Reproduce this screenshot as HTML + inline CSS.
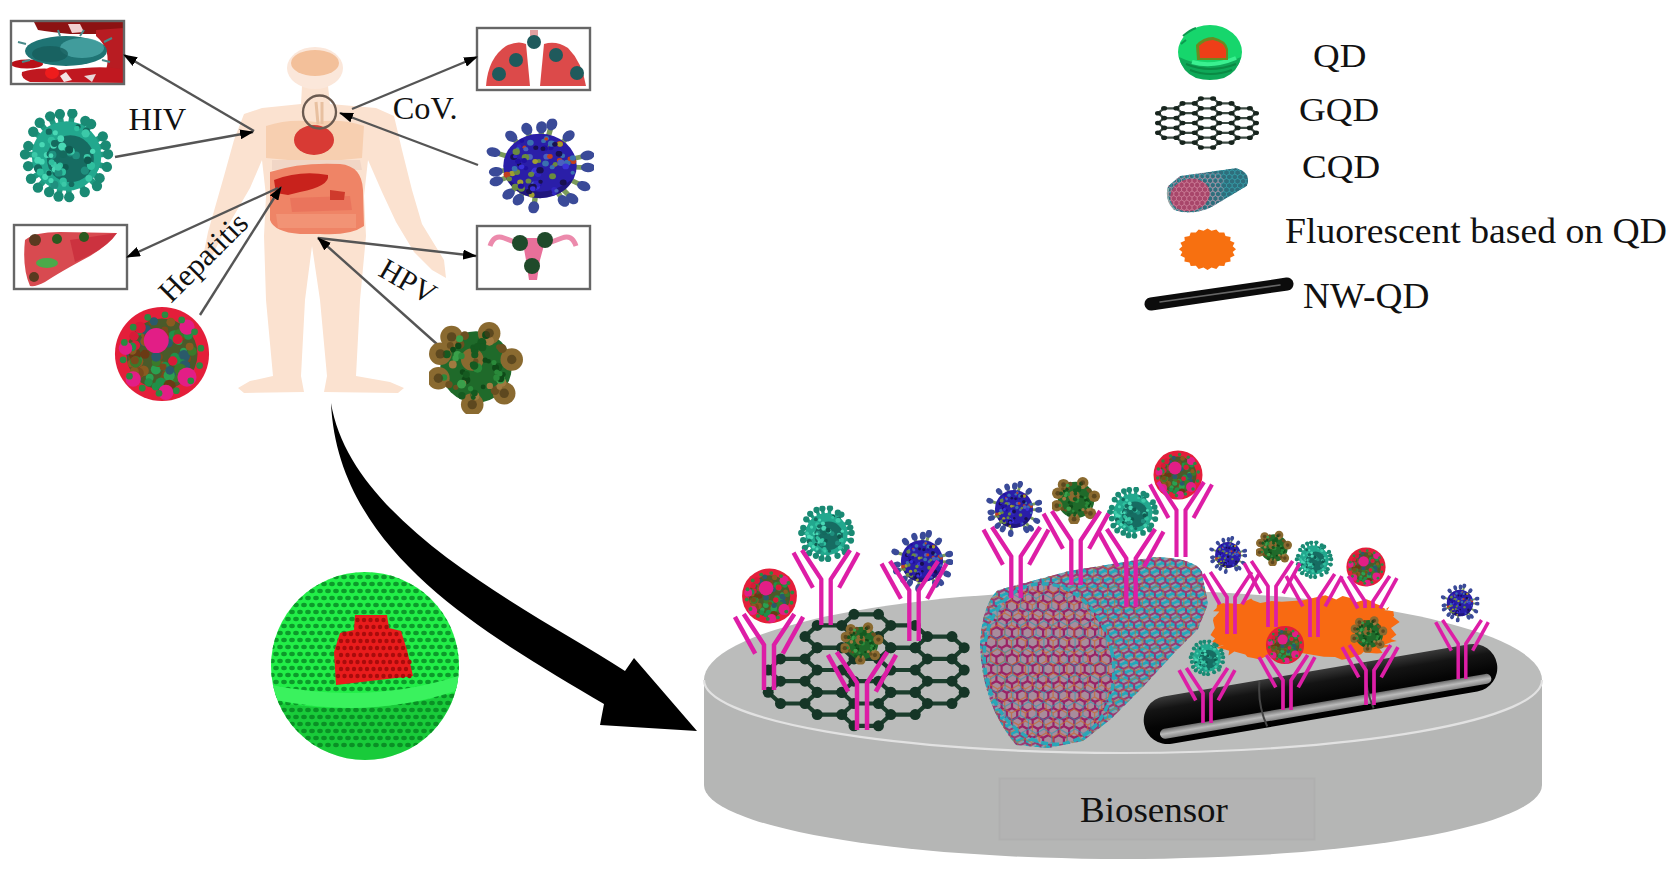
<!DOCTYPE html>
<html><head><meta charset="utf-8"><title>QD Biosensor</title>
<style>html,body{margin:0;padding:0;background:#fff;width:1676px;height:880px;overflow:hidden}svg{display:block}</style>
</head><body><svg width="1676" height="880" viewBox="0 0 1676 880"><defs><symbol id="hiv" viewBox="-50 -50 100 100"><line x1="30.0" y1="-1.3" x2="44.1" y2="-1.9" stroke="#1f9a80" stroke-width="6"/><circle cx="44.1" cy="-1.9" r="5.5" fill="#1a8a74"/><line x1="29.0" y1="7.9" x2="42.9" y2="11.6" stroke="#1f9a80" stroke-width="6"/><circle cx="42.9" cy="11.6" r="5.5" fill="#1a8a74"/><line x1="24.9" y1="16.7" x2="35.1" y2="23.6" stroke="#1f9a80" stroke-width="6"/><circle cx="35.1" cy="23.6" r="5.5" fill="#1a8a74"/><line x1="21.4" y1="21.1" x2="32.3" y2="31.9" stroke="#1f9a80" stroke-width="6"/><circle cx="32.3" cy="31.9" r="5.5" fill="#1a8a74"/><line x1="13.5" y1="26.8" x2="19.3" y2="38.3" stroke="#1f9a80" stroke-width="6"/><circle cx="19.3" cy="38.3" r="5.5" fill="#1a8a74"/><line x1="1.9" y1="29.9" x2="2.8" y2="43.8" stroke="#1f9a80" stroke-width="6"/><circle cx="2.8" cy="43.8" r="5.5" fill="#1a8a74"/><line x1="-5.9" y1="29.4" x2="-8.6" y2="43.1" stroke="#1f9a80" stroke-width="6"/><circle cx="-8.6" cy="43.1" r="5.5" fill="#1a8a74"/><line x1="-13.1" y1="27.0" x2="-18.6" y2="38.3" stroke="#1f9a80" stroke-width="6"/><circle cx="-18.6" cy="38.3" r="5.5" fill="#1a8a74"/><line x1="-20.1" y1="22.2" x2="-30.5" y2="33.7" stroke="#1f9a80" stroke-width="6"/><circle cx="-30.5" cy="33.7" r="5.5" fill="#1a8a74"/><line x1="-25.3" y1="16.1" x2="-37.9" y2="24.2" stroke="#1f9a80" stroke-width="6"/><circle cx="-37.9" cy="24.2" r="5.5" fill="#1a8a74"/><line x1="-29.0" y1="7.7" x2="-40.9" y2="10.8" stroke="#1f9a80" stroke-width="6"/><circle cx="-40.9" cy="10.8" r="5.5" fill="#1a8a74"/><line x1="-30.0" y1="-1.2" x2="-44.3" y2="-1.8" stroke="#1f9a80" stroke-width="6"/><circle cx="-44.3" cy="-1.8" r="5.5" fill="#1a8a74"/><line x1="-29.0" y1="-7.5" x2="-40.8" y2="-10.6" stroke="#1f9a80" stroke-width="6"/><circle cx="-40.8" cy="-10.6" r="5.5" fill="#1a8a74"/><line x1="-24.2" y1="-17.7" x2="-35.5" y2="-25.8" stroke="#1f9a80" stroke-width="6"/><circle cx="-35.5" cy="-25.8" r="5.5" fill="#1a8a74"/><line x1="-18.8" y1="-23.3" x2="-28.6" y2="-35.4" stroke="#1f9a80" stroke-width="6"/><circle cx="-28.6" cy="-35.4" r="5.5" fill="#1a8a74"/><line x1="-11.5" y1="-27.7" x2="-17.5" y2="-42.2" stroke="#1f9a80" stroke-width="6"/><circle cx="-17.5" cy="-42.2" r="5.5" fill="#1a8a74"/><line x1="-4.8" y1="-29.6" x2="-7.2" y2="-44.6" stroke="#1f9a80" stroke-width="6"/><circle cx="-7.2" cy="-44.6" r="5.5" fill="#1a8a74"/><line x1="4.0" y1="-29.7" x2="6.1" y2="-45.3" stroke="#1f9a80" stroke-width="6"/><circle cx="6.1" cy="-45.3" r="5.5" fill="#1a8a74"/><line x1="14.1" y1="-26.5" x2="19.9" y2="-37.4" stroke="#1f9a80" stroke-width="6"/><circle cx="19.9" cy="-37.4" r="5.5" fill="#1a8a74"/><line x1="18.3" y1="-23.8" x2="26.1" y2="-34.0" stroke="#1f9a80" stroke-width="6"/><circle cx="26.1" cy="-34.0" r="5.5" fill="#1a8a74"/><line x1="26.4" y1="-14.3" x2="38.5" y2="-20.8" stroke="#1f9a80" stroke-width="6"/><circle cx="38.5" cy="-20.8" r="5.5" fill="#1a8a74"/><line x1="29.0" y1="-7.9" x2="41.7" y2="-11.3" stroke="#1f9a80" stroke-width="6"/><circle cx="41.7" cy="-11.3" r="5.5" fill="#1a8a74"/><circle r="37" fill="#22a88e"/><circle cx="4" cy="3" r="25" fill="#166c62"/><circle cx="-21.1" cy="-1.0" r="3.2" fill="#49d8b5"/><circle cx="-13.7" cy="9.0" r="3.2" fill="#3cc9a8"/><circle cx="21.0" cy="-26.6" r="3.8" fill="#146a5e"/><circle cx="-6.2" cy="-18.4" r="3.6" fill="#49d8b5"/><circle cx="-26.1" cy="-12.1" r="2.9" fill="#49d8b5"/><circle cx="-1.3" cy="11.9" r="3.5" fill="#0f5a50"/><circle cx="10.1" cy="-0.6" r="4.1" fill="#1f8f7e"/><circle cx="3.8" cy="-2.9" r="3.4" fill="#1f8f7e"/><circle cx="5.0" cy="-5.1" r="3.7" fill="#3cc9a8"/><circle cx="-18.7" cy="18.1" r="3.6" fill="#2fbf9e"/><circle cx="-34.0" cy="-1.2" r="3.1" fill="#3cc9a8"/><circle cx="19.4" cy="15.6" r="4.4" fill="#1f8f7e"/><circle cx="-4.5" cy="16.9" r="3.9" fill="#2fbf9e"/><circle cx="-13.0" cy="30.6" r="4.3" fill="#1f8f7e"/><circle cx="-22.7" cy="22.2" r="3.3" fill="#49d8b5"/><circle cx="-4.6" cy="-9.9" r="4.4" fill="#49d8b5"/><circle cx="-3.6" cy="26.8" r="3.9" fill="#2fbf9e"/><circle cx="-16.0" cy="6.6" r="3.1" fill="#2fbf9e"/><circle cx="21.9" cy="1.6" r="3.7" fill="#3cc9a8"/><circle cx="-18.6" cy="18.3" r="2.8" fill="#0f5a50"/><circle cx="-16.2" cy="-16.7" r="3.9" fill="#2fbf9e"/><circle cx="-13.9" cy="-11.3" r="3.5" fill="#49d8b5"/><circle cx="26.0" cy="10.4" r="4.4" fill="#2fbf9e"/><circle cx="-12.9" cy="-13.4" r="3.7" fill="#146a5e"/><circle cx="-12.5" cy="14.3" r="3.2" fill="#49d8b5"/><circle cx="-2.7" cy="30.0" r="2.7" fill="#3cc9a8"/><circle cx="27.7" cy="-5.0" r="2.8" fill="#49d8b5"/><circle cx="5.2" cy="30.0" r="3.0" fill="#146a5e"/><circle cx="-12.0" cy="-24.7" r="2.7" fill="#49d8b5"/><circle cx="-8.6" cy="17.7" r="4.2" fill="#1f8f7e"/><circle cx="12.2" cy="-31.0" r="2.7" fill="#0f5a50"/><circle cx="-18.8" cy="-25.9" r="3.4" fill="#146a5e"/><circle cx="1.4" cy="-6.1" r="4.4" fill="#2fbf9e"/><circle cx="10.9" cy="-29.2" r="2.9" fill="#2fbf9e"/><circle cx="-16.6" cy="26.1" r="2.7" fill="#49d8b5"/><circle cx="-6.9" cy="10.1" r="3.1" fill="#2fbf9e"/><circle cx="-26.4" cy="6.0" r="3.1" fill="#49d8b5"/><circle cx="-27.5" cy="17.6" r="2.8" fill="#3cc9a8"/><circle cx="-30.7" cy="4.4" r="3.7" fill="#49d8b5"/><circle cx="-30.4" cy="13.3" r="4.4" fill="#146a5e"/><circle cx="22.5" cy="4.6" r="4.0" fill="#0f5a50"/><circle cx="-18.1" cy="-2.2" r="3.2" fill="#146a5e"/><circle cx="20.3" cy="-24.1" r="4.4" fill="#3cc9a8"/><circle cx="2.7" cy="-6.7" r="4.3" fill="#0f5a50"/><circle cx="-15.1" cy="-1.2" r="4.3" fill="#1f8f7e"/><circle cx="-3.5" cy="-1.8" r="4.0" fill="#146a5e"/><circle cx="-16.6" cy="-0.3" r="2.5" fill="#49d8b5"/><circle cx="-28.2" cy="17.0" r="3.7" fill="#2fbf9e"/><circle cx="23.6" cy="23.8" r="3.6" fill="#3cc9a8"/><circle cx="-9.0" cy="12.1" r="3.6" fill="#3cc9a8"/></symbol><symbol id="sars" viewBox="-50 -50 100 100"><line x1="30.0" y1="1.1" x2="44.4" y2="1.6" stroke="#7a9a5a" stroke-width="5"/><ellipse cx="44.4" cy="1.6" rx="6.5" ry="5" fill="#3a4a98" transform="rotate(2 44.4 1.6)"/><line x1="26.6" y1="13.9" x2="40.5" y2="21.1" stroke="#7a9a5a" stroke-width="5"/><ellipse cx="40.5" cy="21.1" rx="6.5" ry="5" fill="#3a4a98" transform="rotate(28 40.5 21.1)"/><line x1="19.6" y1="22.7" x2="29.8" y2="34.4" stroke="#7a9a5a" stroke-width="5"/><ellipse cx="29.8" cy="34.4" rx="6.5" ry="5" fill="#3a4a98" transform="rotate(49 29.8 34.4)"/><line x1="15.3" y1="25.8" x2="21.8" y2="36.8" stroke="#7a9a5a" stroke-width="5"/><ellipse cx="21.8" cy="36.8" rx="6.5" ry="5" fill="#3a4a98" transform="rotate(59 21.8 36.8)"/><line x1="-4.0" y1="29.7" x2="-5.8" y2="43.5" stroke="#7a9a5a" stroke-width="5"/><ellipse cx="-5.8" cy="43.5" rx="6.5" ry="5" fill="#3a4a98" transform="rotate(98 -5.8 43.5)"/><line x1="-14.7" y1="26.1" x2="-20.0" y2="35.4" stroke="#7a9a5a" stroke-width="5"/><ellipse cx="-20.0" cy="35.4" rx="6.5" ry="5" fill="#3a4a98" transform="rotate(119 -20.0 35.4)"/><line x1="-21.0" y1="21.4" x2="-29.1" y2="29.6" stroke="#7a9a5a" stroke-width="5"/><ellipse cx="-29.1" cy="29.6" rx="6.5" ry="5" fill="#3a4a98" transform="rotate(134 -29.1 29.6)"/><line x1="-27.9" y1="11.1" x2="-40.4" y2="16.1" stroke="#7a9a5a" stroke-width="5"/><ellipse cx="-40.4" cy="16.1" rx="6.5" ry="5" fill="#3a4a98" transform="rotate(158 -40.4 16.1)"/><line x1="-29.7" y1="4.4" x2="-40.9" y2="6.0" stroke="#7a9a5a" stroke-width="5"/><ellipse cx="-40.9" cy="6.0" rx="6.5" ry="5" fill="#3a4a98" transform="rotate(172 -40.9 6.0)"/><line x1="-28.4" y1="-9.6" x2="-43.1" y2="-14.6" stroke="#7a9a5a" stroke-width="5"/><ellipse cx="-43.1" cy="-14.6" rx="6.5" ry="5" fill="#3a4a98" transform="rotate(199 -43.1 -14.6)"/><line x1="-19.5" y1="-22.8" x2="-26.6" y2="-31.2" stroke="#7a9a5a" stroke-width="5"/><ellipse cx="-26.6" cy="-31.2" rx="6.5" ry="5" fill="#3a4a98" transform="rotate(230 -26.6 -31.2)"/><line x1="-9.0" y1="-28.6" x2="-12.2" y2="-39.0" stroke="#7a9a5a" stroke-width="5"/><ellipse cx="-12.2" cy="-39.0" rx="6.5" ry="5" fill="#3a4a98" transform="rotate(253 -12.2 -39.0)"/><line x1="1.1" y1="-30.0" x2="1.4" y2="-40.7" stroke="#7a9a5a" stroke-width="5"/><ellipse cx="1.4" cy="-40.7" rx="6.5" ry="5" fill="#3a4a98" transform="rotate(272 1.4 -40.7)"/><line x1="7.2" y1="-29.1" x2="10.9" y2="-43.9" stroke="#7a9a5a" stroke-width="5"/><ellipse cx="10.9" cy="-43.9" rx="6.5" ry="5" fill="#3a4a98" transform="rotate(284 10.9 -43.9)"/><line x1="19.3" y1="-23.0" x2="26.5" y2="-31.6" stroke="#7a9a5a" stroke-width="5"/><ellipse cx="26.5" cy="-31.6" rx="6.5" ry="5" fill="#3a4a98" transform="rotate(310 26.5 -31.6)"/><line x1="29.1" y1="-7.4" x2="43.9" y2="-11.1" stroke="#7a9a5a" stroke-width="5"/><ellipse cx="43.9" cy="-11.1" rx="6.5" ry="5" fill="#3a4a98" transform="rotate(346 43.9 -11.1)"/><circle r="34" fill="#2a1ea8"/><path d="M-30,14 Q0,40 30,14 Q26,30 0,34 Q-24,32 -30,14 Z" fill="#1a1060" opacity="0.6"/><circle cx="-7.7" cy="30.4" r="2.7" fill="#a0a030"/><circle cx="13.1" cy="28.6" r="2.1" fill="#3024c0"/><circle cx="-5.8" cy="18.3" r="2.1" fill="#4a60c0"/><circle cx="-1.6" cy="18.4" r="3.2" fill="#2010a0"/><circle cx="-22.2" cy="-15.3" r="1.9" fill="#3a70b0"/><circle cx="9.3" cy="-20.2" r="2.3" fill="#6a8a40"/><circle cx="-13.2" cy="2.3" r="2.2" fill="#2010a0"/><circle cx="18.2" cy="-6.0" r="2.5" fill="#c04020"/><circle cx="4.5" cy="-18.8" r="2.8" fill="#2010a0"/><circle cx="-25.7" cy="7.9" r="2.9" fill="#a0a030"/><circle cx="11.6" cy="10.8" r="3.2" fill="#6a8a40"/><circle cx="-10.7" cy="15.8" r="2.7" fill="#6a8a40"/><circle cx="21.5" cy="17.4" r="3.2" fill="#181050"/><circle cx="30.3" cy="7.1" r="2.0" fill="#3a70b0"/><circle cx="-19.2" cy="-1.6" r="2.1" fill="#181050"/><circle cx="21.0" cy="-10.8" r="2.3" fill="#3a70b0"/><circle cx="-9.9" cy="26.8" r="2.9" fill="#181050"/><circle cx="12.9" cy="-0.3" r="1.9" fill="#c04020"/><circle cx="5.1" cy="-2.6" r="3.1" fill="#3a70b0"/><circle cx="10.0" cy="-19.2" r="2.5" fill="#2010a0"/><circle cx="25.3" cy="-3.4" r="3.2" fill="#3a70b0"/><circle cx="6.1" cy="-9.8" r="3.0" fill="#4a60c0"/><circle cx="-19.4" cy="-20.8" r="2.0" fill="#3024c0"/><circle cx="-5.4" cy="5.6" r="2.5" fill="#4a60c0"/><circle cx="-30.6" cy="9.3" r="3.2" fill="#c04020"/><circle cx="-21.4" cy="6.4" r="3.0" fill="#6a8a40"/><circle cx="-3.3" cy="21.7" r="3.3" fill="#3a30d8"/><circle cx="-22.8" cy="22.2" r="3.4" fill="#6a8a40"/><circle cx="9.2" cy="-10.0" r="2.6" fill="#c04020"/><circle cx="6.0" cy="-29.2" r="2.4" fill="#3a70b0"/><circle cx="-8.9" cy="-24.5" r="3.1" fill="#3a70b0"/><circle cx="-24.4" cy="-9.5" r="3.2" fill="#181050"/><circle cx="3.3" cy="-26.4" r="2.3" fill="#3a70b0"/><circle cx="-14.4" cy="-19.7" r="1.8" fill="#c04020"/><circle cx="2.7" cy="-18.1" r="2.3" fill="#181050"/><circle cx="10.5" cy="-23.5" r="3.2" fill="#3a70b0"/><circle cx="-2.8" cy="18.6" r="3.4" fill="#3024c0"/><circle cx="-17.3" cy="23.8" r="3.3" fill="#6a8a40"/><circle cx="30.9" cy="-4.7" r="2.7" fill="#c04020"/><circle cx="14.2" cy="-1.8" r="2.4" fill="#6a8a40"/><circle cx="-1.8" cy="8.8" r="2.9" fill="#3024c0"/><circle cx="13.3" cy="24.9" r="2.8" fill="#3024c0"/><circle cx="-7.7" cy="22.5" r="3.3" fill="#181050"/><circle cx="-1.0" cy="-5.2" r="2.1" fill="#6a8a40"/><circle cx="-9.7" cy="-9.6" r="3.1" fill="#4a60c0"/><circle cx="-4.5" cy="-4.8" r="2.6" fill="#a0a030"/><circle cx="15.3" cy="26.1" r="2.0" fill="#4a60c0"/><circle cx="-23.6" cy="2.6" r="2.5" fill="#3a70b0"/><circle cx="-18.3" cy="17.1" r="2.8" fill="#a0a030"/><circle cx="-3.9" cy="-19.2" r="2.4" fill="#181050"/><circle cx="18.4" cy="-23.4" r="3.0" fill="#c04020"/><circle cx="-4.3" cy="4.3" r="2.8" fill="#3a30d8"/><circle cx="-6.4" cy="22.0" r="3.4" fill="#181050"/><circle cx="28.0" cy="-7.5" r="2.5" fill="#c04020"/><circle cx="-8.2" cy="8.8" r="2.8" fill="#6a8a40"/><circle cx="30.4" cy="-8.4" r="2.8" fill="#3a70b0"/><circle cx="11.3" cy="-23.5" r="2.4" fill="#3a70b0"/><circle cx="-23.0" cy="-10.1" r="2.0" fill="#3024c0"/><circle cx="-28.5" cy="13.6" r="2.6" fill="#6a8a40"/><circle cx="19.4" cy="-3.4" r="3.4" fill="#4a60c0"/><circle cx="-13.4" cy="-9.2" r="3.5" fill="#6a8a40"/><circle cx="-0.0" cy="4.5" r="3.4" fill="#181050"/><circle cx="-17.1" cy="0.9" r="2.6" fill="#3a30d8"/><circle cx="-16.8" cy="-26.5" r="2.2" fill="#2010a0"/><circle cx="5.8" cy="-28.5" r="1.8" fill="#c04020"/><circle cx="-14.7" cy="-5.8" r="2.6" fill="#2010a0"/><circle cx="0.5" cy="16.6" r="2.1" fill="#181050"/><circle cx="-6.7" cy="24.0" r="2.6" fill="#3a30d8"/><circle cx="11.3" cy="1.2" r="2.3" fill="#3a70b0"/><circle cx="-20.7" cy="-17.9" r="1.8" fill="#3a70b0"/><circle cx="-17.7" cy="21.2" r="2.8" fill="#2010a0"/><circle cx="23.8" cy="0.4" r="3.0" fill="#3a30d8"/><circle cx="18.0" cy="-15.3" r="1.8" fill="#3024c0"/><circle cx="-22.0" cy="-14.9" r="3.4" fill="#6a8a40"/><circle cx="18.5" cy="-22.8" r="2.6" fill="#a0a030"/><circle cx="17.6" cy="-12.9" r="3.1" fill="#181050"/><circle cx="13.8" cy="-22.8" r="2.5" fill="#181050"/><circle cx="-13.1" cy="-17.7" r="2.3" fill="#4a60c0"/><circle cx="-23.5" cy="3.2" r="2.6" fill="#3a70b0"/><circle cx="-20.3" cy="-4.9" r="2.7" fill="#2010a0"/></symbol><symbol id="hep" viewBox="-50 -50 100 100"><circle r="49" fill="#e41e3a"/><circle r="37" fill="#4a5a2a"/><circle cx="-25.7" cy="7.9" r="6.3" fill="#8a5a20"/><circle cx="-31.8" cy="9.9" r="4.1" fill="#8a5a20"/><circle cx="-22.0" cy="-23.4" r="3.8" fill="#6a3a14"/><circle cx="16.6" cy="20.5" r="6.2" fill="#1f9048"/><circle cx="-18.7" cy="-12.8" r="4.9" fill="#2a5a6a"/><circle cx="-23.5" cy="-22.9" r="3.7" fill="#1f9048"/><circle cx="6.5" cy="16.5" r="3.6" fill="#8a5a20"/><circle cx="-12.8" cy="24.6" r="4.1" fill="#2aa050"/><circle cx="-16.2" cy="-19.6" r="5.5" fill="#8a5a20"/><circle cx="-12.9" cy="-19.0" r="5.2" fill="#7a4a1c"/><circle cx="-5.3" cy="-19.5" r="4.2" fill="#6a3a14"/><circle cx="26.5" cy="5.0" r="3.8" fill="#7a4a1c"/><circle cx="12.8" cy="-18.4" r="6.4" fill="#1f9048"/><circle cx="7.9" cy="33.8" r="3.7" fill="#3a7a2a"/><circle cx="22.5" cy="-2.8" r="3.7" fill="#2aa050"/><circle cx="3.3" cy="-18.4" r="3.8" fill="#d81a38"/><circle cx="22.9" cy="2.2" r="6.3" fill="#2a5a6a"/><circle cx="0.3" cy="11.4" r="3.7" fill="#8a5a20"/><circle cx="11.8" cy="24.2" r="4.8" fill="#2aa050"/><circle cx="31.4" cy="-2.9" r="4.8" fill="#3a7a2a"/><circle cx="17.4" cy="15.6" r="4.1" fill="#6a3a14"/><circle cx="23.4" cy="-26.8" r="5.3" fill="#1f9048"/><circle cx="5.5" cy="21.9" r="6.1" fill="#7a4a1c"/><circle cx="13.3" cy="3.6" r="4.8" fill="#1f9048"/><circle cx="2.9" cy="-20.4" r="4.4" fill="#7a4a1c"/><circle cx="14.7" cy="7.4" r="5.4" fill="#1f9048"/><circle cx="-17.7" cy="-13.0" r="4.9" fill="#8a5a20"/><circle cx="6.6" cy="-11.5" r="4.7" fill="#2a5a6a"/><circle cx="-6.4" cy="16.0" r="5.3" fill="#2aa050"/><circle cx="15.5" cy="24.0" r="5.2" fill="#3a7a2a"/><circle cx="20.6" cy="-18.9" r="4.8" fill="#7a4a1c"/><circle cx="20.0" cy="16.3" r="4.3" fill="#3a7a2a"/><circle cx="-1.4" cy="32.6" r="5.3" fill="#6a3a14"/><circle cx="-34.4" cy="-4.4" r="6.4" fill="#2a5a6a"/><circle cx="3.6" cy="26.7" r="6.1" fill="#7a4a1c"/><circle cx="-6.5" cy="33.9" r="4.1" fill="#1f9048"/><circle cx="20.9" cy="9.7" r="4.2" fill="#1f9048"/><circle cx="9.8" cy="19.6" r="5.2" fill="#2a5a6a"/><circle cx="11.2" cy="7.3" r="4.9" fill="#d81a38"/><circle cx="-16.5" cy="-25.0" r="5.3" fill="#2a5a6a"/><circle cx="-29.2" cy="-18.5" r="4.9" fill="#d81a38"/><circle cx="-10.7" cy="-33.7" r="3.6" fill="#7a4a1c"/><circle cx="-30.6" cy="3.4" r="4.5" fill="#7a4a1c"/><circle cx="23.7" cy="12.1" r="5.7" fill="#2a5a6a"/><circle cx="9.2" cy="-33.2" r="4.6" fill="#8a5a20"/><circle cx="27.3" cy="-19.6" r="4.8" fill="#1f9048"/><circle cx="17.8" cy="-20.6" r="5.4" fill="#3a7a2a"/><circle cx="-2.9" cy="2.8" r="3.7" fill="#7a4a1c"/><circle cx="-23.0" cy="-27.6" r="6.1" fill="#d81a38"/><circle cx="-23.6" cy="19.9" r="5.2" fill="#8a5a20"/><circle cx="-25.8" cy="6.2" r="5.1" fill="#1f9048"/><circle cx="-3.9" cy="9.9" r="3.6" fill="#7a4a1c"/><circle cx="-28.2" cy="0.5" r="6.3" fill="#6a3a14"/><circle cx="17.4" cy="-13.2" r="3.9" fill="#2aa050"/><circle cx="-31.0" cy="-3.6" r="4.5" fill="#8a5a20"/><circle cx="-17.7" cy="0.2" r="4.7" fill="#6a3a14"/><circle cx="7.5" cy="22.4" r="5.9" fill="#2aa050"/><circle cx="16.3" cy="-15.3" r="5.2" fill="#d81a38"/><circle cx="3.3" cy="12.8" r="4.6" fill="#1f9048"/><circle cx="-8.5" cy="-34.1" r="4.3" fill="#2a5a6a"/><circle cx="18.8" cy="16.1" r="6.3" fill="#3a7a2a"/><circle cx="-19.2" cy="17.5" r="5.5" fill="#8a5a20"/><circle cx="-14.0" cy="29.6" r="4.3" fill="#1f9048"/><circle cx="-8.3" cy="-17.2" r="4.6" fill="#1f9048"/><circle cx="-14.5" cy="-17.7" r="4.1" fill="#6a3a14"/><circle cx="1.1" cy="13.5" r="3.6" fill="#7a4a1c"/><circle cx="-27.0" cy="9.4" r="5.5" fill="#d81a38"/><circle cx="28.8" cy="-7.7" r="4.1" fill="#8a5a20"/><circle cx="-1.2" cy="30.4" r="5.8" fill="#1f9048"/><circle cx="8.1" cy="17.0" r="4.5" fill="#2a5a6a"/><circle cx="-25.1" cy="19.9" r="6.2" fill="#7a4a1c"/><circle cx="-28.8" cy="18.1" r="4.7" fill="#8a5a20"/><circle cx="-27.3" cy="8.2" r="6.2" fill="#3a7a2a"/><circle cx="-27.7" cy="-9.0" r="5.0" fill="#d81a38"/><circle cx="-28.3" cy="6.6" r="4.1" fill="#7a4a1c"/><circle cx="7.8" cy="33.2" r="6.4" fill="#6a3a14"/><circle cx="-31.2" cy="-7.4" r="4.5" fill="#1f9048"/><circle cx="-6.0" cy="8.4" r="4.8" fill="#3a7a2a"/><circle cx="2.9" cy="-25.0" r="3.6" fill="#7a4a1c"/><circle cx="-6.1" cy="2.9" r="5.1" fill="#2a5a6a"/><circle cx="-6" cy="-14" r="13" fill="#e21e86"/><circle cx="26" cy="24" r="10" fill="#e21e86"/><circle cx="-30" cy="26" r="8" fill="#e21e86"/><circle cx="26" cy="-28" r="8" fill="#e21e86"/><circle cx="-38" cy="-6" r="7" fill="#e21e86"/><circle cx="4" cy="40" r="8" fill="#e21e86"/><circle cx="39.2" cy="12.1" r="3.5" fill="#2a8a40"/><circle cx="30.0" cy="27.9" r="3.5" fill="#2a8a40"/><circle cx="14.9" cy="38.2" r="3.5" fill="#2a8a40"/><circle cx="-3.1" cy="40.9" r="3.5" fill="#2a8a40"/><circle cx="-20.5" cy="35.5" r="3.5" fill="#2a8a40"/><circle cx="-33.9" cy="23.1" r="3.5" fill="#2a8a40"/><circle cx="-40.5" cy="6.1" r="3.5" fill="#2a8a40"/><circle cx="-39.2" cy="-12.1" r="3.5" fill="#2a8a40"/><circle cx="-30.0" cy="-27.9" r="3.5" fill="#2a8a40"/><circle cx="-14.9" cy="-38.2" r="3.5" fill="#2a8a40"/><circle cx="3.1" cy="-40.9" r="3.5" fill="#2a8a40"/><circle cx="20.5" cy="-35.5" r="3.5" fill="#2a8a40"/><circle cx="33.9" cy="-23.1" r="3.5" fill="#2a8a40"/><circle cx="40.5" cy="-6.1" r="3.5" fill="#2a8a40"/></symbol><symbol id="hpv" viewBox="-50 -50 100 100"><circle r="38" fill="#1f6a2a"/><circle cx="-26" cy="-32" r="12" fill="#8a6a30"/><circle cx="14" cy="-36" r="12" fill="#8a6a30"/><circle cx="38" cy="-8" r="12" fill="#8a6a30"/><circle cx="30" cy="28" r="12" fill="#8a6a30"/><circle cx="-4" cy="40" r="12" fill="#8a6a30"/><circle cx="-40" cy="12" r="12" fill="#8a6a30"/><circle cx="-38" cy="-14" r="12" fill="#8a6a30"/><circle cx="-4" cy="-8" r="12" fill="#8a6a30"/><circle cx="-1.7" cy="29.8" r="4.2" fill="#155a20"/><circle cx="-17.0" cy="-24.0" r="4.7" fill="#6a5020"/><circle cx="-1.3" cy="-12.9" r="3.8" fill="#155a20"/><circle cx="-0.2" cy="-6.2" r="2.8" fill="#6a5020"/><circle cx="-3.4" cy="-2.7" r="3.2" fill="#155a20"/><circle cx="27.6" cy="16.3" r="4.7" fill="#a07a40"/><circle cx="14.3" cy="-27.6" r="4.9" fill="#a07a40"/><circle cx="-10.7" cy="13.7" r="4.7" fill="#0f4a18"/><circle cx="-21.7" cy="-9.3" r="3.4" fill="#3aa04a"/><circle cx="-18.8" cy="-22.3" r="3.4" fill="#0f4a18"/><circle cx="10.7" cy="-34.1" r="4.2" fill="#0f4a18"/><circle cx="-27.4" cy="-23.0" r="3.6" fill="#6a5020"/><circle cx="-14.2" cy="5.3" r="3.0" fill="#0f4a18"/><circle cx="-13.6" cy="17.2" r="3.2" fill="#a07a40"/><circle cx="-10.3" cy="7.9" r="3.7" fill="#155a20"/><circle cx="-31.1" cy="-13.5" r="4.3" fill="#155a20"/><circle cx="26.0" cy="12.9" r="4.9" fill="#3aa04a"/><circle cx="23.4" cy="0.3" r="4.7" fill="#155a20"/><circle cx="20.3" cy="25.1" r="4.6" fill="#6a5020"/><circle cx="-0.7" cy="30.8" r="4.3" fill="#a07a40"/><circle cx="24.4" cy="-21.2" r="3.0" fill="#6a5020"/><circle cx="-21.5" cy="21.6" r="2.8" fill="#6a5020"/><circle cx="-24.4" cy="-18.5" r="3.0" fill="#0f4a18"/><circle cx="29.1" cy="8.0" r="2.6" fill="#0f4a18"/><circle cx="-2.9" cy="-20.8" r="3.2" fill="#155a20"/><circle cx="6.2" cy="-26.1" r="4.8" fill="#155a20"/><circle cx="26.2" cy="12.2" r="3.9" fill="#0f4a18"/><circle cx="-12.0" cy="-33.4" r="4.6" fill="#6a5020"/><circle cx="1.6" cy="1.1" r="5.0" fill="#2a8a3a"/><circle cx="-28.7" cy="18.7" r="3.9" fill="#6a5020"/><circle cx="21.8" cy="11.5" r="3.4" fill="#2a8a3a"/><circle cx="20.8" cy="0.7" r="3.7" fill="#0f4a18"/><circle cx="-24.7" cy="-2.6" r="4.2" fill="#a07a40"/><circle cx="6.7" cy="-21.0" r="4.3" fill="#155a20"/><circle cx="-1.3" cy="-18.2" r="4.2" fill="#155a20"/><circle cx="-1.5" cy="27.6" r="3.4" fill="#155a20"/><circle cx="-19.7" cy="-12.9" r="4.1" fill="#3aa04a"/><circle cx="22.1" cy="5.4" r="2.7" fill="#2a8a3a"/><circle cx="-1.9" cy="-1.4" r="4.4" fill="#155a20"/><circle cx="-34.1" cy="11.2" r="3.5" fill="#2a8a3a"/><circle cx="-5.8" cy="23.0" r="2.8" fill="#2a8a3a"/><circle cx="24.9" cy="21.1" r="3.0" fill="#a07a40"/><circle cx="-15.5" cy="-11.7" r="3.4" fill="#2a8a3a"/><circle cx="-15.4" cy="18.3" r="4.7" fill="#3aa04a"/><circle cx="25.4" cy="7.1" r="2.8" fill="#2a8a3a"/><circle cx="-15.0" cy="30.5" r="3.9" fill="#155a20"/><circle cx="27.8" cy="-19.6" r="4.8" fill="#6a5020"/><circle cx="14.7" cy="20.1" r="3.4" fill="#a07a40"/><circle cx="-2.9" cy="32.5" r="2.6" fill="#155a20"/><circle cx="-17.4" cy="-30.1" r="3.8" fill="#3aa04a"/><circle cx="7.6" cy="21.2" r="2.6" fill="#0f4a18"/><circle cx="9.8" cy="-7.3" r="2.8" fill="#0f4a18"/><circle cx="1.4" cy="-21.9" r="3.5" fill="#155a20"/><circle cx="19.1" cy="-4.7" r="2.7" fill="#2a8a3a"/><circle cx="13.4" cy="-6.1" r="2.5" fill="#0f4a18"/><circle cx="-26" cy="-32" r="5" fill="#4a3a18" opacity="0.7"/><circle cx="14" cy="-36" r="5" fill="#4a3a18" opacity="0.7"/><circle cx="38" cy="-8" r="5" fill="#4a3a18" opacity="0.7"/><circle cx="30" cy="28" r="5" fill="#4a3a18" opacity="0.7"/><circle cx="-4" cy="40" r="5" fill="#4a3a18" opacity="0.7"/><circle cx="-40" cy="12" r="5" fill="#4a3a18" opacity="0.7"/><circle cx="-38" cy="-14" r="5" fill="#4a3a18" opacity="0.7"/></symbol><marker id="ah" viewBox="0 0 14 10" refX="13" refY="5" markerWidth="14" markerHeight="10" markerUnits="userSpaceOnUse" orient="auto"><path d="M0,0 L14,5 L0,10 z" fill="#000"/></marker><linearGradient id="nwg" x1="0" y1="0" x2="0" y2="1"><stop offset="0" stop-color="#3a3a3a"/><stop offset="0.25" stop-color="#141414"/><stop offset="0.6" stop-color="#050505"/><stop offset="1" stop-color="#000"/></linearGradient><linearGradient id="nwr" x1="0" y1="0" x2="0" y2="1"><stop offset="0" stop-color="#707070"/><stop offset="0.5" stop-color="#c4c4c4"/><stop offset="1" stop-color="#8a8a8a"/></linearGradient></defs><rect width="1676" height="880" fill="#fff"/><g id="body">
 <path fill="#fbe2d0" d="M302,86 L301,104 L262,108 L244,114 L234,140 L224,176 L216,204 L208,232 L204,252 L212,256 L222,236 L236,212 L250,188 L262,160 L266,196 L264,236 L266,300 L273,376 L250,381 L238,388 L244,393 L304,392 L301,376 L305,300 L312,246 L320,300 L327,376 L324,392 L398,393 L404,388 L390,382 L356,376 L360,300 L366,236 L364,196 L368,160 L382,192 L396,222 L414,252 L432,270 L446,278 L444,260 L422,224 L412,190 L402,150 L394,116 L376,108 L330,104 L328,86 Z"/>
 <ellipse cx="315" cy="68" rx="28" ry="21" fill="#fbe7da"/>
 <ellipse cx="315" cy="63" rx="24" ry="13" fill="#f3c09a"/>
 <path fill="#f7cfb0" d="M266,126 Q290,118 316,122 Q342,118 364,126 L362,158 Q316,164 266,158 Z"/>
 <path fill="#f1d6c6" d="M272,160 L360,160 L362,170 L272,170 Z"/>
 <ellipse cx="314" cy="140" rx="20" ry="15" fill="#d83a34"/>
 <path fill="#ef8466" d="M270,172 Q300,162 340,164 Q362,166 363,190 L364,226 Q350,236 320,234 L300,234 Q274,232 270,220 Z"/>
 <path fill="#e9705a" d="M290,198 L350,196 L352,210 L292,212 Z" opacity="0.8"/>
 <path fill="#f39a7c" d="M276,214 L356,214 L356,228 L278,228 Z" opacity="0.7"/>
 <path fill="#c8221c" d="M274,180 Q300,170 328,175 Q330,186 300,192 L288,195 L276,193 Z"/>
 <path fill="#cf3a2c" d="M330,190 L345,192 L344,200 L330,200 Z"/>
 <circle cx="319.5" cy="112" r="16.5" fill="none" stroke="#6a5a50" stroke-width="2.3"/>
 <path d="M316,102 L318,124 M322,102 L322,124" stroke="#e8c0a0" stroke-width="3"/>
</g><g>
<path fill="#8c1212" d="M34,22 L124,22 L124,36 Q110,32 96,34 L70,34 Q50,32 38,30 Z"/>
<path fill="#b81c22" d="M96,30 L124,28 L124,72 L106,70 Q112,50 96,36 Z"/>
<path fill="#f2d0d0" d="M68,24 L80,24 L84,32 L72,33 Z"/>
<ellipse cx="27" cy="64" rx="16" ry="4.5" fill="#b81018"/>
<path fill="#c01820" d="M22,72 Q40,66 60,70 L84,68 Q110,66 124,70 L124,83 L30,82 Q20,78 22,72 Z"/>
<ellipse cx="52" cy="73" rx="7" ry="6" fill="#ee1c1c"/>
<path fill="#f4e4e4" d="M60,76 L66,72 L72,80 L64,82 Z"/>
<path fill="#e8d8d8" d="M84,76 L96,74 L92,82 Z"/>
<ellipse cx="66" cy="51" rx="41" ry="15" fill="#1f7474"/>
<ellipse cx="82" cy="48" rx="22" ry="10" fill="#4aa6a6" opacity="0.8"/>
<ellipse cx="50" cy="54" rx="18" ry="8" fill="#175e5c" opacity="0.8"/>
<path d="M26,44 L18,42 M30,60 L22,62 M104,42 L112,38 M102,60 L110,62 M60,36 L58,30 M80,36 L84,30" stroke="#4a8a8a" stroke-width="2"/>
<rect x="11" y="21" width="113" height="63" fill="none" stroke="#666" stroke-width="2.4"/></g><g>
<path fill="#dc4a4a" d="M486,86 Q488,58 506,46 Q518,40 526,44 L530,86 Z"/>
<path fill="#dc4a4a" d="M540,86 L544,44 Q556,40 568,48 Q582,62 586,86 Z"/>
<rect x="530" y="30" width="8" height="16" fill="#e2a0a0"/>
<circle cx="534" cy="42" r="7" fill="#1f5a5c"/>
<circle cx="516" cy="60" r="7" fill="#1f5a5c"/>
<circle cx="499" cy="74" r="7" fill="#1f5a5c"/>
<circle cx="556" cy="55" r="7" fill="#1f5a5c"/>
<circle cx="577" cy="73" r="7" fill="#1f5a5c"/>
<rect x="477" y="28" width="113" height="62" fill="none" stroke="#666" stroke-width="2.4"/></g><g>
<path fill="#d84a50" d="M25,240 Q34,232 60,232 L117,233 Q110,244 90,256 Q60,272 45,282 Q36,287 30,286 Q22,268 25,240 Z"/>
<path fill="#c82838" d="M70,240 L117,233 Q105,250 75,262 Z" opacity="0.7"/>
<circle cx="35" cy="240" r="6" fill="#5a3a20"/>
<circle cx="57" cy="239" r="5" fill="#2a5a20"/>
<circle cx="84" cy="237" r="5" fill="#2a5a20"/>
<ellipse cx="47" cy="263" rx="11" ry="5" fill="#4aaa4a"/>
<circle cx="34" cy="277" r="5" fill="#5a3a20"/>
<rect x="14" y="225" width="113" height="64" fill="none" stroke="#666" stroke-width="2.4"/></g><g>
<path d="M490,246 Q494,234 504,238 L520,244" fill="none" stroke="#ec8aac" stroke-width="5"/>
<path d="M576,246 Q572,234 562,238 L546,244" fill="none" stroke="#ec8aac" stroke-width="5"/>
<path fill="#e8709a" d="M522,238 L546,238 L540,260 L537,280 L529,280 L526,260 Z"/>
<circle cx="520" cy="243" r="8" fill="#1f4a2a"/>
<circle cx="545" cy="240" r="8" fill="#1f4a2a"/>
<circle cx="532" cy="266" r="8" fill="#1f4a2a"/>
<rect x="477" y="226" width="113" height="63" fill="none" stroke="#666" stroke-width="2.4"/></g><line x1="254" y1="131" x2="124" y2="55" stroke="#555" stroke-width="2.4" marker-end="url(#ah)"/><line x1="115" y1="157" x2="253" y2="132" stroke="#555" stroke-width="2.4" marker-end="url(#ah)"/><line x1="352" y1="109" x2="477" y2="57" stroke="#555" stroke-width="2.4" marker-end="url(#ah)"/><line x1="478" y1="165" x2="340" y2="113" stroke="#555" stroke-width="2.4" marker-end="url(#ah)"/><line x1="278" y1="188" x2="127" y2="257" stroke="#555" stroke-width="2.4" marker-end="url(#ah)"/><line x1="200" y1="315" x2="281" y2="187" stroke="#555" stroke-width="2.4" marker-end="url(#ah)"/><line x1="318" y1="238" x2="476" y2="256" stroke="#555" stroke-width="2.4" marker-end="url(#ah)"/><line x1="438" y1="345" x2="318" y2="238" stroke="#555" stroke-width="2.4" marker-end="url(#ah)"/><use href="#hiv" x="19.6" y="109.0" width="94.0" height="94.0"/><g transform="translate(540,166) scale(1,0.88)"><use href="#sars" x="-54.0" y="-54.0" width="108.0" height="108.0"/></g><use href="#hep" x="114.0" y="306.0" width="96.0" height="96.0"/><use href="#hpv" x="429.0" y="320.0" width="94.0" height="94.0"/><text x="128.5" y="129.5" font-size="32.5" font-family="Liberation Serif" fill="#111">HIV</text><text x="392.7" y="119.4" font-size="32.3" font-family="Liberation Serif" fill="#111">CoV.</text><text x="0" y="0" font-size="31" font-family="Liberation Serif" fill="#111" transform="translate(171,304) rotate(-45)">Hepatitis</text><text x="0" y="0" font-size="30" font-family="Liberation Serif" fill="#111" transform="translate(377,275) rotate(30)">HPV</text><ellipse cx="1210" cy="52" rx="32" ry="27" fill="#16d66c"/><path d="M1179,57 Q1210,72 1241,57 Q1238,72 1224,78 Q1210,82 1196,78 Q1182,72 1179,57 Z" fill="#0fa858"/><path d="M1186,64 Q1210,74 1236,64 M1190,70 Q1210,78 1232,70" stroke="#0a8a44" stroke-width="2" fill="none"/><path d="M1183,36 Q1190,30 1196,28 M1181,44 L1186,40" stroke="#0c9a50" stroke-width="2" fill="none"/><path d="M1192,62 Q1212,68 1236,58" stroke="#3af090" stroke-width="4" fill="none"/><path fill="#6a8a20" d="M1197,60 L1196,45 Q1203,37 1213,37 Q1226,40 1228,49 L1228,60 Z"/><path fill="#ee3e18" d="M1200,58 L1199,46 Q1205,40 1213,40 Q1224,42 1226,50 L1226,58 Z"/><text x="0" y="0" font-size="37" font-family="Liberation Serif" fill="#111" transform="translate(1313,66.5) scale(1,0.93)">QD</text><text x="0" y="0" font-size="37" font-family="Liberation Serif" fill="#111" transform="translate(1299,120.5) scale(1,0.93)">GQD</text><text x="0" y="0" font-size="37" font-family="Liberation Serif" fill="#111" transform="translate(1302,177.5) scale(1,0.93)">CQD</text><text x="0" y="0" font-size="37.7" font-family="Liberation Serif" fill="#111" transform="translate(1285,242.6) scale(1,0.93)">Fluorescent based on QD</text><text x="0" y="0" font-size="37.3" font-family="Liberation Serif" fill="#111" transform="translate(1303,308.3) scale(1,0.95)">NW-QD</text><path d="M1158.0,113.2L1164.12,108.3M1158.0,113.2L1164.12,118.1M1158.0,123.0L1164.12,118.1M1158.0,123.0L1164.12,127.9M1158.0,132.8L1164.12,127.9M1158.0,132.8L1164.12,137.7M1164.12,108.3L1176.38,108.3M1164.12,118.1L1176.38,118.1M1164.12,127.9L1176.38,127.9M1164.12,137.7L1176.38,137.7M1176.38,108.3L1182.5,103.4M1176.38,108.3L1182.5,113.2M1176.38,118.1L1182.5,113.2M1176.38,118.1L1182.5,123.0M1176.38,127.9L1182.5,123.0M1176.38,127.9L1182.5,132.8M1176.38,137.7L1182.5,132.8M1176.38,137.7L1182.5,142.6M1182.5,103.4L1194.75,103.4M1182.5,113.2L1194.75,113.2M1182.5,123.0L1194.75,123.0M1182.5,132.8L1194.75,132.8M1182.5,142.6L1194.75,142.6M1194.75,103.4L1200.88,98.5M1194.75,103.4L1200.88,108.3M1194.75,113.2L1200.88,108.3M1194.75,113.2L1200.88,118.1M1194.75,123.0L1200.88,118.1M1194.75,123.0L1200.88,127.9M1194.75,132.8L1200.88,127.9M1194.75,132.8L1200.88,137.7M1194.75,142.6L1200.88,137.7M1194.75,142.6L1200.88,147.5M1200.88,98.5L1213.12,98.5M1200.88,108.3L1213.12,108.3M1200.88,118.1L1213.12,118.1M1200.88,127.9L1213.12,127.9M1200.88,137.7L1213.12,137.7M1200.88,147.5L1213.12,147.5M1213.12,98.5L1219.25,103.4M1213.12,108.3L1219.25,103.4M1213.12,108.3L1219.25,113.2M1213.12,118.1L1219.25,113.2M1213.12,118.1L1219.25,123.0M1213.12,127.9L1219.25,123.0M1213.12,127.9L1219.25,132.8M1213.12,137.7L1219.25,132.8M1213.12,137.7L1219.25,142.6M1213.12,147.5L1219.25,142.6M1219.25,103.4L1231.5,103.4M1219.25,113.2L1231.5,113.2M1219.25,123.0L1231.5,123.0M1219.25,132.8L1231.5,132.8M1219.25,142.6L1231.5,142.6M1231.5,103.4L1237.62,108.3M1231.5,113.2L1237.62,108.3M1231.5,113.2L1237.62,118.1M1231.5,123.0L1237.62,118.1M1231.5,123.0L1237.62,127.9M1231.5,132.8L1237.62,127.9M1231.5,132.8L1237.62,137.7M1231.5,142.6L1237.62,137.7M1237.62,108.3L1249.88,108.3M1237.62,118.1L1249.88,118.1M1237.62,127.9L1249.88,127.9M1237.62,137.7L1249.88,137.7M1249.88,108.3L1256.0,113.2M1249.88,118.1L1256.0,113.2M1249.88,118.1L1256.0,123.0M1249.88,127.9L1256.0,123.0M1249.88,127.9L1256.0,132.8M1249.88,137.7L1256.0,132.8" stroke="#3e4c45" stroke-width="2.2" fill="none"/><g fill="#17241d"><ellipse cx="1158.0" cy="113.2" rx="3" ry="2.3"/><ellipse cx="1158.0" cy="123.0" rx="3" ry="2.3"/><ellipse cx="1158.0" cy="132.8" rx="3" ry="2.3"/><ellipse cx="1164.12" cy="108.3" rx="3" ry="2.3"/><ellipse cx="1164.12" cy="118.1" rx="3" ry="2.3"/><ellipse cx="1164.12" cy="127.9" rx="3" ry="2.3"/><ellipse cx="1164.12" cy="137.7" rx="3" ry="2.3"/><ellipse cx="1176.38" cy="108.3" rx="3" ry="2.3"/><ellipse cx="1176.38" cy="118.1" rx="3" ry="2.3"/><ellipse cx="1176.38" cy="127.9" rx="3" ry="2.3"/><ellipse cx="1176.38" cy="137.7" rx="3" ry="2.3"/><ellipse cx="1182.5" cy="103.4" rx="3" ry="2.3"/><ellipse cx="1182.5" cy="113.2" rx="3" ry="2.3"/><ellipse cx="1182.5" cy="123.0" rx="3" ry="2.3"/><ellipse cx="1182.5" cy="132.8" rx="3" ry="2.3"/><ellipse cx="1182.5" cy="142.6" rx="3" ry="2.3"/><ellipse cx="1194.75" cy="103.4" rx="3" ry="2.3"/><ellipse cx="1194.75" cy="113.2" rx="3" ry="2.3"/><ellipse cx="1194.75" cy="123.0" rx="3" ry="2.3"/><ellipse cx="1194.75" cy="132.8" rx="3" ry="2.3"/><ellipse cx="1194.75" cy="142.6" rx="3" ry="2.3"/><ellipse cx="1200.88" cy="98.5" rx="3" ry="2.3"/><ellipse cx="1200.88" cy="108.3" rx="3" ry="2.3"/><ellipse cx="1200.88" cy="118.1" rx="3" ry="2.3"/><ellipse cx="1200.88" cy="127.9" rx="3" ry="2.3"/><ellipse cx="1200.88" cy="137.7" rx="3" ry="2.3"/><ellipse cx="1200.88" cy="147.5" rx="3" ry="2.3"/><ellipse cx="1213.12" cy="98.5" rx="3" ry="2.3"/><ellipse cx="1213.12" cy="108.3" rx="3" ry="2.3"/><ellipse cx="1213.12" cy="118.1" rx="3" ry="2.3"/><ellipse cx="1213.12" cy="127.9" rx="3" ry="2.3"/><ellipse cx="1213.12" cy="137.7" rx="3" ry="2.3"/><ellipse cx="1213.12" cy="147.5" rx="3" ry="2.3"/><ellipse cx="1219.25" cy="103.4" rx="3" ry="2.3"/><ellipse cx="1219.25" cy="113.2" rx="3" ry="2.3"/><ellipse cx="1219.25" cy="123.0" rx="3" ry="2.3"/><ellipse cx="1219.25" cy="132.8" rx="3" ry="2.3"/><ellipse cx="1219.25" cy="142.6" rx="3" ry="2.3"/><ellipse cx="1231.5" cy="103.4" rx="3" ry="2.3"/><ellipse cx="1231.5" cy="113.2" rx="3" ry="2.3"/><ellipse cx="1231.5" cy="123.0" rx="3" ry="2.3"/><ellipse cx="1231.5" cy="132.8" rx="3" ry="2.3"/><ellipse cx="1231.5" cy="142.6" rx="3" ry="2.3"/><ellipse cx="1237.62" cy="108.3" rx="3" ry="2.3"/><ellipse cx="1237.62" cy="118.1" rx="3" ry="2.3"/><ellipse cx="1237.62" cy="127.9" rx="3" ry="2.3"/><ellipse cx="1237.62" cy="137.7" rx="3" ry="2.3"/><ellipse cx="1249.88" cy="108.3" rx="3" ry="2.3"/><ellipse cx="1249.88" cy="118.1" rx="3" ry="2.3"/><ellipse cx="1249.88" cy="127.9" rx="3" ry="2.3"/><ellipse cx="1249.88" cy="137.7" rx="3" ry="2.3"/><ellipse cx="1256.0" cy="113.2" rx="3" ry="2.3"/><ellipse cx="1256.0" cy="123.0" rx="3" ry="2.3"/><ellipse cx="1256.0" cy="132.8" rx="3" ry="2.3"/></g><clipPath id="ccqd"><path d="M1168,186 L1180,176 L1236,168 Q1252,172 1247,186 L1210,208 Q1190,216 1174,210 Q1164,200 1168,186 Z"/></clipPath><g clip-path="url(#ccqd)"><path fill="#2f6e7c" d="M1168,186 L1180,176 L1236,168 Q1252,172 1247,186 L1210,208 Q1190,216 1174,210 Q1164,200 1168,186 Z"/><path d="M1162.8,162.6 L1162.8,165.4 L1160.0,166.9 L1157.2,165.4 L1157.2,162.6 L1160.0,161.1ZM1168.3,162.6 L1168.3,165.4 L1165.5,166.9 L1162.8,165.4 L1162.8,162.6 L1165.5,161.1ZM1173.9,162.6 L1173.9,165.4 L1171.1,166.9 L1168.3,165.4 L1168.3,162.6 L1171.1,161.1ZM1179.4,162.6 L1179.4,165.4 L1176.6,166.9 L1173.9,165.4 L1173.9,162.6 L1176.6,161.1ZM1184.9,162.6 L1184.9,165.4 L1182.2,166.9 L1179.4,165.4 L1179.4,162.6 L1182.2,161.1ZM1190.5,162.6 L1190.5,165.4 L1187.7,166.9 L1184.9,165.4 L1184.9,162.6 L1187.7,161.1ZM1196.0,162.6 L1196.0,165.4 L1193.3,166.9 L1190.5,165.4 L1190.5,162.6 L1193.3,161.1ZM1201.6,162.6 L1201.6,165.4 L1198.8,166.9 L1196.0,165.4 L1196.0,162.6 L1198.8,161.1ZM1207.1,162.6 L1207.1,165.4 L1204.3,166.9 L1201.6,165.4 L1201.6,162.6 L1204.3,161.1ZM1212.7,162.6 L1212.7,165.4 L1209.9,166.9 L1207.1,165.4 L1207.1,162.6 L1209.9,161.1ZM1218.2,162.6 L1218.2,165.4 L1215.4,166.9 L1212.7,165.4 L1212.7,162.6 L1215.4,161.1ZM1223.7,162.6 L1223.7,165.4 L1221.0,166.9 L1218.2,165.4 L1218.2,162.6 L1221.0,161.1ZM1229.3,162.6 L1229.3,165.4 L1226.5,166.9 L1223.7,165.4 L1223.7,162.6 L1226.5,161.1ZM1234.8,162.6 L1234.8,165.4 L1232.1,166.9 L1229.3,165.4 L1229.3,162.6 L1232.1,161.1ZM1240.4,162.6 L1240.4,165.4 L1237.6,166.9 L1234.8,165.4 L1234.8,162.6 L1237.6,161.1ZM1245.9,162.6 L1245.9,165.4 L1243.1,166.9 L1240.4,165.4 L1240.4,162.6 L1243.1,161.1ZM1251.5,162.6 L1251.5,165.4 L1248.7,166.9 L1245.9,165.4 L1245.9,162.6 L1248.7,161.1ZM1257.0,162.6 L1257.0,165.4 L1254.2,166.9 L1251.5,165.4 L1251.5,162.6 L1254.2,161.1ZM1262.5,162.6 L1262.5,165.4 L1259.8,166.9 L1257.0,165.4 L1257.0,162.6 L1259.8,161.1ZM1165.5,166.9 L1165.5,169.8 L1162.8,171.2 L1160.0,169.8 L1160.0,166.9 L1162.8,165.4ZM1171.1,166.9 L1171.1,169.8 L1168.3,171.2 L1165.5,169.8 L1165.5,166.9 L1168.3,165.4ZM1176.6,166.9 L1176.6,169.8 L1173.9,171.2 L1171.1,169.8 L1171.1,166.9 L1173.9,165.4ZM1182.2,166.9 L1182.2,169.8 L1179.4,171.2 L1176.6,169.8 L1176.6,166.9 L1179.4,165.4ZM1187.7,166.9 L1187.7,169.8 L1184.9,171.2 L1182.2,169.8 L1182.2,166.9 L1184.9,165.4ZM1193.3,166.9 L1193.3,169.8 L1190.5,171.2 L1187.7,169.8 L1187.7,166.9 L1190.5,165.4ZM1198.8,166.9 L1198.8,169.8 L1196.0,171.2 L1193.3,169.8 L1193.3,166.9 L1196.0,165.4ZM1204.3,166.9 L1204.3,169.8 L1201.6,171.2 L1198.8,169.8 L1198.8,166.9 L1201.6,165.4ZM1209.9,166.9 L1209.9,169.8 L1207.1,171.2 L1204.3,169.8 L1204.3,166.9 L1207.1,165.4ZM1215.4,166.9 L1215.4,169.8 L1212.7,171.2 L1209.9,169.8 L1209.9,166.9 L1212.7,165.4ZM1221.0,166.9 L1221.0,169.8 L1218.2,171.2 L1215.4,169.8 L1215.4,166.9 L1218.2,165.4ZM1226.5,166.9 L1226.5,169.8 L1223.7,171.2 L1221.0,169.8 L1221.0,166.9 L1223.7,165.4ZM1232.1,166.9 L1232.1,169.8 L1229.3,171.2 L1226.5,169.8 L1226.5,166.9 L1229.3,165.4ZM1237.6,166.9 L1237.6,169.8 L1234.8,171.2 L1232.1,169.8 L1232.1,166.9 L1234.8,165.4ZM1243.1,166.9 L1243.1,169.8 L1240.4,171.2 L1237.6,169.8 L1237.6,166.9 L1240.4,165.4ZM1248.7,166.9 L1248.7,169.8 L1245.9,171.2 L1243.1,169.8 L1243.1,166.9 L1245.9,165.4ZM1254.2,166.9 L1254.2,169.8 L1251.5,171.2 L1248.7,169.8 L1248.7,166.9 L1251.5,165.4ZM1259.8,166.9 L1259.8,169.8 L1257.0,171.2 L1254.2,169.8 L1254.2,166.9 L1257.0,165.4ZM1265.3,166.9 L1265.3,169.8 L1262.5,171.2 L1259.8,169.8 L1259.8,166.9 L1262.5,165.4ZM1162.8,171.2 L1162.8,174.1 L1160.0,175.5 L1157.2,174.1 L1157.2,171.2 L1160.0,169.8ZM1168.3,171.2 L1168.3,174.1 L1165.5,175.5 L1162.8,174.1 L1162.8,171.2 L1165.5,169.8ZM1173.9,171.2 L1173.9,174.1 L1171.1,175.5 L1168.3,174.1 L1168.3,171.2 L1171.1,169.8ZM1179.4,171.2 L1179.4,174.1 L1176.6,175.5 L1173.9,174.1 L1173.9,171.2 L1176.6,169.8ZM1184.9,171.2 L1184.9,174.1 L1182.2,175.5 L1179.4,174.1 L1179.4,171.2 L1182.2,169.8ZM1190.5,171.2 L1190.5,174.1 L1187.7,175.5 L1184.9,174.1 L1184.9,171.2 L1187.7,169.8ZM1196.0,171.2 L1196.0,174.1 L1193.3,175.5 L1190.5,174.1 L1190.5,171.2 L1193.3,169.8ZM1201.6,171.2 L1201.6,174.1 L1198.8,175.5 L1196.0,174.1 L1196.0,171.2 L1198.8,169.8ZM1207.1,171.2 L1207.1,174.1 L1204.3,175.5 L1201.6,174.1 L1201.6,171.2 L1204.3,169.8ZM1212.7,171.2 L1212.7,174.1 L1209.9,175.5 L1207.1,174.1 L1207.1,171.2 L1209.9,169.8ZM1218.2,171.2 L1218.2,174.1 L1215.4,175.5 L1212.7,174.1 L1212.7,171.2 L1215.4,169.8ZM1223.7,171.2 L1223.7,174.1 L1221.0,175.5 L1218.2,174.1 L1218.2,171.2 L1221.0,169.8ZM1229.3,171.2 L1229.3,174.1 L1226.5,175.5 L1223.7,174.1 L1223.7,171.2 L1226.5,169.8ZM1234.8,171.2 L1234.8,174.1 L1232.1,175.5 L1229.3,174.1 L1229.3,171.2 L1232.1,169.8ZM1240.4,171.2 L1240.4,174.1 L1237.6,175.5 L1234.8,174.1 L1234.8,171.2 L1237.6,169.8ZM1245.9,171.2 L1245.9,174.1 L1243.1,175.5 L1240.4,174.1 L1240.4,171.2 L1243.1,169.8ZM1251.5,171.2 L1251.5,174.1 L1248.7,175.5 L1245.9,174.1 L1245.9,171.2 L1248.7,169.8ZM1257.0,171.2 L1257.0,174.1 L1254.2,175.5 L1251.5,174.1 L1251.5,171.2 L1254.2,169.8ZM1262.5,171.2 L1262.5,174.1 L1259.8,175.5 L1257.0,174.1 L1257.0,171.2 L1259.8,169.8ZM1165.5,175.5 L1165.5,178.4 L1162.8,179.8 L1160.0,178.4 L1160.0,175.5 L1162.8,174.1ZM1171.1,175.5 L1171.1,178.4 L1168.3,179.8 L1165.5,178.4 L1165.5,175.5 L1168.3,174.1ZM1176.6,175.5 L1176.6,178.4 L1173.9,179.8 L1171.1,178.4 L1171.1,175.5 L1173.9,174.1ZM1182.2,175.5 L1182.2,178.4 L1179.4,179.8 L1176.6,178.4 L1176.6,175.5 L1179.4,174.1ZM1187.7,175.5 L1187.7,178.4 L1184.9,179.8 L1182.2,178.4 L1182.2,175.5 L1184.9,174.1ZM1193.3,175.5 L1193.3,178.4 L1190.5,179.8 L1187.7,178.4 L1187.7,175.5 L1190.5,174.1ZM1198.8,175.5 L1198.8,178.4 L1196.0,179.8 L1193.3,178.4 L1193.3,175.5 L1196.0,174.1ZM1204.3,175.5 L1204.3,178.4 L1201.6,179.8 L1198.8,178.4 L1198.8,175.5 L1201.6,174.1ZM1209.9,175.5 L1209.9,178.4 L1207.1,179.8 L1204.3,178.4 L1204.3,175.5 L1207.1,174.1ZM1215.4,175.5 L1215.4,178.4 L1212.7,179.8 L1209.9,178.4 L1209.9,175.5 L1212.7,174.1ZM1221.0,175.5 L1221.0,178.4 L1218.2,179.8 L1215.4,178.4 L1215.4,175.5 L1218.2,174.1ZM1226.5,175.5 L1226.5,178.4 L1223.7,179.8 L1221.0,178.4 L1221.0,175.5 L1223.7,174.1ZM1232.1,175.5 L1232.1,178.4 L1229.3,179.8 L1226.5,178.4 L1226.5,175.5 L1229.3,174.1ZM1237.6,175.5 L1237.6,178.4 L1234.8,179.8 L1232.1,178.4 L1232.1,175.5 L1234.8,174.1ZM1243.1,175.5 L1243.1,178.4 L1240.4,179.8 L1237.6,178.4 L1237.6,175.5 L1240.4,174.1ZM1248.7,175.5 L1248.7,178.4 L1245.9,179.8 L1243.1,178.4 L1243.1,175.5 L1245.9,174.1ZM1254.2,175.5 L1254.2,178.4 L1251.5,179.8 L1248.7,178.4 L1248.7,175.5 L1251.5,174.1ZM1259.8,175.5 L1259.8,178.4 L1257.0,179.8 L1254.2,178.4 L1254.2,175.5 L1257.0,174.1ZM1265.3,175.5 L1265.3,178.4 L1262.5,179.8 L1259.8,178.4 L1259.8,175.5 L1262.5,174.1ZM1162.8,179.8 L1162.8,182.7 L1160.0,184.2 L1157.2,182.7 L1157.2,179.8 L1160.0,178.4ZM1168.3,179.8 L1168.3,182.7 L1165.5,184.2 L1162.8,182.7 L1162.8,179.8 L1165.5,178.4ZM1173.9,179.8 L1173.9,182.7 L1171.1,184.2 L1168.3,182.7 L1168.3,179.8 L1171.1,178.4ZM1179.4,179.8 L1179.4,182.7 L1176.6,184.2 L1173.9,182.7 L1173.9,179.8 L1176.6,178.4ZM1184.9,179.8 L1184.9,182.7 L1182.2,184.2 L1179.4,182.7 L1179.4,179.8 L1182.2,178.4ZM1190.5,179.8 L1190.5,182.7 L1187.7,184.2 L1184.9,182.7 L1184.9,179.8 L1187.7,178.4ZM1196.0,179.8 L1196.0,182.7 L1193.3,184.2 L1190.5,182.7 L1190.5,179.8 L1193.3,178.4ZM1201.6,179.8 L1201.6,182.7 L1198.8,184.2 L1196.0,182.7 L1196.0,179.8 L1198.8,178.4ZM1207.1,179.8 L1207.1,182.7 L1204.3,184.2 L1201.6,182.7 L1201.6,179.8 L1204.3,178.4ZM1212.7,179.8 L1212.7,182.7 L1209.9,184.2 L1207.1,182.7 L1207.1,179.8 L1209.9,178.4ZM1218.2,179.8 L1218.2,182.7 L1215.4,184.2 L1212.7,182.7 L1212.7,179.8 L1215.4,178.4ZM1223.7,179.8 L1223.7,182.7 L1221.0,184.2 L1218.2,182.7 L1218.2,179.8 L1221.0,178.4ZM1229.3,179.8 L1229.3,182.7 L1226.5,184.2 L1223.7,182.7 L1223.7,179.8 L1226.5,178.4ZM1234.8,179.8 L1234.8,182.7 L1232.1,184.2 L1229.3,182.7 L1229.3,179.8 L1232.1,178.4ZM1240.4,179.8 L1240.4,182.7 L1237.6,184.2 L1234.8,182.7 L1234.8,179.8 L1237.6,178.4ZM1245.9,179.8 L1245.9,182.7 L1243.1,184.2 L1240.4,182.7 L1240.4,179.8 L1243.1,178.4ZM1251.5,179.8 L1251.5,182.7 L1248.7,184.2 L1245.9,182.7 L1245.9,179.8 L1248.7,178.4ZM1257.0,179.8 L1257.0,182.7 L1254.2,184.2 L1251.5,182.7 L1251.5,179.8 L1254.2,178.4ZM1262.5,179.8 L1262.5,182.7 L1259.8,184.2 L1257.0,182.7 L1257.0,179.8 L1259.8,178.4ZM1165.5,184.2 L1165.5,187.0 L1162.8,188.5 L1160.0,187.0 L1160.0,184.2 L1162.8,182.7ZM1171.1,184.2 L1171.1,187.0 L1168.3,188.5 L1165.5,187.0 L1165.5,184.2 L1168.3,182.7ZM1176.6,184.2 L1176.6,187.0 L1173.9,188.5 L1171.1,187.0 L1171.1,184.2 L1173.9,182.7ZM1182.2,184.2 L1182.2,187.0 L1179.4,188.5 L1176.6,187.0 L1176.6,184.2 L1179.4,182.7ZM1187.7,184.2 L1187.7,187.0 L1184.9,188.5 L1182.2,187.0 L1182.2,184.2 L1184.9,182.7ZM1193.3,184.2 L1193.3,187.0 L1190.5,188.5 L1187.7,187.0 L1187.7,184.2 L1190.5,182.7ZM1198.8,184.2 L1198.8,187.0 L1196.0,188.5 L1193.3,187.0 L1193.3,184.2 L1196.0,182.7ZM1204.3,184.2 L1204.3,187.0 L1201.6,188.5 L1198.8,187.0 L1198.8,184.2 L1201.6,182.7ZM1209.9,184.2 L1209.9,187.0 L1207.1,188.5 L1204.3,187.0 L1204.3,184.2 L1207.1,182.7ZM1215.4,184.2 L1215.4,187.0 L1212.7,188.5 L1209.9,187.0 L1209.9,184.2 L1212.7,182.7ZM1221.0,184.2 L1221.0,187.0 L1218.2,188.5 L1215.4,187.0 L1215.4,184.2 L1218.2,182.7ZM1226.5,184.2 L1226.5,187.0 L1223.7,188.5 L1221.0,187.0 L1221.0,184.2 L1223.7,182.7ZM1232.1,184.2 L1232.1,187.0 L1229.3,188.5 L1226.5,187.0 L1226.5,184.2 L1229.3,182.7ZM1237.6,184.2 L1237.6,187.0 L1234.8,188.5 L1232.1,187.0 L1232.1,184.2 L1234.8,182.7ZM1243.1,184.2 L1243.1,187.0 L1240.4,188.5 L1237.6,187.0 L1237.6,184.2 L1240.4,182.7ZM1248.7,184.2 L1248.7,187.0 L1245.9,188.5 L1243.1,187.0 L1243.1,184.2 L1245.9,182.7ZM1254.2,184.2 L1254.2,187.0 L1251.5,188.5 L1248.7,187.0 L1248.7,184.2 L1251.5,182.7ZM1259.8,184.2 L1259.8,187.0 L1257.0,188.5 L1254.2,187.0 L1254.2,184.2 L1257.0,182.7ZM1265.3,184.2 L1265.3,187.0 L1262.5,188.5 L1259.8,187.0 L1259.8,184.2 L1262.5,182.7ZM1162.8,188.5 L1162.8,191.4 L1160.0,192.8 L1157.2,191.4 L1157.2,188.5 L1160.0,187.0ZM1168.3,188.5 L1168.3,191.4 L1165.5,192.8 L1162.8,191.4 L1162.8,188.5 L1165.5,187.0ZM1173.9,188.5 L1173.9,191.4 L1171.1,192.8 L1168.3,191.4 L1168.3,188.5 L1171.1,187.0ZM1179.4,188.5 L1179.4,191.4 L1176.6,192.8 L1173.9,191.4 L1173.9,188.5 L1176.6,187.0ZM1184.9,188.5 L1184.9,191.4 L1182.2,192.8 L1179.4,191.4 L1179.4,188.5 L1182.2,187.0ZM1190.5,188.5 L1190.5,191.4 L1187.7,192.8 L1184.9,191.4 L1184.9,188.5 L1187.7,187.0ZM1196.0,188.5 L1196.0,191.4 L1193.3,192.8 L1190.5,191.4 L1190.5,188.5 L1193.3,187.0ZM1201.6,188.5 L1201.6,191.4 L1198.8,192.8 L1196.0,191.4 L1196.0,188.5 L1198.8,187.0ZM1207.1,188.5 L1207.1,191.4 L1204.3,192.8 L1201.6,191.4 L1201.6,188.5 L1204.3,187.0ZM1212.7,188.5 L1212.7,191.4 L1209.9,192.8 L1207.1,191.4 L1207.1,188.5 L1209.9,187.0ZM1218.2,188.5 L1218.2,191.4 L1215.4,192.8 L1212.7,191.4 L1212.7,188.5 L1215.4,187.0ZM1223.7,188.5 L1223.7,191.4 L1221.0,192.8 L1218.2,191.4 L1218.2,188.5 L1221.0,187.0ZM1229.3,188.5 L1229.3,191.4 L1226.5,192.8 L1223.7,191.4 L1223.7,188.5 L1226.5,187.0ZM1234.8,188.5 L1234.8,191.4 L1232.1,192.8 L1229.3,191.4 L1229.3,188.5 L1232.1,187.0ZM1240.4,188.5 L1240.4,191.4 L1237.6,192.8 L1234.8,191.4 L1234.8,188.5 L1237.6,187.0ZM1245.9,188.5 L1245.9,191.4 L1243.1,192.8 L1240.4,191.4 L1240.4,188.5 L1243.1,187.0ZM1251.5,188.5 L1251.5,191.4 L1248.7,192.8 L1245.9,191.4 L1245.9,188.5 L1248.7,187.0ZM1257.0,188.5 L1257.0,191.4 L1254.2,192.8 L1251.5,191.4 L1251.5,188.5 L1254.2,187.0ZM1262.5,188.5 L1262.5,191.4 L1259.8,192.8 L1257.0,191.4 L1257.0,188.5 L1259.8,187.0ZM1165.5,192.8 L1165.5,195.7 L1162.8,197.1 L1160.0,195.7 L1160.0,192.8 L1162.8,191.4ZM1171.1,192.8 L1171.1,195.7 L1168.3,197.1 L1165.5,195.7 L1165.5,192.8 L1168.3,191.4ZM1176.6,192.8 L1176.6,195.7 L1173.9,197.1 L1171.1,195.7 L1171.1,192.8 L1173.9,191.4ZM1182.2,192.8 L1182.2,195.7 L1179.4,197.1 L1176.6,195.7 L1176.6,192.8 L1179.4,191.4ZM1187.7,192.8 L1187.7,195.7 L1184.9,197.1 L1182.2,195.7 L1182.2,192.8 L1184.9,191.4ZM1193.3,192.8 L1193.3,195.7 L1190.5,197.1 L1187.7,195.7 L1187.7,192.8 L1190.5,191.4ZM1198.8,192.8 L1198.8,195.7 L1196.0,197.1 L1193.3,195.7 L1193.3,192.8 L1196.0,191.4ZM1204.3,192.8 L1204.3,195.7 L1201.6,197.1 L1198.8,195.7 L1198.8,192.8 L1201.6,191.4ZM1209.9,192.8 L1209.9,195.7 L1207.1,197.1 L1204.3,195.7 L1204.3,192.8 L1207.1,191.4ZM1215.4,192.8 L1215.4,195.7 L1212.7,197.1 L1209.9,195.7 L1209.9,192.8 L1212.7,191.4ZM1221.0,192.8 L1221.0,195.7 L1218.2,197.1 L1215.4,195.7 L1215.4,192.8 L1218.2,191.4ZM1226.5,192.8 L1226.5,195.7 L1223.7,197.1 L1221.0,195.7 L1221.0,192.8 L1223.7,191.4ZM1232.1,192.8 L1232.1,195.7 L1229.3,197.1 L1226.5,195.7 L1226.5,192.8 L1229.3,191.4ZM1237.6,192.8 L1237.6,195.7 L1234.8,197.1 L1232.1,195.7 L1232.1,192.8 L1234.8,191.4ZM1243.1,192.8 L1243.1,195.7 L1240.4,197.1 L1237.6,195.7 L1237.6,192.8 L1240.4,191.4ZM1248.7,192.8 L1248.7,195.7 L1245.9,197.1 L1243.1,195.7 L1243.1,192.8 L1245.9,191.4ZM1254.2,192.8 L1254.2,195.7 L1251.5,197.1 L1248.7,195.7 L1248.7,192.8 L1251.5,191.4ZM1259.8,192.8 L1259.8,195.7 L1257.0,197.1 L1254.2,195.7 L1254.2,192.8 L1257.0,191.4ZM1265.3,192.8 L1265.3,195.7 L1262.5,197.1 L1259.8,195.7 L1259.8,192.8 L1262.5,191.4ZM1162.8,197.1 L1162.8,200.0 L1160.0,201.4 L1157.2,200.0 L1157.2,197.1 L1160.0,195.7ZM1168.3,197.1 L1168.3,200.0 L1165.5,201.4 L1162.8,200.0 L1162.8,197.1 L1165.5,195.7ZM1173.9,197.1 L1173.9,200.0 L1171.1,201.4 L1168.3,200.0 L1168.3,197.1 L1171.1,195.7ZM1179.4,197.1 L1179.4,200.0 L1176.6,201.4 L1173.9,200.0 L1173.9,197.1 L1176.6,195.7ZM1184.9,197.1 L1184.9,200.0 L1182.2,201.4 L1179.4,200.0 L1179.4,197.1 L1182.2,195.7ZM1190.5,197.1 L1190.5,200.0 L1187.7,201.4 L1184.9,200.0 L1184.9,197.1 L1187.7,195.7ZM1196.0,197.1 L1196.0,200.0 L1193.3,201.4 L1190.5,200.0 L1190.5,197.1 L1193.3,195.7ZM1201.6,197.1 L1201.6,200.0 L1198.8,201.4 L1196.0,200.0 L1196.0,197.1 L1198.8,195.7ZM1207.1,197.1 L1207.1,200.0 L1204.3,201.4 L1201.6,200.0 L1201.6,197.1 L1204.3,195.7ZM1212.7,197.1 L1212.7,200.0 L1209.9,201.4 L1207.1,200.0 L1207.1,197.1 L1209.9,195.7ZM1218.2,197.1 L1218.2,200.0 L1215.4,201.4 L1212.7,200.0 L1212.7,197.1 L1215.4,195.7ZM1223.7,197.1 L1223.7,200.0 L1221.0,201.4 L1218.2,200.0 L1218.2,197.1 L1221.0,195.7ZM1229.3,197.1 L1229.3,200.0 L1226.5,201.4 L1223.7,200.0 L1223.7,197.1 L1226.5,195.7ZM1234.8,197.1 L1234.8,200.0 L1232.1,201.4 L1229.3,200.0 L1229.3,197.1 L1232.1,195.7ZM1240.4,197.1 L1240.4,200.0 L1237.6,201.4 L1234.8,200.0 L1234.8,197.1 L1237.6,195.7ZM1245.9,197.1 L1245.9,200.0 L1243.1,201.4 L1240.4,200.0 L1240.4,197.1 L1243.1,195.7ZM1251.5,197.1 L1251.5,200.0 L1248.7,201.4 L1245.9,200.0 L1245.9,197.1 L1248.7,195.7ZM1257.0,197.1 L1257.0,200.0 L1254.2,201.4 L1251.5,200.0 L1251.5,197.1 L1254.2,195.7ZM1262.5,197.1 L1262.5,200.0 L1259.8,201.4 L1257.0,200.0 L1257.0,197.1 L1259.8,195.7ZM1165.5,201.4 L1165.5,204.3 L1162.8,205.8 L1160.0,204.3 L1160.0,201.4 L1162.8,200.0ZM1171.1,201.4 L1171.1,204.3 L1168.3,205.8 L1165.5,204.3 L1165.5,201.4 L1168.3,200.0ZM1176.6,201.4 L1176.6,204.3 L1173.9,205.8 L1171.1,204.3 L1171.1,201.4 L1173.9,200.0ZM1182.2,201.4 L1182.2,204.3 L1179.4,205.8 L1176.6,204.3 L1176.6,201.4 L1179.4,200.0ZM1187.7,201.4 L1187.7,204.3 L1184.9,205.8 L1182.2,204.3 L1182.2,201.4 L1184.9,200.0ZM1193.3,201.4 L1193.3,204.3 L1190.5,205.8 L1187.7,204.3 L1187.7,201.4 L1190.5,200.0ZM1198.8,201.4 L1198.8,204.3 L1196.0,205.8 L1193.3,204.3 L1193.3,201.4 L1196.0,200.0ZM1204.3,201.4 L1204.3,204.3 L1201.6,205.8 L1198.8,204.3 L1198.8,201.4 L1201.6,200.0ZM1209.9,201.4 L1209.9,204.3 L1207.1,205.8 L1204.3,204.3 L1204.3,201.4 L1207.1,200.0ZM1215.4,201.4 L1215.4,204.3 L1212.7,205.8 L1209.9,204.3 L1209.9,201.4 L1212.7,200.0ZM1221.0,201.4 L1221.0,204.3 L1218.2,205.8 L1215.4,204.3 L1215.4,201.4 L1218.2,200.0ZM1226.5,201.4 L1226.5,204.3 L1223.7,205.8 L1221.0,204.3 L1221.0,201.4 L1223.7,200.0ZM1232.1,201.4 L1232.1,204.3 L1229.3,205.8 L1226.5,204.3 L1226.5,201.4 L1229.3,200.0ZM1237.6,201.4 L1237.6,204.3 L1234.8,205.8 L1232.1,204.3 L1232.1,201.4 L1234.8,200.0ZM1243.1,201.4 L1243.1,204.3 L1240.4,205.8 L1237.6,204.3 L1237.6,201.4 L1240.4,200.0ZM1248.7,201.4 L1248.7,204.3 L1245.9,205.8 L1243.1,204.3 L1243.1,201.4 L1245.9,200.0ZM1254.2,201.4 L1254.2,204.3 L1251.5,205.8 L1248.7,204.3 L1248.7,201.4 L1251.5,200.0ZM1259.8,201.4 L1259.8,204.3 L1257.0,205.8 L1254.2,204.3 L1254.2,201.4 L1257.0,200.0ZM1265.3,201.4 L1265.3,204.3 L1262.5,205.8 L1259.8,204.3 L1259.8,201.4 L1262.5,200.0ZM1162.8,205.8 L1162.8,208.6 L1160.0,210.1 L1157.2,208.6 L1157.2,205.8 L1160.0,204.3ZM1168.3,205.8 L1168.3,208.6 L1165.5,210.1 L1162.8,208.6 L1162.8,205.8 L1165.5,204.3ZM1173.9,205.8 L1173.9,208.6 L1171.1,210.1 L1168.3,208.6 L1168.3,205.8 L1171.1,204.3ZM1179.4,205.8 L1179.4,208.6 L1176.6,210.1 L1173.9,208.6 L1173.9,205.8 L1176.6,204.3ZM1184.9,205.8 L1184.9,208.6 L1182.2,210.1 L1179.4,208.6 L1179.4,205.8 L1182.2,204.3ZM1190.5,205.8 L1190.5,208.6 L1187.7,210.1 L1184.9,208.6 L1184.9,205.8 L1187.7,204.3ZM1196.0,205.8 L1196.0,208.6 L1193.3,210.1 L1190.5,208.6 L1190.5,205.8 L1193.3,204.3ZM1201.6,205.8 L1201.6,208.6 L1198.8,210.1 L1196.0,208.6 L1196.0,205.8 L1198.8,204.3ZM1207.1,205.8 L1207.1,208.6 L1204.3,210.1 L1201.6,208.6 L1201.6,205.8 L1204.3,204.3ZM1212.7,205.8 L1212.7,208.6 L1209.9,210.1 L1207.1,208.6 L1207.1,205.8 L1209.9,204.3ZM1218.2,205.8 L1218.2,208.6 L1215.4,210.1 L1212.7,208.6 L1212.7,205.8 L1215.4,204.3ZM1223.7,205.8 L1223.7,208.6 L1221.0,210.1 L1218.2,208.6 L1218.2,205.8 L1221.0,204.3ZM1229.3,205.8 L1229.3,208.6 L1226.5,210.1 L1223.7,208.6 L1223.7,205.8 L1226.5,204.3ZM1234.8,205.8 L1234.8,208.6 L1232.1,210.1 L1229.3,208.6 L1229.3,205.8 L1232.1,204.3ZM1240.4,205.8 L1240.4,208.6 L1237.6,210.1 L1234.8,208.6 L1234.8,205.8 L1237.6,204.3ZM1245.9,205.8 L1245.9,208.6 L1243.1,210.1 L1240.4,208.6 L1240.4,205.8 L1243.1,204.3ZM1251.5,205.8 L1251.5,208.6 L1248.7,210.1 L1245.9,208.6 L1245.9,205.8 L1248.7,204.3ZM1257.0,205.8 L1257.0,208.6 L1254.2,210.1 L1251.5,208.6 L1251.5,205.8 L1254.2,204.3ZM1262.5,205.8 L1262.5,208.6 L1259.8,210.1 L1257.0,208.6 L1257.0,205.8 L1259.8,204.3ZM1165.5,210.1 L1165.5,213.0 L1162.8,214.4 L1160.0,213.0 L1160.0,210.1 L1162.8,208.6ZM1171.1,210.1 L1171.1,213.0 L1168.3,214.4 L1165.5,213.0 L1165.5,210.1 L1168.3,208.6ZM1176.6,210.1 L1176.6,213.0 L1173.9,214.4 L1171.1,213.0 L1171.1,210.1 L1173.9,208.6ZM1182.2,210.1 L1182.2,213.0 L1179.4,214.4 L1176.6,213.0 L1176.6,210.1 L1179.4,208.6ZM1187.7,210.1 L1187.7,213.0 L1184.9,214.4 L1182.2,213.0 L1182.2,210.1 L1184.9,208.6ZM1193.3,210.1 L1193.3,213.0 L1190.5,214.4 L1187.7,213.0 L1187.7,210.1 L1190.5,208.6ZM1198.8,210.1 L1198.8,213.0 L1196.0,214.4 L1193.3,213.0 L1193.3,210.1 L1196.0,208.6ZM1204.3,210.1 L1204.3,213.0 L1201.6,214.4 L1198.8,213.0 L1198.8,210.1 L1201.6,208.6ZM1209.9,210.1 L1209.9,213.0 L1207.1,214.4 L1204.3,213.0 L1204.3,210.1 L1207.1,208.6ZM1215.4,210.1 L1215.4,213.0 L1212.7,214.4 L1209.9,213.0 L1209.9,210.1 L1212.7,208.6ZM1221.0,210.1 L1221.0,213.0 L1218.2,214.4 L1215.4,213.0 L1215.4,210.1 L1218.2,208.6ZM1226.5,210.1 L1226.5,213.0 L1223.7,214.4 L1221.0,213.0 L1221.0,210.1 L1223.7,208.6ZM1232.1,210.1 L1232.1,213.0 L1229.3,214.4 L1226.5,213.0 L1226.5,210.1 L1229.3,208.6ZM1237.6,210.1 L1237.6,213.0 L1234.8,214.4 L1232.1,213.0 L1232.1,210.1 L1234.8,208.6ZM1243.1,210.1 L1243.1,213.0 L1240.4,214.4 L1237.6,213.0 L1237.6,210.1 L1240.4,208.6ZM1248.7,210.1 L1248.7,213.0 L1245.9,214.4 L1243.1,213.0 L1243.1,210.1 L1245.9,208.6ZM1254.2,210.1 L1254.2,213.0 L1251.5,214.4 L1248.7,213.0 L1248.7,210.1 L1251.5,208.6ZM1259.8,210.1 L1259.8,213.0 L1257.0,214.4 L1254.2,213.0 L1254.2,210.1 L1257.0,208.6ZM1265.3,210.1 L1265.3,213.0 L1262.5,214.4 L1259.8,213.0 L1259.8,210.1 L1262.5,208.6ZM1162.8,214.4 L1162.8,217.3 L1160.0,218.7 L1157.2,217.3 L1157.2,214.4 L1160.0,213.0ZM1168.3,214.4 L1168.3,217.3 L1165.5,218.7 L1162.8,217.3 L1162.8,214.4 L1165.5,213.0ZM1173.9,214.4 L1173.9,217.3 L1171.1,218.7 L1168.3,217.3 L1168.3,214.4 L1171.1,213.0ZM1179.4,214.4 L1179.4,217.3 L1176.6,218.7 L1173.9,217.3 L1173.9,214.4 L1176.6,213.0ZM1184.9,214.4 L1184.9,217.3 L1182.2,218.7 L1179.4,217.3 L1179.4,214.4 L1182.2,213.0ZM1190.5,214.4 L1190.5,217.3 L1187.7,218.7 L1184.9,217.3 L1184.9,214.4 L1187.7,213.0ZM1196.0,214.4 L1196.0,217.3 L1193.3,218.7 L1190.5,217.3 L1190.5,214.4 L1193.3,213.0ZM1201.6,214.4 L1201.6,217.3 L1198.8,218.7 L1196.0,217.3 L1196.0,214.4 L1198.8,213.0ZM1207.1,214.4 L1207.1,217.3 L1204.3,218.7 L1201.6,217.3 L1201.6,214.4 L1204.3,213.0ZM1212.7,214.4 L1212.7,217.3 L1209.9,218.7 L1207.1,217.3 L1207.1,214.4 L1209.9,213.0ZM1218.2,214.4 L1218.2,217.3 L1215.4,218.7 L1212.7,217.3 L1212.7,214.4 L1215.4,213.0ZM1223.7,214.4 L1223.7,217.3 L1221.0,218.7 L1218.2,217.3 L1218.2,214.4 L1221.0,213.0ZM1229.3,214.4 L1229.3,217.3 L1226.5,218.7 L1223.7,217.3 L1223.7,214.4 L1226.5,213.0ZM1234.8,214.4 L1234.8,217.3 L1232.1,218.7 L1229.3,217.3 L1229.3,214.4 L1232.1,213.0ZM1240.4,214.4 L1240.4,217.3 L1237.6,218.7 L1234.8,217.3 L1234.8,214.4 L1237.6,213.0ZM1245.9,214.4 L1245.9,217.3 L1243.1,218.7 L1240.4,217.3 L1240.4,214.4 L1243.1,213.0ZM1251.5,214.4 L1251.5,217.3 L1248.7,218.7 L1245.9,217.3 L1245.9,214.4 L1248.7,213.0ZM1257.0,214.4 L1257.0,217.3 L1254.2,218.7 L1251.5,217.3 L1251.5,214.4 L1254.2,213.0ZM1262.5,214.4 L1262.5,217.3 L1259.8,218.7 L1257.0,217.3 L1257.0,214.4 L1259.8,213.0ZM1165.5,218.7 L1165.5,221.6 L1162.8,223.0 L1160.0,221.6 L1160.0,218.7 L1162.8,217.3ZM1171.1,218.7 L1171.1,221.6 L1168.3,223.0 L1165.5,221.6 L1165.5,218.7 L1168.3,217.3ZM1176.6,218.7 L1176.6,221.6 L1173.9,223.0 L1171.1,221.6 L1171.1,218.7 L1173.9,217.3ZM1182.2,218.7 L1182.2,221.6 L1179.4,223.0 L1176.6,221.6 L1176.6,218.7 L1179.4,217.3ZM1187.7,218.7 L1187.7,221.6 L1184.9,223.0 L1182.2,221.6 L1182.2,218.7 L1184.9,217.3ZM1193.3,218.7 L1193.3,221.6 L1190.5,223.0 L1187.7,221.6 L1187.7,218.7 L1190.5,217.3ZM1198.8,218.7 L1198.8,221.6 L1196.0,223.0 L1193.3,221.6 L1193.3,218.7 L1196.0,217.3ZM1204.3,218.7 L1204.3,221.6 L1201.6,223.0 L1198.8,221.6 L1198.8,218.7 L1201.6,217.3ZM1209.9,218.7 L1209.9,221.6 L1207.1,223.0 L1204.3,221.6 L1204.3,218.7 L1207.1,217.3ZM1215.4,218.7 L1215.4,221.6 L1212.7,223.0 L1209.9,221.6 L1209.9,218.7 L1212.7,217.3ZM1221.0,218.7 L1221.0,221.6 L1218.2,223.0 L1215.4,221.6 L1215.4,218.7 L1218.2,217.3ZM1226.5,218.7 L1226.5,221.6 L1223.7,223.0 L1221.0,221.6 L1221.0,218.7 L1223.7,217.3ZM1232.1,218.7 L1232.1,221.6 L1229.3,223.0 L1226.5,221.6 L1226.5,218.7 L1229.3,217.3ZM1237.6,218.7 L1237.6,221.6 L1234.8,223.0 L1232.1,221.6 L1232.1,218.7 L1234.8,217.3ZM1243.1,218.7 L1243.1,221.6 L1240.4,223.0 L1237.6,221.6 L1237.6,218.7 L1240.4,217.3ZM1248.7,218.7 L1248.7,221.6 L1245.9,223.0 L1243.1,221.6 L1243.1,218.7 L1245.9,217.3ZM1254.2,218.7 L1254.2,221.6 L1251.5,223.0 L1248.7,221.6 L1248.7,218.7 L1251.5,217.3ZM1259.8,218.7 L1259.8,221.6 L1257.0,223.0 L1254.2,221.6 L1254.2,218.7 L1257.0,217.3ZM1265.3,218.7 L1265.3,221.6 L1262.5,223.0 L1259.8,221.6 L1259.8,218.7 L1262.5,217.3Z" stroke="#3aa6b0" stroke-width="0.9" fill="none" opacity="0.55"/><ellipse cx="1190" cy="195" rx="20" ry="16" fill="#a8466a" transform="rotate(-15 1190 195)"/><path d="M1168.6,174.5 L1168.6,177.5 L1166.0,179.0 L1163.4,177.5 L1163.4,174.5 L1166.0,173.0ZM1173.8,174.5 L1173.8,177.5 L1171.2,179.0 L1168.6,177.5 L1168.6,174.5 L1171.2,173.0ZM1179.0,174.5 L1179.0,177.5 L1176.4,179.0 L1173.8,177.5 L1173.8,174.5 L1176.4,173.0ZM1184.2,174.5 L1184.2,177.5 L1181.6,179.0 L1179.0,177.5 L1179.0,174.5 L1181.6,173.0ZM1189.4,174.5 L1189.4,177.5 L1186.8,179.0 L1184.2,177.5 L1184.2,174.5 L1186.8,173.0ZM1194.6,174.5 L1194.6,177.5 L1192.0,179.0 L1189.4,177.5 L1189.4,174.5 L1192.0,173.0ZM1199.8,174.5 L1199.8,177.5 L1197.2,179.0 L1194.6,177.5 L1194.6,174.5 L1197.2,173.0ZM1205.0,174.5 L1205.0,177.5 L1202.4,179.0 L1199.8,177.5 L1199.8,174.5 L1202.4,173.0ZM1210.2,174.5 L1210.2,177.5 L1207.6,179.0 L1205.0,177.5 L1205.0,174.5 L1207.6,173.0ZM1215.4,174.5 L1215.4,177.5 L1212.8,179.0 L1210.2,177.5 L1210.2,174.5 L1212.8,173.0ZM1220.6,174.5 L1220.6,177.5 L1218.0,179.0 L1215.4,177.5 L1215.4,174.5 L1218.0,173.0ZM1171.2,179.0 L1171.2,182.0 L1168.6,183.5 L1166.0,182.0 L1166.0,179.0 L1168.6,177.5ZM1176.4,179.0 L1176.4,182.0 L1173.8,183.5 L1171.2,182.0 L1171.2,179.0 L1173.8,177.5ZM1181.6,179.0 L1181.6,182.0 L1179.0,183.5 L1176.4,182.0 L1176.4,179.0 L1179.0,177.5ZM1186.8,179.0 L1186.8,182.0 L1184.2,183.5 L1181.6,182.0 L1181.6,179.0 L1184.2,177.5ZM1192.0,179.0 L1192.0,182.0 L1189.4,183.5 L1186.8,182.0 L1186.8,179.0 L1189.4,177.5ZM1197.2,179.0 L1197.2,182.0 L1194.6,183.5 L1192.0,182.0 L1192.0,179.0 L1194.6,177.5ZM1202.4,179.0 L1202.4,182.0 L1199.8,183.5 L1197.2,182.0 L1197.2,179.0 L1199.8,177.5ZM1207.6,179.0 L1207.6,182.0 L1205.0,183.5 L1202.4,182.0 L1202.4,179.0 L1205.0,177.5ZM1212.8,179.0 L1212.8,182.0 L1210.2,183.5 L1207.6,182.0 L1207.6,179.0 L1210.2,177.5ZM1218.0,179.0 L1218.0,182.0 L1215.4,183.5 L1212.8,182.0 L1212.8,179.0 L1215.4,177.5ZM1223.2,179.0 L1223.2,182.0 L1220.6,183.5 L1218.0,182.0 L1218.0,179.0 L1220.6,177.5ZM1168.6,183.5 L1168.6,186.5 L1166.0,188.0 L1163.4,186.5 L1163.4,183.5 L1166.0,182.0ZM1173.8,183.5 L1173.8,186.5 L1171.2,188.0 L1168.6,186.5 L1168.6,183.5 L1171.2,182.0ZM1179.0,183.5 L1179.0,186.5 L1176.4,188.0 L1173.8,186.5 L1173.8,183.5 L1176.4,182.0ZM1184.2,183.5 L1184.2,186.5 L1181.6,188.0 L1179.0,186.5 L1179.0,183.5 L1181.6,182.0ZM1189.4,183.5 L1189.4,186.5 L1186.8,188.0 L1184.2,186.5 L1184.2,183.5 L1186.8,182.0ZM1194.6,183.5 L1194.6,186.5 L1192.0,188.0 L1189.4,186.5 L1189.4,183.5 L1192.0,182.0ZM1199.8,183.5 L1199.8,186.5 L1197.2,188.0 L1194.6,186.5 L1194.6,183.5 L1197.2,182.0ZM1205.0,183.5 L1205.0,186.5 L1202.4,188.0 L1199.8,186.5 L1199.8,183.5 L1202.4,182.0ZM1210.2,183.5 L1210.2,186.5 L1207.6,188.0 L1205.0,186.5 L1205.0,183.5 L1207.6,182.0ZM1215.4,183.5 L1215.4,186.5 L1212.8,188.0 L1210.2,186.5 L1210.2,183.5 L1212.8,182.0ZM1220.6,183.5 L1220.6,186.5 L1218.0,188.0 L1215.4,186.5 L1215.4,183.5 L1218.0,182.0ZM1171.2,188.0 L1171.2,191.0 L1168.6,192.5 L1166.0,191.0 L1166.0,188.0 L1168.6,186.5ZM1176.4,188.0 L1176.4,191.0 L1173.8,192.5 L1171.2,191.0 L1171.2,188.0 L1173.8,186.5ZM1181.6,188.0 L1181.6,191.0 L1179.0,192.5 L1176.4,191.0 L1176.4,188.0 L1179.0,186.5ZM1186.8,188.0 L1186.8,191.0 L1184.2,192.5 L1181.6,191.0 L1181.6,188.0 L1184.2,186.5ZM1192.0,188.0 L1192.0,191.0 L1189.4,192.5 L1186.8,191.0 L1186.8,188.0 L1189.4,186.5ZM1197.2,188.0 L1197.2,191.0 L1194.6,192.5 L1192.0,191.0 L1192.0,188.0 L1194.6,186.5ZM1202.4,188.0 L1202.4,191.0 L1199.8,192.5 L1197.2,191.0 L1197.2,188.0 L1199.8,186.5ZM1207.6,188.0 L1207.6,191.0 L1205.0,192.5 L1202.4,191.0 L1202.4,188.0 L1205.0,186.5ZM1212.8,188.0 L1212.8,191.0 L1210.2,192.5 L1207.6,191.0 L1207.6,188.0 L1210.2,186.5ZM1218.0,188.0 L1218.0,191.0 L1215.4,192.5 L1212.8,191.0 L1212.8,188.0 L1215.4,186.5ZM1223.2,188.0 L1223.2,191.0 L1220.6,192.5 L1218.0,191.0 L1218.0,188.0 L1220.6,186.5ZM1168.6,192.5 L1168.6,195.5 L1166.0,197.0 L1163.4,195.5 L1163.4,192.5 L1166.0,191.0ZM1173.8,192.5 L1173.8,195.5 L1171.2,197.0 L1168.6,195.5 L1168.6,192.5 L1171.2,191.0ZM1179.0,192.5 L1179.0,195.5 L1176.4,197.0 L1173.8,195.5 L1173.8,192.5 L1176.4,191.0ZM1184.2,192.5 L1184.2,195.5 L1181.6,197.0 L1179.0,195.5 L1179.0,192.5 L1181.6,191.0ZM1189.4,192.5 L1189.4,195.5 L1186.8,197.0 L1184.2,195.5 L1184.2,192.5 L1186.8,191.0ZM1194.6,192.5 L1194.6,195.5 L1192.0,197.0 L1189.4,195.5 L1189.4,192.5 L1192.0,191.0ZM1199.8,192.5 L1199.8,195.5 L1197.2,197.0 L1194.6,195.5 L1194.6,192.5 L1197.2,191.0ZM1205.0,192.5 L1205.0,195.5 L1202.4,197.0 L1199.8,195.5 L1199.8,192.5 L1202.4,191.0ZM1210.2,192.5 L1210.2,195.5 L1207.6,197.0 L1205.0,195.5 L1205.0,192.5 L1207.6,191.0ZM1215.4,192.5 L1215.4,195.5 L1212.8,197.0 L1210.2,195.5 L1210.2,192.5 L1212.8,191.0ZM1220.6,192.5 L1220.6,195.5 L1218.0,197.0 L1215.4,195.5 L1215.4,192.5 L1218.0,191.0ZM1171.2,197.0 L1171.2,200.0 L1168.6,201.5 L1166.0,200.0 L1166.0,197.0 L1168.6,195.5ZM1176.4,197.0 L1176.4,200.0 L1173.8,201.5 L1171.2,200.0 L1171.2,197.0 L1173.8,195.5ZM1181.6,197.0 L1181.6,200.0 L1179.0,201.5 L1176.4,200.0 L1176.4,197.0 L1179.0,195.5ZM1186.8,197.0 L1186.8,200.0 L1184.2,201.5 L1181.6,200.0 L1181.6,197.0 L1184.2,195.5ZM1192.0,197.0 L1192.0,200.0 L1189.4,201.5 L1186.8,200.0 L1186.8,197.0 L1189.4,195.5ZM1197.2,197.0 L1197.2,200.0 L1194.6,201.5 L1192.0,200.0 L1192.0,197.0 L1194.6,195.5ZM1202.4,197.0 L1202.4,200.0 L1199.8,201.5 L1197.2,200.0 L1197.2,197.0 L1199.8,195.5ZM1207.6,197.0 L1207.6,200.0 L1205.0,201.5 L1202.4,200.0 L1202.4,197.0 L1205.0,195.5ZM1212.8,197.0 L1212.8,200.0 L1210.2,201.5 L1207.6,200.0 L1207.6,197.0 L1210.2,195.5ZM1218.0,197.0 L1218.0,200.0 L1215.4,201.5 L1212.8,200.0 L1212.8,197.0 L1215.4,195.5ZM1223.2,197.0 L1223.2,200.0 L1220.6,201.5 L1218.0,200.0 L1218.0,197.0 L1220.6,195.5ZM1168.6,201.5 L1168.6,204.5 L1166.0,206.0 L1163.4,204.5 L1163.4,201.5 L1166.0,200.0ZM1173.8,201.5 L1173.8,204.5 L1171.2,206.0 L1168.6,204.5 L1168.6,201.5 L1171.2,200.0ZM1179.0,201.5 L1179.0,204.5 L1176.4,206.0 L1173.8,204.5 L1173.8,201.5 L1176.4,200.0ZM1184.2,201.5 L1184.2,204.5 L1181.6,206.0 L1179.0,204.5 L1179.0,201.5 L1181.6,200.0ZM1189.4,201.5 L1189.4,204.5 L1186.8,206.0 L1184.2,204.5 L1184.2,201.5 L1186.8,200.0ZM1194.6,201.5 L1194.6,204.5 L1192.0,206.0 L1189.4,204.5 L1189.4,201.5 L1192.0,200.0ZM1199.8,201.5 L1199.8,204.5 L1197.2,206.0 L1194.6,204.5 L1194.6,201.5 L1197.2,200.0ZM1205.0,201.5 L1205.0,204.5 L1202.4,206.0 L1199.8,204.5 L1199.8,201.5 L1202.4,200.0ZM1210.2,201.5 L1210.2,204.5 L1207.6,206.0 L1205.0,204.5 L1205.0,201.5 L1207.6,200.0ZM1215.4,201.5 L1215.4,204.5 L1212.8,206.0 L1210.2,204.5 L1210.2,201.5 L1212.8,200.0ZM1220.6,201.5 L1220.6,204.5 L1218.0,206.0 L1215.4,204.5 L1215.4,201.5 L1218.0,200.0ZM1171.2,206.0 L1171.2,209.0 L1168.6,210.5 L1166.0,209.0 L1166.0,206.0 L1168.6,204.5ZM1176.4,206.0 L1176.4,209.0 L1173.8,210.5 L1171.2,209.0 L1171.2,206.0 L1173.8,204.5ZM1181.6,206.0 L1181.6,209.0 L1179.0,210.5 L1176.4,209.0 L1176.4,206.0 L1179.0,204.5ZM1186.8,206.0 L1186.8,209.0 L1184.2,210.5 L1181.6,209.0 L1181.6,206.0 L1184.2,204.5ZM1192.0,206.0 L1192.0,209.0 L1189.4,210.5 L1186.8,209.0 L1186.8,206.0 L1189.4,204.5ZM1197.2,206.0 L1197.2,209.0 L1194.6,210.5 L1192.0,209.0 L1192.0,206.0 L1194.6,204.5ZM1202.4,206.0 L1202.4,209.0 L1199.8,210.5 L1197.2,209.0 L1197.2,206.0 L1199.8,204.5ZM1207.6,206.0 L1207.6,209.0 L1205.0,210.5 L1202.4,209.0 L1202.4,206.0 L1205.0,204.5ZM1212.8,206.0 L1212.8,209.0 L1210.2,210.5 L1207.6,209.0 L1207.6,206.0 L1210.2,204.5ZM1218.0,206.0 L1218.0,209.0 L1215.4,210.5 L1212.8,209.0 L1212.8,206.0 L1215.4,204.5ZM1223.2,206.0 L1223.2,209.0 L1220.6,210.5 L1218.0,209.0 L1218.0,206.0 L1220.6,204.5ZM1168.6,210.5 L1168.6,213.5 L1166.0,215.0 L1163.4,213.5 L1163.4,210.5 L1166.0,209.0ZM1173.8,210.5 L1173.8,213.5 L1171.2,215.0 L1168.6,213.5 L1168.6,210.5 L1171.2,209.0ZM1179.0,210.5 L1179.0,213.5 L1176.4,215.0 L1173.8,213.5 L1173.8,210.5 L1176.4,209.0ZM1184.2,210.5 L1184.2,213.5 L1181.6,215.0 L1179.0,213.5 L1179.0,210.5 L1181.6,209.0ZM1189.4,210.5 L1189.4,213.5 L1186.8,215.0 L1184.2,213.5 L1184.2,210.5 L1186.8,209.0ZM1194.6,210.5 L1194.6,213.5 L1192.0,215.0 L1189.4,213.5 L1189.4,210.5 L1192.0,209.0ZM1199.8,210.5 L1199.8,213.5 L1197.2,215.0 L1194.6,213.5 L1194.6,210.5 L1197.2,209.0ZM1205.0,210.5 L1205.0,213.5 L1202.4,215.0 L1199.8,213.5 L1199.8,210.5 L1202.4,209.0ZM1210.2,210.5 L1210.2,213.5 L1207.6,215.0 L1205.0,213.5 L1205.0,210.5 L1207.6,209.0ZM1215.4,210.5 L1215.4,213.5 L1212.8,215.0 L1210.2,213.5 L1210.2,210.5 L1212.8,209.0ZM1220.6,210.5 L1220.6,213.5 L1218.0,215.0 L1215.4,213.5 L1215.4,210.5 L1218.0,209.0ZM1171.2,215.0 L1171.2,218.0 L1168.6,219.5 L1166.0,218.0 L1166.0,215.0 L1168.6,213.5ZM1176.4,215.0 L1176.4,218.0 L1173.8,219.5 L1171.2,218.0 L1171.2,215.0 L1173.8,213.5ZM1181.6,215.0 L1181.6,218.0 L1179.0,219.5 L1176.4,218.0 L1176.4,215.0 L1179.0,213.5ZM1186.8,215.0 L1186.8,218.0 L1184.2,219.5 L1181.6,218.0 L1181.6,215.0 L1184.2,213.5ZM1192.0,215.0 L1192.0,218.0 L1189.4,219.5 L1186.8,218.0 L1186.8,215.0 L1189.4,213.5ZM1197.2,215.0 L1197.2,218.0 L1194.6,219.5 L1192.0,218.0 L1192.0,215.0 L1194.6,213.5ZM1202.4,215.0 L1202.4,218.0 L1199.8,219.5 L1197.2,218.0 L1197.2,215.0 L1199.8,213.5ZM1207.6,215.0 L1207.6,218.0 L1205.0,219.5 L1202.4,218.0 L1202.4,215.0 L1205.0,213.5ZM1212.8,215.0 L1212.8,218.0 L1210.2,219.5 L1207.6,218.0 L1207.6,215.0 L1210.2,213.5ZM1218.0,215.0 L1218.0,218.0 L1215.4,219.5 L1212.8,218.0 L1212.8,215.0 L1215.4,213.5ZM1223.2,215.0 L1223.2,218.0 L1220.6,219.5 L1218.0,218.0 L1218.0,215.0 L1220.6,213.5Z" stroke="#d890a8" stroke-width="0.8" fill="none" opacity="0.5"/><path d="M1168,188 Q1164,200 1174,210" stroke="#a8b8b0" stroke-width="3" fill="none" opacity="0.8"/></g><polygon fill="#f77010" points="1236.0,249.2 1232.7,252.1 1234.6,255.6 1230.2,257.7 1230.6,261.4 1225.5,262.4 1224.3,266.0 1219.1,265.8 1216.3,269.0 1211.5,267.6 1207.5,270.0 1203.5,267.6 1198.7,269.0 1195.9,265.8 1190.7,266.0 1189.5,262.4 1184.4,261.4 1184.8,257.7 1180.4,255.6 1182.3,252.1 1179.0,249.2 1182.3,246.3 1180.4,242.8 1184.8,240.7 1184.4,237.0 1189.5,236.0 1190.7,232.4 1195.9,232.6 1198.7,229.4 1203.5,230.8 1207.5,228.4 1211.5,230.8 1216.3,229.4 1219.1,232.6 1224.3,232.4 1225.5,236.0 1230.6,237.0 1230.2,240.7 1234.6,242.8 1232.7,246.3"/><line x1="1151" y1="304" x2="1287" y2="284" stroke="#0c0c0c" stroke-width="13" stroke-linecap="round"/><line x1="1160" y1="302" x2="1280" y2="285" stroke="#666" stroke-width="1.6" stroke-linecap="round"/><path fill="#000" d="M331,403 C351.1,525.4 530.8,610 625,671 L634,658 L697,731 L600,725 L604,704 C490.2,635.9 337.8,554.1 331,403 Z"/><clipPath id="cqd"><circle cx="365" cy="666" r="94"/></clipPath><circle cx="365" cy="666" r="94" fill="#22ee48"/><g clip-path="url(#cqd)" fill="#0c9a2a"><ellipse cx="268.0" cy="570.0" rx="2.8" ry="2.2"/><ellipse cx="276.0" cy="570.0" rx="2.8" ry="2.2"/><ellipse cx="284.0" cy="570.0" rx="2.8" ry="2.2"/><ellipse cx="292.0" cy="570.0" rx="2.8" ry="2.2"/><ellipse cx="300.0" cy="570.0" rx="2.8" ry="2.2"/><ellipse cx="308.0" cy="570.0" rx="2.8" ry="2.2"/><ellipse cx="316.0" cy="570.0" rx="2.8" ry="2.2"/><ellipse cx="324.0" cy="570.0" rx="2.8" ry="2.2"/><ellipse cx="332.0" cy="570.0" rx="2.8" ry="2.2"/><ellipse cx="340.0" cy="570.0" rx="2.8" ry="2.2"/><ellipse cx="348.0" cy="570.0" rx="2.8" ry="2.2"/><ellipse cx="356.0" cy="570.0" rx="2.8" ry="2.2"/><ellipse cx="364.0" cy="570.0" rx="2.8" ry="2.2"/><ellipse cx="372.0" cy="570.0" rx="2.8" ry="2.2"/><ellipse cx="380.0" cy="570.0" rx="2.8" ry="2.2"/><ellipse cx="388.0" cy="570.0" rx="2.8" ry="2.2"/><ellipse cx="396.0" cy="570.0" rx="2.8" ry="2.2"/><ellipse cx="404.0" cy="570.0" rx="2.8" ry="2.2"/><ellipse cx="412.0" cy="570.0" rx="2.8" ry="2.2"/><ellipse cx="420.0" cy="570.0" rx="2.8" ry="2.2"/><ellipse cx="428.0" cy="570.0" rx="2.8" ry="2.2"/><ellipse cx="436.0" cy="570.0" rx="2.8" ry="2.2"/><ellipse cx="444.0" cy="570.0" rx="2.8" ry="2.2"/><ellipse cx="452.0" cy="570.0" rx="2.8" ry="2.2"/><ellipse cx="460.0" cy="570.0" rx="2.8" ry="2.2"/><ellipse cx="468.0" cy="570.0" rx="2.8" ry="2.2"/><ellipse cx="272.0" cy="577.0" rx="2.8" ry="2.2"/><ellipse cx="280.0" cy="577.0" rx="2.8" ry="2.2"/><ellipse cx="288.0" cy="577.0" rx="2.8" ry="2.2"/><ellipse cx="296.0" cy="577.0" rx="2.8" ry="2.2"/><ellipse cx="304.0" cy="577.0" rx="2.8" ry="2.2"/><ellipse cx="312.0" cy="577.0" rx="2.8" ry="2.2"/><ellipse cx="320.0" cy="577.0" rx="2.8" ry="2.2"/><ellipse cx="328.0" cy="577.0" rx="2.8" ry="2.2"/><ellipse cx="336.0" cy="577.0" rx="2.8" ry="2.2"/><ellipse cx="344.0" cy="577.0" rx="2.8" ry="2.2"/><ellipse cx="352.0" cy="577.0" rx="2.8" ry="2.2"/><ellipse cx="360.0" cy="577.0" rx="2.8" ry="2.2"/><ellipse cx="368.0" cy="577.0" rx="2.8" ry="2.2"/><ellipse cx="376.0" cy="577.0" rx="2.8" ry="2.2"/><ellipse cx="384.0" cy="577.0" rx="2.8" ry="2.2"/><ellipse cx="392.0" cy="577.0" rx="2.8" ry="2.2"/><ellipse cx="400.0" cy="577.0" rx="2.8" ry="2.2"/><ellipse cx="408.0" cy="577.0" rx="2.8" ry="2.2"/><ellipse cx="416.0" cy="577.0" rx="2.8" ry="2.2"/><ellipse cx="424.0" cy="577.0" rx="2.8" ry="2.2"/><ellipse cx="432.0" cy="577.0" rx="2.8" ry="2.2"/><ellipse cx="440.0" cy="577.0" rx="2.8" ry="2.2"/><ellipse cx="448.0" cy="577.0" rx="2.8" ry="2.2"/><ellipse cx="456.0" cy="577.0" rx="2.8" ry="2.2"/><ellipse cx="464.0" cy="577.0" rx="2.8" ry="2.2"/><ellipse cx="472.0" cy="577.0" rx="2.8" ry="2.2"/><ellipse cx="268.0" cy="584.0" rx="2.8" ry="2.2"/><ellipse cx="276.0" cy="584.0" rx="2.8" ry="2.2"/><ellipse cx="284.0" cy="584.0" rx="2.8" ry="2.2"/><ellipse cx="292.0" cy="584.0" rx="2.8" ry="2.2"/><ellipse cx="300.0" cy="584.0" rx="2.8" ry="2.2"/><ellipse cx="308.0" cy="584.0" rx="2.8" ry="2.2"/><ellipse cx="316.0" cy="584.0" rx="2.8" ry="2.2"/><ellipse cx="324.0" cy="584.0" rx="2.8" ry="2.2"/><ellipse cx="332.0" cy="584.0" rx="2.8" ry="2.2"/><ellipse cx="340.0" cy="584.0" rx="2.8" ry="2.2"/><ellipse cx="348.0" cy="584.0" rx="2.8" ry="2.2"/><ellipse cx="356.0" cy="584.0" rx="2.8" ry="2.2"/><ellipse cx="364.0" cy="584.0" rx="2.8" ry="2.2"/><ellipse cx="372.0" cy="584.0" rx="2.8" ry="2.2"/><ellipse cx="380.0" cy="584.0" rx="2.8" ry="2.2"/><ellipse cx="388.0" cy="584.0" rx="2.8" ry="2.2"/><ellipse cx="396.0" cy="584.0" rx="2.8" ry="2.2"/><ellipse cx="404.0" cy="584.0" rx="2.8" ry="2.2"/><ellipse cx="412.0" cy="584.0" rx="2.8" ry="2.2"/><ellipse cx="420.0" cy="584.0" rx="2.8" ry="2.2"/><ellipse cx="428.0" cy="584.0" rx="2.8" ry="2.2"/><ellipse cx="436.0" cy="584.0" rx="2.8" ry="2.2"/><ellipse cx="444.0" cy="584.0" rx="2.8" ry="2.2"/><ellipse cx="452.0" cy="584.0" rx="2.8" ry="2.2"/><ellipse cx="460.0" cy="584.0" rx="2.8" ry="2.2"/><ellipse cx="468.0" cy="584.0" rx="2.8" ry="2.2"/><ellipse cx="272.0" cy="591.0" rx="2.8" ry="2.2"/><ellipse cx="280.0" cy="591.0" rx="2.8" ry="2.2"/><ellipse cx="288.0" cy="591.0" rx="2.8" ry="2.2"/><ellipse cx="296.0" cy="591.0" rx="2.8" ry="2.2"/><ellipse cx="304.0" cy="591.0" rx="2.8" ry="2.2"/><ellipse cx="312.0" cy="591.0" rx="2.8" ry="2.2"/><ellipse cx="320.0" cy="591.0" rx="2.8" ry="2.2"/><ellipse cx="328.0" cy="591.0" rx="2.8" ry="2.2"/><ellipse cx="336.0" cy="591.0" rx="2.8" ry="2.2"/><ellipse cx="344.0" cy="591.0" rx="2.8" ry="2.2"/><ellipse cx="352.0" cy="591.0" rx="2.8" ry="2.2"/><ellipse cx="360.0" cy="591.0" rx="2.8" ry="2.2"/><ellipse cx="368.0" cy="591.0" rx="2.8" ry="2.2"/><ellipse cx="376.0" cy="591.0" rx="2.8" ry="2.2"/><ellipse cx="384.0" cy="591.0" rx="2.8" ry="2.2"/><ellipse cx="392.0" cy="591.0" rx="2.8" ry="2.2"/><ellipse cx="400.0" cy="591.0" rx="2.8" ry="2.2"/><ellipse cx="408.0" cy="591.0" rx="2.8" ry="2.2"/><ellipse cx="416.0" cy="591.0" rx="2.8" ry="2.2"/><ellipse cx="424.0" cy="591.0" rx="2.8" ry="2.2"/><ellipse cx="432.0" cy="591.0" rx="2.8" ry="2.2"/><ellipse cx="440.0" cy="591.0" rx="2.8" ry="2.2"/><ellipse cx="448.0" cy="591.0" rx="2.8" ry="2.2"/><ellipse cx="456.0" cy="591.0" rx="2.8" ry="2.2"/><ellipse cx="464.0" cy="591.0" rx="2.8" ry="2.2"/><ellipse cx="472.0" cy="591.0" rx="2.8" ry="2.2"/><ellipse cx="268.0" cy="598.0" rx="2.8" ry="2.2"/><ellipse cx="276.0" cy="598.0" rx="2.8" ry="2.2"/><ellipse cx="284.0" cy="598.0" rx="2.8" ry="2.2"/><ellipse cx="292.0" cy="598.0" rx="2.8" ry="2.2"/><ellipse cx="300.0" cy="598.0" rx="2.8" ry="2.2"/><ellipse cx="308.0" cy="598.0" rx="2.8" ry="2.2"/><ellipse cx="316.0" cy="598.0" rx="2.8" ry="2.2"/><ellipse cx="324.0" cy="598.0" rx="2.8" ry="2.2"/><ellipse cx="332.0" cy="598.0" rx="2.8" ry="2.2"/><ellipse cx="340.0" cy="598.0" rx="2.8" ry="2.2"/><ellipse cx="348.0" cy="598.0" rx="2.8" ry="2.2"/><ellipse cx="356.0" cy="598.0" rx="2.8" ry="2.2"/><ellipse cx="364.0" cy="598.0" rx="2.8" ry="2.2"/><ellipse cx="372.0" cy="598.0" rx="2.8" ry="2.2"/><ellipse cx="380.0" cy="598.0" rx="2.8" ry="2.2"/><ellipse cx="388.0" cy="598.0" rx="2.8" ry="2.2"/><ellipse cx="396.0" cy="598.0" rx="2.8" ry="2.2"/><ellipse cx="404.0" cy="598.0" rx="2.8" ry="2.2"/><ellipse cx="412.0" cy="598.0" rx="2.8" ry="2.2"/><ellipse cx="420.0" cy="598.0" rx="2.8" ry="2.2"/><ellipse cx="428.0" cy="598.0" rx="2.8" ry="2.2"/><ellipse cx="436.0" cy="598.0" rx="2.8" ry="2.2"/><ellipse cx="444.0" cy="598.0" rx="2.8" ry="2.2"/><ellipse cx="452.0" cy="598.0" rx="2.8" ry="2.2"/><ellipse cx="460.0" cy="598.0" rx="2.8" ry="2.2"/><ellipse cx="468.0" cy="598.0" rx="2.8" ry="2.2"/><ellipse cx="272.0" cy="605.0" rx="2.8" ry="2.2"/><ellipse cx="280.0" cy="605.0" rx="2.8" ry="2.2"/><ellipse cx="288.0" cy="605.0" rx="2.8" ry="2.2"/><ellipse cx="296.0" cy="605.0" rx="2.8" ry="2.2"/><ellipse cx="304.0" cy="605.0" rx="2.8" ry="2.2"/><ellipse cx="312.0" cy="605.0" rx="2.8" ry="2.2"/><ellipse cx="320.0" cy="605.0" rx="2.8" ry="2.2"/><ellipse cx="328.0" cy="605.0" rx="2.8" ry="2.2"/><ellipse cx="336.0" cy="605.0" rx="2.8" ry="2.2"/><ellipse cx="344.0" cy="605.0" rx="2.8" ry="2.2"/><ellipse cx="352.0" cy="605.0" rx="2.8" ry="2.2"/><ellipse cx="360.0" cy="605.0" rx="2.8" ry="2.2"/><ellipse cx="368.0" cy="605.0" rx="2.8" ry="2.2"/><ellipse cx="376.0" cy="605.0" rx="2.8" ry="2.2"/><ellipse cx="384.0" cy="605.0" rx="2.8" ry="2.2"/><ellipse cx="392.0" cy="605.0" rx="2.8" ry="2.2"/><ellipse cx="400.0" cy="605.0" rx="2.8" ry="2.2"/><ellipse cx="408.0" cy="605.0" rx="2.8" ry="2.2"/><ellipse cx="416.0" cy="605.0" rx="2.8" ry="2.2"/><ellipse cx="424.0" cy="605.0" rx="2.8" ry="2.2"/><ellipse cx="432.0" cy="605.0" rx="2.8" ry="2.2"/><ellipse cx="440.0" cy="605.0" rx="2.8" ry="2.2"/><ellipse cx="448.0" cy="605.0" rx="2.8" ry="2.2"/><ellipse cx="456.0" cy="605.0" rx="2.8" ry="2.2"/><ellipse cx="464.0" cy="605.0" rx="2.8" ry="2.2"/><ellipse cx="472.0" cy="605.0" rx="2.8" ry="2.2"/><ellipse cx="268.0" cy="612.0" rx="2.8" ry="2.2"/><ellipse cx="276.0" cy="612.0" rx="2.8" ry="2.2"/><ellipse cx="284.0" cy="612.0" rx="2.8" ry="2.2"/><ellipse cx="292.0" cy="612.0" rx="2.8" ry="2.2"/><ellipse cx="300.0" cy="612.0" rx="2.8" ry="2.2"/><ellipse cx="308.0" cy="612.0" rx="2.8" ry="2.2"/><ellipse cx="316.0" cy="612.0" rx="2.8" ry="2.2"/><ellipse cx="324.0" cy="612.0" rx="2.8" ry="2.2"/><ellipse cx="332.0" cy="612.0" rx="2.8" ry="2.2"/><ellipse cx="340.0" cy="612.0" rx="2.8" ry="2.2"/><ellipse cx="348.0" cy="612.0" rx="2.8" ry="2.2"/><ellipse cx="356.0" cy="612.0" rx="2.8" ry="2.2"/><ellipse cx="364.0" cy="612.0" rx="2.8" ry="2.2"/><ellipse cx="372.0" cy="612.0" rx="2.8" ry="2.2"/><ellipse cx="380.0" cy="612.0" rx="2.8" ry="2.2"/><ellipse cx="388.0" cy="612.0" rx="2.8" ry="2.2"/><ellipse cx="396.0" cy="612.0" rx="2.8" ry="2.2"/><ellipse cx="404.0" cy="612.0" rx="2.8" ry="2.2"/><ellipse cx="412.0" cy="612.0" rx="2.8" ry="2.2"/><ellipse cx="420.0" cy="612.0" rx="2.8" ry="2.2"/><ellipse cx="428.0" cy="612.0" rx="2.8" ry="2.2"/><ellipse cx="436.0" cy="612.0" rx="2.8" ry="2.2"/><ellipse cx="444.0" cy="612.0" rx="2.8" ry="2.2"/><ellipse cx="452.0" cy="612.0" rx="2.8" ry="2.2"/><ellipse cx="460.0" cy="612.0" rx="2.8" ry="2.2"/><ellipse cx="468.0" cy="612.0" rx="2.8" ry="2.2"/><ellipse cx="272.0" cy="619.0" rx="2.8" ry="2.2"/><ellipse cx="280.0" cy="619.0" rx="2.8" ry="2.2"/><ellipse cx="288.0" cy="619.0" rx="2.8" ry="2.2"/><ellipse cx="296.0" cy="619.0" rx="2.8" ry="2.2"/><ellipse cx="304.0" cy="619.0" rx="2.8" ry="2.2"/><ellipse cx="312.0" cy="619.0" rx="2.8" ry="2.2"/><ellipse cx="320.0" cy="619.0" rx="2.8" ry="2.2"/><ellipse cx="328.0" cy="619.0" rx="2.8" ry="2.2"/><ellipse cx="336.0" cy="619.0" rx="2.8" ry="2.2"/><ellipse cx="344.0" cy="619.0" rx="2.8" ry="2.2"/><ellipse cx="352.0" cy="619.0" rx="2.8" ry="2.2"/><ellipse cx="360.0" cy="619.0" rx="2.8" ry="2.2"/><ellipse cx="368.0" cy="619.0" rx="2.8" ry="2.2"/><ellipse cx="376.0" cy="619.0" rx="2.8" ry="2.2"/><ellipse cx="384.0" cy="619.0" rx="2.8" ry="2.2"/><ellipse cx="392.0" cy="619.0" rx="2.8" ry="2.2"/><ellipse cx="400.0" cy="619.0" rx="2.8" ry="2.2"/><ellipse cx="408.0" cy="619.0" rx="2.8" ry="2.2"/><ellipse cx="416.0" cy="619.0" rx="2.8" ry="2.2"/><ellipse cx="424.0" cy="619.0" rx="2.8" ry="2.2"/><ellipse cx="432.0" cy="619.0" rx="2.8" ry="2.2"/><ellipse cx="440.0" cy="619.0" rx="2.8" ry="2.2"/><ellipse cx="448.0" cy="619.0" rx="2.8" ry="2.2"/><ellipse cx="456.0" cy="619.0" rx="2.8" ry="2.2"/><ellipse cx="464.0" cy="619.0" rx="2.8" ry="2.2"/><ellipse cx="472.0" cy="619.0" rx="2.8" ry="2.2"/><ellipse cx="268.0" cy="626.0" rx="2.8" ry="2.2"/><ellipse cx="276.0" cy="626.0" rx="2.8" ry="2.2"/><ellipse cx="284.0" cy="626.0" rx="2.8" ry="2.2"/><ellipse cx="292.0" cy="626.0" rx="2.8" ry="2.2"/><ellipse cx="300.0" cy="626.0" rx="2.8" ry="2.2"/><ellipse cx="308.0" cy="626.0" rx="2.8" ry="2.2"/><ellipse cx="316.0" cy="626.0" rx="2.8" ry="2.2"/><ellipse cx="324.0" cy="626.0" rx="2.8" ry="2.2"/><ellipse cx="332.0" cy="626.0" rx="2.8" ry="2.2"/><ellipse cx="340.0" cy="626.0" rx="2.8" ry="2.2"/><ellipse cx="348.0" cy="626.0" rx="2.8" ry="2.2"/><ellipse cx="356.0" cy="626.0" rx="2.8" ry="2.2"/><ellipse cx="364.0" cy="626.0" rx="2.8" ry="2.2"/><ellipse cx="372.0" cy="626.0" rx="2.8" ry="2.2"/><ellipse cx="380.0" cy="626.0" rx="2.8" ry="2.2"/><ellipse cx="388.0" cy="626.0" rx="2.8" ry="2.2"/><ellipse cx="396.0" cy="626.0" rx="2.8" ry="2.2"/><ellipse cx="404.0" cy="626.0" rx="2.8" ry="2.2"/><ellipse cx="412.0" cy="626.0" rx="2.8" ry="2.2"/><ellipse cx="420.0" cy="626.0" rx="2.8" ry="2.2"/><ellipse cx="428.0" cy="626.0" rx="2.8" ry="2.2"/><ellipse cx="436.0" cy="626.0" rx="2.8" ry="2.2"/><ellipse cx="444.0" cy="626.0" rx="2.8" ry="2.2"/><ellipse cx="452.0" cy="626.0" rx="2.8" ry="2.2"/><ellipse cx="460.0" cy="626.0" rx="2.8" ry="2.2"/><ellipse cx="468.0" cy="626.0" rx="2.8" ry="2.2"/><ellipse cx="272.0" cy="633.0" rx="2.8" ry="2.2"/><ellipse cx="280.0" cy="633.0" rx="2.8" ry="2.2"/><ellipse cx="288.0" cy="633.0" rx="2.8" ry="2.2"/><ellipse cx="296.0" cy="633.0" rx="2.8" ry="2.2"/><ellipse cx="304.0" cy="633.0" rx="2.8" ry="2.2"/><ellipse cx="312.0" cy="633.0" rx="2.8" ry="2.2"/><ellipse cx="320.0" cy="633.0" rx="2.8" ry="2.2"/><ellipse cx="328.0" cy="633.0" rx="2.8" ry="2.2"/><ellipse cx="336.0" cy="633.0" rx="2.8" ry="2.2"/><ellipse cx="344.0" cy="633.0" rx="2.8" ry="2.2"/><ellipse cx="352.0" cy="633.0" rx="2.8" ry="2.2"/><ellipse cx="360.0" cy="633.0" rx="2.8" ry="2.2"/><ellipse cx="368.0" cy="633.0" rx="2.8" ry="2.2"/><ellipse cx="376.0" cy="633.0" rx="2.8" ry="2.2"/><ellipse cx="384.0" cy="633.0" rx="2.8" ry="2.2"/><ellipse cx="392.0" cy="633.0" rx="2.8" ry="2.2"/><ellipse cx="400.0" cy="633.0" rx="2.8" ry="2.2"/><ellipse cx="408.0" cy="633.0" rx="2.8" ry="2.2"/><ellipse cx="416.0" cy="633.0" rx="2.8" ry="2.2"/><ellipse cx="424.0" cy="633.0" rx="2.8" ry="2.2"/><ellipse cx="432.0" cy="633.0" rx="2.8" ry="2.2"/><ellipse cx="440.0" cy="633.0" rx="2.8" ry="2.2"/><ellipse cx="448.0" cy="633.0" rx="2.8" ry="2.2"/><ellipse cx="456.0" cy="633.0" rx="2.8" ry="2.2"/><ellipse cx="464.0" cy="633.0" rx="2.8" ry="2.2"/><ellipse cx="472.0" cy="633.0" rx="2.8" ry="2.2"/><ellipse cx="268.0" cy="640.0" rx="2.8" ry="2.2"/><ellipse cx="276.0" cy="640.0" rx="2.8" ry="2.2"/><ellipse cx="284.0" cy="640.0" rx="2.8" ry="2.2"/><ellipse cx="292.0" cy="640.0" rx="2.8" ry="2.2"/><ellipse cx="300.0" cy="640.0" rx="2.8" ry="2.2"/><ellipse cx="308.0" cy="640.0" rx="2.8" ry="2.2"/><ellipse cx="316.0" cy="640.0" rx="2.8" ry="2.2"/><ellipse cx="324.0" cy="640.0" rx="2.8" ry="2.2"/><ellipse cx="332.0" cy="640.0" rx="2.8" ry="2.2"/><ellipse cx="340.0" cy="640.0" rx="2.8" ry="2.2"/><ellipse cx="348.0" cy="640.0" rx="2.8" ry="2.2"/><ellipse cx="356.0" cy="640.0" rx="2.8" ry="2.2"/><ellipse cx="364.0" cy="640.0" rx="2.8" ry="2.2"/><ellipse cx="372.0" cy="640.0" rx="2.8" ry="2.2"/><ellipse cx="380.0" cy="640.0" rx="2.8" ry="2.2"/><ellipse cx="388.0" cy="640.0" rx="2.8" ry="2.2"/><ellipse cx="396.0" cy="640.0" rx="2.8" ry="2.2"/><ellipse cx="404.0" cy="640.0" rx="2.8" ry="2.2"/><ellipse cx="412.0" cy="640.0" rx="2.8" ry="2.2"/><ellipse cx="420.0" cy="640.0" rx="2.8" ry="2.2"/><ellipse cx="428.0" cy="640.0" rx="2.8" ry="2.2"/><ellipse cx="436.0" cy="640.0" rx="2.8" ry="2.2"/><ellipse cx="444.0" cy="640.0" rx="2.8" ry="2.2"/><ellipse cx="452.0" cy="640.0" rx="2.8" ry="2.2"/><ellipse cx="460.0" cy="640.0" rx="2.8" ry="2.2"/><ellipse cx="468.0" cy="640.0" rx="2.8" ry="2.2"/><ellipse cx="272.0" cy="647.0" rx="2.8" ry="2.2"/><ellipse cx="280.0" cy="647.0" rx="2.8" ry="2.2"/><ellipse cx="288.0" cy="647.0" rx="2.8" ry="2.2"/><ellipse cx="296.0" cy="647.0" rx="2.8" ry="2.2"/><ellipse cx="304.0" cy="647.0" rx="2.8" ry="2.2"/><ellipse cx="312.0" cy="647.0" rx="2.8" ry="2.2"/><ellipse cx="320.0" cy="647.0" rx="2.8" ry="2.2"/><ellipse cx="328.0" cy="647.0" rx="2.8" ry="2.2"/><ellipse cx="336.0" cy="647.0" rx="2.8" ry="2.2"/><ellipse cx="344.0" cy="647.0" rx="2.8" ry="2.2"/><ellipse cx="352.0" cy="647.0" rx="2.8" ry="2.2"/><ellipse cx="360.0" cy="647.0" rx="2.8" ry="2.2"/><ellipse cx="368.0" cy="647.0" rx="2.8" ry="2.2"/><ellipse cx="376.0" cy="647.0" rx="2.8" ry="2.2"/><ellipse cx="384.0" cy="647.0" rx="2.8" ry="2.2"/><ellipse cx="392.0" cy="647.0" rx="2.8" ry="2.2"/><ellipse cx="400.0" cy="647.0" rx="2.8" ry="2.2"/><ellipse cx="408.0" cy="647.0" rx="2.8" ry="2.2"/><ellipse cx="416.0" cy="647.0" rx="2.8" ry="2.2"/><ellipse cx="424.0" cy="647.0" rx="2.8" ry="2.2"/><ellipse cx="432.0" cy="647.0" rx="2.8" ry="2.2"/><ellipse cx="440.0" cy="647.0" rx="2.8" ry="2.2"/><ellipse cx="448.0" cy="647.0" rx="2.8" ry="2.2"/><ellipse cx="456.0" cy="647.0" rx="2.8" ry="2.2"/><ellipse cx="464.0" cy="647.0" rx="2.8" ry="2.2"/><ellipse cx="472.0" cy="647.0" rx="2.8" ry="2.2"/><ellipse cx="268.0" cy="654.0" rx="2.8" ry="2.2"/><ellipse cx="276.0" cy="654.0" rx="2.8" ry="2.2"/><ellipse cx="284.0" cy="654.0" rx="2.8" ry="2.2"/><ellipse cx="292.0" cy="654.0" rx="2.8" ry="2.2"/><ellipse cx="300.0" cy="654.0" rx="2.8" ry="2.2"/><ellipse cx="308.0" cy="654.0" rx="2.8" ry="2.2"/><ellipse cx="316.0" cy="654.0" rx="2.8" ry="2.2"/><ellipse cx="324.0" cy="654.0" rx="2.8" ry="2.2"/><ellipse cx="332.0" cy="654.0" rx="2.8" ry="2.2"/><ellipse cx="340.0" cy="654.0" rx="2.8" ry="2.2"/><ellipse cx="348.0" cy="654.0" rx="2.8" ry="2.2"/><ellipse cx="356.0" cy="654.0" rx="2.8" ry="2.2"/><ellipse cx="364.0" cy="654.0" rx="2.8" ry="2.2"/><ellipse cx="372.0" cy="654.0" rx="2.8" ry="2.2"/><ellipse cx="380.0" cy="654.0" rx="2.8" ry="2.2"/><ellipse cx="388.0" cy="654.0" rx="2.8" ry="2.2"/><ellipse cx="396.0" cy="654.0" rx="2.8" ry="2.2"/><ellipse cx="404.0" cy="654.0" rx="2.8" ry="2.2"/><ellipse cx="412.0" cy="654.0" rx="2.8" ry="2.2"/><ellipse cx="420.0" cy="654.0" rx="2.8" ry="2.2"/><ellipse cx="428.0" cy="654.0" rx="2.8" ry="2.2"/><ellipse cx="436.0" cy="654.0" rx="2.8" ry="2.2"/><ellipse cx="444.0" cy="654.0" rx="2.8" ry="2.2"/><ellipse cx="452.0" cy="654.0" rx="2.8" ry="2.2"/><ellipse cx="460.0" cy="654.0" rx="2.8" ry="2.2"/><ellipse cx="468.0" cy="654.0" rx="2.8" ry="2.2"/><ellipse cx="272.0" cy="661.0" rx="2.8" ry="2.2"/><ellipse cx="280.0" cy="661.0" rx="2.8" ry="2.2"/><ellipse cx="288.0" cy="661.0" rx="2.8" ry="2.2"/><ellipse cx="296.0" cy="661.0" rx="2.8" ry="2.2"/><ellipse cx="304.0" cy="661.0" rx="2.8" ry="2.2"/><ellipse cx="312.0" cy="661.0" rx="2.8" ry="2.2"/><ellipse cx="320.0" cy="661.0" rx="2.8" ry="2.2"/><ellipse cx="328.0" cy="661.0" rx="2.8" ry="2.2"/><ellipse cx="336.0" cy="661.0" rx="2.8" ry="2.2"/><ellipse cx="344.0" cy="661.0" rx="2.8" ry="2.2"/><ellipse cx="352.0" cy="661.0" rx="2.8" ry="2.2"/><ellipse cx="360.0" cy="661.0" rx="2.8" ry="2.2"/><ellipse cx="368.0" cy="661.0" rx="2.8" ry="2.2"/><ellipse cx="376.0" cy="661.0" rx="2.8" ry="2.2"/><ellipse cx="384.0" cy="661.0" rx="2.8" ry="2.2"/><ellipse cx="392.0" cy="661.0" rx="2.8" ry="2.2"/><ellipse cx="400.0" cy="661.0" rx="2.8" ry="2.2"/><ellipse cx="408.0" cy="661.0" rx="2.8" ry="2.2"/><ellipse cx="416.0" cy="661.0" rx="2.8" ry="2.2"/><ellipse cx="424.0" cy="661.0" rx="2.8" ry="2.2"/><ellipse cx="432.0" cy="661.0" rx="2.8" ry="2.2"/><ellipse cx="440.0" cy="661.0" rx="2.8" ry="2.2"/><ellipse cx="448.0" cy="661.0" rx="2.8" ry="2.2"/><ellipse cx="456.0" cy="661.0" rx="2.8" ry="2.2"/><ellipse cx="464.0" cy="661.0" rx="2.8" ry="2.2"/><ellipse cx="472.0" cy="661.0" rx="2.8" ry="2.2"/><ellipse cx="268.0" cy="668.0" rx="2.8" ry="2.2"/><ellipse cx="276.0" cy="668.0" rx="2.8" ry="2.2"/><ellipse cx="284.0" cy="668.0" rx="2.8" ry="2.2"/><ellipse cx="292.0" cy="668.0" rx="2.8" ry="2.2"/><ellipse cx="300.0" cy="668.0" rx="2.8" ry="2.2"/><ellipse cx="308.0" cy="668.0" rx="2.8" ry="2.2"/><ellipse cx="316.0" cy="668.0" rx="2.8" ry="2.2"/><ellipse cx="324.0" cy="668.0" rx="2.8" ry="2.2"/><ellipse cx="332.0" cy="668.0" rx="2.8" ry="2.2"/><ellipse cx="340.0" cy="668.0" rx="2.8" ry="2.2"/><ellipse cx="348.0" cy="668.0" rx="2.8" ry="2.2"/><ellipse cx="356.0" cy="668.0" rx="2.8" ry="2.2"/><ellipse cx="364.0" cy="668.0" rx="2.8" ry="2.2"/><ellipse cx="372.0" cy="668.0" rx="2.8" ry="2.2"/><ellipse cx="380.0" cy="668.0" rx="2.8" ry="2.2"/><ellipse cx="388.0" cy="668.0" rx="2.8" ry="2.2"/><ellipse cx="396.0" cy="668.0" rx="2.8" ry="2.2"/><ellipse cx="404.0" cy="668.0" rx="2.8" ry="2.2"/><ellipse cx="412.0" cy="668.0" rx="2.8" ry="2.2"/><ellipse cx="420.0" cy="668.0" rx="2.8" ry="2.2"/><ellipse cx="428.0" cy="668.0" rx="2.8" ry="2.2"/><ellipse cx="436.0" cy="668.0" rx="2.8" ry="2.2"/><ellipse cx="444.0" cy="668.0" rx="2.8" ry="2.2"/><ellipse cx="452.0" cy="668.0" rx="2.8" ry="2.2"/><ellipse cx="460.0" cy="668.0" rx="2.8" ry="2.2"/><ellipse cx="468.0" cy="668.0" rx="2.8" ry="2.2"/><ellipse cx="272.0" cy="675.0" rx="2.8" ry="2.2"/><ellipse cx="280.0" cy="675.0" rx="2.8" ry="2.2"/><ellipse cx="288.0" cy="675.0" rx="2.8" ry="2.2"/><ellipse cx="296.0" cy="675.0" rx="2.8" ry="2.2"/><ellipse cx="304.0" cy="675.0" rx="2.8" ry="2.2"/><ellipse cx="312.0" cy="675.0" rx="2.8" ry="2.2"/><ellipse cx="320.0" cy="675.0" rx="2.8" ry="2.2"/><ellipse cx="328.0" cy="675.0" rx="2.8" ry="2.2"/><ellipse cx="336.0" cy="675.0" rx="2.8" ry="2.2"/><ellipse cx="344.0" cy="675.0" rx="2.8" ry="2.2"/><ellipse cx="352.0" cy="675.0" rx="2.8" ry="2.2"/><ellipse cx="360.0" cy="675.0" rx="2.8" ry="2.2"/><ellipse cx="368.0" cy="675.0" rx="2.8" ry="2.2"/><ellipse cx="376.0" cy="675.0" rx="2.8" ry="2.2"/><ellipse cx="384.0" cy="675.0" rx="2.8" ry="2.2"/><ellipse cx="392.0" cy="675.0" rx="2.8" ry="2.2"/><ellipse cx="400.0" cy="675.0" rx="2.8" ry="2.2"/><ellipse cx="408.0" cy="675.0" rx="2.8" ry="2.2"/><ellipse cx="416.0" cy="675.0" rx="2.8" ry="2.2"/><ellipse cx="424.0" cy="675.0" rx="2.8" ry="2.2"/><ellipse cx="432.0" cy="675.0" rx="2.8" ry="2.2"/><ellipse cx="440.0" cy="675.0" rx="2.8" ry="2.2"/><ellipse cx="448.0" cy="675.0" rx="2.8" ry="2.2"/><ellipse cx="456.0" cy="675.0" rx="2.8" ry="2.2"/><ellipse cx="464.0" cy="675.0" rx="2.8" ry="2.2"/><ellipse cx="472.0" cy="675.0" rx="2.8" ry="2.2"/><ellipse cx="268.0" cy="682.0" rx="2.8" ry="2.2"/><ellipse cx="276.0" cy="682.0" rx="2.8" ry="2.2"/><ellipse cx="284.0" cy="682.0" rx="2.8" ry="2.2"/><ellipse cx="292.0" cy="682.0" rx="2.8" ry="2.2"/><ellipse cx="300.0" cy="682.0" rx="2.8" ry="2.2"/><ellipse cx="308.0" cy="682.0" rx="2.8" ry="2.2"/><ellipse cx="316.0" cy="682.0" rx="2.8" ry="2.2"/><ellipse cx="324.0" cy="682.0" rx="2.8" ry="2.2"/><ellipse cx="332.0" cy="682.0" rx="2.8" ry="2.2"/><ellipse cx="340.0" cy="682.0" rx="2.8" ry="2.2"/><ellipse cx="348.0" cy="682.0" rx="2.8" ry="2.2"/><ellipse cx="356.0" cy="682.0" rx="2.8" ry="2.2"/><ellipse cx="364.0" cy="682.0" rx="2.8" ry="2.2"/><ellipse cx="372.0" cy="682.0" rx="2.8" ry="2.2"/><ellipse cx="380.0" cy="682.0" rx="2.8" ry="2.2"/><ellipse cx="388.0" cy="682.0" rx="2.8" ry="2.2"/><ellipse cx="396.0" cy="682.0" rx="2.8" ry="2.2"/><ellipse cx="404.0" cy="682.0" rx="2.8" ry="2.2"/><ellipse cx="412.0" cy="682.0" rx="2.8" ry="2.2"/><ellipse cx="420.0" cy="682.0" rx="2.8" ry="2.2"/><ellipse cx="428.0" cy="682.0" rx="2.8" ry="2.2"/><ellipse cx="436.0" cy="682.0" rx="2.8" ry="2.2"/><ellipse cx="444.0" cy="682.0" rx="2.8" ry="2.2"/><ellipse cx="452.0" cy="682.0" rx="2.8" ry="2.2"/><ellipse cx="460.0" cy="682.0" rx="2.8" ry="2.2"/><ellipse cx="468.0" cy="682.0" rx="2.8" ry="2.2"/><ellipse cx="272.0" cy="689.0" rx="2.8" ry="2.2"/><ellipse cx="280.0" cy="689.0" rx="2.8" ry="2.2"/><ellipse cx="288.0" cy="689.0" rx="2.8" ry="2.2"/><ellipse cx="296.0" cy="689.0" rx="2.8" ry="2.2"/><ellipse cx="304.0" cy="689.0" rx="2.8" ry="2.2"/><ellipse cx="312.0" cy="689.0" rx="2.8" ry="2.2"/><ellipse cx="320.0" cy="689.0" rx="2.8" ry="2.2"/><ellipse cx="328.0" cy="689.0" rx="2.8" ry="2.2"/><ellipse cx="336.0" cy="689.0" rx="2.8" ry="2.2"/><ellipse cx="344.0" cy="689.0" rx="2.8" ry="2.2"/><ellipse cx="352.0" cy="689.0" rx="2.8" ry="2.2"/><ellipse cx="360.0" cy="689.0" rx="2.8" ry="2.2"/><ellipse cx="368.0" cy="689.0" rx="2.8" ry="2.2"/><ellipse cx="376.0" cy="689.0" rx="2.8" ry="2.2"/><ellipse cx="384.0" cy="689.0" rx="2.8" ry="2.2"/><ellipse cx="392.0" cy="689.0" rx="2.8" ry="2.2"/><ellipse cx="400.0" cy="689.0" rx="2.8" ry="2.2"/><ellipse cx="408.0" cy="689.0" rx="2.8" ry="2.2"/><ellipse cx="416.0" cy="689.0" rx="2.8" ry="2.2"/><ellipse cx="424.0" cy="689.0" rx="2.8" ry="2.2"/><ellipse cx="432.0" cy="689.0" rx="2.8" ry="2.2"/><ellipse cx="440.0" cy="689.0" rx="2.8" ry="2.2"/><ellipse cx="448.0" cy="689.0" rx="2.8" ry="2.2"/><ellipse cx="456.0" cy="689.0" rx="2.8" ry="2.2"/><ellipse cx="464.0" cy="689.0" rx="2.8" ry="2.2"/><ellipse cx="472.0" cy="689.0" rx="2.8" ry="2.2"/><ellipse cx="268.0" cy="696.0" rx="2.8" ry="2.2"/><ellipse cx="276.0" cy="696.0" rx="2.8" ry="2.2"/><ellipse cx="284.0" cy="696.0" rx="2.8" ry="2.2"/><ellipse cx="292.0" cy="696.0" rx="2.8" ry="2.2"/><ellipse cx="300.0" cy="696.0" rx="2.8" ry="2.2"/><ellipse cx="308.0" cy="696.0" rx="2.8" ry="2.2"/><ellipse cx="316.0" cy="696.0" rx="2.8" ry="2.2"/><ellipse cx="324.0" cy="696.0" rx="2.8" ry="2.2"/><ellipse cx="332.0" cy="696.0" rx="2.8" ry="2.2"/><ellipse cx="340.0" cy="696.0" rx="2.8" ry="2.2"/><ellipse cx="348.0" cy="696.0" rx="2.8" ry="2.2"/><ellipse cx="356.0" cy="696.0" rx="2.8" ry="2.2"/><ellipse cx="364.0" cy="696.0" rx="2.8" ry="2.2"/><ellipse cx="372.0" cy="696.0" rx="2.8" ry="2.2"/><ellipse cx="380.0" cy="696.0" rx="2.8" ry="2.2"/><ellipse cx="388.0" cy="696.0" rx="2.8" ry="2.2"/><ellipse cx="396.0" cy="696.0" rx="2.8" ry="2.2"/><ellipse cx="404.0" cy="696.0" rx="2.8" ry="2.2"/><ellipse cx="412.0" cy="696.0" rx="2.8" ry="2.2"/><ellipse cx="420.0" cy="696.0" rx="2.8" ry="2.2"/><ellipse cx="428.0" cy="696.0" rx="2.8" ry="2.2"/><ellipse cx="436.0" cy="696.0" rx="2.8" ry="2.2"/><ellipse cx="444.0" cy="696.0" rx="2.8" ry="2.2"/><ellipse cx="452.0" cy="696.0" rx="2.8" ry="2.2"/><ellipse cx="460.0" cy="696.0" rx="2.8" ry="2.2"/><ellipse cx="468.0" cy="696.0" rx="2.8" ry="2.2"/><ellipse cx="272.0" cy="703.0" rx="2.8" ry="2.2"/><ellipse cx="280.0" cy="703.0" rx="2.8" ry="2.2"/><ellipse cx="288.0" cy="703.0" rx="2.8" ry="2.2"/><ellipse cx="296.0" cy="703.0" rx="2.8" ry="2.2"/><ellipse cx="304.0" cy="703.0" rx="2.8" ry="2.2"/><ellipse cx="312.0" cy="703.0" rx="2.8" ry="2.2"/><ellipse cx="320.0" cy="703.0" rx="2.8" ry="2.2"/><ellipse cx="328.0" cy="703.0" rx="2.8" ry="2.2"/><ellipse cx="336.0" cy="703.0" rx="2.8" ry="2.2"/><ellipse cx="344.0" cy="703.0" rx="2.8" ry="2.2"/><ellipse cx="352.0" cy="703.0" rx="2.8" ry="2.2"/><ellipse cx="360.0" cy="703.0" rx="2.8" ry="2.2"/><ellipse cx="368.0" cy="703.0" rx="2.8" ry="2.2"/><ellipse cx="376.0" cy="703.0" rx="2.8" ry="2.2"/><ellipse cx="384.0" cy="703.0" rx="2.8" ry="2.2"/><ellipse cx="392.0" cy="703.0" rx="2.8" ry="2.2"/><ellipse cx="400.0" cy="703.0" rx="2.8" ry="2.2"/><ellipse cx="408.0" cy="703.0" rx="2.8" ry="2.2"/><ellipse cx="416.0" cy="703.0" rx="2.8" ry="2.2"/><ellipse cx="424.0" cy="703.0" rx="2.8" ry="2.2"/><ellipse cx="432.0" cy="703.0" rx="2.8" ry="2.2"/><ellipse cx="440.0" cy="703.0" rx="2.8" ry="2.2"/><ellipse cx="448.0" cy="703.0" rx="2.8" ry="2.2"/><ellipse cx="456.0" cy="703.0" rx="2.8" ry="2.2"/><ellipse cx="464.0" cy="703.0" rx="2.8" ry="2.2"/><ellipse cx="472.0" cy="703.0" rx="2.8" ry="2.2"/><ellipse cx="268.0" cy="710.0" rx="2.8" ry="2.2"/><ellipse cx="276.0" cy="710.0" rx="2.8" ry="2.2"/><ellipse cx="284.0" cy="710.0" rx="2.8" ry="2.2"/><ellipse cx="292.0" cy="710.0" rx="2.8" ry="2.2"/><ellipse cx="300.0" cy="710.0" rx="2.8" ry="2.2"/><ellipse cx="308.0" cy="710.0" rx="2.8" ry="2.2"/><ellipse cx="316.0" cy="710.0" rx="2.8" ry="2.2"/><ellipse cx="324.0" cy="710.0" rx="2.8" ry="2.2"/><ellipse cx="332.0" cy="710.0" rx="2.8" ry="2.2"/><ellipse cx="340.0" cy="710.0" rx="2.8" ry="2.2"/><ellipse cx="348.0" cy="710.0" rx="2.8" ry="2.2"/><ellipse cx="356.0" cy="710.0" rx="2.8" ry="2.2"/><ellipse cx="364.0" cy="710.0" rx="2.8" ry="2.2"/><ellipse cx="372.0" cy="710.0" rx="2.8" ry="2.2"/><ellipse cx="380.0" cy="710.0" rx="2.8" ry="2.2"/><ellipse cx="388.0" cy="710.0" rx="2.8" ry="2.2"/><ellipse cx="396.0" cy="710.0" rx="2.8" ry="2.2"/><ellipse cx="404.0" cy="710.0" rx="2.8" ry="2.2"/><ellipse cx="412.0" cy="710.0" rx="2.8" ry="2.2"/><ellipse cx="420.0" cy="710.0" rx="2.8" ry="2.2"/><ellipse cx="428.0" cy="710.0" rx="2.8" ry="2.2"/><ellipse cx="436.0" cy="710.0" rx="2.8" ry="2.2"/><ellipse cx="444.0" cy="710.0" rx="2.8" ry="2.2"/><ellipse cx="452.0" cy="710.0" rx="2.8" ry="2.2"/><ellipse cx="460.0" cy="710.0" rx="2.8" ry="2.2"/><ellipse cx="468.0" cy="710.0" rx="2.8" ry="2.2"/><ellipse cx="272.0" cy="717.0" rx="2.8" ry="2.2"/><ellipse cx="280.0" cy="717.0" rx="2.8" ry="2.2"/><ellipse cx="288.0" cy="717.0" rx="2.8" ry="2.2"/><ellipse cx="296.0" cy="717.0" rx="2.8" ry="2.2"/><ellipse cx="304.0" cy="717.0" rx="2.8" ry="2.2"/><ellipse cx="312.0" cy="717.0" rx="2.8" ry="2.2"/><ellipse cx="320.0" cy="717.0" rx="2.8" ry="2.2"/><ellipse cx="328.0" cy="717.0" rx="2.8" ry="2.2"/><ellipse cx="336.0" cy="717.0" rx="2.8" ry="2.2"/><ellipse cx="344.0" cy="717.0" rx="2.8" ry="2.2"/><ellipse cx="352.0" cy="717.0" rx="2.8" ry="2.2"/><ellipse cx="360.0" cy="717.0" rx="2.8" ry="2.2"/><ellipse cx="368.0" cy="717.0" rx="2.8" ry="2.2"/><ellipse cx="376.0" cy="717.0" rx="2.8" ry="2.2"/><ellipse cx="384.0" cy="717.0" rx="2.8" ry="2.2"/><ellipse cx="392.0" cy="717.0" rx="2.8" ry="2.2"/><ellipse cx="400.0" cy="717.0" rx="2.8" ry="2.2"/><ellipse cx="408.0" cy="717.0" rx="2.8" ry="2.2"/><ellipse cx="416.0" cy="717.0" rx="2.8" ry="2.2"/><ellipse cx="424.0" cy="717.0" rx="2.8" ry="2.2"/><ellipse cx="432.0" cy="717.0" rx="2.8" ry="2.2"/><ellipse cx="440.0" cy="717.0" rx="2.8" ry="2.2"/><ellipse cx="448.0" cy="717.0" rx="2.8" ry="2.2"/><ellipse cx="456.0" cy="717.0" rx="2.8" ry="2.2"/><ellipse cx="464.0" cy="717.0" rx="2.8" ry="2.2"/><ellipse cx="472.0" cy="717.0" rx="2.8" ry="2.2"/><ellipse cx="268.0" cy="724.0" rx="2.8" ry="2.2"/><ellipse cx="276.0" cy="724.0" rx="2.8" ry="2.2"/><ellipse cx="284.0" cy="724.0" rx="2.8" ry="2.2"/><ellipse cx="292.0" cy="724.0" rx="2.8" ry="2.2"/><ellipse cx="300.0" cy="724.0" rx="2.8" ry="2.2"/><ellipse cx="308.0" cy="724.0" rx="2.8" ry="2.2"/><ellipse cx="316.0" cy="724.0" rx="2.8" ry="2.2"/><ellipse cx="324.0" cy="724.0" rx="2.8" ry="2.2"/><ellipse cx="332.0" cy="724.0" rx="2.8" ry="2.2"/><ellipse cx="340.0" cy="724.0" rx="2.8" ry="2.2"/><ellipse cx="348.0" cy="724.0" rx="2.8" ry="2.2"/><ellipse cx="356.0" cy="724.0" rx="2.8" ry="2.2"/><ellipse cx="364.0" cy="724.0" rx="2.8" ry="2.2"/><ellipse cx="372.0" cy="724.0" rx="2.8" ry="2.2"/><ellipse cx="380.0" cy="724.0" rx="2.8" ry="2.2"/><ellipse cx="388.0" cy="724.0" rx="2.8" ry="2.2"/><ellipse cx="396.0" cy="724.0" rx="2.8" ry="2.2"/><ellipse cx="404.0" cy="724.0" rx="2.8" ry="2.2"/><ellipse cx="412.0" cy="724.0" rx="2.8" ry="2.2"/><ellipse cx="420.0" cy="724.0" rx="2.8" ry="2.2"/><ellipse cx="428.0" cy="724.0" rx="2.8" ry="2.2"/><ellipse cx="436.0" cy="724.0" rx="2.8" ry="2.2"/><ellipse cx="444.0" cy="724.0" rx="2.8" ry="2.2"/><ellipse cx="452.0" cy="724.0" rx="2.8" ry="2.2"/><ellipse cx="460.0" cy="724.0" rx="2.8" ry="2.2"/><ellipse cx="468.0" cy="724.0" rx="2.8" ry="2.2"/><ellipse cx="272.0" cy="731.0" rx="2.8" ry="2.2"/><ellipse cx="280.0" cy="731.0" rx="2.8" ry="2.2"/><ellipse cx="288.0" cy="731.0" rx="2.8" ry="2.2"/><ellipse cx="296.0" cy="731.0" rx="2.8" ry="2.2"/><ellipse cx="304.0" cy="731.0" rx="2.8" ry="2.2"/><ellipse cx="312.0" cy="731.0" rx="2.8" ry="2.2"/><ellipse cx="320.0" cy="731.0" rx="2.8" ry="2.2"/><ellipse cx="328.0" cy="731.0" rx="2.8" ry="2.2"/><ellipse cx="336.0" cy="731.0" rx="2.8" ry="2.2"/><ellipse cx="344.0" cy="731.0" rx="2.8" ry="2.2"/><ellipse cx="352.0" cy="731.0" rx="2.8" ry="2.2"/><ellipse cx="360.0" cy="731.0" rx="2.8" ry="2.2"/><ellipse cx="368.0" cy="731.0" rx="2.8" ry="2.2"/><ellipse cx="376.0" cy="731.0" rx="2.8" ry="2.2"/><ellipse cx="384.0" cy="731.0" rx="2.8" ry="2.2"/><ellipse cx="392.0" cy="731.0" rx="2.8" ry="2.2"/><ellipse cx="400.0" cy="731.0" rx="2.8" ry="2.2"/><ellipse cx="408.0" cy="731.0" rx="2.8" ry="2.2"/><ellipse cx="416.0" cy="731.0" rx="2.8" ry="2.2"/><ellipse cx="424.0" cy="731.0" rx="2.8" ry="2.2"/><ellipse cx="432.0" cy="731.0" rx="2.8" ry="2.2"/><ellipse cx="440.0" cy="731.0" rx="2.8" ry="2.2"/><ellipse cx="448.0" cy="731.0" rx="2.8" ry="2.2"/><ellipse cx="456.0" cy="731.0" rx="2.8" ry="2.2"/><ellipse cx="464.0" cy="731.0" rx="2.8" ry="2.2"/><ellipse cx="472.0" cy="731.0" rx="2.8" ry="2.2"/><ellipse cx="268.0" cy="738.0" rx="2.8" ry="2.2"/><ellipse cx="276.0" cy="738.0" rx="2.8" ry="2.2"/><ellipse cx="284.0" cy="738.0" rx="2.8" ry="2.2"/><ellipse cx="292.0" cy="738.0" rx="2.8" ry="2.2"/><ellipse cx="300.0" cy="738.0" rx="2.8" ry="2.2"/><ellipse cx="308.0" cy="738.0" rx="2.8" ry="2.2"/><ellipse cx="316.0" cy="738.0" rx="2.8" ry="2.2"/><ellipse cx="324.0" cy="738.0" rx="2.8" ry="2.2"/><ellipse cx="332.0" cy="738.0" rx="2.8" ry="2.2"/><ellipse cx="340.0" cy="738.0" rx="2.8" ry="2.2"/><ellipse cx="348.0" cy="738.0" rx="2.8" ry="2.2"/><ellipse cx="356.0" cy="738.0" rx="2.8" ry="2.2"/><ellipse cx="364.0" cy="738.0" rx="2.8" ry="2.2"/><ellipse cx="372.0" cy="738.0" rx="2.8" ry="2.2"/><ellipse cx="380.0" cy="738.0" rx="2.8" ry="2.2"/><ellipse cx="388.0" cy="738.0" rx="2.8" ry="2.2"/><ellipse cx="396.0" cy="738.0" rx="2.8" ry="2.2"/><ellipse cx="404.0" cy="738.0" rx="2.8" ry="2.2"/><ellipse cx="412.0" cy="738.0" rx="2.8" ry="2.2"/><ellipse cx="420.0" cy="738.0" rx="2.8" ry="2.2"/><ellipse cx="428.0" cy="738.0" rx="2.8" ry="2.2"/><ellipse cx="436.0" cy="738.0" rx="2.8" ry="2.2"/><ellipse cx="444.0" cy="738.0" rx="2.8" ry="2.2"/><ellipse cx="452.0" cy="738.0" rx="2.8" ry="2.2"/><ellipse cx="460.0" cy="738.0" rx="2.8" ry="2.2"/><ellipse cx="468.0" cy="738.0" rx="2.8" ry="2.2"/><ellipse cx="272.0" cy="745.0" rx="2.8" ry="2.2"/><ellipse cx="280.0" cy="745.0" rx="2.8" ry="2.2"/><ellipse cx="288.0" cy="745.0" rx="2.8" ry="2.2"/><ellipse cx="296.0" cy="745.0" rx="2.8" ry="2.2"/><ellipse cx="304.0" cy="745.0" rx="2.8" ry="2.2"/><ellipse cx="312.0" cy="745.0" rx="2.8" ry="2.2"/><ellipse cx="320.0" cy="745.0" rx="2.8" ry="2.2"/><ellipse cx="328.0" cy="745.0" rx="2.8" ry="2.2"/><ellipse cx="336.0" cy="745.0" rx="2.8" ry="2.2"/><ellipse cx="344.0" cy="745.0" rx="2.8" ry="2.2"/><ellipse cx="352.0" cy="745.0" rx="2.8" ry="2.2"/><ellipse cx="360.0" cy="745.0" rx="2.8" ry="2.2"/><ellipse cx="368.0" cy="745.0" rx="2.8" ry="2.2"/><ellipse cx="376.0" cy="745.0" rx="2.8" ry="2.2"/><ellipse cx="384.0" cy="745.0" rx="2.8" ry="2.2"/><ellipse cx="392.0" cy="745.0" rx="2.8" ry="2.2"/><ellipse cx="400.0" cy="745.0" rx="2.8" ry="2.2"/><ellipse cx="408.0" cy="745.0" rx="2.8" ry="2.2"/><ellipse cx="416.0" cy="745.0" rx="2.8" ry="2.2"/><ellipse cx="424.0" cy="745.0" rx="2.8" ry="2.2"/><ellipse cx="432.0" cy="745.0" rx="2.8" ry="2.2"/><ellipse cx="440.0" cy="745.0" rx="2.8" ry="2.2"/><ellipse cx="448.0" cy="745.0" rx="2.8" ry="2.2"/><ellipse cx="456.0" cy="745.0" rx="2.8" ry="2.2"/><ellipse cx="464.0" cy="745.0" rx="2.8" ry="2.2"/><ellipse cx="472.0" cy="745.0" rx="2.8" ry="2.2"/></g><path clip-path="url(#cqd)" fill="#087a1c" opacity="0.3" d="M265,700 Q365,720 465,690 L465,770 L265,770 Z"/><path clip-path="url(#cqd)" fill="#3af25e" d="M266,684 Q370,706 464,674 L464,688 Q370,722 266,698 Z"/><path fill="#e81c1c" d="M336,685 L334,652 L340,633 L354,630 L355,615 L387,615 L389,628 L401,631 L407,650 L413,676 Z"/><g fill="#a80c0c"><circle cx="357.5" cy="620.0" r="2.2"/><circle cx="364.0" cy="620.0" r="2.2"/><circle cx="370.5" cy="620.0" r="2.2"/><circle cx="377.0" cy="620.0" r="2.2"/><circle cx="383.5" cy="620.0" r="2.2"/><circle cx="360.5" cy="627.0" r="2.2"/><circle cx="367.0" cy="627.0" r="2.2"/><circle cx="373.5" cy="627.0" r="2.2"/><circle cx="380.0" cy="627.0" r="2.2"/><circle cx="386.5" cy="627.0" r="2.2"/><circle cx="344.5" cy="634.0" r="2.2"/><circle cx="351.0" cy="634.0" r="2.2"/><circle cx="357.5" cy="634.0" r="2.2"/><circle cx="364.0" cy="634.0" r="2.2"/><circle cx="370.5" cy="634.0" r="2.2"/><circle cx="377.0" cy="634.0" r="2.2"/><circle cx="383.5" cy="634.0" r="2.2"/><circle cx="390.0" cy="634.0" r="2.2"/><circle cx="396.5" cy="634.0" r="2.2"/><circle cx="341.0" cy="641.0" r="2.2"/><circle cx="347.5" cy="641.0" r="2.2"/><circle cx="354.0" cy="641.0" r="2.2"/><circle cx="360.5" cy="641.0" r="2.2"/><circle cx="367.0" cy="641.0" r="2.2"/><circle cx="373.5" cy="641.0" r="2.2"/><circle cx="380.0" cy="641.0" r="2.2"/><circle cx="386.5" cy="641.0" r="2.2"/><circle cx="393.0" cy="641.0" r="2.2"/><circle cx="399.5" cy="641.0" r="2.2"/><circle cx="338.0" cy="648.0" r="2.2"/><circle cx="344.5" cy="648.0" r="2.2"/><circle cx="351.0" cy="648.0" r="2.2"/><circle cx="357.5" cy="648.0" r="2.2"/><circle cx="364.0" cy="648.0" r="2.2"/><circle cx="370.5" cy="648.0" r="2.2"/><circle cx="377.0" cy="648.0" r="2.2"/><circle cx="383.5" cy="648.0" r="2.2"/><circle cx="390.0" cy="648.0" r="2.2"/><circle cx="396.5" cy="648.0" r="2.2"/><circle cx="403.0" cy="648.0" r="2.2"/><circle cx="341.0" cy="655.0" r="2.2"/><circle cx="347.5" cy="655.0" r="2.2"/><circle cx="354.0" cy="655.0" r="2.2"/><circle cx="360.5" cy="655.0" r="2.2"/><circle cx="367.0" cy="655.0" r="2.2"/><circle cx="373.5" cy="655.0" r="2.2"/><circle cx="380.0" cy="655.0" r="2.2"/><circle cx="386.5" cy="655.0" r="2.2"/><circle cx="393.0" cy="655.0" r="2.2"/><circle cx="399.5" cy="655.0" r="2.2"/><circle cx="406.0" cy="655.0" r="2.2"/><circle cx="338.0" cy="662.0" r="2.2"/><circle cx="344.5" cy="662.0" r="2.2"/><circle cx="351.0" cy="662.0" r="2.2"/><circle cx="357.5" cy="662.0" r="2.2"/><circle cx="364.0" cy="662.0" r="2.2"/><circle cx="370.5" cy="662.0" r="2.2"/><circle cx="377.0" cy="662.0" r="2.2"/><circle cx="383.5" cy="662.0" r="2.2"/><circle cx="390.0" cy="662.0" r="2.2"/><circle cx="396.5" cy="662.0" r="2.2"/><circle cx="403.0" cy="662.0" r="2.2"/><circle cx="409.5" cy="662.0" r="2.2"/><circle cx="341.0" cy="669.0" r="2.2"/><circle cx="347.5" cy="669.0" r="2.2"/><circle cx="354.0" cy="669.0" r="2.2"/><circle cx="360.5" cy="669.0" r="2.2"/><circle cx="367.0" cy="669.0" r="2.2"/><circle cx="373.5" cy="669.0" r="2.2"/><circle cx="380.0" cy="669.0" r="2.2"/><circle cx="386.5" cy="669.0" r="2.2"/><circle cx="393.0" cy="669.0" r="2.2"/><circle cx="399.5" cy="669.0" r="2.2"/><circle cx="406.0" cy="669.0" r="2.2"/><circle cx="338.0" cy="676.0" r="2.2"/><circle cx="344.5" cy="676.0" r="2.2"/><circle cx="351.0" cy="676.0" r="2.2"/><circle cx="357.5" cy="676.0" r="2.2"/><circle cx="364.0" cy="676.0" r="2.2"/><circle cx="370.5" cy="676.0" r="2.2"/><circle cx="377.0" cy="676.0" r="2.2"/><circle cx="383.5" cy="676.0" r="2.2"/><circle cx="390.0" cy="676.0" r="2.2"/><circle cx="396.5" cy="676.0" r="2.2"/><circle cx="403.0" cy="676.0" r="2.2"/><circle cx="409.5" cy="676.0" r="2.2"/></g><path fill="#b5b6b5" d="M704,680 L704,785 A419,74 0 0 0 1542,785 L1542,680 Z"/><path fill="#bbbcbb" d="M704,680 A419,90 0 0 1 1542,680 A419,73 0 0 1 704,680 Z"/><path fill="none" stroke="#e2e2e2" stroke-width="2.2" d="M1542,680 A419,73 0 0 1 704,680"/><rect x="999.5" y="778.5" width="315" height="61" fill="#b3b3b3" stroke="#afafaf" stroke-width="2"/><text x="0" y="0" font-size="37" font-family="Liberation Serif" fill="#111" transform="translate(1080,822.3) scale(1,0.96)">Biosensor</text><path d="M768.2,670.0L780.5,658.9M768.2,670.0L780.5,681.2M768.2,692.3L780.5,681.2M768.2,692.3L780.5,703.5M780.5,658.9L805.0,658.9M780.5,681.2L805.0,681.2M780.5,703.5L805.0,703.5M805.0,636.6L817.2,625.4M805.0,636.6L817.2,647.7M805.0,658.9L817.2,647.7M805.0,658.9L817.2,647.8M805.0,658.9L817.2,670.0M805.0,681.2L817.2,670.0M805.0,681.2L817.2,692.3M805.0,703.5L817.2,692.3M805.0,703.5L817.2,692.4M805.0,703.5L817.2,714.6M817.2,625.4L841.8,625.4M817.2,647.7L841.8,647.7M817.2,647.8L841.8,647.8M817.2,670.0L841.8,670.0M817.2,692.3L841.8,692.3M817.2,692.4L841.8,692.4M817.2,714.6L841.8,714.6M841.8,625.4L854.0,614.3M841.8,625.4L854.0,636.6M841.8,647.7L854.0,636.6M841.8,647.7L854.0,658.9M841.8,647.8L854.0,658.9M841.8,670.0L854.0,658.9M841.8,670.0L854.0,681.2M841.8,692.3L854.0,681.2M841.8,692.3L854.0,703.5M841.8,692.4L854.0,703.5M841.8,714.6L854.0,703.5M841.8,714.6L854.0,725.8M854.0,614.3L878.5,614.3M854.0,636.6L878.5,636.6M854.0,658.9L878.5,658.9M854.0,681.2L878.5,681.2M854.0,703.5L878.5,703.5M854.0,725.8L878.5,725.8M878.5,614.3L890.8,625.4M878.5,636.6L890.8,625.4M878.5,636.6L890.8,647.7M878.5,658.9L890.8,647.7M878.5,658.9L890.8,647.8M878.5,658.9L890.8,670.0M878.5,681.2L890.8,670.0M878.5,681.2L890.8,692.3M878.5,703.5L890.8,692.3M878.5,703.5L890.8,692.4M878.5,703.5L890.8,714.6M878.5,725.8L890.8,714.6M890.8,625.4L915.2,625.4M890.8,647.7L915.2,647.7M890.8,647.8L915.2,647.8M890.8,670.0L915.2,670.0M890.8,692.3L915.2,692.3M890.8,692.4L915.2,692.4M890.8,714.6L915.2,714.6M915.2,625.4L927.5,636.6M915.2,647.7L927.5,636.6M915.2,647.7L927.5,658.9M915.2,647.8L927.5,658.9M915.2,670.0L927.5,658.9M915.2,670.0L927.5,681.2M915.2,692.3L927.5,681.2M915.2,692.3L927.5,703.5M915.2,692.4L927.5,703.5M915.2,714.6L927.5,703.5M927.5,636.6L952.0,636.6M927.5,658.9L952.0,658.9M927.5,681.2L952.0,681.2M927.5,703.5L952.0,703.5M952.0,636.6L964.2,647.7M952.0,658.9L964.2,647.7M952.0,658.9L964.2,670.0M952.0,681.2L964.2,670.0M952.0,681.2L964.2,692.3M952.0,703.5L964.2,692.3" stroke="#1b3d2c" stroke-width="4.2" fill="none" stroke-linecap="round"/><g fill="#153526"><circle cx="768.2" cy="670.0" r="5.5"/><circle cx="768.2" cy="692.3" r="5.5"/><circle cx="780.5" cy="658.9" r="5.5"/><circle cx="780.5" cy="681.2" r="5.5"/><circle cx="780.5" cy="703.5" r="5.5"/><circle cx="805.0" cy="636.6" r="5.5"/><circle cx="805.0" cy="658.9" r="5.5"/><circle cx="805.0" cy="681.2" r="5.5"/><circle cx="805.0" cy="703.5" r="5.5"/><circle cx="817.2" cy="625.4" r="5.5"/><circle cx="817.2" cy="647.7" r="5.5"/><circle cx="817.2" cy="647.8" r="5.5"/><circle cx="817.2" cy="670.0" r="5.5"/><circle cx="817.2" cy="692.3" r="5.5"/><circle cx="817.2" cy="692.4" r="5.5"/><circle cx="817.2" cy="714.6" r="5.5"/><circle cx="841.8" cy="625.4" r="5.5"/><circle cx="841.8" cy="647.7" r="5.5"/><circle cx="841.8" cy="647.8" r="5.5"/><circle cx="841.8" cy="670.0" r="5.5"/><circle cx="841.8" cy="692.3" r="5.5"/><circle cx="841.8" cy="692.4" r="5.5"/><circle cx="841.8" cy="714.6" r="5.5"/><circle cx="854.0" cy="614.3" r="5.5"/><circle cx="854.0" cy="636.6" r="5.5"/><circle cx="854.0" cy="658.9" r="5.5"/><circle cx="854.0" cy="681.2" r="5.5"/><circle cx="854.0" cy="703.5" r="5.5"/><circle cx="854.0" cy="725.8" r="5.5"/><circle cx="878.5" cy="614.3" r="5.5"/><circle cx="878.5" cy="636.6" r="5.5"/><circle cx="878.5" cy="658.9" r="5.5"/><circle cx="878.5" cy="681.2" r="5.5"/><circle cx="878.5" cy="703.5" r="5.5"/><circle cx="878.5" cy="725.8" r="5.5"/><circle cx="890.8" cy="625.4" r="5.5"/><circle cx="890.8" cy="647.7" r="5.5"/><circle cx="890.8" cy="647.8" r="5.5"/><circle cx="890.8" cy="670.0" r="5.5"/><circle cx="890.8" cy="692.3" r="5.5"/><circle cx="890.8" cy="692.4" r="5.5"/><circle cx="890.8" cy="714.6" r="5.5"/><circle cx="915.2" cy="625.4" r="5.5"/><circle cx="915.2" cy="647.7" r="5.5"/><circle cx="915.2" cy="647.8" r="5.5"/><circle cx="915.2" cy="670.0" r="5.5"/><circle cx="915.2" cy="692.3" r="5.5"/><circle cx="915.2" cy="692.4" r="5.5"/><circle cx="915.2" cy="714.6" r="5.5"/><circle cx="927.5" cy="636.6" r="5.5"/><circle cx="927.5" cy="658.9" r="5.5"/><circle cx="927.5" cy="681.2" r="5.5"/><circle cx="927.5" cy="703.5" r="5.5"/><circle cx="952.0" cy="636.6" r="5.5"/><circle cx="952.0" cy="658.9" r="5.5"/><circle cx="952.0" cy="681.2" r="5.5"/><circle cx="952.0" cy="703.5" r="5.5"/><circle cx="964.2" cy="647.7" r="5.5"/><circle cx="964.2" cy="670.0" r="5.5"/><circle cx="964.2" cy="692.3" r="5.5"/></g><clipPath id="cnt"><path d="M980,645 Q982,604 998,590 L1069,571 L1155,557 Q1195,558 1202,572 L1208,604 L1198,629 L1175,652 L1143,687 L1111,719 L1083,741 L1048,748 L1016,745 Q982,705 980,645 Z"/></clipPath><g clip-path="url(#cnt)"><path fill="#86a0ac" d="M980,645 Q982,604 998,590 L1069,571 L1155,557 Q1195,558 1202,572 L1208,604 L1198,629 L1175,652 L1143,687 L1111,719 L1083,741 L1048,748 L1016,745 Q982,705 980,645 Z"/><path d="M975.2,542.5 L975.2,547.5 L970.0,550.1 L964.8,547.5 L964.8,542.5 L970.0,539.9ZM985.6,542.5 L985.6,547.5 L980.4,550.1 L975.2,547.5 L975.2,542.5 L980.4,539.9ZM996.0,542.5 L996.0,547.5 L990.8,550.1 L985.6,547.5 L985.6,542.5 L990.8,539.9ZM1006.4,542.5 L1006.4,547.5 L1001.2,550.1 L996.0,547.5 L996.0,542.5 L1001.2,539.9ZM1016.8,542.5 L1016.8,547.5 L1011.6,550.1 L1006.4,547.5 L1006.4,542.5 L1011.6,539.9ZM1027.2,542.5 L1027.2,547.5 L1022.0,550.1 L1016.8,547.5 L1016.8,542.5 L1022.0,539.9ZM1037.5,542.5 L1037.5,547.5 L1032.4,550.1 L1027.2,547.5 L1027.2,542.5 L1032.4,539.9ZM1047.9,542.5 L1047.9,547.5 L1042.7,550.1 L1037.5,547.5 L1037.5,542.5 L1042.7,539.9ZM1058.3,542.5 L1058.3,547.5 L1053.1,550.1 L1047.9,547.5 L1047.9,542.5 L1053.1,539.9ZM1068.7,542.5 L1068.7,547.5 L1063.5,550.1 L1058.3,547.5 L1058.3,542.5 L1063.5,539.9ZM1079.1,542.5 L1079.1,547.5 L1073.9,550.1 L1068.7,547.5 L1068.7,542.5 L1073.9,539.9ZM1089.5,542.5 L1089.5,547.5 L1084.3,550.1 L1079.1,547.5 L1079.1,542.5 L1084.3,539.9ZM1099.9,542.5 L1099.9,547.5 L1094.7,550.1 L1089.5,547.5 L1089.5,542.5 L1094.7,539.9ZM1110.3,542.5 L1110.3,547.5 L1105.1,550.1 L1099.9,547.5 L1099.9,542.5 L1105.1,539.9ZM1120.7,542.5 L1120.7,547.5 L1115.5,550.1 L1110.3,547.5 L1110.3,542.5 L1115.5,539.9ZM1131.1,542.5 L1131.1,547.5 L1125.9,550.1 L1120.7,547.5 L1120.7,542.5 L1125.9,539.9ZM1141.5,542.5 L1141.5,547.5 L1136.3,550.1 L1131.1,547.5 L1131.1,542.5 L1136.3,539.9ZM1151.9,542.5 L1151.9,547.5 L1146.7,550.1 L1141.5,547.5 L1141.5,542.5 L1146.7,539.9ZM1162.3,542.5 L1162.3,547.5 L1157.1,550.1 L1151.9,547.5 L1151.9,542.5 L1157.1,539.9ZM1172.6,542.5 L1172.6,547.5 L1167.5,550.1 L1162.3,547.5 L1162.3,542.5 L1167.5,539.9ZM1183.0,542.5 L1183.0,547.5 L1177.8,550.1 L1172.6,547.5 L1172.6,542.5 L1177.8,539.9ZM1193.4,542.5 L1193.4,547.5 L1188.2,550.1 L1183.0,547.5 L1183.0,542.5 L1188.2,539.9ZM1203.8,542.5 L1203.8,547.5 L1198.6,550.1 L1193.4,547.5 L1193.4,542.5 L1198.6,539.9ZM1214.2,542.5 L1214.2,547.5 L1209.0,550.1 L1203.8,547.5 L1203.8,542.5 L1209.0,539.9ZM1224.6,542.5 L1224.6,547.5 L1219.4,550.1 L1214.2,547.5 L1214.2,542.5 L1219.4,539.9ZM1235.0,542.5 L1235.0,547.5 L1229.8,550.1 L1224.6,547.5 L1224.6,542.5 L1229.8,539.9ZM980.4,550.1 L980.4,555.2 L975.2,557.8 L970.0,555.2 L970.0,550.1 L975.2,547.5ZM990.8,550.1 L990.8,555.2 L985.6,557.8 L980.4,555.2 L980.4,550.1 L985.6,547.5ZM1001.2,550.1 L1001.2,555.2 L996.0,557.8 L990.8,555.2 L990.8,550.1 L996.0,547.5ZM1011.6,550.1 L1011.6,555.2 L1006.4,557.8 L1001.2,555.2 L1001.2,550.1 L1006.4,547.5ZM1022.0,550.1 L1022.0,555.2 L1016.8,557.8 L1011.6,555.2 L1011.6,550.1 L1016.8,547.5ZM1032.4,550.1 L1032.4,555.2 L1027.2,557.8 L1022.0,555.2 L1022.0,550.1 L1027.2,547.5ZM1042.7,550.1 L1042.7,555.2 L1037.5,557.8 L1032.4,555.2 L1032.4,550.1 L1037.5,547.5ZM1053.1,550.1 L1053.1,555.2 L1047.9,557.8 L1042.7,555.2 L1042.7,550.1 L1047.9,547.5ZM1063.5,550.1 L1063.5,555.2 L1058.3,557.8 L1053.1,555.2 L1053.1,550.1 L1058.3,547.5ZM1073.9,550.1 L1073.9,555.2 L1068.7,557.8 L1063.5,555.2 L1063.5,550.1 L1068.7,547.5ZM1084.3,550.1 L1084.3,555.2 L1079.1,557.8 L1073.9,555.2 L1073.9,550.1 L1079.1,547.5ZM1094.7,550.1 L1094.7,555.2 L1089.5,557.8 L1084.3,555.2 L1084.3,550.1 L1089.5,547.5ZM1105.1,550.1 L1105.1,555.2 L1099.9,557.8 L1094.7,555.2 L1094.7,550.1 L1099.9,547.5ZM1115.5,550.1 L1115.5,555.2 L1110.3,557.8 L1105.1,555.2 L1105.1,550.1 L1110.3,547.5ZM1125.9,550.1 L1125.9,555.2 L1120.7,557.8 L1115.5,555.2 L1115.5,550.1 L1120.7,547.5ZM1136.3,550.1 L1136.3,555.2 L1131.1,557.8 L1125.9,555.2 L1125.9,550.1 L1131.1,547.5ZM1146.7,550.1 L1146.7,555.2 L1141.5,557.8 L1136.3,555.2 L1136.3,550.1 L1141.5,547.5ZM1157.1,550.1 L1157.1,555.2 L1151.9,557.8 L1146.7,555.2 L1146.7,550.1 L1151.9,547.5ZM1167.5,550.1 L1167.5,555.2 L1162.3,557.8 L1157.1,555.2 L1157.1,550.1 L1162.3,547.5ZM1177.8,550.1 L1177.8,555.2 L1172.6,557.8 L1167.5,555.2 L1167.5,550.1 L1172.6,547.5ZM1188.2,550.1 L1188.2,555.2 L1183.0,557.8 L1177.8,555.2 L1177.8,550.1 L1183.0,547.5ZM1198.6,550.1 L1198.6,555.2 L1193.4,557.8 L1188.2,555.2 L1188.2,550.1 L1193.4,547.5ZM1209.0,550.1 L1209.0,555.2 L1203.8,557.8 L1198.6,555.2 L1198.6,550.1 L1203.8,547.5ZM1219.4,550.1 L1219.4,555.2 L1214.2,557.8 L1209.0,555.2 L1209.0,550.1 L1214.2,547.5ZM1229.8,550.1 L1229.8,555.2 L1224.6,557.8 L1219.4,555.2 L1219.4,550.1 L1224.6,547.5ZM1240.2,550.1 L1240.2,555.2 L1235.0,557.8 L1229.8,555.2 L1229.8,550.1 L1235.0,547.5ZM975.2,557.8 L975.2,562.8 L970.0,565.4 L964.8,562.8 L964.8,557.8 L970.0,555.2ZM985.6,557.8 L985.6,562.8 L980.4,565.4 L975.2,562.8 L975.2,557.8 L980.4,555.2ZM996.0,557.8 L996.0,562.8 L990.8,565.4 L985.6,562.8 L985.6,557.8 L990.8,555.2ZM1006.4,557.8 L1006.4,562.8 L1001.2,565.4 L996.0,562.8 L996.0,557.8 L1001.2,555.2ZM1016.8,557.8 L1016.8,562.8 L1011.6,565.4 L1006.4,562.8 L1006.4,557.8 L1011.6,555.2ZM1027.2,557.8 L1027.2,562.8 L1022.0,565.4 L1016.8,562.8 L1016.8,557.8 L1022.0,555.2ZM1037.5,557.8 L1037.5,562.8 L1032.4,565.4 L1027.2,562.8 L1027.2,557.8 L1032.4,555.2ZM1047.9,557.8 L1047.9,562.8 L1042.7,565.4 L1037.5,562.8 L1037.5,557.8 L1042.7,555.2ZM1058.3,557.8 L1058.3,562.8 L1053.1,565.4 L1047.9,562.8 L1047.9,557.8 L1053.1,555.2ZM1068.7,557.8 L1068.7,562.8 L1063.5,565.4 L1058.3,562.8 L1058.3,557.8 L1063.5,555.2ZM1079.1,557.8 L1079.1,562.8 L1073.9,565.4 L1068.7,562.8 L1068.7,557.8 L1073.9,555.2ZM1089.5,557.8 L1089.5,562.8 L1084.3,565.4 L1079.1,562.8 L1079.1,557.8 L1084.3,555.2ZM1099.9,557.8 L1099.9,562.8 L1094.7,565.4 L1089.5,562.8 L1089.5,557.8 L1094.7,555.2ZM1110.3,557.8 L1110.3,562.8 L1105.1,565.4 L1099.9,562.8 L1099.9,557.8 L1105.1,555.2ZM1120.7,557.8 L1120.7,562.8 L1115.5,565.4 L1110.3,562.8 L1110.3,557.8 L1115.5,555.2ZM1131.1,557.8 L1131.1,562.8 L1125.9,565.4 L1120.7,562.8 L1120.7,557.8 L1125.9,555.2ZM1141.5,557.8 L1141.5,562.8 L1136.3,565.4 L1131.1,562.8 L1131.1,557.8 L1136.3,555.2ZM1151.9,557.8 L1151.9,562.8 L1146.7,565.4 L1141.5,562.8 L1141.5,557.8 L1146.7,555.2ZM1162.3,557.8 L1162.3,562.8 L1157.1,565.4 L1151.9,562.8 L1151.9,557.8 L1157.1,555.2ZM1172.6,557.8 L1172.6,562.8 L1167.5,565.4 L1162.3,562.8 L1162.3,557.8 L1167.5,555.2ZM1183.0,557.8 L1183.0,562.8 L1177.8,565.4 L1172.6,562.8 L1172.6,557.8 L1177.8,555.2ZM1193.4,557.8 L1193.4,562.8 L1188.2,565.4 L1183.0,562.8 L1183.0,557.8 L1188.2,555.2ZM1203.8,557.8 L1203.8,562.8 L1198.6,565.4 L1193.4,562.8 L1193.4,557.8 L1198.6,555.2ZM1214.2,557.8 L1214.2,562.8 L1209.0,565.4 L1203.8,562.8 L1203.8,557.8 L1209.0,555.2ZM1224.6,557.8 L1224.6,562.8 L1219.4,565.4 L1214.2,562.8 L1214.2,557.8 L1219.4,555.2ZM1235.0,557.8 L1235.0,562.8 L1229.8,565.4 L1224.6,562.8 L1224.6,557.8 L1229.8,555.2ZM980.4,565.4 L980.4,570.5 L975.2,573.1 L970.0,570.5 L970.0,565.4 L975.2,562.9ZM990.8,565.4 L990.8,570.5 L985.6,573.1 L980.4,570.5 L980.4,565.4 L985.6,562.9ZM1001.2,565.4 L1001.2,570.5 L996.0,573.1 L990.8,570.5 L990.8,565.4 L996.0,562.9ZM1011.6,565.4 L1011.6,570.5 L1006.4,573.1 L1001.2,570.5 L1001.2,565.4 L1006.4,562.9ZM1022.0,565.4 L1022.0,570.5 L1016.8,573.1 L1011.6,570.5 L1011.6,565.4 L1016.8,562.9ZM1032.4,565.4 L1032.4,570.5 L1027.2,573.1 L1022.0,570.5 L1022.0,565.4 L1027.2,562.9ZM1042.7,565.4 L1042.7,570.5 L1037.5,573.1 L1032.4,570.5 L1032.4,565.4 L1037.5,562.9ZM1053.1,565.4 L1053.1,570.5 L1047.9,573.1 L1042.7,570.5 L1042.7,565.4 L1047.9,562.9ZM1063.5,565.4 L1063.5,570.5 L1058.3,573.1 L1053.1,570.5 L1053.1,565.4 L1058.3,562.9ZM1073.9,565.4 L1073.9,570.5 L1068.7,573.1 L1063.5,570.5 L1063.5,565.4 L1068.7,562.9ZM1084.3,565.4 L1084.3,570.5 L1079.1,573.1 L1073.9,570.5 L1073.9,565.4 L1079.1,562.9ZM1094.7,565.4 L1094.7,570.5 L1089.5,573.1 L1084.3,570.5 L1084.3,565.4 L1089.5,562.9ZM1105.1,565.4 L1105.1,570.5 L1099.9,573.1 L1094.7,570.5 L1094.7,565.4 L1099.9,562.9ZM1115.5,565.4 L1115.5,570.5 L1110.3,573.1 L1105.1,570.5 L1105.1,565.4 L1110.3,562.9ZM1125.9,565.4 L1125.9,570.5 L1120.7,573.1 L1115.5,570.5 L1115.5,565.4 L1120.7,562.9ZM1136.3,565.4 L1136.3,570.5 L1131.1,573.1 L1125.9,570.5 L1125.9,565.4 L1131.1,562.9ZM1146.7,565.4 L1146.7,570.5 L1141.5,573.1 L1136.3,570.5 L1136.3,565.4 L1141.5,562.9ZM1157.1,565.4 L1157.1,570.5 L1151.9,573.1 L1146.7,570.5 L1146.7,565.4 L1151.9,562.9ZM1167.5,565.4 L1167.5,570.5 L1162.3,573.1 L1157.1,570.5 L1157.1,565.4 L1162.3,562.9ZM1177.8,565.4 L1177.8,570.5 L1172.6,573.1 L1167.5,570.5 L1167.5,565.4 L1172.6,562.9ZM1188.2,565.4 L1188.2,570.5 L1183.0,573.1 L1177.8,570.5 L1177.8,565.4 L1183.0,562.9ZM1198.6,565.4 L1198.6,570.5 L1193.4,573.1 L1188.2,570.5 L1188.2,565.4 L1193.4,562.9ZM1209.0,565.4 L1209.0,570.5 L1203.8,573.1 L1198.6,570.5 L1198.6,565.4 L1203.8,562.9ZM1219.4,565.4 L1219.4,570.5 L1214.2,573.1 L1209.0,570.5 L1209.0,565.4 L1214.2,562.9ZM1229.8,565.4 L1229.8,570.5 L1224.6,573.1 L1219.4,570.5 L1219.4,565.4 L1224.6,562.9ZM1240.2,565.4 L1240.2,570.5 L1235.0,573.1 L1229.8,570.5 L1229.8,565.4 L1235.0,562.9ZM975.2,573.1 L975.2,578.1 L970.0,580.7 L964.8,578.1 L964.8,573.1 L970.0,570.5ZM985.6,573.1 L985.6,578.1 L980.4,580.7 L975.2,578.1 L975.2,573.1 L980.4,570.5ZM996.0,573.1 L996.0,578.1 L990.8,580.7 L985.6,578.1 L985.6,573.1 L990.8,570.5ZM1006.4,573.1 L1006.4,578.1 L1001.2,580.7 L996.0,578.1 L996.0,573.1 L1001.2,570.5ZM1016.8,573.1 L1016.8,578.1 L1011.6,580.7 L1006.4,578.1 L1006.4,573.1 L1011.6,570.5ZM1027.2,573.1 L1027.2,578.1 L1022.0,580.7 L1016.8,578.1 L1016.8,573.1 L1022.0,570.5ZM1037.5,573.1 L1037.5,578.1 L1032.4,580.7 L1027.2,578.1 L1027.2,573.1 L1032.4,570.5ZM1047.9,573.1 L1047.9,578.1 L1042.7,580.7 L1037.5,578.1 L1037.5,573.1 L1042.7,570.5ZM1058.3,573.1 L1058.3,578.1 L1053.1,580.7 L1047.9,578.1 L1047.9,573.1 L1053.1,570.5ZM1068.7,573.1 L1068.7,578.1 L1063.5,580.7 L1058.3,578.1 L1058.3,573.1 L1063.5,570.5ZM1079.1,573.1 L1079.1,578.1 L1073.9,580.7 L1068.7,578.1 L1068.7,573.1 L1073.9,570.5ZM1089.5,573.1 L1089.5,578.1 L1084.3,580.7 L1079.1,578.1 L1079.1,573.1 L1084.3,570.5ZM1099.9,573.1 L1099.9,578.1 L1094.7,580.7 L1089.5,578.1 L1089.5,573.1 L1094.7,570.5ZM1110.3,573.1 L1110.3,578.1 L1105.1,580.7 L1099.9,578.1 L1099.9,573.1 L1105.1,570.5ZM1120.7,573.1 L1120.7,578.1 L1115.5,580.7 L1110.3,578.1 L1110.3,573.1 L1115.5,570.5ZM1131.1,573.1 L1131.1,578.1 L1125.9,580.7 L1120.7,578.1 L1120.7,573.1 L1125.9,570.5ZM1141.5,573.1 L1141.5,578.1 L1136.3,580.7 L1131.1,578.1 L1131.1,573.1 L1136.3,570.5ZM1151.9,573.1 L1151.9,578.1 L1146.7,580.7 L1141.5,578.1 L1141.5,573.1 L1146.7,570.5ZM1162.3,573.1 L1162.3,578.1 L1157.1,580.7 L1151.9,578.1 L1151.9,573.1 L1157.1,570.5ZM1172.6,573.1 L1172.6,578.1 L1167.5,580.7 L1162.3,578.1 L1162.3,573.1 L1167.5,570.5ZM1183.0,573.1 L1183.0,578.1 L1177.8,580.7 L1172.6,578.1 L1172.6,573.1 L1177.8,570.5ZM1193.4,573.1 L1193.4,578.1 L1188.2,580.7 L1183.0,578.1 L1183.0,573.1 L1188.2,570.5ZM1203.8,573.1 L1203.8,578.1 L1198.6,580.7 L1193.4,578.1 L1193.4,573.1 L1198.6,570.5ZM1214.2,573.1 L1214.2,578.1 L1209.0,580.7 L1203.8,578.1 L1203.8,573.1 L1209.0,570.5ZM1224.6,573.1 L1224.6,578.1 L1219.4,580.7 L1214.2,578.1 L1214.2,573.1 L1219.4,570.5ZM1235.0,573.1 L1235.0,578.1 L1229.8,580.7 L1224.6,578.1 L1224.6,573.1 L1229.8,570.5ZM980.4,580.7 L980.4,585.8 L975.2,588.4 L970.0,585.8 L970.0,580.7 L975.2,578.1ZM990.8,580.7 L990.8,585.8 L985.6,588.4 L980.4,585.8 L980.4,580.7 L985.6,578.1ZM1001.2,580.7 L1001.2,585.8 L996.0,588.4 L990.8,585.8 L990.8,580.7 L996.0,578.1ZM1011.6,580.7 L1011.6,585.8 L1006.4,588.4 L1001.2,585.8 L1001.2,580.7 L1006.4,578.1ZM1022.0,580.7 L1022.0,585.8 L1016.8,588.4 L1011.6,585.8 L1011.6,580.7 L1016.8,578.1ZM1032.4,580.7 L1032.4,585.8 L1027.2,588.4 L1022.0,585.8 L1022.0,580.7 L1027.2,578.1ZM1042.7,580.7 L1042.7,585.8 L1037.5,588.4 L1032.4,585.8 L1032.4,580.7 L1037.5,578.1ZM1053.1,580.7 L1053.1,585.8 L1047.9,588.4 L1042.7,585.8 L1042.7,580.7 L1047.9,578.1ZM1063.5,580.7 L1063.5,585.8 L1058.3,588.4 L1053.1,585.8 L1053.1,580.7 L1058.3,578.1ZM1073.9,580.7 L1073.9,585.8 L1068.7,588.4 L1063.5,585.8 L1063.5,580.7 L1068.7,578.1ZM1084.3,580.7 L1084.3,585.8 L1079.1,588.4 L1073.9,585.8 L1073.9,580.7 L1079.1,578.1ZM1094.7,580.7 L1094.7,585.8 L1089.5,588.4 L1084.3,585.8 L1084.3,580.7 L1089.5,578.1ZM1105.1,580.7 L1105.1,585.8 L1099.9,588.4 L1094.7,585.8 L1094.7,580.7 L1099.9,578.1ZM1115.5,580.7 L1115.5,585.8 L1110.3,588.4 L1105.1,585.8 L1105.1,580.7 L1110.3,578.1ZM1125.9,580.7 L1125.9,585.8 L1120.7,588.4 L1115.5,585.8 L1115.5,580.7 L1120.7,578.1ZM1136.3,580.7 L1136.3,585.8 L1131.1,588.4 L1125.9,585.8 L1125.9,580.7 L1131.1,578.1ZM1146.7,580.7 L1146.7,585.8 L1141.5,588.4 L1136.3,585.8 L1136.3,580.7 L1141.5,578.1ZM1157.1,580.7 L1157.1,585.8 L1151.9,588.4 L1146.7,585.8 L1146.7,580.7 L1151.9,578.1ZM1167.5,580.7 L1167.5,585.8 L1162.3,588.4 L1157.1,585.8 L1157.1,580.7 L1162.3,578.1ZM1177.8,580.7 L1177.8,585.8 L1172.6,588.4 L1167.5,585.8 L1167.5,580.7 L1172.6,578.1ZM1188.2,580.7 L1188.2,585.8 L1183.0,588.4 L1177.8,585.8 L1177.8,580.7 L1183.0,578.1ZM1198.6,580.7 L1198.6,585.8 L1193.4,588.4 L1188.2,585.8 L1188.2,580.7 L1193.4,578.1ZM1209.0,580.7 L1209.0,585.8 L1203.8,588.4 L1198.6,585.8 L1198.6,580.7 L1203.8,578.1ZM1219.4,580.7 L1219.4,585.8 L1214.2,588.4 L1209.0,585.8 L1209.0,580.7 L1214.2,578.1ZM1229.8,580.7 L1229.8,585.8 L1224.6,588.4 L1219.4,585.8 L1219.4,580.7 L1224.6,578.1ZM1240.2,580.7 L1240.2,585.8 L1235.0,588.4 L1229.8,585.8 L1229.8,580.7 L1235.0,578.1ZM975.2,588.4 L975.2,593.4 L970.0,596.0 L964.8,593.4 L964.8,588.4 L970.0,585.8ZM985.6,588.4 L985.6,593.4 L980.4,596.0 L975.2,593.4 L975.2,588.4 L980.4,585.8ZM996.0,588.4 L996.0,593.4 L990.8,596.0 L985.6,593.4 L985.6,588.4 L990.8,585.8ZM1006.4,588.4 L1006.4,593.4 L1001.2,596.0 L996.0,593.4 L996.0,588.4 L1001.2,585.8ZM1016.8,588.4 L1016.8,593.4 L1011.6,596.0 L1006.4,593.4 L1006.4,588.4 L1011.6,585.8ZM1027.2,588.4 L1027.2,593.4 L1022.0,596.0 L1016.8,593.4 L1016.8,588.4 L1022.0,585.8ZM1037.5,588.4 L1037.5,593.4 L1032.4,596.0 L1027.2,593.4 L1027.2,588.4 L1032.4,585.8ZM1047.9,588.4 L1047.9,593.4 L1042.7,596.0 L1037.5,593.4 L1037.5,588.4 L1042.7,585.8ZM1058.3,588.4 L1058.3,593.4 L1053.1,596.0 L1047.9,593.4 L1047.9,588.4 L1053.1,585.8ZM1068.7,588.4 L1068.7,593.4 L1063.5,596.0 L1058.3,593.4 L1058.3,588.4 L1063.5,585.8ZM1079.1,588.4 L1079.1,593.4 L1073.9,596.0 L1068.7,593.4 L1068.7,588.4 L1073.9,585.8ZM1089.5,588.4 L1089.5,593.4 L1084.3,596.0 L1079.1,593.4 L1079.1,588.4 L1084.3,585.8ZM1099.9,588.4 L1099.9,593.4 L1094.7,596.0 L1089.5,593.4 L1089.5,588.4 L1094.7,585.8ZM1110.3,588.4 L1110.3,593.4 L1105.1,596.0 L1099.9,593.4 L1099.9,588.4 L1105.1,585.8ZM1120.7,588.4 L1120.7,593.4 L1115.5,596.0 L1110.3,593.4 L1110.3,588.4 L1115.5,585.8ZM1131.1,588.4 L1131.1,593.4 L1125.9,596.0 L1120.7,593.4 L1120.7,588.4 L1125.9,585.8ZM1141.5,588.4 L1141.5,593.4 L1136.3,596.0 L1131.1,593.4 L1131.1,588.4 L1136.3,585.8ZM1151.9,588.4 L1151.9,593.4 L1146.7,596.0 L1141.5,593.4 L1141.5,588.4 L1146.7,585.8ZM1162.3,588.4 L1162.3,593.4 L1157.1,596.0 L1151.9,593.4 L1151.9,588.4 L1157.1,585.8ZM1172.6,588.4 L1172.6,593.4 L1167.5,596.0 L1162.3,593.4 L1162.3,588.4 L1167.5,585.8ZM1183.0,588.4 L1183.0,593.4 L1177.8,596.0 L1172.6,593.4 L1172.6,588.4 L1177.8,585.8ZM1193.4,588.4 L1193.4,593.4 L1188.2,596.0 L1183.0,593.4 L1183.0,588.4 L1188.2,585.8ZM1203.8,588.4 L1203.8,593.4 L1198.6,596.0 L1193.4,593.4 L1193.4,588.4 L1198.6,585.8ZM1214.2,588.4 L1214.2,593.4 L1209.0,596.0 L1203.8,593.4 L1203.8,588.4 L1209.0,585.8ZM1224.6,588.4 L1224.6,593.4 L1219.4,596.0 L1214.2,593.4 L1214.2,588.4 L1219.4,585.8ZM1235.0,588.4 L1235.0,593.4 L1229.8,596.0 L1224.6,593.4 L1224.6,588.4 L1229.8,585.8ZM980.4,596.0 L980.4,601.1 L975.2,603.6 L970.0,601.1 L970.0,596.0 L975.2,593.4ZM990.8,596.0 L990.8,601.1 L985.6,603.6 L980.4,601.1 L980.4,596.0 L985.6,593.4ZM1001.2,596.0 L1001.2,601.1 L996.0,603.6 L990.8,601.1 L990.8,596.0 L996.0,593.4ZM1011.6,596.0 L1011.6,601.1 L1006.4,603.6 L1001.2,601.1 L1001.2,596.0 L1006.4,593.4ZM1022.0,596.0 L1022.0,601.1 L1016.8,603.6 L1011.6,601.1 L1011.6,596.0 L1016.8,593.4ZM1032.4,596.0 L1032.4,601.1 L1027.2,603.6 L1022.0,601.1 L1022.0,596.0 L1027.2,593.4ZM1042.7,596.0 L1042.7,601.1 L1037.5,603.6 L1032.4,601.1 L1032.4,596.0 L1037.5,593.4ZM1053.1,596.0 L1053.1,601.1 L1047.9,603.6 L1042.7,601.1 L1042.7,596.0 L1047.9,593.4ZM1063.5,596.0 L1063.5,601.1 L1058.3,603.6 L1053.1,601.1 L1053.1,596.0 L1058.3,593.4ZM1073.9,596.0 L1073.9,601.1 L1068.7,603.6 L1063.5,601.1 L1063.5,596.0 L1068.7,593.4ZM1084.3,596.0 L1084.3,601.1 L1079.1,603.6 L1073.9,601.1 L1073.9,596.0 L1079.1,593.4ZM1094.7,596.0 L1094.7,601.1 L1089.5,603.6 L1084.3,601.1 L1084.3,596.0 L1089.5,593.4ZM1105.1,596.0 L1105.1,601.1 L1099.9,603.6 L1094.7,601.1 L1094.7,596.0 L1099.9,593.4ZM1115.5,596.0 L1115.5,601.1 L1110.3,603.6 L1105.1,601.1 L1105.1,596.0 L1110.3,593.4ZM1125.9,596.0 L1125.9,601.1 L1120.7,603.6 L1115.5,601.1 L1115.5,596.0 L1120.7,593.4ZM1136.3,596.0 L1136.3,601.1 L1131.1,603.6 L1125.9,601.1 L1125.9,596.0 L1131.1,593.4ZM1146.7,596.0 L1146.7,601.1 L1141.5,603.6 L1136.3,601.1 L1136.3,596.0 L1141.5,593.4ZM1157.1,596.0 L1157.1,601.1 L1151.9,603.6 L1146.7,601.1 L1146.7,596.0 L1151.9,593.4ZM1167.5,596.0 L1167.5,601.1 L1162.3,603.6 L1157.1,601.1 L1157.1,596.0 L1162.3,593.4ZM1177.8,596.0 L1177.8,601.1 L1172.6,603.6 L1167.5,601.1 L1167.5,596.0 L1172.6,593.4ZM1188.2,596.0 L1188.2,601.1 L1183.0,603.6 L1177.8,601.1 L1177.8,596.0 L1183.0,593.4ZM1198.6,596.0 L1198.6,601.1 L1193.4,603.6 L1188.2,601.1 L1188.2,596.0 L1193.4,593.4ZM1209.0,596.0 L1209.0,601.1 L1203.8,603.6 L1198.6,601.1 L1198.6,596.0 L1203.8,593.4ZM1219.4,596.0 L1219.4,601.1 L1214.2,603.6 L1209.0,601.1 L1209.0,596.0 L1214.2,593.4ZM1229.8,596.0 L1229.8,601.1 L1224.6,603.6 L1219.4,601.1 L1219.4,596.0 L1224.6,593.4ZM1240.2,596.0 L1240.2,601.1 L1235.0,603.6 L1229.8,601.1 L1229.8,596.0 L1235.0,593.4ZM975.2,603.7 L975.2,608.8 L970.0,611.3 L964.8,608.8 L964.8,603.7 L970.0,601.1ZM985.6,603.7 L985.6,608.8 L980.4,611.3 L975.2,608.8 L975.2,603.7 L980.4,601.1ZM996.0,603.7 L996.0,608.8 L990.8,611.3 L985.6,608.8 L985.6,603.7 L990.8,601.1ZM1006.4,603.7 L1006.4,608.8 L1001.2,611.3 L996.0,608.8 L996.0,603.7 L1001.2,601.1ZM1016.8,603.7 L1016.8,608.8 L1011.6,611.3 L1006.4,608.8 L1006.4,603.7 L1011.6,601.1ZM1027.2,603.7 L1027.2,608.8 L1022.0,611.3 L1016.8,608.8 L1016.8,603.7 L1022.0,601.1ZM1037.5,603.7 L1037.5,608.8 L1032.4,611.3 L1027.2,608.8 L1027.2,603.7 L1032.4,601.1ZM1047.9,603.7 L1047.9,608.8 L1042.7,611.3 L1037.5,608.8 L1037.5,603.7 L1042.7,601.1ZM1058.3,603.7 L1058.3,608.8 L1053.1,611.3 L1047.9,608.8 L1047.9,603.7 L1053.1,601.1ZM1068.7,603.7 L1068.7,608.8 L1063.5,611.3 L1058.3,608.8 L1058.3,603.7 L1063.5,601.1ZM1079.1,603.7 L1079.1,608.8 L1073.9,611.3 L1068.7,608.8 L1068.7,603.7 L1073.9,601.1ZM1089.5,603.7 L1089.5,608.8 L1084.3,611.3 L1079.1,608.8 L1079.1,603.7 L1084.3,601.1ZM1099.9,603.7 L1099.9,608.8 L1094.7,611.3 L1089.5,608.8 L1089.5,603.7 L1094.7,601.1ZM1110.3,603.7 L1110.3,608.8 L1105.1,611.3 L1099.9,608.8 L1099.9,603.7 L1105.1,601.1ZM1120.7,603.7 L1120.7,608.8 L1115.5,611.3 L1110.3,608.8 L1110.3,603.7 L1115.5,601.1ZM1131.1,603.7 L1131.1,608.8 L1125.9,611.3 L1120.7,608.8 L1120.7,603.7 L1125.9,601.1ZM1141.5,603.7 L1141.5,608.8 L1136.3,611.3 L1131.1,608.8 L1131.1,603.7 L1136.3,601.1ZM1151.9,603.7 L1151.9,608.8 L1146.7,611.3 L1141.5,608.8 L1141.5,603.7 L1146.7,601.1ZM1162.3,603.7 L1162.3,608.8 L1157.1,611.3 L1151.9,608.8 L1151.9,603.7 L1157.1,601.1ZM1172.6,603.7 L1172.6,608.8 L1167.5,611.3 L1162.3,608.8 L1162.3,603.7 L1167.5,601.1ZM1183.0,603.7 L1183.0,608.8 L1177.8,611.3 L1172.6,608.8 L1172.6,603.7 L1177.8,601.1ZM1193.4,603.7 L1193.4,608.8 L1188.2,611.3 L1183.0,608.8 L1183.0,603.7 L1188.2,601.1ZM1203.8,603.7 L1203.8,608.8 L1198.6,611.3 L1193.4,608.8 L1193.4,603.7 L1198.6,601.1ZM1214.2,603.7 L1214.2,608.8 L1209.0,611.3 L1203.8,608.8 L1203.8,603.7 L1209.0,601.1ZM1224.6,603.7 L1224.6,608.8 L1219.4,611.3 L1214.2,608.8 L1214.2,603.7 L1219.4,601.1ZM1235.0,603.7 L1235.0,608.8 L1229.8,611.3 L1224.6,608.8 L1224.6,603.7 L1229.8,601.1ZM980.4,611.3 L980.4,616.4 L975.2,619.0 L970.0,616.4 L970.0,611.3 L975.2,608.8ZM990.8,611.3 L990.8,616.4 L985.6,619.0 L980.4,616.4 L980.4,611.3 L985.6,608.8ZM1001.2,611.3 L1001.2,616.4 L996.0,619.0 L990.8,616.4 L990.8,611.3 L996.0,608.8ZM1011.6,611.3 L1011.6,616.4 L1006.4,619.0 L1001.2,616.4 L1001.2,611.3 L1006.4,608.8ZM1022.0,611.3 L1022.0,616.4 L1016.8,619.0 L1011.6,616.4 L1011.6,611.3 L1016.8,608.8ZM1032.4,611.3 L1032.4,616.4 L1027.2,619.0 L1022.0,616.4 L1022.0,611.3 L1027.2,608.8ZM1042.7,611.3 L1042.7,616.4 L1037.5,619.0 L1032.4,616.4 L1032.4,611.3 L1037.5,608.8ZM1053.1,611.3 L1053.1,616.4 L1047.9,619.0 L1042.7,616.4 L1042.7,611.3 L1047.9,608.8ZM1063.5,611.3 L1063.5,616.4 L1058.3,619.0 L1053.1,616.4 L1053.1,611.3 L1058.3,608.8ZM1073.9,611.3 L1073.9,616.4 L1068.7,619.0 L1063.5,616.4 L1063.5,611.3 L1068.7,608.8ZM1084.3,611.3 L1084.3,616.4 L1079.1,619.0 L1073.9,616.4 L1073.9,611.3 L1079.1,608.8ZM1094.7,611.3 L1094.7,616.4 L1089.5,619.0 L1084.3,616.4 L1084.3,611.3 L1089.5,608.8ZM1105.1,611.3 L1105.1,616.4 L1099.9,619.0 L1094.7,616.4 L1094.7,611.3 L1099.9,608.8ZM1115.5,611.3 L1115.5,616.4 L1110.3,619.0 L1105.1,616.4 L1105.1,611.3 L1110.3,608.8ZM1125.9,611.3 L1125.9,616.4 L1120.7,619.0 L1115.5,616.4 L1115.5,611.3 L1120.7,608.8ZM1136.3,611.3 L1136.3,616.4 L1131.1,619.0 L1125.9,616.4 L1125.9,611.3 L1131.1,608.8ZM1146.7,611.3 L1146.7,616.4 L1141.5,619.0 L1136.3,616.4 L1136.3,611.3 L1141.5,608.8ZM1157.1,611.3 L1157.1,616.4 L1151.9,619.0 L1146.7,616.4 L1146.7,611.3 L1151.9,608.8ZM1167.5,611.3 L1167.5,616.4 L1162.3,619.0 L1157.1,616.4 L1157.1,611.3 L1162.3,608.8ZM1177.8,611.3 L1177.8,616.4 L1172.6,619.0 L1167.5,616.4 L1167.5,611.3 L1172.6,608.8ZM1188.2,611.3 L1188.2,616.4 L1183.0,619.0 L1177.8,616.4 L1177.8,611.3 L1183.0,608.8ZM1198.6,611.3 L1198.6,616.4 L1193.4,619.0 L1188.2,616.4 L1188.2,611.3 L1193.4,608.8ZM1209.0,611.3 L1209.0,616.4 L1203.8,619.0 L1198.6,616.4 L1198.6,611.3 L1203.8,608.8ZM1219.4,611.3 L1219.4,616.4 L1214.2,619.0 L1209.0,616.4 L1209.0,611.3 L1214.2,608.8ZM1229.8,611.3 L1229.8,616.4 L1224.6,619.0 L1219.4,616.4 L1219.4,611.3 L1224.6,608.8ZM1240.2,611.3 L1240.2,616.4 L1235.0,619.0 L1229.8,616.4 L1229.8,611.3 L1235.0,608.8ZM975.2,619.0 L975.2,624.0 L970.0,626.6 L964.8,624.0 L964.8,619.0 L970.0,616.4ZM985.6,619.0 L985.6,624.0 L980.4,626.6 L975.2,624.0 L975.2,619.0 L980.4,616.4ZM996.0,619.0 L996.0,624.0 L990.8,626.6 L985.6,624.0 L985.6,619.0 L990.8,616.4ZM1006.4,619.0 L1006.4,624.0 L1001.2,626.6 L996.0,624.0 L996.0,619.0 L1001.2,616.4ZM1016.8,619.0 L1016.8,624.0 L1011.6,626.6 L1006.4,624.0 L1006.4,619.0 L1011.6,616.4ZM1027.2,619.0 L1027.2,624.0 L1022.0,626.6 L1016.8,624.0 L1016.8,619.0 L1022.0,616.4ZM1037.5,619.0 L1037.5,624.0 L1032.4,626.6 L1027.2,624.0 L1027.2,619.0 L1032.4,616.4ZM1047.9,619.0 L1047.9,624.0 L1042.7,626.6 L1037.5,624.0 L1037.5,619.0 L1042.7,616.4ZM1058.3,619.0 L1058.3,624.0 L1053.1,626.6 L1047.9,624.0 L1047.9,619.0 L1053.1,616.4ZM1068.7,619.0 L1068.7,624.0 L1063.5,626.6 L1058.3,624.0 L1058.3,619.0 L1063.5,616.4ZM1079.1,619.0 L1079.1,624.0 L1073.9,626.6 L1068.7,624.0 L1068.7,619.0 L1073.9,616.4ZM1089.5,619.0 L1089.5,624.0 L1084.3,626.6 L1079.1,624.0 L1079.1,619.0 L1084.3,616.4ZM1099.9,619.0 L1099.9,624.0 L1094.7,626.6 L1089.5,624.0 L1089.5,619.0 L1094.7,616.4ZM1110.3,619.0 L1110.3,624.0 L1105.1,626.6 L1099.9,624.0 L1099.9,619.0 L1105.1,616.4ZM1120.7,619.0 L1120.7,624.0 L1115.5,626.6 L1110.3,624.0 L1110.3,619.0 L1115.5,616.4ZM1131.1,619.0 L1131.1,624.0 L1125.9,626.6 L1120.7,624.0 L1120.7,619.0 L1125.9,616.4ZM1141.5,619.0 L1141.5,624.0 L1136.3,626.6 L1131.1,624.0 L1131.1,619.0 L1136.3,616.4ZM1151.9,619.0 L1151.9,624.0 L1146.7,626.6 L1141.5,624.0 L1141.5,619.0 L1146.7,616.4ZM1162.3,619.0 L1162.3,624.0 L1157.1,626.6 L1151.9,624.0 L1151.9,619.0 L1157.1,616.4ZM1172.6,619.0 L1172.6,624.0 L1167.5,626.6 L1162.3,624.0 L1162.3,619.0 L1167.5,616.4ZM1183.0,619.0 L1183.0,624.0 L1177.8,626.6 L1172.6,624.0 L1172.6,619.0 L1177.8,616.4ZM1193.4,619.0 L1193.4,624.0 L1188.2,626.6 L1183.0,624.0 L1183.0,619.0 L1188.2,616.4ZM1203.8,619.0 L1203.8,624.0 L1198.6,626.6 L1193.4,624.0 L1193.4,619.0 L1198.6,616.4ZM1214.2,619.0 L1214.2,624.0 L1209.0,626.6 L1203.8,624.0 L1203.8,619.0 L1209.0,616.4ZM1224.6,619.0 L1224.6,624.0 L1219.4,626.6 L1214.2,624.0 L1214.2,619.0 L1219.4,616.4ZM1235.0,619.0 L1235.0,624.0 L1229.8,626.6 L1224.6,624.0 L1224.6,619.0 L1229.8,616.4ZM980.4,626.6 L980.4,631.7 L975.2,634.2 L970.0,631.7 L970.0,626.6 L975.2,624.0ZM990.8,626.6 L990.8,631.7 L985.6,634.2 L980.4,631.7 L980.4,626.6 L985.6,624.0ZM1001.2,626.6 L1001.2,631.7 L996.0,634.2 L990.8,631.7 L990.8,626.6 L996.0,624.0ZM1011.6,626.6 L1011.6,631.7 L1006.4,634.2 L1001.2,631.7 L1001.2,626.6 L1006.4,624.0ZM1022.0,626.6 L1022.0,631.7 L1016.8,634.2 L1011.6,631.7 L1011.6,626.6 L1016.8,624.0ZM1032.4,626.6 L1032.4,631.7 L1027.2,634.2 L1022.0,631.7 L1022.0,626.6 L1027.2,624.0ZM1042.7,626.6 L1042.7,631.7 L1037.5,634.2 L1032.4,631.7 L1032.4,626.6 L1037.5,624.0ZM1053.1,626.6 L1053.1,631.7 L1047.9,634.2 L1042.7,631.7 L1042.7,626.6 L1047.9,624.0ZM1063.5,626.6 L1063.5,631.7 L1058.3,634.2 L1053.1,631.7 L1053.1,626.6 L1058.3,624.0ZM1073.9,626.6 L1073.9,631.7 L1068.7,634.2 L1063.5,631.7 L1063.5,626.6 L1068.7,624.0ZM1084.3,626.6 L1084.3,631.7 L1079.1,634.2 L1073.9,631.7 L1073.9,626.6 L1079.1,624.0ZM1094.7,626.6 L1094.7,631.7 L1089.5,634.2 L1084.3,631.7 L1084.3,626.6 L1089.5,624.0ZM1105.1,626.6 L1105.1,631.7 L1099.9,634.2 L1094.7,631.7 L1094.7,626.6 L1099.9,624.0ZM1115.5,626.6 L1115.5,631.7 L1110.3,634.2 L1105.1,631.7 L1105.1,626.6 L1110.3,624.0ZM1125.9,626.6 L1125.9,631.7 L1120.7,634.2 L1115.5,631.7 L1115.5,626.6 L1120.7,624.0ZM1136.3,626.6 L1136.3,631.7 L1131.1,634.2 L1125.9,631.7 L1125.9,626.6 L1131.1,624.0ZM1146.7,626.6 L1146.7,631.7 L1141.5,634.2 L1136.3,631.7 L1136.3,626.6 L1141.5,624.0ZM1157.1,626.6 L1157.1,631.7 L1151.9,634.2 L1146.7,631.7 L1146.7,626.6 L1151.9,624.0ZM1167.5,626.6 L1167.5,631.7 L1162.3,634.2 L1157.1,631.7 L1157.1,626.6 L1162.3,624.0ZM1177.8,626.6 L1177.8,631.7 L1172.6,634.2 L1167.5,631.7 L1167.5,626.6 L1172.6,624.0ZM1188.2,626.6 L1188.2,631.7 L1183.0,634.2 L1177.8,631.7 L1177.8,626.6 L1183.0,624.0ZM1198.6,626.6 L1198.6,631.7 L1193.4,634.2 L1188.2,631.7 L1188.2,626.6 L1193.4,624.0ZM1209.0,626.6 L1209.0,631.7 L1203.8,634.2 L1198.6,631.7 L1198.6,626.6 L1203.8,624.0ZM1219.4,626.6 L1219.4,631.7 L1214.2,634.2 L1209.0,631.7 L1209.0,626.6 L1214.2,624.0ZM1229.8,626.6 L1229.8,631.7 L1224.6,634.2 L1219.4,631.7 L1219.4,626.6 L1224.6,624.0ZM1240.2,626.6 L1240.2,631.7 L1235.0,634.2 L1229.8,631.7 L1229.8,626.6 L1235.0,624.0ZM975.2,634.2 L975.2,639.3 L970.0,641.9 L964.8,639.3 L964.8,634.2 L970.0,631.7ZM985.6,634.2 L985.6,639.3 L980.4,641.9 L975.2,639.3 L975.2,634.2 L980.4,631.7ZM996.0,634.2 L996.0,639.3 L990.8,641.9 L985.6,639.3 L985.6,634.2 L990.8,631.7ZM1006.4,634.2 L1006.4,639.3 L1001.2,641.9 L996.0,639.3 L996.0,634.2 L1001.2,631.7ZM1016.8,634.2 L1016.8,639.3 L1011.6,641.9 L1006.4,639.3 L1006.4,634.2 L1011.6,631.7ZM1027.2,634.2 L1027.2,639.3 L1022.0,641.9 L1016.8,639.3 L1016.8,634.2 L1022.0,631.7ZM1037.5,634.2 L1037.5,639.3 L1032.4,641.9 L1027.2,639.3 L1027.2,634.2 L1032.4,631.7ZM1047.9,634.2 L1047.9,639.3 L1042.7,641.9 L1037.5,639.3 L1037.5,634.2 L1042.7,631.7ZM1058.3,634.2 L1058.3,639.3 L1053.1,641.9 L1047.9,639.3 L1047.9,634.2 L1053.1,631.7ZM1068.7,634.2 L1068.7,639.3 L1063.5,641.9 L1058.3,639.3 L1058.3,634.2 L1063.5,631.7ZM1079.1,634.2 L1079.1,639.3 L1073.9,641.9 L1068.7,639.3 L1068.7,634.2 L1073.9,631.7ZM1089.5,634.2 L1089.5,639.3 L1084.3,641.9 L1079.1,639.3 L1079.1,634.2 L1084.3,631.7ZM1099.9,634.2 L1099.9,639.3 L1094.7,641.9 L1089.5,639.3 L1089.5,634.2 L1094.7,631.7ZM1110.3,634.2 L1110.3,639.3 L1105.1,641.9 L1099.9,639.3 L1099.9,634.2 L1105.1,631.7ZM1120.7,634.2 L1120.7,639.3 L1115.5,641.9 L1110.3,639.3 L1110.3,634.2 L1115.5,631.7ZM1131.1,634.2 L1131.1,639.3 L1125.9,641.9 L1120.7,639.3 L1120.7,634.2 L1125.9,631.7ZM1141.5,634.2 L1141.5,639.3 L1136.3,641.9 L1131.1,639.3 L1131.1,634.2 L1136.3,631.7ZM1151.9,634.2 L1151.9,639.3 L1146.7,641.9 L1141.5,639.3 L1141.5,634.2 L1146.7,631.7ZM1162.3,634.2 L1162.3,639.3 L1157.1,641.9 L1151.9,639.3 L1151.9,634.2 L1157.1,631.7ZM1172.6,634.2 L1172.6,639.3 L1167.5,641.9 L1162.3,639.3 L1162.3,634.2 L1167.5,631.7ZM1183.0,634.2 L1183.0,639.3 L1177.8,641.9 L1172.6,639.3 L1172.6,634.2 L1177.8,631.7ZM1193.4,634.2 L1193.4,639.3 L1188.2,641.9 L1183.0,639.3 L1183.0,634.2 L1188.2,631.7ZM1203.8,634.2 L1203.8,639.3 L1198.6,641.9 L1193.4,639.3 L1193.4,634.2 L1198.6,631.7ZM1214.2,634.2 L1214.2,639.3 L1209.0,641.9 L1203.8,639.3 L1203.8,634.2 L1209.0,631.7ZM1224.6,634.2 L1224.6,639.3 L1219.4,641.9 L1214.2,639.3 L1214.2,634.2 L1219.4,631.7ZM1235.0,634.2 L1235.0,639.3 L1229.8,641.9 L1224.6,639.3 L1224.6,634.2 L1229.8,631.7ZM980.4,641.9 L980.4,647.0 L975.2,649.6 L970.0,647.0 L970.0,641.9 L975.2,639.4ZM990.8,641.9 L990.8,647.0 L985.6,649.6 L980.4,647.0 L980.4,641.9 L985.6,639.4ZM1001.2,641.9 L1001.2,647.0 L996.0,649.6 L990.8,647.0 L990.8,641.9 L996.0,639.4ZM1011.6,641.9 L1011.6,647.0 L1006.4,649.6 L1001.2,647.0 L1001.2,641.9 L1006.4,639.4ZM1022.0,641.9 L1022.0,647.0 L1016.8,649.6 L1011.6,647.0 L1011.6,641.9 L1016.8,639.4ZM1032.4,641.9 L1032.4,647.0 L1027.2,649.6 L1022.0,647.0 L1022.0,641.9 L1027.2,639.4ZM1042.7,641.9 L1042.7,647.0 L1037.5,649.6 L1032.4,647.0 L1032.4,641.9 L1037.5,639.4ZM1053.1,641.9 L1053.1,647.0 L1047.9,649.6 L1042.7,647.0 L1042.7,641.9 L1047.9,639.4ZM1063.5,641.9 L1063.5,647.0 L1058.3,649.6 L1053.1,647.0 L1053.1,641.9 L1058.3,639.4ZM1073.9,641.9 L1073.9,647.0 L1068.7,649.6 L1063.5,647.0 L1063.5,641.9 L1068.7,639.4ZM1084.3,641.9 L1084.3,647.0 L1079.1,649.6 L1073.9,647.0 L1073.9,641.9 L1079.1,639.4ZM1094.7,641.9 L1094.7,647.0 L1089.5,649.6 L1084.3,647.0 L1084.3,641.9 L1089.5,639.4ZM1105.1,641.9 L1105.1,647.0 L1099.9,649.6 L1094.7,647.0 L1094.7,641.9 L1099.9,639.4ZM1115.5,641.9 L1115.5,647.0 L1110.3,649.6 L1105.1,647.0 L1105.1,641.9 L1110.3,639.4ZM1125.9,641.9 L1125.9,647.0 L1120.7,649.6 L1115.5,647.0 L1115.5,641.9 L1120.7,639.4ZM1136.3,641.9 L1136.3,647.0 L1131.1,649.6 L1125.9,647.0 L1125.9,641.9 L1131.1,639.4ZM1146.7,641.9 L1146.7,647.0 L1141.5,649.6 L1136.3,647.0 L1136.3,641.9 L1141.5,639.4ZM1157.1,641.9 L1157.1,647.0 L1151.9,649.6 L1146.7,647.0 L1146.7,641.9 L1151.9,639.4ZM1167.5,641.9 L1167.5,647.0 L1162.3,649.6 L1157.1,647.0 L1157.1,641.9 L1162.3,639.4ZM1177.8,641.9 L1177.8,647.0 L1172.6,649.6 L1167.5,647.0 L1167.5,641.9 L1172.6,639.4ZM1188.2,641.9 L1188.2,647.0 L1183.0,649.6 L1177.8,647.0 L1177.8,641.9 L1183.0,639.4ZM1198.6,641.9 L1198.6,647.0 L1193.4,649.6 L1188.2,647.0 L1188.2,641.9 L1193.4,639.4ZM1209.0,641.9 L1209.0,647.0 L1203.8,649.6 L1198.6,647.0 L1198.6,641.9 L1203.8,639.4ZM1219.4,641.9 L1219.4,647.0 L1214.2,649.6 L1209.0,647.0 L1209.0,641.9 L1214.2,639.4ZM1229.8,641.9 L1229.8,647.0 L1224.6,649.6 L1219.4,647.0 L1219.4,641.9 L1224.6,639.4ZM1240.2,641.9 L1240.2,647.0 L1235.0,649.6 L1229.8,647.0 L1229.8,641.9 L1235.0,639.4ZM975.2,649.6 L975.2,654.6 L970.0,657.2 L964.8,654.6 L964.8,649.6 L970.0,647.0ZM985.6,649.6 L985.6,654.6 L980.4,657.2 L975.2,654.6 L975.2,649.6 L980.4,647.0ZM996.0,649.6 L996.0,654.6 L990.8,657.2 L985.6,654.6 L985.6,649.6 L990.8,647.0ZM1006.4,649.6 L1006.4,654.6 L1001.2,657.2 L996.0,654.6 L996.0,649.6 L1001.2,647.0ZM1016.8,649.6 L1016.8,654.6 L1011.6,657.2 L1006.4,654.6 L1006.4,649.6 L1011.6,647.0ZM1027.2,649.6 L1027.2,654.6 L1022.0,657.2 L1016.8,654.6 L1016.8,649.6 L1022.0,647.0ZM1037.5,649.6 L1037.5,654.6 L1032.4,657.2 L1027.2,654.6 L1027.2,649.6 L1032.4,647.0ZM1047.9,649.6 L1047.9,654.6 L1042.7,657.2 L1037.5,654.6 L1037.5,649.6 L1042.7,647.0ZM1058.3,649.6 L1058.3,654.6 L1053.1,657.2 L1047.9,654.6 L1047.9,649.6 L1053.1,647.0ZM1068.7,649.6 L1068.7,654.6 L1063.5,657.2 L1058.3,654.6 L1058.3,649.6 L1063.5,647.0ZM1079.1,649.6 L1079.1,654.6 L1073.9,657.2 L1068.7,654.6 L1068.7,649.6 L1073.9,647.0ZM1089.5,649.6 L1089.5,654.6 L1084.3,657.2 L1079.1,654.6 L1079.1,649.6 L1084.3,647.0ZM1099.9,649.6 L1099.9,654.6 L1094.7,657.2 L1089.5,654.6 L1089.5,649.6 L1094.7,647.0ZM1110.3,649.6 L1110.3,654.6 L1105.1,657.2 L1099.9,654.6 L1099.9,649.6 L1105.1,647.0ZM1120.7,649.6 L1120.7,654.6 L1115.5,657.2 L1110.3,654.6 L1110.3,649.6 L1115.5,647.0ZM1131.1,649.6 L1131.1,654.6 L1125.9,657.2 L1120.7,654.6 L1120.7,649.6 L1125.9,647.0ZM1141.5,649.6 L1141.5,654.6 L1136.3,657.2 L1131.1,654.6 L1131.1,649.6 L1136.3,647.0ZM1151.9,649.6 L1151.9,654.6 L1146.7,657.2 L1141.5,654.6 L1141.5,649.6 L1146.7,647.0ZM1162.3,649.6 L1162.3,654.6 L1157.1,657.2 L1151.9,654.6 L1151.9,649.6 L1157.1,647.0ZM1172.6,649.6 L1172.6,654.6 L1167.5,657.2 L1162.3,654.6 L1162.3,649.6 L1167.5,647.0ZM1183.0,649.6 L1183.0,654.6 L1177.8,657.2 L1172.6,654.6 L1172.6,649.6 L1177.8,647.0ZM1193.4,649.6 L1193.4,654.6 L1188.2,657.2 L1183.0,654.6 L1183.0,649.6 L1188.2,647.0ZM1203.8,649.6 L1203.8,654.6 L1198.6,657.2 L1193.4,654.6 L1193.4,649.6 L1198.6,647.0ZM1214.2,649.6 L1214.2,654.6 L1209.0,657.2 L1203.8,654.6 L1203.8,649.6 L1209.0,647.0ZM1224.6,649.6 L1224.6,654.6 L1219.4,657.2 L1214.2,654.6 L1214.2,649.6 L1219.4,647.0ZM1235.0,649.6 L1235.0,654.6 L1229.8,657.2 L1224.6,654.6 L1224.6,649.6 L1229.8,647.0ZM980.4,657.2 L980.4,662.3 L975.2,664.9 L970.0,662.3 L970.0,657.2 L975.2,654.6ZM990.8,657.2 L990.8,662.3 L985.6,664.9 L980.4,662.3 L980.4,657.2 L985.6,654.6ZM1001.2,657.2 L1001.2,662.3 L996.0,664.9 L990.8,662.3 L990.8,657.2 L996.0,654.6ZM1011.6,657.2 L1011.6,662.3 L1006.4,664.9 L1001.2,662.3 L1001.2,657.2 L1006.4,654.6ZM1022.0,657.2 L1022.0,662.3 L1016.8,664.9 L1011.6,662.3 L1011.6,657.2 L1016.8,654.6ZM1032.4,657.2 L1032.4,662.3 L1027.2,664.9 L1022.0,662.3 L1022.0,657.2 L1027.2,654.6ZM1042.7,657.2 L1042.7,662.3 L1037.5,664.9 L1032.4,662.3 L1032.4,657.2 L1037.5,654.6ZM1053.1,657.2 L1053.1,662.3 L1047.9,664.9 L1042.7,662.3 L1042.7,657.2 L1047.9,654.6ZM1063.5,657.2 L1063.5,662.3 L1058.3,664.9 L1053.1,662.3 L1053.1,657.2 L1058.3,654.6ZM1073.9,657.2 L1073.9,662.3 L1068.7,664.9 L1063.5,662.3 L1063.5,657.2 L1068.7,654.6ZM1084.3,657.2 L1084.3,662.3 L1079.1,664.9 L1073.9,662.3 L1073.9,657.2 L1079.1,654.6ZM1094.7,657.2 L1094.7,662.3 L1089.5,664.9 L1084.3,662.3 L1084.3,657.2 L1089.5,654.6ZM1105.1,657.2 L1105.1,662.3 L1099.9,664.9 L1094.7,662.3 L1094.7,657.2 L1099.9,654.6ZM1115.5,657.2 L1115.5,662.3 L1110.3,664.9 L1105.1,662.3 L1105.1,657.2 L1110.3,654.6ZM1125.9,657.2 L1125.9,662.3 L1120.7,664.9 L1115.5,662.3 L1115.5,657.2 L1120.7,654.6ZM1136.3,657.2 L1136.3,662.3 L1131.1,664.9 L1125.9,662.3 L1125.9,657.2 L1131.1,654.6ZM1146.7,657.2 L1146.7,662.3 L1141.5,664.9 L1136.3,662.3 L1136.3,657.2 L1141.5,654.6ZM1157.1,657.2 L1157.1,662.3 L1151.9,664.9 L1146.7,662.3 L1146.7,657.2 L1151.9,654.6ZM1167.5,657.2 L1167.5,662.3 L1162.3,664.9 L1157.1,662.3 L1157.1,657.2 L1162.3,654.6ZM1177.8,657.2 L1177.8,662.3 L1172.6,664.9 L1167.5,662.3 L1167.5,657.2 L1172.6,654.6ZM1188.2,657.2 L1188.2,662.3 L1183.0,664.9 L1177.8,662.3 L1177.8,657.2 L1183.0,654.6ZM1198.6,657.2 L1198.6,662.3 L1193.4,664.9 L1188.2,662.3 L1188.2,657.2 L1193.4,654.6ZM1209.0,657.2 L1209.0,662.3 L1203.8,664.9 L1198.6,662.3 L1198.6,657.2 L1203.8,654.6ZM1219.4,657.2 L1219.4,662.3 L1214.2,664.9 L1209.0,662.3 L1209.0,657.2 L1214.2,654.6ZM1229.8,657.2 L1229.8,662.3 L1224.6,664.9 L1219.4,662.3 L1219.4,657.2 L1224.6,654.6ZM1240.2,657.2 L1240.2,662.3 L1235.0,664.9 L1229.8,662.3 L1229.8,657.2 L1235.0,654.6ZM975.2,664.9 L975.2,669.9 L970.0,672.5 L964.8,669.9 L964.8,664.9 L970.0,662.3ZM985.6,664.9 L985.6,669.9 L980.4,672.5 L975.2,669.9 L975.2,664.9 L980.4,662.3ZM996.0,664.9 L996.0,669.9 L990.8,672.5 L985.6,669.9 L985.6,664.9 L990.8,662.3ZM1006.4,664.9 L1006.4,669.9 L1001.2,672.5 L996.0,669.9 L996.0,664.9 L1001.2,662.3ZM1016.8,664.9 L1016.8,669.9 L1011.6,672.5 L1006.4,669.9 L1006.4,664.9 L1011.6,662.3ZM1027.2,664.9 L1027.2,669.9 L1022.0,672.5 L1016.8,669.9 L1016.8,664.9 L1022.0,662.3ZM1037.5,664.9 L1037.5,669.9 L1032.4,672.5 L1027.2,669.9 L1027.2,664.9 L1032.4,662.3ZM1047.9,664.9 L1047.9,669.9 L1042.7,672.5 L1037.5,669.9 L1037.5,664.9 L1042.7,662.3ZM1058.3,664.9 L1058.3,669.9 L1053.1,672.5 L1047.9,669.9 L1047.9,664.9 L1053.1,662.3ZM1068.7,664.9 L1068.7,669.9 L1063.5,672.5 L1058.3,669.9 L1058.3,664.9 L1063.5,662.3ZM1079.1,664.9 L1079.1,669.9 L1073.9,672.5 L1068.7,669.9 L1068.7,664.9 L1073.9,662.3ZM1089.5,664.9 L1089.5,669.9 L1084.3,672.5 L1079.1,669.9 L1079.1,664.9 L1084.3,662.3ZM1099.9,664.9 L1099.9,669.9 L1094.7,672.5 L1089.5,669.9 L1089.5,664.9 L1094.7,662.3ZM1110.3,664.9 L1110.3,669.9 L1105.1,672.5 L1099.9,669.9 L1099.9,664.9 L1105.1,662.3ZM1120.7,664.9 L1120.7,669.9 L1115.5,672.5 L1110.3,669.9 L1110.3,664.9 L1115.5,662.3ZM1131.1,664.9 L1131.1,669.9 L1125.9,672.5 L1120.7,669.9 L1120.7,664.9 L1125.9,662.3ZM1141.5,664.9 L1141.5,669.9 L1136.3,672.5 L1131.1,669.9 L1131.1,664.9 L1136.3,662.3ZM1151.9,664.9 L1151.9,669.9 L1146.7,672.5 L1141.5,669.9 L1141.5,664.9 L1146.7,662.3ZM1162.3,664.9 L1162.3,669.9 L1157.1,672.5 L1151.9,669.9 L1151.9,664.9 L1157.1,662.3ZM1172.6,664.9 L1172.6,669.9 L1167.5,672.5 L1162.3,669.9 L1162.3,664.9 L1167.5,662.3ZM1183.0,664.9 L1183.0,669.9 L1177.8,672.5 L1172.6,669.9 L1172.6,664.9 L1177.8,662.3ZM1193.4,664.9 L1193.4,669.9 L1188.2,672.5 L1183.0,669.9 L1183.0,664.9 L1188.2,662.3ZM1203.8,664.9 L1203.8,669.9 L1198.6,672.5 L1193.4,669.9 L1193.4,664.9 L1198.6,662.3ZM1214.2,664.9 L1214.2,669.9 L1209.0,672.5 L1203.8,669.9 L1203.8,664.9 L1209.0,662.3ZM1224.6,664.9 L1224.6,669.9 L1219.4,672.5 L1214.2,669.9 L1214.2,664.9 L1219.4,662.3ZM1235.0,664.9 L1235.0,669.9 L1229.8,672.5 L1224.6,669.9 L1224.6,664.9 L1229.8,662.3ZM980.4,672.5 L980.4,677.6 L975.2,680.1 L970.0,677.6 L970.0,672.5 L975.2,669.9ZM990.8,672.5 L990.8,677.6 L985.6,680.1 L980.4,677.6 L980.4,672.5 L985.6,669.9ZM1001.2,672.5 L1001.2,677.6 L996.0,680.1 L990.8,677.6 L990.8,672.5 L996.0,669.9ZM1011.6,672.5 L1011.6,677.6 L1006.4,680.1 L1001.2,677.6 L1001.2,672.5 L1006.4,669.9ZM1022.0,672.5 L1022.0,677.6 L1016.8,680.1 L1011.6,677.6 L1011.6,672.5 L1016.8,669.9ZM1032.4,672.5 L1032.4,677.6 L1027.2,680.1 L1022.0,677.6 L1022.0,672.5 L1027.2,669.9ZM1042.7,672.5 L1042.7,677.6 L1037.5,680.1 L1032.4,677.6 L1032.4,672.5 L1037.5,669.9ZM1053.1,672.5 L1053.1,677.6 L1047.9,680.1 L1042.7,677.6 L1042.7,672.5 L1047.9,669.9ZM1063.5,672.5 L1063.5,677.6 L1058.3,680.1 L1053.1,677.6 L1053.1,672.5 L1058.3,669.9ZM1073.9,672.5 L1073.9,677.6 L1068.7,680.1 L1063.5,677.6 L1063.5,672.5 L1068.7,669.9ZM1084.3,672.5 L1084.3,677.6 L1079.1,680.1 L1073.9,677.6 L1073.9,672.5 L1079.1,669.9ZM1094.7,672.5 L1094.7,677.6 L1089.5,680.1 L1084.3,677.6 L1084.3,672.5 L1089.5,669.9ZM1105.1,672.5 L1105.1,677.6 L1099.9,680.1 L1094.7,677.6 L1094.7,672.5 L1099.9,669.9ZM1115.5,672.5 L1115.5,677.6 L1110.3,680.1 L1105.1,677.6 L1105.1,672.5 L1110.3,669.9ZM1125.9,672.5 L1125.9,677.6 L1120.7,680.1 L1115.5,677.6 L1115.5,672.5 L1120.7,669.9ZM1136.3,672.5 L1136.3,677.6 L1131.1,680.1 L1125.9,677.6 L1125.9,672.5 L1131.1,669.9ZM1146.7,672.5 L1146.7,677.6 L1141.5,680.1 L1136.3,677.6 L1136.3,672.5 L1141.5,669.9ZM1157.1,672.5 L1157.1,677.6 L1151.9,680.1 L1146.7,677.6 L1146.7,672.5 L1151.9,669.9ZM1167.5,672.5 L1167.5,677.6 L1162.3,680.1 L1157.1,677.6 L1157.1,672.5 L1162.3,669.9ZM1177.8,672.5 L1177.8,677.6 L1172.6,680.1 L1167.5,677.6 L1167.5,672.5 L1172.6,669.9ZM1188.2,672.5 L1188.2,677.6 L1183.0,680.1 L1177.8,677.6 L1177.8,672.5 L1183.0,669.9ZM1198.6,672.5 L1198.6,677.6 L1193.4,680.1 L1188.2,677.6 L1188.2,672.5 L1193.4,669.9ZM1209.0,672.5 L1209.0,677.6 L1203.8,680.1 L1198.6,677.6 L1198.6,672.5 L1203.8,669.9ZM1219.4,672.5 L1219.4,677.6 L1214.2,680.1 L1209.0,677.6 L1209.0,672.5 L1214.2,669.9ZM1229.8,672.5 L1229.8,677.6 L1224.6,680.1 L1219.4,677.6 L1219.4,672.5 L1224.6,669.9ZM1240.2,672.5 L1240.2,677.6 L1235.0,680.1 L1229.8,677.6 L1229.8,672.5 L1235.0,669.9ZM975.2,680.2 L975.2,685.2 L970.0,687.8 L964.8,685.2 L964.8,680.2 L970.0,677.6ZM985.6,680.2 L985.6,685.2 L980.4,687.8 L975.2,685.2 L975.2,680.2 L980.4,677.6ZM996.0,680.2 L996.0,685.2 L990.8,687.8 L985.6,685.2 L985.6,680.2 L990.8,677.6ZM1006.4,680.2 L1006.4,685.2 L1001.2,687.8 L996.0,685.2 L996.0,680.2 L1001.2,677.6ZM1016.8,680.2 L1016.8,685.2 L1011.6,687.8 L1006.4,685.2 L1006.4,680.2 L1011.6,677.6ZM1027.2,680.2 L1027.2,685.2 L1022.0,687.8 L1016.8,685.2 L1016.8,680.2 L1022.0,677.6ZM1037.5,680.2 L1037.5,685.2 L1032.4,687.8 L1027.2,685.2 L1027.2,680.2 L1032.4,677.6ZM1047.9,680.2 L1047.9,685.2 L1042.7,687.8 L1037.5,685.2 L1037.5,680.2 L1042.7,677.6ZM1058.3,680.2 L1058.3,685.2 L1053.1,687.8 L1047.9,685.2 L1047.9,680.2 L1053.1,677.6ZM1068.7,680.2 L1068.7,685.2 L1063.5,687.8 L1058.3,685.2 L1058.3,680.2 L1063.5,677.6ZM1079.1,680.2 L1079.1,685.2 L1073.9,687.8 L1068.7,685.2 L1068.7,680.2 L1073.9,677.6ZM1089.5,680.2 L1089.5,685.2 L1084.3,687.8 L1079.1,685.2 L1079.1,680.2 L1084.3,677.6ZM1099.9,680.2 L1099.9,685.2 L1094.7,687.8 L1089.5,685.2 L1089.5,680.2 L1094.7,677.6ZM1110.3,680.2 L1110.3,685.2 L1105.1,687.8 L1099.9,685.2 L1099.9,680.2 L1105.1,677.6ZM1120.7,680.2 L1120.7,685.2 L1115.5,687.8 L1110.3,685.2 L1110.3,680.2 L1115.5,677.6ZM1131.1,680.2 L1131.1,685.2 L1125.9,687.8 L1120.7,685.2 L1120.7,680.2 L1125.9,677.6ZM1141.5,680.2 L1141.5,685.2 L1136.3,687.8 L1131.1,685.2 L1131.1,680.2 L1136.3,677.6ZM1151.9,680.2 L1151.9,685.2 L1146.7,687.8 L1141.5,685.2 L1141.5,680.2 L1146.7,677.6ZM1162.3,680.2 L1162.3,685.2 L1157.1,687.8 L1151.9,685.2 L1151.9,680.2 L1157.1,677.6ZM1172.6,680.2 L1172.6,685.2 L1167.5,687.8 L1162.3,685.2 L1162.3,680.2 L1167.5,677.6ZM1183.0,680.2 L1183.0,685.2 L1177.8,687.8 L1172.6,685.2 L1172.6,680.2 L1177.8,677.6ZM1193.4,680.2 L1193.4,685.2 L1188.2,687.8 L1183.0,685.2 L1183.0,680.2 L1188.2,677.6ZM1203.8,680.2 L1203.8,685.2 L1198.6,687.8 L1193.4,685.2 L1193.4,680.2 L1198.6,677.6ZM1214.2,680.2 L1214.2,685.2 L1209.0,687.8 L1203.8,685.2 L1203.8,680.2 L1209.0,677.6ZM1224.6,680.2 L1224.6,685.2 L1219.4,687.8 L1214.2,685.2 L1214.2,680.2 L1219.4,677.6ZM1235.0,680.2 L1235.0,685.2 L1229.8,687.8 L1224.6,685.2 L1224.6,680.2 L1229.8,677.6ZM980.4,687.8 L980.4,692.9 L975.2,695.5 L970.0,692.9 L970.0,687.8 L975.2,685.2ZM990.8,687.8 L990.8,692.9 L985.6,695.5 L980.4,692.9 L980.4,687.8 L985.6,685.2ZM1001.2,687.8 L1001.2,692.9 L996.0,695.5 L990.8,692.9 L990.8,687.8 L996.0,685.2ZM1011.6,687.8 L1011.6,692.9 L1006.4,695.5 L1001.2,692.9 L1001.2,687.8 L1006.4,685.2ZM1022.0,687.8 L1022.0,692.9 L1016.8,695.5 L1011.6,692.9 L1011.6,687.8 L1016.8,685.2ZM1032.4,687.8 L1032.4,692.9 L1027.2,695.5 L1022.0,692.9 L1022.0,687.8 L1027.2,685.2ZM1042.7,687.8 L1042.7,692.9 L1037.5,695.5 L1032.4,692.9 L1032.4,687.8 L1037.5,685.2ZM1053.1,687.8 L1053.1,692.9 L1047.9,695.5 L1042.7,692.9 L1042.7,687.8 L1047.9,685.2ZM1063.5,687.8 L1063.5,692.9 L1058.3,695.5 L1053.1,692.9 L1053.1,687.8 L1058.3,685.2ZM1073.9,687.8 L1073.9,692.9 L1068.7,695.5 L1063.5,692.9 L1063.5,687.8 L1068.7,685.2ZM1084.3,687.8 L1084.3,692.9 L1079.1,695.5 L1073.9,692.9 L1073.9,687.8 L1079.1,685.2ZM1094.7,687.8 L1094.7,692.9 L1089.5,695.5 L1084.3,692.9 L1084.3,687.8 L1089.5,685.2ZM1105.1,687.8 L1105.1,692.9 L1099.9,695.5 L1094.7,692.9 L1094.7,687.8 L1099.9,685.2ZM1115.5,687.8 L1115.5,692.9 L1110.3,695.5 L1105.1,692.9 L1105.1,687.8 L1110.3,685.2ZM1125.9,687.8 L1125.9,692.9 L1120.7,695.5 L1115.5,692.9 L1115.5,687.8 L1120.7,685.2ZM1136.3,687.8 L1136.3,692.9 L1131.1,695.5 L1125.9,692.9 L1125.9,687.8 L1131.1,685.2ZM1146.7,687.8 L1146.7,692.9 L1141.5,695.5 L1136.3,692.9 L1136.3,687.8 L1141.5,685.2ZM1157.1,687.8 L1157.1,692.9 L1151.9,695.5 L1146.7,692.9 L1146.7,687.8 L1151.9,685.2ZM1167.5,687.8 L1167.5,692.9 L1162.3,695.5 L1157.1,692.9 L1157.1,687.8 L1162.3,685.2ZM1177.8,687.8 L1177.8,692.9 L1172.6,695.5 L1167.5,692.9 L1167.5,687.8 L1172.6,685.2ZM1188.2,687.8 L1188.2,692.9 L1183.0,695.5 L1177.8,692.9 L1177.8,687.8 L1183.0,685.2ZM1198.6,687.8 L1198.6,692.9 L1193.4,695.5 L1188.2,692.9 L1188.2,687.8 L1193.4,685.2ZM1209.0,687.8 L1209.0,692.9 L1203.8,695.5 L1198.6,692.9 L1198.6,687.8 L1203.8,685.2ZM1219.4,687.8 L1219.4,692.9 L1214.2,695.5 L1209.0,692.9 L1209.0,687.8 L1214.2,685.2ZM1229.8,687.8 L1229.8,692.9 L1224.6,695.5 L1219.4,692.9 L1219.4,687.8 L1224.6,685.2ZM1240.2,687.8 L1240.2,692.9 L1235.0,695.5 L1229.8,692.9 L1229.8,687.8 L1235.0,685.2ZM975.2,695.5 L975.2,700.5 L970.0,703.1 L964.8,700.5 L964.8,695.5 L970.0,692.9ZM985.6,695.5 L985.6,700.5 L980.4,703.1 L975.2,700.5 L975.2,695.5 L980.4,692.9ZM996.0,695.5 L996.0,700.5 L990.8,703.1 L985.6,700.5 L985.6,695.5 L990.8,692.9ZM1006.4,695.5 L1006.4,700.5 L1001.2,703.1 L996.0,700.5 L996.0,695.5 L1001.2,692.9ZM1016.8,695.5 L1016.8,700.5 L1011.6,703.1 L1006.4,700.5 L1006.4,695.5 L1011.6,692.9ZM1027.2,695.5 L1027.2,700.5 L1022.0,703.1 L1016.8,700.5 L1016.8,695.5 L1022.0,692.9ZM1037.5,695.5 L1037.5,700.5 L1032.4,703.1 L1027.2,700.5 L1027.2,695.5 L1032.4,692.9ZM1047.9,695.5 L1047.9,700.5 L1042.7,703.1 L1037.5,700.5 L1037.5,695.5 L1042.7,692.9ZM1058.3,695.5 L1058.3,700.5 L1053.1,703.1 L1047.9,700.5 L1047.9,695.5 L1053.1,692.9ZM1068.7,695.5 L1068.7,700.5 L1063.5,703.1 L1058.3,700.5 L1058.3,695.5 L1063.5,692.9ZM1079.1,695.5 L1079.1,700.5 L1073.9,703.1 L1068.7,700.5 L1068.7,695.5 L1073.9,692.9ZM1089.5,695.5 L1089.5,700.5 L1084.3,703.1 L1079.1,700.5 L1079.1,695.5 L1084.3,692.9ZM1099.9,695.5 L1099.9,700.5 L1094.7,703.1 L1089.5,700.5 L1089.5,695.5 L1094.7,692.9ZM1110.3,695.5 L1110.3,700.5 L1105.1,703.1 L1099.9,700.5 L1099.9,695.5 L1105.1,692.9ZM1120.7,695.5 L1120.7,700.5 L1115.5,703.1 L1110.3,700.5 L1110.3,695.5 L1115.5,692.9ZM1131.1,695.5 L1131.1,700.5 L1125.9,703.1 L1120.7,700.5 L1120.7,695.5 L1125.9,692.9ZM1141.5,695.5 L1141.5,700.5 L1136.3,703.1 L1131.1,700.5 L1131.1,695.5 L1136.3,692.9ZM1151.9,695.5 L1151.9,700.5 L1146.7,703.1 L1141.5,700.5 L1141.5,695.5 L1146.7,692.9ZM1162.3,695.5 L1162.3,700.5 L1157.1,703.1 L1151.9,700.5 L1151.9,695.5 L1157.1,692.9ZM1172.6,695.5 L1172.6,700.5 L1167.5,703.1 L1162.3,700.5 L1162.3,695.5 L1167.5,692.9ZM1183.0,695.5 L1183.0,700.5 L1177.8,703.1 L1172.6,700.5 L1172.6,695.5 L1177.8,692.9ZM1193.4,695.5 L1193.4,700.5 L1188.2,703.1 L1183.0,700.5 L1183.0,695.5 L1188.2,692.9ZM1203.8,695.5 L1203.8,700.5 L1198.6,703.1 L1193.4,700.5 L1193.4,695.5 L1198.6,692.9ZM1214.2,695.5 L1214.2,700.5 L1209.0,703.1 L1203.8,700.5 L1203.8,695.5 L1209.0,692.9ZM1224.6,695.5 L1224.6,700.5 L1219.4,703.1 L1214.2,700.5 L1214.2,695.5 L1219.4,692.9ZM1235.0,695.5 L1235.0,700.5 L1229.8,703.1 L1224.6,700.5 L1224.6,695.5 L1229.8,692.9ZM980.4,703.1 L980.4,708.2 L975.2,710.8 L970.0,708.2 L970.0,703.1 L975.2,700.5ZM990.8,703.1 L990.8,708.2 L985.6,710.8 L980.4,708.2 L980.4,703.1 L985.6,700.5ZM1001.2,703.1 L1001.2,708.2 L996.0,710.8 L990.8,708.2 L990.8,703.1 L996.0,700.5ZM1011.6,703.1 L1011.6,708.2 L1006.4,710.8 L1001.2,708.2 L1001.2,703.1 L1006.4,700.5ZM1022.0,703.1 L1022.0,708.2 L1016.8,710.8 L1011.6,708.2 L1011.6,703.1 L1016.8,700.5ZM1032.4,703.1 L1032.4,708.2 L1027.2,710.8 L1022.0,708.2 L1022.0,703.1 L1027.2,700.5ZM1042.7,703.1 L1042.7,708.2 L1037.5,710.8 L1032.4,708.2 L1032.4,703.1 L1037.5,700.5ZM1053.1,703.1 L1053.1,708.2 L1047.9,710.8 L1042.7,708.2 L1042.7,703.1 L1047.9,700.5ZM1063.5,703.1 L1063.5,708.2 L1058.3,710.8 L1053.1,708.2 L1053.1,703.1 L1058.3,700.5ZM1073.9,703.1 L1073.9,708.2 L1068.7,710.8 L1063.5,708.2 L1063.5,703.1 L1068.7,700.5ZM1084.3,703.1 L1084.3,708.2 L1079.1,710.8 L1073.9,708.2 L1073.9,703.1 L1079.1,700.5ZM1094.7,703.1 L1094.7,708.2 L1089.5,710.8 L1084.3,708.2 L1084.3,703.1 L1089.5,700.5ZM1105.1,703.1 L1105.1,708.2 L1099.9,710.8 L1094.7,708.2 L1094.7,703.1 L1099.9,700.5ZM1115.5,703.1 L1115.5,708.2 L1110.3,710.8 L1105.1,708.2 L1105.1,703.1 L1110.3,700.5ZM1125.9,703.1 L1125.9,708.2 L1120.7,710.8 L1115.5,708.2 L1115.5,703.1 L1120.7,700.5ZM1136.3,703.1 L1136.3,708.2 L1131.1,710.8 L1125.9,708.2 L1125.9,703.1 L1131.1,700.5ZM1146.7,703.1 L1146.7,708.2 L1141.5,710.8 L1136.3,708.2 L1136.3,703.1 L1141.5,700.5ZM1157.1,703.1 L1157.1,708.2 L1151.9,710.8 L1146.7,708.2 L1146.7,703.1 L1151.9,700.5ZM1167.5,703.1 L1167.5,708.2 L1162.3,710.8 L1157.1,708.2 L1157.1,703.1 L1162.3,700.5ZM1177.8,703.1 L1177.8,708.2 L1172.6,710.8 L1167.5,708.2 L1167.5,703.1 L1172.6,700.5ZM1188.2,703.1 L1188.2,708.2 L1183.0,710.8 L1177.8,708.2 L1177.8,703.1 L1183.0,700.5ZM1198.6,703.1 L1198.6,708.2 L1193.4,710.8 L1188.2,708.2 L1188.2,703.1 L1193.4,700.5ZM1209.0,703.1 L1209.0,708.2 L1203.8,710.8 L1198.6,708.2 L1198.6,703.1 L1203.8,700.5ZM1219.4,703.1 L1219.4,708.2 L1214.2,710.8 L1209.0,708.2 L1209.0,703.1 L1214.2,700.5ZM1229.8,703.1 L1229.8,708.2 L1224.6,710.8 L1219.4,708.2 L1219.4,703.1 L1224.6,700.5ZM1240.2,703.1 L1240.2,708.2 L1235.0,710.8 L1229.8,708.2 L1229.8,703.1 L1235.0,700.5ZM975.2,710.8 L975.2,715.8 L970.0,718.4 L964.8,715.8 L964.8,710.8 L970.0,708.2ZM985.6,710.8 L985.6,715.8 L980.4,718.4 L975.2,715.8 L975.2,710.8 L980.4,708.2ZM996.0,710.8 L996.0,715.8 L990.8,718.4 L985.6,715.8 L985.6,710.8 L990.8,708.2ZM1006.4,710.8 L1006.4,715.8 L1001.2,718.4 L996.0,715.8 L996.0,710.8 L1001.2,708.2ZM1016.8,710.8 L1016.8,715.8 L1011.6,718.4 L1006.4,715.8 L1006.4,710.8 L1011.6,708.2ZM1027.2,710.8 L1027.2,715.8 L1022.0,718.4 L1016.8,715.8 L1016.8,710.8 L1022.0,708.2ZM1037.5,710.8 L1037.5,715.8 L1032.4,718.4 L1027.2,715.8 L1027.2,710.8 L1032.4,708.2ZM1047.9,710.8 L1047.9,715.8 L1042.7,718.4 L1037.5,715.8 L1037.5,710.8 L1042.7,708.2ZM1058.3,710.8 L1058.3,715.8 L1053.1,718.4 L1047.9,715.8 L1047.9,710.8 L1053.1,708.2ZM1068.7,710.8 L1068.7,715.8 L1063.5,718.4 L1058.3,715.8 L1058.3,710.8 L1063.5,708.2ZM1079.1,710.8 L1079.1,715.8 L1073.9,718.4 L1068.7,715.8 L1068.7,710.8 L1073.9,708.2ZM1089.5,710.8 L1089.5,715.8 L1084.3,718.4 L1079.1,715.8 L1079.1,710.8 L1084.3,708.2ZM1099.9,710.8 L1099.9,715.8 L1094.7,718.4 L1089.5,715.8 L1089.5,710.8 L1094.7,708.2ZM1110.3,710.8 L1110.3,715.8 L1105.1,718.4 L1099.9,715.8 L1099.9,710.8 L1105.1,708.2ZM1120.7,710.8 L1120.7,715.8 L1115.5,718.4 L1110.3,715.8 L1110.3,710.8 L1115.5,708.2ZM1131.1,710.8 L1131.1,715.8 L1125.9,718.4 L1120.7,715.8 L1120.7,710.8 L1125.9,708.2ZM1141.5,710.8 L1141.5,715.8 L1136.3,718.4 L1131.1,715.8 L1131.1,710.8 L1136.3,708.2ZM1151.9,710.8 L1151.9,715.8 L1146.7,718.4 L1141.5,715.8 L1141.5,710.8 L1146.7,708.2ZM1162.3,710.8 L1162.3,715.8 L1157.1,718.4 L1151.9,715.8 L1151.9,710.8 L1157.1,708.2ZM1172.6,710.8 L1172.6,715.8 L1167.5,718.4 L1162.3,715.8 L1162.3,710.8 L1167.5,708.2ZM1183.0,710.8 L1183.0,715.8 L1177.8,718.4 L1172.6,715.8 L1172.6,710.8 L1177.8,708.2ZM1193.4,710.8 L1193.4,715.8 L1188.2,718.4 L1183.0,715.8 L1183.0,710.8 L1188.2,708.2ZM1203.8,710.8 L1203.8,715.8 L1198.6,718.4 L1193.4,715.8 L1193.4,710.8 L1198.6,708.2ZM1214.2,710.8 L1214.2,715.8 L1209.0,718.4 L1203.8,715.8 L1203.8,710.8 L1209.0,708.2ZM1224.6,710.8 L1224.6,715.8 L1219.4,718.4 L1214.2,715.8 L1214.2,710.8 L1219.4,708.2ZM1235.0,710.8 L1235.0,715.8 L1229.8,718.4 L1224.6,715.8 L1224.6,710.8 L1229.8,708.2ZM980.4,718.4 L980.4,723.5 L975.2,726.1 L970.0,723.5 L970.0,718.4 L975.2,715.9ZM990.8,718.4 L990.8,723.5 L985.6,726.1 L980.4,723.5 L980.4,718.4 L985.6,715.9ZM1001.2,718.4 L1001.2,723.5 L996.0,726.1 L990.8,723.5 L990.8,718.4 L996.0,715.9ZM1011.6,718.4 L1011.6,723.5 L1006.4,726.1 L1001.2,723.5 L1001.2,718.4 L1006.4,715.9ZM1022.0,718.4 L1022.0,723.5 L1016.8,726.1 L1011.6,723.5 L1011.6,718.4 L1016.8,715.9ZM1032.4,718.4 L1032.4,723.5 L1027.2,726.1 L1022.0,723.5 L1022.0,718.4 L1027.2,715.9ZM1042.7,718.4 L1042.7,723.5 L1037.5,726.1 L1032.4,723.5 L1032.4,718.4 L1037.5,715.9ZM1053.1,718.4 L1053.1,723.5 L1047.9,726.1 L1042.7,723.5 L1042.7,718.4 L1047.9,715.9ZM1063.5,718.4 L1063.5,723.5 L1058.3,726.1 L1053.1,723.5 L1053.1,718.4 L1058.3,715.9ZM1073.9,718.4 L1073.9,723.5 L1068.7,726.1 L1063.5,723.5 L1063.5,718.4 L1068.7,715.9ZM1084.3,718.4 L1084.3,723.5 L1079.1,726.1 L1073.9,723.5 L1073.9,718.4 L1079.1,715.9ZM1094.7,718.4 L1094.7,723.5 L1089.5,726.1 L1084.3,723.5 L1084.3,718.4 L1089.5,715.9ZM1105.1,718.4 L1105.1,723.5 L1099.9,726.1 L1094.7,723.5 L1094.7,718.4 L1099.9,715.9ZM1115.5,718.4 L1115.5,723.5 L1110.3,726.1 L1105.1,723.5 L1105.1,718.4 L1110.3,715.9ZM1125.9,718.4 L1125.9,723.5 L1120.7,726.1 L1115.5,723.5 L1115.5,718.4 L1120.7,715.9ZM1136.3,718.4 L1136.3,723.5 L1131.1,726.1 L1125.9,723.5 L1125.9,718.4 L1131.1,715.9ZM1146.7,718.4 L1146.7,723.5 L1141.5,726.1 L1136.3,723.5 L1136.3,718.4 L1141.5,715.9ZM1157.1,718.4 L1157.1,723.5 L1151.9,726.1 L1146.7,723.5 L1146.7,718.4 L1151.9,715.9ZM1167.5,718.4 L1167.5,723.5 L1162.3,726.1 L1157.1,723.5 L1157.1,718.4 L1162.3,715.9ZM1177.8,718.4 L1177.8,723.5 L1172.6,726.1 L1167.5,723.5 L1167.5,718.4 L1172.6,715.9ZM1188.2,718.4 L1188.2,723.5 L1183.0,726.1 L1177.8,723.5 L1177.8,718.4 L1183.0,715.9ZM1198.6,718.4 L1198.6,723.5 L1193.4,726.1 L1188.2,723.5 L1188.2,718.4 L1193.4,715.9ZM1209.0,718.4 L1209.0,723.5 L1203.8,726.1 L1198.6,723.5 L1198.6,718.4 L1203.8,715.9ZM1219.4,718.4 L1219.4,723.5 L1214.2,726.1 L1209.0,723.5 L1209.0,718.4 L1214.2,715.9ZM1229.8,718.4 L1229.8,723.5 L1224.6,726.1 L1219.4,723.5 L1219.4,718.4 L1224.6,715.9ZM1240.2,718.4 L1240.2,723.5 L1235.0,726.1 L1229.8,723.5 L1229.8,718.4 L1235.0,715.9ZM975.2,726.1 L975.2,731.1 L970.0,733.7 L964.8,731.1 L964.8,726.1 L970.0,723.5ZM985.6,726.1 L985.6,731.1 L980.4,733.7 L975.2,731.1 L975.2,726.1 L980.4,723.5ZM996.0,726.1 L996.0,731.1 L990.8,733.7 L985.6,731.1 L985.6,726.1 L990.8,723.5ZM1006.4,726.1 L1006.4,731.1 L1001.2,733.7 L996.0,731.1 L996.0,726.1 L1001.2,723.5ZM1016.8,726.1 L1016.8,731.1 L1011.6,733.7 L1006.4,731.1 L1006.4,726.1 L1011.6,723.5ZM1027.2,726.1 L1027.2,731.1 L1022.0,733.7 L1016.8,731.1 L1016.8,726.1 L1022.0,723.5ZM1037.5,726.1 L1037.5,731.1 L1032.4,733.7 L1027.2,731.1 L1027.2,726.1 L1032.4,723.5ZM1047.9,726.1 L1047.9,731.1 L1042.7,733.7 L1037.5,731.1 L1037.5,726.1 L1042.7,723.5ZM1058.3,726.1 L1058.3,731.1 L1053.1,733.7 L1047.9,731.1 L1047.9,726.1 L1053.1,723.5ZM1068.7,726.1 L1068.7,731.1 L1063.5,733.7 L1058.3,731.1 L1058.3,726.1 L1063.5,723.5ZM1079.1,726.1 L1079.1,731.1 L1073.9,733.7 L1068.7,731.1 L1068.7,726.1 L1073.9,723.5ZM1089.5,726.1 L1089.5,731.1 L1084.3,733.7 L1079.1,731.1 L1079.1,726.1 L1084.3,723.5ZM1099.9,726.1 L1099.9,731.1 L1094.7,733.7 L1089.5,731.1 L1089.5,726.1 L1094.7,723.5ZM1110.3,726.1 L1110.3,731.1 L1105.1,733.7 L1099.9,731.1 L1099.9,726.1 L1105.1,723.5ZM1120.7,726.1 L1120.7,731.1 L1115.5,733.7 L1110.3,731.1 L1110.3,726.1 L1115.5,723.5ZM1131.1,726.1 L1131.1,731.1 L1125.9,733.7 L1120.7,731.1 L1120.7,726.1 L1125.9,723.5ZM1141.5,726.1 L1141.5,731.1 L1136.3,733.7 L1131.1,731.1 L1131.1,726.1 L1136.3,723.5ZM1151.9,726.1 L1151.9,731.1 L1146.7,733.7 L1141.5,731.1 L1141.5,726.1 L1146.7,723.5ZM1162.3,726.1 L1162.3,731.1 L1157.1,733.7 L1151.9,731.1 L1151.9,726.1 L1157.1,723.5ZM1172.6,726.1 L1172.6,731.1 L1167.5,733.7 L1162.3,731.1 L1162.3,726.1 L1167.5,723.5ZM1183.0,726.1 L1183.0,731.1 L1177.8,733.7 L1172.6,731.1 L1172.6,726.1 L1177.8,723.5ZM1193.4,726.1 L1193.4,731.1 L1188.2,733.7 L1183.0,731.1 L1183.0,726.1 L1188.2,723.5ZM1203.8,726.1 L1203.8,731.1 L1198.6,733.7 L1193.4,731.1 L1193.4,726.1 L1198.6,723.5ZM1214.2,726.1 L1214.2,731.1 L1209.0,733.7 L1203.8,731.1 L1203.8,726.1 L1209.0,723.5ZM1224.6,726.1 L1224.6,731.1 L1219.4,733.7 L1214.2,731.1 L1214.2,726.1 L1219.4,723.5ZM1235.0,726.1 L1235.0,731.1 L1229.8,733.7 L1224.6,731.1 L1224.6,726.1 L1229.8,723.5ZM980.4,733.7 L980.4,738.8 L975.2,741.4 L970.0,738.8 L970.0,733.7 L975.2,731.1ZM990.8,733.7 L990.8,738.8 L985.6,741.4 L980.4,738.8 L980.4,733.7 L985.6,731.1ZM1001.2,733.7 L1001.2,738.8 L996.0,741.4 L990.8,738.8 L990.8,733.7 L996.0,731.1ZM1011.6,733.7 L1011.6,738.8 L1006.4,741.4 L1001.2,738.8 L1001.2,733.7 L1006.4,731.1ZM1022.0,733.7 L1022.0,738.8 L1016.8,741.4 L1011.6,738.8 L1011.6,733.7 L1016.8,731.1ZM1032.4,733.7 L1032.4,738.8 L1027.2,741.4 L1022.0,738.8 L1022.0,733.7 L1027.2,731.1ZM1042.7,733.7 L1042.7,738.8 L1037.5,741.4 L1032.4,738.8 L1032.4,733.7 L1037.5,731.1ZM1053.1,733.7 L1053.1,738.8 L1047.9,741.4 L1042.7,738.8 L1042.7,733.7 L1047.9,731.1ZM1063.5,733.7 L1063.5,738.8 L1058.3,741.4 L1053.1,738.8 L1053.1,733.7 L1058.3,731.1ZM1073.9,733.7 L1073.9,738.8 L1068.7,741.4 L1063.5,738.8 L1063.5,733.7 L1068.7,731.1ZM1084.3,733.7 L1084.3,738.8 L1079.1,741.4 L1073.9,738.8 L1073.9,733.7 L1079.1,731.1ZM1094.7,733.7 L1094.7,738.8 L1089.5,741.4 L1084.3,738.8 L1084.3,733.7 L1089.5,731.1ZM1105.1,733.7 L1105.1,738.8 L1099.9,741.4 L1094.7,738.8 L1094.7,733.7 L1099.9,731.1ZM1115.5,733.7 L1115.5,738.8 L1110.3,741.4 L1105.1,738.8 L1105.1,733.7 L1110.3,731.1ZM1125.9,733.7 L1125.9,738.8 L1120.7,741.4 L1115.5,738.8 L1115.5,733.7 L1120.7,731.1ZM1136.3,733.7 L1136.3,738.8 L1131.1,741.4 L1125.9,738.8 L1125.9,733.7 L1131.1,731.1ZM1146.7,733.7 L1146.7,738.8 L1141.5,741.4 L1136.3,738.8 L1136.3,733.7 L1141.5,731.1ZM1157.1,733.7 L1157.1,738.8 L1151.9,741.4 L1146.7,738.8 L1146.7,733.7 L1151.9,731.1ZM1167.5,733.7 L1167.5,738.8 L1162.3,741.4 L1157.1,738.8 L1157.1,733.7 L1162.3,731.1ZM1177.8,733.7 L1177.8,738.8 L1172.6,741.4 L1167.5,738.8 L1167.5,733.7 L1172.6,731.1ZM1188.2,733.7 L1188.2,738.8 L1183.0,741.4 L1177.8,738.8 L1177.8,733.7 L1183.0,731.1ZM1198.6,733.7 L1198.6,738.8 L1193.4,741.4 L1188.2,738.8 L1188.2,733.7 L1193.4,731.1ZM1209.0,733.7 L1209.0,738.8 L1203.8,741.4 L1198.6,738.8 L1198.6,733.7 L1203.8,731.1ZM1219.4,733.7 L1219.4,738.8 L1214.2,741.4 L1209.0,738.8 L1209.0,733.7 L1214.2,731.1ZM1229.8,733.7 L1229.8,738.8 L1224.6,741.4 L1219.4,738.8 L1219.4,733.7 L1224.6,731.1ZM1240.2,733.7 L1240.2,738.8 L1235.0,741.4 L1229.8,738.8 L1229.8,733.7 L1235.0,731.1ZM975.2,741.4 L975.2,746.4 L970.0,749.0 L964.8,746.4 L964.8,741.4 L970.0,738.8ZM985.6,741.4 L985.6,746.4 L980.4,749.0 L975.2,746.4 L975.2,741.4 L980.4,738.8ZM996.0,741.4 L996.0,746.4 L990.8,749.0 L985.6,746.4 L985.6,741.4 L990.8,738.8ZM1006.4,741.4 L1006.4,746.4 L1001.2,749.0 L996.0,746.4 L996.0,741.4 L1001.2,738.8ZM1016.8,741.4 L1016.8,746.4 L1011.6,749.0 L1006.4,746.4 L1006.4,741.4 L1011.6,738.8ZM1027.2,741.4 L1027.2,746.4 L1022.0,749.0 L1016.8,746.4 L1016.8,741.4 L1022.0,738.8ZM1037.5,741.4 L1037.5,746.4 L1032.4,749.0 L1027.2,746.4 L1027.2,741.4 L1032.4,738.8ZM1047.9,741.4 L1047.9,746.4 L1042.7,749.0 L1037.5,746.4 L1037.5,741.4 L1042.7,738.8ZM1058.3,741.4 L1058.3,746.4 L1053.1,749.0 L1047.9,746.4 L1047.9,741.4 L1053.1,738.8ZM1068.7,741.4 L1068.7,746.4 L1063.5,749.0 L1058.3,746.4 L1058.3,741.4 L1063.5,738.8ZM1079.1,741.4 L1079.1,746.4 L1073.9,749.0 L1068.7,746.4 L1068.7,741.4 L1073.9,738.8ZM1089.5,741.4 L1089.5,746.4 L1084.3,749.0 L1079.1,746.4 L1079.1,741.4 L1084.3,738.8ZM1099.9,741.4 L1099.9,746.4 L1094.7,749.0 L1089.5,746.4 L1089.5,741.4 L1094.7,738.8ZM1110.3,741.4 L1110.3,746.4 L1105.1,749.0 L1099.9,746.4 L1099.9,741.4 L1105.1,738.8ZM1120.7,741.4 L1120.7,746.4 L1115.5,749.0 L1110.3,746.4 L1110.3,741.4 L1115.5,738.8ZM1131.1,741.4 L1131.1,746.4 L1125.9,749.0 L1120.7,746.4 L1120.7,741.4 L1125.9,738.8ZM1141.5,741.4 L1141.5,746.4 L1136.3,749.0 L1131.1,746.4 L1131.1,741.4 L1136.3,738.8ZM1151.9,741.4 L1151.9,746.4 L1146.7,749.0 L1141.5,746.4 L1141.5,741.4 L1146.7,738.8ZM1162.3,741.4 L1162.3,746.4 L1157.1,749.0 L1151.9,746.4 L1151.9,741.4 L1157.1,738.8ZM1172.6,741.4 L1172.6,746.4 L1167.5,749.0 L1162.3,746.4 L1162.3,741.4 L1167.5,738.8ZM1183.0,741.4 L1183.0,746.4 L1177.8,749.0 L1172.6,746.4 L1172.6,741.4 L1177.8,738.8ZM1193.4,741.4 L1193.4,746.4 L1188.2,749.0 L1183.0,746.4 L1183.0,741.4 L1188.2,738.8ZM1203.8,741.4 L1203.8,746.4 L1198.6,749.0 L1193.4,746.4 L1193.4,741.4 L1198.6,738.8ZM1214.2,741.4 L1214.2,746.4 L1209.0,749.0 L1203.8,746.4 L1203.8,741.4 L1209.0,738.8ZM1224.6,741.4 L1224.6,746.4 L1219.4,749.0 L1214.2,746.4 L1214.2,741.4 L1219.4,738.8ZM1235.0,741.4 L1235.0,746.4 L1229.8,749.0 L1224.6,746.4 L1224.6,741.4 L1229.8,738.8ZM980.4,749.0 L980.4,754.1 L975.2,756.6 L970.0,754.1 L970.0,749.0 L975.2,746.4ZM990.8,749.0 L990.8,754.1 L985.6,756.6 L980.4,754.1 L980.4,749.0 L985.6,746.4ZM1001.2,749.0 L1001.2,754.1 L996.0,756.6 L990.8,754.1 L990.8,749.0 L996.0,746.4ZM1011.6,749.0 L1011.6,754.1 L1006.4,756.6 L1001.2,754.1 L1001.2,749.0 L1006.4,746.4ZM1022.0,749.0 L1022.0,754.1 L1016.8,756.6 L1011.6,754.1 L1011.6,749.0 L1016.8,746.4ZM1032.4,749.0 L1032.4,754.1 L1027.2,756.6 L1022.0,754.1 L1022.0,749.0 L1027.2,746.4ZM1042.7,749.0 L1042.7,754.1 L1037.5,756.6 L1032.4,754.1 L1032.4,749.0 L1037.5,746.4ZM1053.1,749.0 L1053.1,754.1 L1047.9,756.6 L1042.7,754.1 L1042.7,749.0 L1047.9,746.4ZM1063.5,749.0 L1063.5,754.1 L1058.3,756.6 L1053.1,754.1 L1053.1,749.0 L1058.3,746.4ZM1073.9,749.0 L1073.9,754.1 L1068.7,756.6 L1063.5,754.1 L1063.5,749.0 L1068.7,746.4ZM1084.3,749.0 L1084.3,754.1 L1079.1,756.6 L1073.9,754.1 L1073.9,749.0 L1079.1,746.4ZM1094.7,749.0 L1094.7,754.1 L1089.5,756.6 L1084.3,754.1 L1084.3,749.0 L1089.5,746.4ZM1105.1,749.0 L1105.1,754.1 L1099.9,756.6 L1094.7,754.1 L1094.7,749.0 L1099.9,746.4ZM1115.5,749.0 L1115.5,754.1 L1110.3,756.6 L1105.1,754.1 L1105.1,749.0 L1110.3,746.4ZM1125.9,749.0 L1125.9,754.1 L1120.7,756.6 L1115.5,754.1 L1115.5,749.0 L1120.7,746.4ZM1136.3,749.0 L1136.3,754.1 L1131.1,756.6 L1125.9,754.1 L1125.9,749.0 L1131.1,746.4ZM1146.7,749.0 L1146.7,754.1 L1141.5,756.6 L1136.3,754.1 L1136.3,749.0 L1141.5,746.4ZM1157.1,749.0 L1157.1,754.1 L1151.9,756.6 L1146.7,754.1 L1146.7,749.0 L1151.9,746.4ZM1167.5,749.0 L1167.5,754.1 L1162.3,756.6 L1157.1,754.1 L1157.1,749.0 L1162.3,746.4ZM1177.8,749.0 L1177.8,754.1 L1172.6,756.6 L1167.5,754.1 L1167.5,749.0 L1172.6,746.4ZM1188.2,749.0 L1188.2,754.1 L1183.0,756.6 L1177.8,754.1 L1177.8,749.0 L1183.0,746.4ZM1198.6,749.0 L1198.6,754.1 L1193.4,756.6 L1188.2,754.1 L1188.2,749.0 L1193.4,746.4ZM1209.0,749.0 L1209.0,754.1 L1203.8,756.6 L1198.6,754.1 L1198.6,749.0 L1203.8,746.4ZM1219.4,749.0 L1219.4,754.1 L1214.2,756.6 L1209.0,754.1 L1209.0,749.0 L1214.2,746.4ZM1229.8,749.0 L1229.8,754.1 L1224.6,756.6 L1219.4,754.1 L1219.4,749.0 L1224.6,746.4ZM1240.2,749.0 L1240.2,754.1 L1235.0,756.6 L1229.8,754.1 L1229.8,749.0 L1235.0,746.4ZM975.2,756.7 L975.2,761.8 L970.0,764.3 L964.8,761.8 L964.8,756.7 L970.0,754.1ZM985.6,756.7 L985.6,761.8 L980.4,764.3 L975.2,761.8 L975.2,756.7 L980.4,754.1ZM996.0,756.7 L996.0,761.8 L990.8,764.3 L985.6,761.8 L985.6,756.7 L990.8,754.1ZM1006.4,756.7 L1006.4,761.8 L1001.2,764.3 L996.0,761.8 L996.0,756.7 L1001.2,754.1ZM1016.8,756.7 L1016.8,761.8 L1011.6,764.3 L1006.4,761.8 L1006.4,756.7 L1011.6,754.1ZM1027.2,756.7 L1027.2,761.8 L1022.0,764.3 L1016.8,761.8 L1016.8,756.7 L1022.0,754.1ZM1037.5,756.7 L1037.5,761.8 L1032.4,764.3 L1027.2,761.8 L1027.2,756.7 L1032.4,754.1ZM1047.9,756.7 L1047.9,761.8 L1042.7,764.3 L1037.5,761.8 L1037.5,756.7 L1042.7,754.1ZM1058.3,756.7 L1058.3,761.8 L1053.1,764.3 L1047.9,761.8 L1047.9,756.7 L1053.1,754.1ZM1068.7,756.7 L1068.7,761.8 L1063.5,764.3 L1058.3,761.8 L1058.3,756.7 L1063.5,754.1ZM1079.1,756.7 L1079.1,761.8 L1073.9,764.3 L1068.7,761.8 L1068.7,756.7 L1073.9,754.1ZM1089.5,756.7 L1089.5,761.8 L1084.3,764.3 L1079.1,761.8 L1079.1,756.7 L1084.3,754.1ZM1099.9,756.7 L1099.9,761.8 L1094.7,764.3 L1089.5,761.8 L1089.5,756.7 L1094.7,754.1ZM1110.3,756.7 L1110.3,761.8 L1105.1,764.3 L1099.9,761.8 L1099.9,756.7 L1105.1,754.1ZM1120.7,756.7 L1120.7,761.8 L1115.5,764.3 L1110.3,761.8 L1110.3,756.7 L1115.5,754.1ZM1131.1,756.7 L1131.1,761.8 L1125.9,764.3 L1120.7,761.8 L1120.7,756.7 L1125.9,754.1ZM1141.5,756.7 L1141.5,761.8 L1136.3,764.3 L1131.1,761.8 L1131.1,756.7 L1136.3,754.1ZM1151.9,756.7 L1151.9,761.8 L1146.7,764.3 L1141.5,761.8 L1141.5,756.7 L1146.7,754.1ZM1162.3,756.7 L1162.3,761.8 L1157.1,764.3 L1151.9,761.8 L1151.9,756.7 L1157.1,754.1ZM1172.6,756.7 L1172.6,761.8 L1167.5,764.3 L1162.3,761.8 L1162.3,756.7 L1167.5,754.1ZM1183.0,756.7 L1183.0,761.8 L1177.8,764.3 L1172.6,761.8 L1172.6,756.7 L1177.8,754.1ZM1193.4,756.7 L1193.4,761.8 L1188.2,764.3 L1183.0,761.8 L1183.0,756.7 L1188.2,754.1ZM1203.8,756.7 L1203.8,761.8 L1198.6,764.3 L1193.4,761.8 L1193.4,756.7 L1198.6,754.1ZM1214.2,756.7 L1214.2,761.8 L1209.0,764.3 L1203.8,761.8 L1203.8,756.7 L1209.0,754.1ZM1224.6,756.7 L1224.6,761.8 L1219.4,764.3 L1214.2,761.8 L1214.2,756.7 L1219.4,754.1ZM1235.0,756.7 L1235.0,761.8 L1229.8,764.3 L1224.6,761.8 L1224.6,756.7 L1229.8,754.1ZM980.4,764.3 L980.4,769.4 L975.2,772.0 L970.0,769.4 L970.0,764.3 L975.2,761.8ZM990.8,764.3 L990.8,769.4 L985.6,772.0 L980.4,769.4 L980.4,764.3 L985.6,761.8ZM1001.2,764.3 L1001.2,769.4 L996.0,772.0 L990.8,769.4 L990.8,764.3 L996.0,761.8ZM1011.6,764.3 L1011.6,769.4 L1006.4,772.0 L1001.2,769.4 L1001.2,764.3 L1006.4,761.8ZM1022.0,764.3 L1022.0,769.4 L1016.8,772.0 L1011.6,769.4 L1011.6,764.3 L1016.8,761.8ZM1032.4,764.3 L1032.4,769.4 L1027.2,772.0 L1022.0,769.4 L1022.0,764.3 L1027.2,761.8ZM1042.7,764.3 L1042.7,769.4 L1037.5,772.0 L1032.4,769.4 L1032.4,764.3 L1037.5,761.8ZM1053.1,764.3 L1053.1,769.4 L1047.9,772.0 L1042.7,769.4 L1042.7,764.3 L1047.9,761.8ZM1063.5,764.3 L1063.5,769.4 L1058.3,772.0 L1053.1,769.4 L1053.1,764.3 L1058.3,761.8ZM1073.9,764.3 L1073.9,769.4 L1068.7,772.0 L1063.5,769.4 L1063.5,764.3 L1068.7,761.8ZM1084.3,764.3 L1084.3,769.4 L1079.1,772.0 L1073.9,769.4 L1073.9,764.3 L1079.1,761.8ZM1094.7,764.3 L1094.7,769.4 L1089.5,772.0 L1084.3,769.4 L1084.3,764.3 L1089.5,761.8ZM1105.1,764.3 L1105.1,769.4 L1099.9,772.0 L1094.7,769.4 L1094.7,764.3 L1099.9,761.8ZM1115.5,764.3 L1115.5,769.4 L1110.3,772.0 L1105.1,769.4 L1105.1,764.3 L1110.3,761.8ZM1125.9,764.3 L1125.9,769.4 L1120.7,772.0 L1115.5,769.4 L1115.5,764.3 L1120.7,761.8ZM1136.3,764.3 L1136.3,769.4 L1131.1,772.0 L1125.9,769.4 L1125.9,764.3 L1131.1,761.8ZM1146.7,764.3 L1146.7,769.4 L1141.5,772.0 L1136.3,769.4 L1136.3,764.3 L1141.5,761.8ZM1157.1,764.3 L1157.1,769.4 L1151.9,772.0 L1146.7,769.4 L1146.7,764.3 L1151.9,761.8ZM1167.5,764.3 L1167.5,769.4 L1162.3,772.0 L1157.1,769.4 L1157.1,764.3 L1162.3,761.8ZM1177.8,764.3 L1177.8,769.4 L1172.6,772.0 L1167.5,769.4 L1167.5,764.3 L1172.6,761.8ZM1188.2,764.3 L1188.2,769.4 L1183.0,772.0 L1177.8,769.4 L1177.8,764.3 L1183.0,761.8ZM1198.6,764.3 L1198.6,769.4 L1193.4,772.0 L1188.2,769.4 L1188.2,764.3 L1193.4,761.8ZM1209.0,764.3 L1209.0,769.4 L1203.8,772.0 L1198.6,769.4 L1198.6,764.3 L1203.8,761.8ZM1219.4,764.3 L1219.4,769.4 L1214.2,772.0 L1209.0,769.4 L1209.0,764.3 L1214.2,761.8ZM1229.8,764.3 L1229.8,769.4 L1224.6,772.0 L1219.4,769.4 L1219.4,764.3 L1224.6,761.8ZM1240.2,764.3 L1240.2,769.4 L1235.0,772.0 L1229.8,769.4 L1229.8,764.3 L1235.0,761.8Z" stroke="#22a8bc" stroke-width="2.6" fill="none" opacity="1"/><path d="M978.2,546.5 L978.2,551.5 L973.0,554.1 L967.8,551.5 L967.8,546.5 L973.0,543.9ZM988.6,546.5 L988.6,551.5 L983.4,554.1 L978.2,551.5 L978.2,546.5 L983.4,543.9ZM999.0,546.5 L999.0,551.5 L993.8,554.1 L988.6,551.5 L988.6,546.5 L993.8,543.9ZM1009.4,546.5 L1009.4,551.5 L1004.2,554.1 L999.0,551.5 L999.0,546.5 L1004.2,543.9ZM1019.8,546.5 L1019.8,551.5 L1014.6,554.1 L1009.4,551.5 L1009.4,546.5 L1014.6,543.9ZM1030.2,546.5 L1030.2,551.5 L1025.0,554.1 L1019.8,551.5 L1019.8,546.5 L1025.0,543.9ZM1040.5,546.5 L1040.5,551.5 L1035.4,554.1 L1030.2,551.5 L1030.2,546.5 L1035.4,543.9ZM1050.9,546.5 L1050.9,551.5 L1045.7,554.1 L1040.5,551.5 L1040.5,546.5 L1045.7,543.9ZM1061.3,546.5 L1061.3,551.5 L1056.1,554.1 L1050.9,551.5 L1050.9,546.5 L1056.1,543.9ZM1071.7,546.5 L1071.7,551.5 L1066.5,554.1 L1061.3,551.5 L1061.3,546.5 L1066.5,543.9ZM1082.1,546.5 L1082.1,551.5 L1076.9,554.1 L1071.7,551.5 L1071.7,546.5 L1076.9,543.9ZM1092.5,546.5 L1092.5,551.5 L1087.3,554.1 L1082.1,551.5 L1082.1,546.5 L1087.3,543.9ZM1102.9,546.5 L1102.9,551.5 L1097.7,554.1 L1092.5,551.5 L1092.5,546.5 L1097.7,543.9ZM1113.3,546.5 L1113.3,551.5 L1108.1,554.1 L1102.9,551.5 L1102.9,546.5 L1108.1,543.9ZM1123.7,546.5 L1123.7,551.5 L1118.5,554.1 L1113.3,551.5 L1113.3,546.5 L1118.5,543.9ZM1134.1,546.5 L1134.1,551.5 L1128.9,554.1 L1123.7,551.5 L1123.7,546.5 L1128.9,543.9ZM1144.5,546.5 L1144.5,551.5 L1139.3,554.1 L1134.1,551.5 L1134.1,546.5 L1139.3,543.9ZM1154.9,546.5 L1154.9,551.5 L1149.7,554.1 L1144.5,551.5 L1144.5,546.5 L1149.7,543.9ZM1165.3,546.5 L1165.3,551.5 L1160.1,554.1 L1154.9,551.5 L1154.9,546.5 L1160.1,543.9ZM1175.6,546.5 L1175.6,551.5 L1170.5,554.1 L1165.3,551.5 L1165.3,546.5 L1170.5,543.9ZM1186.0,546.5 L1186.0,551.5 L1180.8,554.1 L1175.6,551.5 L1175.6,546.5 L1180.8,543.9ZM1196.4,546.5 L1196.4,551.5 L1191.2,554.1 L1186.0,551.5 L1186.0,546.5 L1191.2,543.9ZM1206.8,546.5 L1206.8,551.5 L1201.6,554.1 L1196.4,551.5 L1196.4,546.5 L1201.6,543.9ZM1217.2,546.5 L1217.2,551.5 L1212.0,554.1 L1206.8,551.5 L1206.8,546.5 L1212.0,543.9ZM1227.6,546.5 L1227.6,551.5 L1222.4,554.1 L1217.2,551.5 L1217.2,546.5 L1222.4,543.9ZM983.4,554.1 L983.4,559.2 L978.2,561.8 L973.0,559.2 L973.0,554.1 L978.2,551.5ZM993.8,554.1 L993.8,559.2 L988.6,561.8 L983.4,559.2 L983.4,554.1 L988.6,551.5ZM1004.2,554.1 L1004.2,559.2 L999.0,561.8 L993.8,559.2 L993.8,554.1 L999.0,551.5ZM1014.6,554.1 L1014.6,559.2 L1009.4,561.8 L1004.2,559.2 L1004.2,554.1 L1009.4,551.5ZM1025.0,554.1 L1025.0,559.2 L1019.8,561.8 L1014.6,559.2 L1014.6,554.1 L1019.8,551.5ZM1035.4,554.1 L1035.4,559.2 L1030.2,561.8 L1025.0,559.2 L1025.0,554.1 L1030.2,551.5ZM1045.7,554.1 L1045.7,559.2 L1040.5,561.8 L1035.4,559.2 L1035.4,554.1 L1040.5,551.5ZM1056.1,554.1 L1056.1,559.2 L1050.9,561.8 L1045.7,559.2 L1045.7,554.1 L1050.9,551.5ZM1066.5,554.1 L1066.5,559.2 L1061.3,561.8 L1056.1,559.2 L1056.1,554.1 L1061.3,551.5ZM1076.9,554.1 L1076.9,559.2 L1071.7,561.8 L1066.5,559.2 L1066.5,554.1 L1071.7,551.5ZM1087.3,554.1 L1087.3,559.2 L1082.1,561.8 L1076.9,559.2 L1076.9,554.1 L1082.1,551.5ZM1097.7,554.1 L1097.7,559.2 L1092.5,561.8 L1087.3,559.2 L1087.3,554.1 L1092.5,551.5ZM1108.1,554.1 L1108.1,559.2 L1102.9,561.8 L1097.7,559.2 L1097.7,554.1 L1102.9,551.5ZM1118.5,554.1 L1118.5,559.2 L1113.3,561.8 L1108.1,559.2 L1108.1,554.1 L1113.3,551.5ZM1128.9,554.1 L1128.9,559.2 L1123.7,561.8 L1118.5,559.2 L1118.5,554.1 L1123.7,551.5ZM1139.3,554.1 L1139.3,559.2 L1134.1,561.8 L1128.9,559.2 L1128.9,554.1 L1134.1,551.5ZM1149.7,554.1 L1149.7,559.2 L1144.5,561.8 L1139.3,559.2 L1139.3,554.1 L1144.5,551.5ZM1160.1,554.1 L1160.1,559.2 L1154.9,561.8 L1149.7,559.2 L1149.7,554.1 L1154.9,551.5ZM1170.5,554.1 L1170.5,559.2 L1165.3,561.8 L1160.1,559.2 L1160.1,554.1 L1165.3,551.5ZM1180.8,554.1 L1180.8,559.2 L1175.6,561.8 L1170.5,559.2 L1170.5,554.1 L1175.6,551.5ZM1191.2,554.1 L1191.2,559.2 L1186.0,561.8 L1180.8,559.2 L1180.8,554.1 L1186.0,551.5ZM1201.6,554.1 L1201.6,559.2 L1196.4,561.8 L1191.2,559.2 L1191.2,554.1 L1196.4,551.5ZM1212.0,554.1 L1212.0,559.2 L1206.8,561.8 L1201.6,559.2 L1201.6,554.1 L1206.8,551.5ZM1222.4,554.1 L1222.4,559.2 L1217.2,561.8 L1212.0,559.2 L1212.0,554.1 L1217.2,551.5ZM1232.8,554.1 L1232.8,559.2 L1227.6,561.8 L1222.4,559.2 L1222.4,554.1 L1227.6,551.5ZM978.2,561.8 L978.2,566.8 L973.0,569.4 L967.8,566.8 L967.8,561.8 L973.0,559.2ZM988.6,561.8 L988.6,566.8 L983.4,569.4 L978.2,566.8 L978.2,561.8 L983.4,559.2ZM999.0,561.8 L999.0,566.8 L993.8,569.4 L988.6,566.8 L988.6,561.8 L993.8,559.2ZM1009.4,561.8 L1009.4,566.8 L1004.2,569.4 L999.0,566.8 L999.0,561.8 L1004.2,559.2ZM1019.8,561.8 L1019.8,566.8 L1014.6,569.4 L1009.4,566.8 L1009.4,561.8 L1014.6,559.2ZM1030.2,561.8 L1030.2,566.8 L1025.0,569.4 L1019.8,566.8 L1019.8,561.8 L1025.0,559.2ZM1040.5,561.8 L1040.5,566.8 L1035.4,569.4 L1030.2,566.8 L1030.2,561.8 L1035.4,559.2ZM1050.9,561.8 L1050.9,566.8 L1045.7,569.4 L1040.5,566.8 L1040.5,561.8 L1045.7,559.2ZM1061.3,561.8 L1061.3,566.8 L1056.1,569.4 L1050.9,566.8 L1050.9,561.8 L1056.1,559.2ZM1071.7,561.8 L1071.7,566.8 L1066.5,569.4 L1061.3,566.8 L1061.3,561.8 L1066.5,559.2ZM1082.1,561.8 L1082.1,566.8 L1076.9,569.4 L1071.7,566.8 L1071.7,561.8 L1076.9,559.2ZM1092.5,561.8 L1092.5,566.8 L1087.3,569.4 L1082.1,566.8 L1082.1,561.8 L1087.3,559.2ZM1102.9,561.8 L1102.9,566.8 L1097.7,569.4 L1092.5,566.8 L1092.5,561.8 L1097.7,559.2ZM1113.3,561.8 L1113.3,566.8 L1108.1,569.4 L1102.9,566.8 L1102.9,561.8 L1108.1,559.2ZM1123.7,561.8 L1123.7,566.8 L1118.5,569.4 L1113.3,566.8 L1113.3,561.8 L1118.5,559.2ZM1134.1,561.8 L1134.1,566.8 L1128.9,569.4 L1123.7,566.8 L1123.7,561.8 L1128.9,559.2ZM1144.5,561.8 L1144.5,566.8 L1139.3,569.4 L1134.1,566.8 L1134.1,561.8 L1139.3,559.2ZM1154.9,561.8 L1154.9,566.8 L1149.7,569.4 L1144.5,566.8 L1144.5,561.8 L1149.7,559.2ZM1165.3,561.8 L1165.3,566.8 L1160.1,569.4 L1154.9,566.8 L1154.9,561.8 L1160.1,559.2ZM1175.6,561.8 L1175.6,566.8 L1170.5,569.4 L1165.3,566.8 L1165.3,561.8 L1170.5,559.2ZM1186.0,561.8 L1186.0,566.8 L1180.8,569.4 L1175.6,566.8 L1175.6,561.8 L1180.8,559.2ZM1196.4,561.8 L1196.4,566.8 L1191.2,569.4 L1186.0,566.8 L1186.0,561.8 L1191.2,559.2ZM1206.8,561.8 L1206.8,566.8 L1201.6,569.4 L1196.4,566.8 L1196.4,561.8 L1201.6,559.2ZM1217.2,561.8 L1217.2,566.8 L1212.0,569.4 L1206.8,566.8 L1206.8,561.8 L1212.0,559.2ZM1227.6,561.8 L1227.6,566.8 L1222.4,569.4 L1217.2,566.8 L1217.2,561.8 L1222.4,559.2ZM983.4,569.4 L983.4,574.5 L978.2,577.1 L973.0,574.5 L973.0,569.4 L978.2,566.9ZM993.8,569.4 L993.8,574.5 L988.6,577.1 L983.4,574.5 L983.4,569.4 L988.6,566.9ZM1004.2,569.4 L1004.2,574.5 L999.0,577.1 L993.8,574.5 L993.8,569.4 L999.0,566.9ZM1014.6,569.4 L1014.6,574.5 L1009.4,577.1 L1004.2,574.5 L1004.2,569.4 L1009.4,566.9ZM1025.0,569.4 L1025.0,574.5 L1019.8,577.1 L1014.6,574.5 L1014.6,569.4 L1019.8,566.9ZM1035.4,569.4 L1035.4,574.5 L1030.2,577.1 L1025.0,574.5 L1025.0,569.4 L1030.2,566.9ZM1045.7,569.4 L1045.7,574.5 L1040.5,577.1 L1035.4,574.5 L1035.4,569.4 L1040.5,566.9ZM1056.1,569.4 L1056.1,574.5 L1050.9,577.1 L1045.7,574.5 L1045.7,569.4 L1050.9,566.9ZM1066.5,569.4 L1066.5,574.5 L1061.3,577.1 L1056.1,574.5 L1056.1,569.4 L1061.3,566.9ZM1076.9,569.4 L1076.9,574.5 L1071.7,577.1 L1066.5,574.5 L1066.5,569.4 L1071.7,566.9ZM1087.3,569.4 L1087.3,574.5 L1082.1,577.1 L1076.9,574.5 L1076.9,569.4 L1082.1,566.9ZM1097.7,569.4 L1097.7,574.5 L1092.5,577.1 L1087.3,574.5 L1087.3,569.4 L1092.5,566.9ZM1108.1,569.4 L1108.1,574.5 L1102.9,577.1 L1097.7,574.5 L1097.7,569.4 L1102.9,566.9ZM1118.5,569.4 L1118.5,574.5 L1113.3,577.1 L1108.1,574.5 L1108.1,569.4 L1113.3,566.9ZM1128.9,569.4 L1128.9,574.5 L1123.7,577.1 L1118.5,574.5 L1118.5,569.4 L1123.7,566.9ZM1139.3,569.4 L1139.3,574.5 L1134.1,577.1 L1128.9,574.5 L1128.9,569.4 L1134.1,566.9ZM1149.7,569.4 L1149.7,574.5 L1144.5,577.1 L1139.3,574.5 L1139.3,569.4 L1144.5,566.9ZM1160.1,569.4 L1160.1,574.5 L1154.9,577.1 L1149.7,574.5 L1149.7,569.4 L1154.9,566.9ZM1170.5,569.4 L1170.5,574.5 L1165.3,577.1 L1160.1,574.5 L1160.1,569.4 L1165.3,566.9ZM1180.8,569.4 L1180.8,574.5 L1175.6,577.1 L1170.5,574.5 L1170.5,569.4 L1175.6,566.9ZM1191.2,569.4 L1191.2,574.5 L1186.0,577.1 L1180.8,574.5 L1180.8,569.4 L1186.0,566.9ZM1201.6,569.4 L1201.6,574.5 L1196.4,577.1 L1191.2,574.5 L1191.2,569.4 L1196.4,566.9ZM1212.0,569.4 L1212.0,574.5 L1206.8,577.1 L1201.6,574.5 L1201.6,569.4 L1206.8,566.9ZM1222.4,569.4 L1222.4,574.5 L1217.2,577.1 L1212.0,574.5 L1212.0,569.4 L1217.2,566.9ZM1232.8,569.4 L1232.8,574.5 L1227.6,577.1 L1222.4,574.5 L1222.4,569.4 L1227.6,566.9ZM978.2,577.1 L978.2,582.1 L973.0,584.7 L967.8,582.1 L967.8,577.1 L973.0,574.5ZM988.6,577.1 L988.6,582.1 L983.4,584.7 L978.2,582.1 L978.2,577.1 L983.4,574.5ZM999.0,577.1 L999.0,582.1 L993.8,584.7 L988.6,582.1 L988.6,577.1 L993.8,574.5ZM1009.4,577.1 L1009.4,582.1 L1004.2,584.7 L999.0,582.1 L999.0,577.1 L1004.2,574.5ZM1019.8,577.1 L1019.8,582.1 L1014.6,584.7 L1009.4,582.1 L1009.4,577.1 L1014.6,574.5ZM1030.2,577.1 L1030.2,582.1 L1025.0,584.7 L1019.8,582.1 L1019.8,577.1 L1025.0,574.5ZM1040.5,577.1 L1040.5,582.1 L1035.4,584.7 L1030.2,582.1 L1030.2,577.1 L1035.4,574.5ZM1050.9,577.1 L1050.9,582.1 L1045.7,584.7 L1040.5,582.1 L1040.5,577.1 L1045.7,574.5ZM1061.3,577.1 L1061.3,582.1 L1056.1,584.7 L1050.9,582.1 L1050.9,577.1 L1056.1,574.5ZM1071.7,577.1 L1071.7,582.1 L1066.5,584.7 L1061.3,582.1 L1061.3,577.1 L1066.5,574.5ZM1082.1,577.1 L1082.1,582.1 L1076.9,584.7 L1071.7,582.1 L1071.7,577.1 L1076.9,574.5ZM1092.5,577.1 L1092.5,582.1 L1087.3,584.7 L1082.1,582.1 L1082.1,577.1 L1087.3,574.5ZM1102.9,577.1 L1102.9,582.1 L1097.7,584.7 L1092.5,582.1 L1092.5,577.1 L1097.7,574.5ZM1113.3,577.1 L1113.3,582.1 L1108.1,584.7 L1102.9,582.1 L1102.9,577.1 L1108.1,574.5ZM1123.7,577.1 L1123.7,582.1 L1118.5,584.7 L1113.3,582.1 L1113.3,577.1 L1118.5,574.5ZM1134.1,577.1 L1134.1,582.1 L1128.9,584.7 L1123.7,582.1 L1123.7,577.1 L1128.9,574.5ZM1144.5,577.1 L1144.5,582.1 L1139.3,584.7 L1134.1,582.1 L1134.1,577.1 L1139.3,574.5ZM1154.9,577.1 L1154.9,582.1 L1149.7,584.7 L1144.5,582.1 L1144.5,577.1 L1149.7,574.5ZM1165.3,577.1 L1165.3,582.1 L1160.1,584.7 L1154.9,582.1 L1154.9,577.1 L1160.1,574.5ZM1175.6,577.1 L1175.6,582.1 L1170.5,584.7 L1165.3,582.1 L1165.3,577.1 L1170.5,574.5ZM1186.0,577.1 L1186.0,582.1 L1180.8,584.7 L1175.6,582.1 L1175.6,577.1 L1180.8,574.5ZM1196.4,577.1 L1196.4,582.1 L1191.2,584.7 L1186.0,582.1 L1186.0,577.1 L1191.2,574.5ZM1206.8,577.1 L1206.8,582.1 L1201.6,584.7 L1196.4,582.1 L1196.4,577.1 L1201.6,574.5ZM1217.2,577.1 L1217.2,582.1 L1212.0,584.7 L1206.8,582.1 L1206.8,577.1 L1212.0,574.5ZM1227.6,577.1 L1227.6,582.1 L1222.4,584.7 L1217.2,582.1 L1217.2,577.1 L1222.4,574.5ZM983.4,584.7 L983.4,589.8 L978.2,592.4 L973.0,589.8 L973.0,584.7 L978.2,582.1ZM993.8,584.7 L993.8,589.8 L988.6,592.4 L983.4,589.8 L983.4,584.7 L988.6,582.1ZM1004.2,584.7 L1004.2,589.8 L999.0,592.4 L993.8,589.8 L993.8,584.7 L999.0,582.1ZM1014.6,584.7 L1014.6,589.8 L1009.4,592.4 L1004.2,589.8 L1004.2,584.7 L1009.4,582.1ZM1025.0,584.7 L1025.0,589.8 L1019.8,592.4 L1014.6,589.8 L1014.6,584.7 L1019.8,582.1ZM1035.4,584.7 L1035.4,589.8 L1030.2,592.4 L1025.0,589.8 L1025.0,584.7 L1030.2,582.1ZM1045.7,584.7 L1045.7,589.8 L1040.5,592.4 L1035.4,589.8 L1035.4,584.7 L1040.5,582.1ZM1056.1,584.7 L1056.1,589.8 L1050.9,592.4 L1045.7,589.8 L1045.7,584.7 L1050.9,582.1ZM1066.5,584.7 L1066.5,589.8 L1061.3,592.4 L1056.1,589.8 L1056.1,584.7 L1061.3,582.1ZM1076.9,584.7 L1076.9,589.8 L1071.7,592.4 L1066.5,589.8 L1066.5,584.7 L1071.7,582.1ZM1087.3,584.7 L1087.3,589.8 L1082.1,592.4 L1076.9,589.8 L1076.9,584.7 L1082.1,582.1ZM1097.7,584.7 L1097.7,589.8 L1092.5,592.4 L1087.3,589.8 L1087.3,584.7 L1092.5,582.1ZM1108.1,584.7 L1108.1,589.8 L1102.9,592.4 L1097.7,589.8 L1097.7,584.7 L1102.9,582.1ZM1118.5,584.7 L1118.5,589.8 L1113.3,592.4 L1108.1,589.8 L1108.1,584.7 L1113.3,582.1ZM1128.9,584.7 L1128.9,589.8 L1123.7,592.4 L1118.5,589.8 L1118.5,584.7 L1123.7,582.1ZM1139.3,584.7 L1139.3,589.8 L1134.1,592.4 L1128.9,589.8 L1128.9,584.7 L1134.1,582.1ZM1149.7,584.7 L1149.7,589.8 L1144.5,592.4 L1139.3,589.8 L1139.3,584.7 L1144.5,582.1ZM1160.1,584.7 L1160.1,589.8 L1154.9,592.4 L1149.7,589.8 L1149.7,584.7 L1154.9,582.1ZM1170.5,584.7 L1170.5,589.8 L1165.3,592.4 L1160.1,589.8 L1160.1,584.7 L1165.3,582.1ZM1180.8,584.7 L1180.8,589.8 L1175.6,592.4 L1170.5,589.8 L1170.5,584.7 L1175.6,582.1ZM1191.2,584.7 L1191.2,589.8 L1186.0,592.4 L1180.8,589.8 L1180.8,584.7 L1186.0,582.1ZM1201.6,584.7 L1201.6,589.8 L1196.4,592.4 L1191.2,589.8 L1191.2,584.7 L1196.4,582.1ZM1212.0,584.7 L1212.0,589.8 L1206.8,592.4 L1201.6,589.8 L1201.6,584.7 L1206.8,582.1ZM1222.4,584.7 L1222.4,589.8 L1217.2,592.4 L1212.0,589.8 L1212.0,584.7 L1217.2,582.1ZM1232.8,584.7 L1232.8,589.8 L1227.6,592.4 L1222.4,589.8 L1222.4,584.7 L1227.6,582.1ZM978.2,592.4 L978.2,597.4 L973.0,600.0 L967.8,597.4 L967.8,592.4 L973.0,589.8ZM988.6,592.4 L988.6,597.4 L983.4,600.0 L978.2,597.4 L978.2,592.4 L983.4,589.8ZM999.0,592.4 L999.0,597.4 L993.8,600.0 L988.6,597.4 L988.6,592.4 L993.8,589.8ZM1009.4,592.4 L1009.4,597.4 L1004.2,600.0 L999.0,597.4 L999.0,592.4 L1004.2,589.8ZM1019.8,592.4 L1019.8,597.4 L1014.6,600.0 L1009.4,597.4 L1009.4,592.4 L1014.6,589.8ZM1030.2,592.4 L1030.2,597.4 L1025.0,600.0 L1019.8,597.4 L1019.8,592.4 L1025.0,589.8ZM1040.5,592.4 L1040.5,597.4 L1035.4,600.0 L1030.2,597.4 L1030.2,592.4 L1035.4,589.8ZM1050.9,592.4 L1050.9,597.4 L1045.7,600.0 L1040.5,597.4 L1040.5,592.4 L1045.7,589.8ZM1061.3,592.4 L1061.3,597.4 L1056.1,600.0 L1050.9,597.4 L1050.9,592.4 L1056.1,589.8ZM1071.7,592.4 L1071.7,597.4 L1066.5,600.0 L1061.3,597.4 L1061.3,592.4 L1066.5,589.8ZM1082.1,592.4 L1082.1,597.4 L1076.9,600.0 L1071.7,597.4 L1071.7,592.4 L1076.9,589.8ZM1092.5,592.4 L1092.5,597.4 L1087.3,600.0 L1082.1,597.4 L1082.1,592.4 L1087.3,589.8ZM1102.9,592.4 L1102.9,597.4 L1097.7,600.0 L1092.5,597.4 L1092.5,592.4 L1097.7,589.8ZM1113.3,592.4 L1113.3,597.4 L1108.1,600.0 L1102.9,597.4 L1102.9,592.4 L1108.1,589.8ZM1123.7,592.4 L1123.7,597.4 L1118.5,600.0 L1113.3,597.4 L1113.3,592.4 L1118.5,589.8ZM1134.1,592.4 L1134.1,597.4 L1128.9,600.0 L1123.7,597.4 L1123.7,592.4 L1128.9,589.8ZM1144.5,592.4 L1144.5,597.4 L1139.3,600.0 L1134.1,597.4 L1134.1,592.4 L1139.3,589.8ZM1154.9,592.4 L1154.9,597.4 L1149.7,600.0 L1144.5,597.4 L1144.5,592.4 L1149.7,589.8ZM1165.3,592.4 L1165.3,597.4 L1160.1,600.0 L1154.9,597.4 L1154.9,592.4 L1160.1,589.8ZM1175.6,592.4 L1175.6,597.4 L1170.5,600.0 L1165.3,597.4 L1165.3,592.4 L1170.5,589.8ZM1186.0,592.4 L1186.0,597.4 L1180.8,600.0 L1175.6,597.4 L1175.6,592.4 L1180.8,589.8ZM1196.4,592.4 L1196.4,597.4 L1191.2,600.0 L1186.0,597.4 L1186.0,592.4 L1191.2,589.8ZM1206.8,592.4 L1206.8,597.4 L1201.6,600.0 L1196.4,597.4 L1196.4,592.4 L1201.6,589.8ZM1217.2,592.4 L1217.2,597.4 L1212.0,600.0 L1206.8,597.4 L1206.8,592.4 L1212.0,589.8ZM1227.6,592.4 L1227.6,597.4 L1222.4,600.0 L1217.2,597.4 L1217.2,592.4 L1222.4,589.8ZM983.4,600.0 L983.4,605.1 L978.2,607.6 L973.0,605.1 L973.0,600.0 L978.2,597.4ZM993.8,600.0 L993.8,605.1 L988.6,607.6 L983.4,605.1 L983.4,600.0 L988.6,597.4ZM1004.2,600.0 L1004.2,605.1 L999.0,607.6 L993.8,605.1 L993.8,600.0 L999.0,597.4ZM1014.6,600.0 L1014.6,605.1 L1009.4,607.6 L1004.2,605.1 L1004.2,600.0 L1009.4,597.4ZM1025.0,600.0 L1025.0,605.1 L1019.8,607.6 L1014.6,605.1 L1014.6,600.0 L1019.8,597.4ZM1035.4,600.0 L1035.4,605.1 L1030.2,607.6 L1025.0,605.1 L1025.0,600.0 L1030.2,597.4ZM1045.7,600.0 L1045.7,605.1 L1040.5,607.6 L1035.4,605.1 L1035.4,600.0 L1040.5,597.4ZM1056.1,600.0 L1056.1,605.1 L1050.9,607.6 L1045.7,605.1 L1045.7,600.0 L1050.9,597.4ZM1066.5,600.0 L1066.5,605.1 L1061.3,607.6 L1056.1,605.1 L1056.1,600.0 L1061.3,597.4ZM1076.9,600.0 L1076.9,605.1 L1071.7,607.6 L1066.5,605.1 L1066.5,600.0 L1071.7,597.4ZM1087.3,600.0 L1087.3,605.1 L1082.1,607.6 L1076.9,605.1 L1076.9,600.0 L1082.1,597.4ZM1097.7,600.0 L1097.7,605.1 L1092.5,607.6 L1087.3,605.1 L1087.3,600.0 L1092.5,597.4ZM1108.1,600.0 L1108.1,605.1 L1102.9,607.6 L1097.7,605.1 L1097.7,600.0 L1102.9,597.4ZM1118.5,600.0 L1118.5,605.1 L1113.3,607.6 L1108.1,605.1 L1108.1,600.0 L1113.3,597.4ZM1128.9,600.0 L1128.9,605.1 L1123.7,607.6 L1118.5,605.1 L1118.5,600.0 L1123.7,597.4ZM1139.3,600.0 L1139.3,605.1 L1134.1,607.6 L1128.9,605.1 L1128.9,600.0 L1134.1,597.4ZM1149.7,600.0 L1149.7,605.1 L1144.5,607.6 L1139.3,605.1 L1139.3,600.0 L1144.5,597.4ZM1160.1,600.0 L1160.1,605.1 L1154.9,607.6 L1149.7,605.1 L1149.7,600.0 L1154.9,597.4ZM1170.5,600.0 L1170.5,605.1 L1165.3,607.6 L1160.1,605.1 L1160.1,600.0 L1165.3,597.4ZM1180.8,600.0 L1180.8,605.1 L1175.6,607.6 L1170.5,605.1 L1170.5,600.0 L1175.6,597.4ZM1191.2,600.0 L1191.2,605.1 L1186.0,607.6 L1180.8,605.1 L1180.8,600.0 L1186.0,597.4ZM1201.6,600.0 L1201.6,605.1 L1196.4,607.6 L1191.2,605.1 L1191.2,600.0 L1196.4,597.4ZM1212.0,600.0 L1212.0,605.1 L1206.8,607.6 L1201.6,605.1 L1201.6,600.0 L1206.8,597.4ZM1222.4,600.0 L1222.4,605.1 L1217.2,607.6 L1212.0,605.1 L1212.0,600.0 L1217.2,597.4ZM1232.8,600.0 L1232.8,605.1 L1227.6,607.6 L1222.4,605.1 L1222.4,600.0 L1227.6,597.4ZM978.2,607.7 L978.2,612.8 L973.0,615.3 L967.8,612.8 L967.8,607.7 L973.0,605.1ZM988.6,607.7 L988.6,612.8 L983.4,615.3 L978.2,612.8 L978.2,607.7 L983.4,605.1ZM999.0,607.7 L999.0,612.8 L993.8,615.3 L988.6,612.8 L988.6,607.7 L993.8,605.1ZM1009.4,607.7 L1009.4,612.8 L1004.2,615.3 L999.0,612.8 L999.0,607.7 L1004.2,605.1ZM1019.8,607.7 L1019.8,612.8 L1014.6,615.3 L1009.4,612.8 L1009.4,607.7 L1014.6,605.1ZM1030.2,607.7 L1030.2,612.8 L1025.0,615.3 L1019.8,612.8 L1019.8,607.7 L1025.0,605.1ZM1040.5,607.7 L1040.5,612.8 L1035.4,615.3 L1030.2,612.8 L1030.2,607.7 L1035.4,605.1ZM1050.9,607.7 L1050.9,612.8 L1045.7,615.3 L1040.5,612.8 L1040.5,607.7 L1045.7,605.1ZM1061.3,607.7 L1061.3,612.8 L1056.1,615.3 L1050.9,612.8 L1050.9,607.7 L1056.1,605.1ZM1071.7,607.7 L1071.7,612.8 L1066.5,615.3 L1061.3,612.8 L1061.3,607.7 L1066.5,605.1ZM1082.1,607.7 L1082.1,612.8 L1076.9,615.3 L1071.7,612.8 L1071.7,607.7 L1076.9,605.1ZM1092.5,607.7 L1092.5,612.8 L1087.3,615.3 L1082.1,612.8 L1082.1,607.7 L1087.3,605.1ZM1102.9,607.7 L1102.9,612.8 L1097.7,615.3 L1092.5,612.8 L1092.5,607.7 L1097.7,605.1ZM1113.3,607.7 L1113.3,612.8 L1108.1,615.3 L1102.9,612.8 L1102.9,607.7 L1108.1,605.1ZM1123.7,607.7 L1123.7,612.8 L1118.5,615.3 L1113.3,612.8 L1113.3,607.7 L1118.5,605.1ZM1134.1,607.7 L1134.1,612.8 L1128.9,615.3 L1123.7,612.8 L1123.7,607.7 L1128.9,605.1ZM1144.5,607.7 L1144.5,612.8 L1139.3,615.3 L1134.1,612.8 L1134.1,607.7 L1139.3,605.1ZM1154.9,607.7 L1154.9,612.8 L1149.7,615.3 L1144.5,612.8 L1144.5,607.7 L1149.7,605.1ZM1165.3,607.7 L1165.3,612.8 L1160.1,615.3 L1154.9,612.8 L1154.9,607.7 L1160.1,605.1ZM1175.6,607.7 L1175.6,612.8 L1170.5,615.3 L1165.3,612.8 L1165.3,607.7 L1170.5,605.1ZM1186.0,607.7 L1186.0,612.8 L1180.8,615.3 L1175.6,612.8 L1175.6,607.7 L1180.8,605.1ZM1196.4,607.7 L1196.4,612.8 L1191.2,615.3 L1186.0,612.8 L1186.0,607.7 L1191.2,605.1ZM1206.8,607.7 L1206.8,612.8 L1201.6,615.3 L1196.4,612.8 L1196.4,607.7 L1201.6,605.1ZM1217.2,607.7 L1217.2,612.8 L1212.0,615.3 L1206.8,612.8 L1206.8,607.7 L1212.0,605.1ZM1227.6,607.7 L1227.6,612.8 L1222.4,615.3 L1217.2,612.8 L1217.2,607.7 L1222.4,605.1ZM983.4,615.3 L983.4,620.4 L978.2,623.0 L973.0,620.4 L973.0,615.3 L978.2,612.8ZM993.8,615.3 L993.8,620.4 L988.6,623.0 L983.4,620.4 L983.4,615.3 L988.6,612.8ZM1004.2,615.3 L1004.2,620.4 L999.0,623.0 L993.8,620.4 L993.8,615.3 L999.0,612.8ZM1014.6,615.3 L1014.6,620.4 L1009.4,623.0 L1004.2,620.4 L1004.2,615.3 L1009.4,612.8ZM1025.0,615.3 L1025.0,620.4 L1019.8,623.0 L1014.6,620.4 L1014.6,615.3 L1019.8,612.8ZM1035.4,615.3 L1035.4,620.4 L1030.2,623.0 L1025.0,620.4 L1025.0,615.3 L1030.2,612.8ZM1045.7,615.3 L1045.7,620.4 L1040.5,623.0 L1035.4,620.4 L1035.4,615.3 L1040.5,612.8ZM1056.1,615.3 L1056.1,620.4 L1050.9,623.0 L1045.7,620.4 L1045.7,615.3 L1050.9,612.8ZM1066.5,615.3 L1066.5,620.4 L1061.3,623.0 L1056.1,620.4 L1056.1,615.3 L1061.3,612.8ZM1076.9,615.3 L1076.9,620.4 L1071.7,623.0 L1066.5,620.4 L1066.5,615.3 L1071.7,612.8ZM1087.3,615.3 L1087.3,620.4 L1082.1,623.0 L1076.9,620.4 L1076.9,615.3 L1082.1,612.8ZM1097.7,615.3 L1097.7,620.4 L1092.5,623.0 L1087.3,620.4 L1087.3,615.3 L1092.5,612.8ZM1108.1,615.3 L1108.1,620.4 L1102.9,623.0 L1097.7,620.4 L1097.7,615.3 L1102.9,612.8ZM1118.5,615.3 L1118.5,620.4 L1113.3,623.0 L1108.1,620.4 L1108.1,615.3 L1113.3,612.8ZM1128.9,615.3 L1128.9,620.4 L1123.7,623.0 L1118.5,620.4 L1118.5,615.3 L1123.7,612.8ZM1139.3,615.3 L1139.3,620.4 L1134.1,623.0 L1128.9,620.4 L1128.9,615.3 L1134.1,612.8ZM1149.7,615.3 L1149.7,620.4 L1144.5,623.0 L1139.3,620.4 L1139.3,615.3 L1144.5,612.8ZM1160.1,615.3 L1160.1,620.4 L1154.9,623.0 L1149.7,620.4 L1149.7,615.3 L1154.9,612.8ZM1170.5,615.3 L1170.5,620.4 L1165.3,623.0 L1160.1,620.4 L1160.1,615.3 L1165.3,612.8ZM1180.8,615.3 L1180.8,620.4 L1175.6,623.0 L1170.5,620.4 L1170.5,615.3 L1175.6,612.8ZM1191.2,615.3 L1191.2,620.4 L1186.0,623.0 L1180.8,620.4 L1180.8,615.3 L1186.0,612.8ZM1201.6,615.3 L1201.6,620.4 L1196.4,623.0 L1191.2,620.4 L1191.2,615.3 L1196.4,612.8ZM1212.0,615.3 L1212.0,620.4 L1206.8,623.0 L1201.6,620.4 L1201.6,615.3 L1206.8,612.8ZM1222.4,615.3 L1222.4,620.4 L1217.2,623.0 L1212.0,620.4 L1212.0,615.3 L1217.2,612.8ZM1232.8,615.3 L1232.8,620.4 L1227.6,623.0 L1222.4,620.4 L1222.4,615.3 L1227.6,612.8ZM978.2,623.0 L978.2,628.0 L973.0,630.6 L967.8,628.0 L967.8,623.0 L973.0,620.4ZM988.6,623.0 L988.6,628.0 L983.4,630.6 L978.2,628.0 L978.2,623.0 L983.4,620.4ZM999.0,623.0 L999.0,628.0 L993.8,630.6 L988.6,628.0 L988.6,623.0 L993.8,620.4ZM1009.4,623.0 L1009.4,628.0 L1004.2,630.6 L999.0,628.0 L999.0,623.0 L1004.2,620.4ZM1019.8,623.0 L1019.8,628.0 L1014.6,630.6 L1009.4,628.0 L1009.4,623.0 L1014.6,620.4ZM1030.2,623.0 L1030.2,628.0 L1025.0,630.6 L1019.8,628.0 L1019.8,623.0 L1025.0,620.4ZM1040.5,623.0 L1040.5,628.0 L1035.4,630.6 L1030.2,628.0 L1030.2,623.0 L1035.4,620.4ZM1050.9,623.0 L1050.9,628.0 L1045.7,630.6 L1040.5,628.0 L1040.5,623.0 L1045.7,620.4ZM1061.3,623.0 L1061.3,628.0 L1056.1,630.6 L1050.9,628.0 L1050.9,623.0 L1056.1,620.4ZM1071.7,623.0 L1071.7,628.0 L1066.5,630.6 L1061.3,628.0 L1061.3,623.0 L1066.5,620.4ZM1082.1,623.0 L1082.1,628.0 L1076.9,630.6 L1071.7,628.0 L1071.7,623.0 L1076.9,620.4ZM1092.5,623.0 L1092.5,628.0 L1087.3,630.6 L1082.1,628.0 L1082.1,623.0 L1087.3,620.4ZM1102.9,623.0 L1102.9,628.0 L1097.7,630.6 L1092.5,628.0 L1092.5,623.0 L1097.7,620.4ZM1113.3,623.0 L1113.3,628.0 L1108.1,630.6 L1102.9,628.0 L1102.9,623.0 L1108.1,620.4ZM1123.7,623.0 L1123.7,628.0 L1118.5,630.6 L1113.3,628.0 L1113.3,623.0 L1118.5,620.4ZM1134.1,623.0 L1134.1,628.0 L1128.9,630.6 L1123.7,628.0 L1123.7,623.0 L1128.9,620.4ZM1144.5,623.0 L1144.5,628.0 L1139.3,630.6 L1134.1,628.0 L1134.1,623.0 L1139.3,620.4ZM1154.9,623.0 L1154.9,628.0 L1149.7,630.6 L1144.5,628.0 L1144.5,623.0 L1149.7,620.4ZM1165.3,623.0 L1165.3,628.0 L1160.1,630.6 L1154.9,628.0 L1154.9,623.0 L1160.1,620.4ZM1175.6,623.0 L1175.6,628.0 L1170.5,630.6 L1165.3,628.0 L1165.3,623.0 L1170.5,620.4ZM1186.0,623.0 L1186.0,628.0 L1180.8,630.6 L1175.6,628.0 L1175.6,623.0 L1180.8,620.4ZM1196.4,623.0 L1196.4,628.0 L1191.2,630.6 L1186.0,628.0 L1186.0,623.0 L1191.2,620.4ZM1206.8,623.0 L1206.8,628.0 L1201.6,630.6 L1196.4,628.0 L1196.4,623.0 L1201.6,620.4ZM1217.2,623.0 L1217.2,628.0 L1212.0,630.6 L1206.8,628.0 L1206.8,623.0 L1212.0,620.4ZM1227.6,623.0 L1227.6,628.0 L1222.4,630.6 L1217.2,628.0 L1217.2,623.0 L1222.4,620.4ZM983.4,630.6 L983.4,635.7 L978.2,638.2 L973.0,635.7 L973.0,630.6 L978.2,628.0ZM993.8,630.6 L993.8,635.7 L988.6,638.2 L983.4,635.7 L983.4,630.6 L988.6,628.0ZM1004.2,630.6 L1004.2,635.7 L999.0,638.2 L993.8,635.7 L993.8,630.6 L999.0,628.0ZM1014.6,630.6 L1014.6,635.7 L1009.4,638.2 L1004.2,635.7 L1004.2,630.6 L1009.4,628.0ZM1025.0,630.6 L1025.0,635.7 L1019.8,638.2 L1014.6,635.7 L1014.6,630.6 L1019.8,628.0ZM1035.4,630.6 L1035.4,635.7 L1030.2,638.2 L1025.0,635.7 L1025.0,630.6 L1030.2,628.0ZM1045.7,630.6 L1045.7,635.7 L1040.5,638.2 L1035.4,635.7 L1035.4,630.6 L1040.5,628.0ZM1056.1,630.6 L1056.1,635.7 L1050.9,638.2 L1045.7,635.7 L1045.7,630.6 L1050.9,628.0ZM1066.5,630.6 L1066.5,635.7 L1061.3,638.2 L1056.1,635.7 L1056.1,630.6 L1061.3,628.0ZM1076.9,630.6 L1076.9,635.7 L1071.7,638.2 L1066.5,635.7 L1066.5,630.6 L1071.7,628.0ZM1087.3,630.6 L1087.3,635.7 L1082.1,638.2 L1076.9,635.7 L1076.9,630.6 L1082.1,628.0ZM1097.7,630.6 L1097.7,635.7 L1092.5,638.2 L1087.3,635.7 L1087.3,630.6 L1092.5,628.0ZM1108.1,630.6 L1108.1,635.7 L1102.9,638.2 L1097.7,635.7 L1097.7,630.6 L1102.9,628.0ZM1118.5,630.6 L1118.5,635.7 L1113.3,638.2 L1108.1,635.7 L1108.1,630.6 L1113.3,628.0ZM1128.9,630.6 L1128.9,635.7 L1123.7,638.2 L1118.5,635.7 L1118.5,630.6 L1123.7,628.0ZM1139.3,630.6 L1139.3,635.7 L1134.1,638.2 L1128.9,635.7 L1128.9,630.6 L1134.1,628.0ZM1149.7,630.6 L1149.7,635.7 L1144.5,638.2 L1139.3,635.7 L1139.3,630.6 L1144.5,628.0ZM1160.1,630.6 L1160.1,635.7 L1154.9,638.2 L1149.7,635.7 L1149.7,630.6 L1154.9,628.0ZM1170.5,630.6 L1170.5,635.7 L1165.3,638.2 L1160.1,635.7 L1160.1,630.6 L1165.3,628.0ZM1180.8,630.6 L1180.8,635.7 L1175.6,638.2 L1170.5,635.7 L1170.5,630.6 L1175.6,628.0ZM1191.2,630.6 L1191.2,635.7 L1186.0,638.2 L1180.8,635.7 L1180.8,630.6 L1186.0,628.0ZM1201.6,630.6 L1201.6,635.7 L1196.4,638.2 L1191.2,635.7 L1191.2,630.6 L1196.4,628.0ZM1212.0,630.6 L1212.0,635.7 L1206.8,638.2 L1201.6,635.7 L1201.6,630.6 L1206.8,628.0ZM1222.4,630.6 L1222.4,635.7 L1217.2,638.2 L1212.0,635.7 L1212.0,630.6 L1217.2,628.0ZM1232.8,630.6 L1232.8,635.7 L1227.6,638.2 L1222.4,635.7 L1222.4,630.6 L1227.6,628.0ZM978.2,638.2 L978.2,643.3 L973.0,645.9 L967.8,643.3 L967.8,638.2 L973.0,635.7ZM988.6,638.2 L988.6,643.3 L983.4,645.9 L978.2,643.3 L978.2,638.2 L983.4,635.7ZM999.0,638.2 L999.0,643.3 L993.8,645.9 L988.6,643.3 L988.6,638.2 L993.8,635.7ZM1009.4,638.2 L1009.4,643.3 L1004.2,645.9 L999.0,643.3 L999.0,638.2 L1004.2,635.7ZM1019.8,638.2 L1019.8,643.3 L1014.6,645.9 L1009.4,643.3 L1009.4,638.2 L1014.6,635.7ZM1030.2,638.2 L1030.2,643.3 L1025.0,645.9 L1019.8,643.3 L1019.8,638.2 L1025.0,635.7ZM1040.5,638.2 L1040.5,643.3 L1035.4,645.9 L1030.2,643.3 L1030.2,638.2 L1035.4,635.7ZM1050.9,638.2 L1050.9,643.3 L1045.7,645.9 L1040.5,643.3 L1040.5,638.2 L1045.7,635.7ZM1061.3,638.2 L1061.3,643.3 L1056.1,645.9 L1050.9,643.3 L1050.9,638.2 L1056.1,635.7ZM1071.7,638.2 L1071.7,643.3 L1066.5,645.9 L1061.3,643.3 L1061.3,638.2 L1066.5,635.7ZM1082.1,638.2 L1082.1,643.3 L1076.9,645.9 L1071.7,643.3 L1071.7,638.2 L1076.9,635.7ZM1092.5,638.2 L1092.5,643.3 L1087.3,645.9 L1082.1,643.3 L1082.1,638.2 L1087.3,635.7ZM1102.9,638.2 L1102.9,643.3 L1097.7,645.9 L1092.5,643.3 L1092.5,638.2 L1097.7,635.7ZM1113.3,638.2 L1113.3,643.3 L1108.1,645.9 L1102.9,643.3 L1102.9,638.2 L1108.1,635.7ZM1123.7,638.2 L1123.7,643.3 L1118.5,645.9 L1113.3,643.3 L1113.3,638.2 L1118.5,635.7ZM1134.1,638.2 L1134.1,643.3 L1128.9,645.9 L1123.7,643.3 L1123.7,638.2 L1128.9,635.7ZM1144.5,638.2 L1144.5,643.3 L1139.3,645.9 L1134.1,643.3 L1134.1,638.2 L1139.3,635.7ZM1154.9,638.2 L1154.9,643.3 L1149.7,645.9 L1144.5,643.3 L1144.5,638.2 L1149.7,635.7ZM1165.3,638.2 L1165.3,643.3 L1160.1,645.9 L1154.9,643.3 L1154.9,638.2 L1160.1,635.7ZM1175.6,638.2 L1175.6,643.3 L1170.5,645.9 L1165.3,643.3 L1165.3,638.2 L1170.5,635.7ZM1186.0,638.2 L1186.0,643.3 L1180.8,645.9 L1175.6,643.3 L1175.6,638.2 L1180.8,635.7ZM1196.4,638.2 L1196.4,643.3 L1191.2,645.9 L1186.0,643.3 L1186.0,638.2 L1191.2,635.7ZM1206.8,638.2 L1206.8,643.3 L1201.6,645.9 L1196.4,643.3 L1196.4,638.2 L1201.6,635.7ZM1217.2,638.2 L1217.2,643.3 L1212.0,645.9 L1206.8,643.3 L1206.8,638.2 L1212.0,635.7ZM1227.6,638.2 L1227.6,643.3 L1222.4,645.9 L1217.2,643.3 L1217.2,638.2 L1222.4,635.7ZM983.4,645.9 L983.4,651.0 L978.2,653.6 L973.0,651.0 L973.0,645.9 L978.2,643.4ZM993.8,645.9 L993.8,651.0 L988.6,653.6 L983.4,651.0 L983.4,645.9 L988.6,643.4ZM1004.2,645.9 L1004.2,651.0 L999.0,653.6 L993.8,651.0 L993.8,645.9 L999.0,643.4ZM1014.6,645.9 L1014.6,651.0 L1009.4,653.6 L1004.2,651.0 L1004.2,645.9 L1009.4,643.4ZM1025.0,645.9 L1025.0,651.0 L1019.8,653.6 L1014.6,651.0 L1014.6,645.9 L1019.8,643.4ZM1035.4,645.9 L1035.4,651.0 L1030.2,653.6 L1025.0,651.0 L1025.0,645.9 L1030.2,643.4ZM1045.7,645.9 L1045.7,651.0 L1040.5,653.6 L1035.4,651.0 L1035.4,645.9 L1040.5,643.4ZM1056.1,645.9 L1056.1,651.0 L1050.9,653.6 L1045.7,651.0 L1045.7,645.9 L1050.9,643.4ZM1066.5,645.9 L1066.5,651.0 L1061.3,653.6 L1056.1,651.0 L1056.1,645.9 L1061.3,643.4ZM1076.9,645.9 L1076.9,651.0 L1071.7,653.6 L1066.5,651.0 L1066.5,645.9 L1071.7,643.4ZM1087.3,645.9 L1087.3,651.0 L1082.1,653.6 L1076.9,651.0 L1076.9,645.9 L1082.1,643.4ZM1097.7,645.9 L1097.7,651.0 L1092.5,653.6 L1087.3,651.0 L1087.3,645.9 L1092.5,643.4ZM1108.1,645.9 L1108.1,651.0 L1102.9,653.6 L1097.7,651.0 L1097.7,645.9 L1102.9,643.4ZM1118.5,645.9 L1118.5,651.0 L1113.3,653.6 L1108.1,651.0 L1108.1,645.9 L1113.3,643.4ZM1128.9,645.9 L1128.9,651.0 L1123.7,653.6 L1118.5,651.0 L1118.5,645.9 L1123.7,643.4ZM1139.3,645.9 L1139.3,651.0 L1134.1,653.6 L1128.9,651.0 L1128.9,645.9 L1134.1,643.4ZM1149.7,645.9 L1149.7,651.0 L1144.5,653.6 L1139.3,651.0 L1139.3,645.9 L1144.5,643.4ZM1160.1,645.9 L1160.1,651.0 L1154.9,653.6 L1149.7,651.0 L1149.7,645.9 L1154.9,643.4ZM1170.5,645.9 L1170.5,651.0 L1165.3,653.6 L1160.1,651.0 L1160.1,645.9 L1165.3,643.4ZM1180.8,645.9 L1180.8,651.0 L1175.6,653.6 L1170.5,651.0 L1170.5,645.9 L1175.6,643.4ZM1191.2,645.9 L1191.2,651.0 L1186.0,653.6 L1180.8,651.0 L1180.8,645.9 L1186.0,643.4ZM1201.6,645.9 L1201.6,651.0 L1196.4,653.6 L1191.2,651.0 L1191.2,645.9 L1196.4,643.4ZM1212.0,645.9 L1212.0,651.0 L1206.8,653.6 L1201.6,651.0 L1201.6,645.9 L1206.8,643.4ZM1222.4,645.9 L1222.4,651.0 L1217.2,653.6 L1212.0,651.0 L1212.0,645.9 L1217.2,643.4ZM1232.8,645.9 L1232.8,651.0 L1227.6,653.6 L1222.4,651.0 L1222.4,645.9 L1227.6,643.4ZM978.2,653.6 L978.2,658.6 L973.0,661.2 L967.8,658.6 L967.8,653.6 L973.0,651.0ZM988.6,653.6 L988.6,658.6 L983.4,661.2 L978.2,658.6 L978.2,653.6 L983.4,651.0ZM999.0,653.6 L999.0,658.6 L993.8,661.2 L988.6,658.6 L988.6,653.6 L993.8,651.0ZM1009.4,653.6 L1009.4,658.6 L1004.2,661.2 L999.0,658.6 L999.0,653.6 L1004.2,651.0ZM1019.8,653.6 L1019.8,658.6 L1014.6,661.2 L1009.4,658.6 L1009.4,653.6 L1014.6,651.0ZM1030.2,653.6 L1030.2,658.6 L1025.0,661.2 L1019.8,658.6 L1019.8,653.6 L1025.0,651.0ZM1040.5,653.6 L1040.5,658.6 L1035.4,661.2 L1030.2,658.6 L1030.2,653.6 L1035.4,651.0ZM1050.9,653.6 L1050.9,658.6 L1045.7,661.2 L1040.5,658.6 L1040.5,653.6 L1045.7,651.0ZM1061.3,653.6 L1061.3,658.6 L1056.1,661.2 L1050.9,658.6 L1050.9,653.6 L1056.1,651.0ZM1071.7,653.6 L1071.7,658.6 L1066.5,661.2 L1061.3,658.6 L1061.3,653.6 L1066.5,651.0ZM1082.1,653.6 L1082.1,658.6 L1076.9,661.2 L1071.7,658.6 L1071.7,653.6 L1076.9,651.0ZM1092.5,653.6 L1092.5,658.6 L1087.3,661.2 L1082.1,658.6 L1082.1,653.6 L1087.3,651.0ZM1102.9,653.6 L1102.9,658.6 L1097.7,661.2 L1092.5,658.6 L1092.5,653.6 L1097.7,651.0ZM1113.3,653.6 L1113.3,658.6 L1108.1,661.2 L1102.9,658.6 L1102.9,653.6 L1108.1,651.0ZM1123.7,653.6 L1123.7,658.6 L1118.5,661.2 L1113.3,658.6 L1113.3,653.6 L1118.5,651.0ZM1134.1,653.6 L1134.1,658.6 L1128.9,661.2 L1123.7,658.6 L1123.7,653.6 L1128.9,651.0ZM1144.5,653.6 L1144.5,658.6 L1139.3,661.2 L1134.1,658.6 L1134.1,653.6 L1139.3,651.0ZM1154.9,653.6 L1154.9,658.6 L1149.7,661.2 L1144.5,658.6 L1144.5,653.6 L1149.7,651.0ZM1165.3,653.6 L1165.3,658.6 L1160.1,661.2 L1154.9,658.6 L1154.9,653.6 L1160.1,651.0ZM1175.6,653.6 L1175.6,658.6 L1170.5,661.2 L1165.3,658.6 L1165.3,653.6 L1170.5,651.0ZM1186.0,653.6 L1186.0,658.6 L1180.8,661.2 L1175.6,658.6 L1175.6,653.6 L1180.8,651.0ZM1196.4,653.6 L1196.4,658.6 L1191.2,661.2 L1186.0,658.6 L1186.0,653.6 L1191.2,651.0ZM1206.8,653.6 L1206.8,658.6 L1201.6,661.2 L1196.4,658.6 L1196.4,653.6 L1201.6,651.0ZM1217.2,653.6 L1217.2,658.6 L1212.0,661.2 L1206.8,658.6 L1206.8,653.6 L1212.0,651.0ZM1227.6,653.6 L1227.6,658.6 L1222.4,661.2 L1217.2,658.6 L1217.2,653.6 L1222.4,651.0ZM983.4,661.2 L983.4,666.3 L978.2,668.9 L973.0,666.3 L973.0,661.2 L978.2,658.6ZM993.8,661.2 L993.8,666.3 L988.6,668.9 L983.4,666.3 L983.4,661.2 L988.6,658.6ZM1004.2,661.2 L1004.2,666.3 L999.0,668.9 L993.8,666.3 L993.8,661.2 L999.0,658.6ZM1014.6,661.2 L1014.6,666.3 L1009.4,668.9 L1004.2,666.3 L1004.2,661.2 L1009.4,658.6ZM1025.0,661.2 L1025.0,666.3 L1019.8,668.9 L1014.6,666.3 L1014.6,661.2 L1019.8,658.6ZM1035.4,661.2 L1035.4,666.3 L1030.2,668.9 L1025.0,666.3 L1025.0,661.2 L1030.2,658.6ZM1045.7,661.2 L1045.7,666.3 L1040.5,668.9 L1035.4,666.3 L1035.4,661.2 L1040.5,658.6ZM1056.1,661.2 L1056.1,666.3 L1050.9,668.9 L1045.7,666.3 L1045.7,661.2 L1050.9,658.6ZM1066.5,661.2 L1066.5,666.3 L1061.3,668.9 L1056.1,666.3 L1056.1,661.2 L1061.3,658.6ZM1076.9,661.2 L1076.9,666.3 L1071.7,668.9 L1066.5,666.3 L1066.5,661.2 L1071.7,658.6ZM1087.3,661.2 L1087.3,666.3 L1082.1,668.9 L1076.9,666.3 L1076.9,661.2 L1082.1,658.6ZM1097.7,661.2 L1097.7,666.3 L1092.5,668.9 L1087.3,666.3 L1087.3,661.2 L1092.5,658.6ZM1108.1,661.2 L1108.1,666.3 L1102.9,668.9 L1097.7,666.3 L1097.7,661.2 L1102.9,658.6ZM1118.5,661.2 L1118.5,666.3 L1113.3,668.9 L1108.1,666.3 L1108.1,661.2 L1113.3,658.6ZM1128.9,661.2 L1128.9,666.3 L1123.7,668.9 L1118.5,666.3 L1118.5,661.2 L1123.7,658.6ZM1139.3,661.2 L1139.3,666.3 L1134.1,668.9 L1128.9,666.3 L1128.9,661.2 L1134.1,658.6ZM1149.7,661.2 L1149.7,666.3 L1144.5,668.9 L1139.3,666.3 L1139.3,661.2 L1144.5,658.6ZM1160.1,661.2 L1160.1,666.3 L1154.9,668.9 L1149.7,666.3 L1149.7,661.2 L1154.9,658.6ZM1170.5,661.2 L1170.5,666.3 L1165.3,668.9 L1160.1,666.3 L1160.1,661.2 L1165.3,658.6ZM1180.8,661.2 L1180.8,666.3 L1175.6,668.9 L1170.5,666.3 L1170.5,661.2 L1175.6,658.6ZM1191.2,661.2 L1191.2,666.3 L1186.0,668.9 L1180.8,666.3 L1180.8,661.2 L1186.0,658.6ZM1201.6,661.2 L1201.6,666.3 L1196.4,668.9 L1191.2,666.3 L1191.2,661.2 L1196.4,658.6ZM1212.0,661.2 L1212.0,666.3 L1206.8,668.9 L1201.6,666.3 L1201.6,661.2 L1206.8,658.6ZM1222.4,661.2 L1222.4,666.3 L1217.2,668.9 L1212.0,666.3 L1212.0,661.2 L1217.2,658.6ZM1232.8,661.2 L1232.8,666.3 L1227.6,668.9 L1222.4,666.3 L1222.4,661.2 L1227.6,658.6ZM978.2,668.9 L978.2,673.9 L973.0,676.5 L967.8,673.9 L967.8,668.9 L973.0,666.3ZM988.6,668.9 L988.6,673.9 L983.4,676.5 L978.2,673.9 L978.2,668.9 L983.4,666.3ZM999.0,668.9 L999.0,673.9 L993.8,676.5 L988.6,673.9 L988.6,668.9 L993.8,666.3ZM1009.4,668.9 L1009.4,673.9 L1004.2,676.5 L999.0,673.9 L999.0,668.9 L1004.2,666.3ZM1019.8,668.9 L1019.8,673.9 L1014.6,676.5 L1009.4,673.9 L1009.4,668.9 L1014.6,666.3ZM1030.2,668.9 L1030.2,673.9 L1025.0,676.5 L1019.8,673.9 L1019.8,668.9 L1025.0,666.3ZM1040.5,668.9 L1040.5,673.9 L1035.4,676.5 L1030.2,673.9 L1030.2,668.9 L1035.4,666.3ZM1050.9,668.9 L1050.9,673.9 L1045.7,676.5 L1040.5,673.9 L1040.5,668.9 L1045.7,666.3ZM1061.3,668.9 L1061.3,673.9 L1056.1,676.5 L1050.9,673.9 L1050.9,668.9 L1056.1,666.3ZM1071.7,668.9 L1071.7,673.9 L1066.5,676.5 L1061.3,673.9 L1061.3,668.9 L1066.5,666.3ZM1082.1,668.9 L1082.1,673.9 L1076.9,676.5 L1071.7,673.9 L1071.7,668.9 L1076.9,666.3ZM1092.5,668.9 L1092.5,673.9 L1087.3,676.5 L1082.1,673.9 L1082.1,668.9 L1087.3,666.3ZM1102.9,668.9 L1102.9,673.9 L1097.7,676.5 L1092.5,673.9 L1092.5,668.9 L1097.7,666.3ZM1113.3,668.9 L1113.3,673.9 L1108.1,676.5 L1102.9,673.9 L1102.9,668.9 L1108.1,666.3ZM1123.7,668.9 L1123.7,673.9 L1118.5,676.5 L1113.3,673.9 L1113.3,668.9 L1118.5,666.3ZM1134.1,668.9 L1134.1,673.9 L1128.9,676.5 L1123.7,673.9 L1123.7,668.9 L1128.9,666.3ZM1144.5,668.9 L1144.5,673.9 L1139.3,676.5 L1134.1,673.9 L1134.1,668.9 L1139.3,666.3ZM1154.9,668.9 L1154.9,673.9 L1149.7,676.5 L1144.5,673.9 L1144.5,668.9 L1149.7,666.3ZM1165.3,668.9 L1165.3,673.9 L1160.1,676.5 L1154.9,673.9 L1154.9,668.9 L1160.1,666.3ZM1175.6,668.9 L1175.6,673.9 L1170.5,676.5 L1165.3,673.9 L1165.3,668.9 L1170.5,666.3ZM1186.0,668.9 L1186.0,673.9 L1180.8,676.5 L1175.6,673.9 L1175.6,668.9 L1180.8,666.3ZM1196.4,668.9 L1196.4,673.9 L1191.2,676.5 L1186.0,673.9 L1186.0,668.9 L1191.2,666.3ZM1206.8,668.9 L1206.8,673.9 L1201.6,676.5 L1196.4,673.9 L1196.4,668.9 L1201.6,666.3ZM1217.2,668.9 L1217.2,673.9 L1212.0,676.5 L1206.8,673.9 L1206.8,668.9 L1212.0,666.3ZM1227.6,668.9 L1227.6,673.9 L1222.4,676.5 L1217.2,673.9 L1217.2,668.9 L1222.4,666.3ZM983.4,676.5 L983.4,681.6 L978.2,684.1 L973.0,681.6 L973.0,676.5 L978.2,673.9ZM993.8,676.5 L993.8,681.6 L988.6,684.1 L983.4,681.6 L983.4,676.5 L988.6,673.9ZM1004.2,676.5 L1004.2,681.6 L999.0,684.1 L993.8,681.6 L993.8,676.5 L999.0,673.9ZM1014.6,676.5 L1014.6,681.6 L1009.4,684.1 L1004.2,681.6 L1004.2,676.5 L1009.4,673.9ZM1025.0,676.5 L1025.0,681.6 L1019.8,684.1 L1014.6,681.6 L1014.6,676.5 L1019.8,673.9ZM1035.4,676.5 L1035.4,681.6 L1030.2,684.1 L1025.0,681.6 L1025.0,676.5 L1030.2,673.9ZM1045.7,676.5 L1045.7,681.6 L1040.5,684.1 L1035.4,681.6 L1035.4,676.5 L1040.5,673.9ZM1056.1,676.5 L1056.1,681.6 L1050.9,684.1 L1045.7,681.6 L1045.7,676.5 L1050.9,673.9ZM1066.5,676.5 L1066.5,681.6 L1061.3,684.1 L1056.1,681.6 L1056.1,676.5 L1061.3,673.9ZM1076.9,676.5 L1076.9,681.6 L1071.7,684.1 L1066.5,681.6 L1066.5,676.5 L1071.7,673.9ZM1087.3,676.5 L1087.3,681.6 L1082.1,684.1 L1076.9,681.6 L1076.9,676.5 L1082.1,673.9ZM1097.7,676.5 L1097.7,681.6 L1092.5,684.1 L1087.3,681.6 L1087.3,676.5 L1092.5,673.9ZM1108.1,676.5 L1108.1,681.6 L1102.9,684.1 L1097.7,681.6 L1097.7,676.5 L1102.9,673.9ZM1118.5,676.5 L1118.5,681.6 L1113.3,684.1 L1108.1,681.6 L1108.1,676.5 L1113.3,673.9ZM1128.9,676.5 L1128.9,681.6 L1123.7,684.1 L1118.5,681.6 L1118.5,676.5 L1123.7,673.9ZM1139.3,676.5 L1139.3,681.6 L1134.1,684.1 L1128.9,681.6 L1128.9,676.5 L1134.1,673.9ZM1149.7,676.5 L1149.7,681.6 L1144.5,684.1 L1139.3,681.6 L1139.3,676.5 L1144.5,673.9ZM1160.1,676.5 L1160.1,681.6 L1154.9,684.1 L1149.7,681.6 L1149.7,676.5 L1154.9,673.9ZM1170.5,676.5 L1170.5,681.6 L1165.3,684.1 L1160.1,681.6 L1160.1,676.5 L1165.3,673.9ZM1180.8,676.5 L1180.8,681.6 L1175.6,684.1 L1170.5,681.6 L1170.5,676.5 L1175.6,673.9ZM1191.2,676.5 L1191.2,681.6 L1186.0,684.1 L1180.8,681.6 L1180.8,676.5 L1186.0,673.9ZM1201.6,676.5 L1201.6,681.6 L1196.4,684.1 L1191.2,681.6 L1191.2,676.5 L1196.4,673.9ZM1212.0,676.5 L1212.0,681.6 L1206.8,684.1 L1201.6,681.6 L1201.6,676.5 L1206.8,673.9ZM1222.4,676.5 L1222.4,681.6 L1217.2,684.1 L1212.0,681.6 L1212.0,676.5 L1217.2,673.9ZM1232.8,676.5 L1232.8,681.6 L1227.6,684.1 L1222.4,681.6 L1222.4,676.5 L1227.6,673.9ZM978.2,684.2 L978.2,689.2 L973.0,691.8 L967.8,689.2 L967.8,684.2 L973.0,681.6ZM988.6,684.2 L988.6,689.2 L983.4,691.8 L978.2,689.2 L978.2,684.2 L983.4,681.6ZM999.0,684.2 L999.0,689.2 L993.8,691.8 L988.6,689.2 L988.6,684.2 L993.8,681.6ZM1009.4,684.2 L1009.4,689.2 L1004.2,691.8 L999.0,689.2 L999.0,684.2 L1004.2,681.6ZM1019.8,684.2 L1019.8,689.2 L1014.6,691.8 L1009.4,689.2 L1009.4,684.2 L1014.6,681.6ZM1030.2,684.2 L1030.2,689.2 L1025.0,691.8 L1019.8,689.2 L1019.8,684.2 L1025.0,681.6ZM1040.5,684.2 L1040.5,689.2 L1035.4,691.8 L1030.2,689.2 L1030.2,684.2 L1035.4,681.6ZM1050.9,684.2 L1050.9,689.2 L1045.7,691.8 L1040.5,689.2 L1040.5,684.2 L1045.7,681.6ZM1061.3,684.2 L1061.3,689.2 L1056.1,691.8 L1050.9,689.2 L1050.9,684.2 L1056.1,681.6ZM1071.7,684.2 L1071.7,689.2 L1066.5,691.8 L1061.3,689.2 L1061.3,684.2 L1066.5,681.6ZM1082.1,684.2 L1082.1,689.2 L1076.9,691.8 L1071.7,689.2 L1071.7,684.2 L1076.9,681.6ZM1092.5,684.2 L1092.5,689.2 L1087.3,691.8 L1082.1,689.2 L1082.1,684.2 L1087.3,681.6ZM1102.9,684.2 L1102.9,689.2 L1097.7,691.8 L1092.5,689.2 L1092.5,684.2 L1097.7,681.6ZM1113.3,684.2 L1113.3,689.2 L1108.1,691.8 L1102.9,689.2 L1102.9,684.2 L1108.1,681.6ZM1123.7,684.2 L1123.7,689.2 L1118.5,691.8 L1113.3,689.2 L1113.3,684.2 L1118.5,681.6ZM1134.1,684.2 L1134.1,689.2 L1128.9,691.8 L1123.7,689.2 L1123.7,684.2 L1128.9,681.6ZM1144.5,684.2 L1144.5,689.2 L1139.3,691.8 L1134.1,689.2 L1134.1,684.2 L1139.3,681.6ZM1154.9,684.2 L1154.9,689.2 L1149.7,691.8 L1144.5,689.2 L1144.5,684.2 L1149.7,681.6ZM1165.3,684.2 L1165.3,689.2 L1160.1,691.8 L1154.9,689.2 L1154.9,684.2 L1160.1,681.6ZM1175.6,684.2 L1175.6,689.2 L1170.5,691.8 L1165.3,689.2 L1165.3,684.2 L1170.5,681.6ZM1186.0,684.2 L1186.0,689.2 L1180.8,691.8 L1175.6,689.2 L1175.6,684.2 L1180.8,681.6ZM1196.4,684.2 L1196.4,689.2 L1191.2,691.8 L1186.0,689.2 L1186.0,684.2 L1191.2,681.6ZM1206.8,684.2 L1206.8,689.2 L1201.6,691.8 L1196.4,689.2 L1196.4,684.2 L1201.6,681.6ZM1217.2,684.2 L1217.2,689.2 L1212.0,691.8 L1206.8,689.2 L1206.8,684.2 L1212.0,681.6ZM1227.6,684.2 L1227.6,689.2 L1222.4,691.8 L1217.2,689.2 L1217.2,684.2 L1222.4,681.6ZM983.4,691.8 L983.4,696.9 L978.2,699.5 L973.0,696.9 L973.0,691.8 L978.2,689.2ZM993.8,691.8 L993.8,696.9 L988.6,699.5 L983.4,696.9 L983.4,691.8 L988.6,689.2ZM1004.2,691.8 L1004.2,696.9 L999.0,699.5 L993.8,696.9 L993.8,691.8 L999.0,689.2ZM1014.6,691.8 L1014.6,696.9 L1009.4,699.5 L1004.2,696.9 L1004.2,691.8 L1009.4,689.2ZM1025.0,691.8 L1025.0,696.9 L1019.8,699.5 L1014.6,696.9 L1014.6,691.8 L1019.8,689.2ZM1035.4,691.8 L1035.4,696.9 L1030.2,699.5 L1025.0,696.9 L1025.0,691.8 L1030.2,689.2ZM1045.7,691.8 L1045.7,696.9 L1040.5,699.5 L1035.4,696.9 L1035.4,691.8 L1040.5,689.2ZM1056.1,691.8 L1056.1,696.9 L1050.9,699.5 L1045.7,696.9 L1045.7,691.8 L1050.9,689.2ZM1066.5,691.8 L1066.5,696.9 L1061.3,699.5 L1056.1,696.9 L1056.1,691.8 L1061.3,689.2ZM1076.9,691.8 L1076.9,696.9 L1071.7,699.5 L1066.5,696.9 L1066.5,691.8 L1071.7,689.2ZM1087.3,691.8 L1087.3,696.9 L1082.1,699.5 L1076.9,696.9 L1076.9,691.8 L1082.1,689.2ZM1097.7,691.8 L1097.7,696.9 L1092.5,699.5 L1087.3,696.9 L1087.3,691.8 L1092.5,689.2ZM1108.1,691.8 L1108.1,696.9 L1102.9,699.5 L1097.7,696.9 L1097.7,691.8 L1102.9,689.2ZM1118.5,691.8 L1118.5,696.9 L1113.3,699.5 L1108.1,696.9 L1108.1,691.8 L1113.3,689.2ZM1128.9,691.8 L1128.9,696.9 L1123.7,699.5 L1118.5,696.9 L1118.5,691.8 L1123.7,689.2ZM1139.3,691.8 L1139.3,696.9 L1134.1,699.5 L1128.9,696.9 L1128.9,691.8 L1134.1,689.2ZM1149.7,691.8 L1149.7,696.9 L1144.5,699.5 L1139.3,696.9 L1139.3,691.8 L1144.5,689.2ZM1160.1,691.8 L1160.1,696.9 L1154.9,699.5 L1149.7,696.9 L1149.7,691.8 L1154.9,689.2ZM1170.5,691.8 L1170.5,696.9 L1165.3,699.5 L1160.1,696.9 L1160.1,691.8 L1165.3,689.2ZM1180.8,691.8 L1180.8,696.9 L1175.6,699.5 L1170.5,696.9 L1170.5,691.8 L1175.6,689.2ZM1191.2,691.8 L1191.2,696.9 L1186.0,699.5 L1180.8,696.9 L1180.8,691.8 L1186.0,689.2ZM1201.6,691.8 L1201.6,696.9 L1196.4,699.5 L1191.2,696.9 L1191.2,691.8 L1196.4,689.2ZM1212.0,691.8 L1212.0,696.9 L1206.8,699.5 L1201.6,696.9 L1201.6,691.8 L1206.8,689.2ZM1222.4,691.8 L1222.4,696.9 L1217.2,699.5 L1212.0,696.9 L1212.0,691.8 L1217.2,689.2ZM1232.8,691.8 L1232.8,696.9 L1227.6,699.5 L1222.4,696.9 L1222.4,691.8 L1227.6,689.2ZM978.2,699.5 L978.2,704.5 L973.0,707.1 L967.8,704.5 L967.8,699.5 L973.0,696.9ZM988.6,699.5 L988.6,704.5 L983.4,707.1 L978.2,704.5 L978.2,699.5 L983.4,696.9ZM999.0,699.5 L999.0,704.5 L993.8,707.1 L988.6,704.5 L988.6,699.5 L993.8,696.9ZM1009.4,699.5 L1009.4,704.5 L1004.2,707.1 L999.0,704.5 L999.0,699.5 L1004.2,696.9ZM1019.8,699.5 L1019.8,704.5 L1014.6,707.1 L1009.4,704.5 L1009.4,699.5 L1014.6,696.9ZM1030.2,699.5 L1030.2,704.5 L1025.0,707.1 L1019.8,704.5 L1019.8,699.5 L1025.0,696.9ZM1040.5,699.5 L1040.5,704.5 L1035.4,707.1 L1030.2,704.5 L1030.2,699.5 L1035.4,696.9ZM1050.9,699.5 L1050.9,704.5 L1045.7,707.1 L1040.5,704.5 L1040.5,699.5 L1045.7,696.9ZM1061.3,699.5 L1061.3,704.5 L1056.1,707.1 L1050.9,704.5 L1050.9,699.5 L1056.1,696.9ZM1071.7,699.5 L1071.7,704.5 L1066.5,707.1 L1061.3,704.5 L1061.3,699.5 L1066.5,696.9ZM1082.1,699.5 L1082.1,704.5 L1076.9,707.1 L1071.7,704.5 L1071.7,699.5 L1076.9,696.9ZM1092.5,699.5 L1092.5,704.5 L1087.3,707.1 L1082.1,704.5 L1082.1,699.5 L1087.3,696.9ZM1102.9,699.5 L1102.9,704.5 L1097.7,707.1 L1092.5,704.5 L1092.5,699.5 L1097.7,696.9ZM1113.3,699.5 L1113.3,704.5 L1108.1,707.1 L1102.9,704.5 L1102.9,699.5 L1108.1,696.9ZM1123.7,699.5 L1123.7,704.5 L1118.5,707.1 L1113.3,704.5 L1113.3,699.5 L1118.5,696.9ZM1134.1,699.5 L1134.1,704.5 L1128.9,707.1 L1123.7,704.5 L1123.7,699.5 L1128.9,696.9ZM1144.5,699.5 L1144.5,704.5 L1139.3,707.1 L1134.1,704.5 L1134.1,699.5 L1139.3,696.9ZM1154.9,699.5 L1154.9,704.5 L1149.7,707.1 L1144.5,704.5 L1144.5,699.5 L1149.7,696.9ZM1165.3,699.5 L1165.3,704.5 L1160.1,707.1 L1154.9,704.5 L1154.9,699.5 L1160.1,696.9ZM1175.6,699.5 L1175.6,704.5 L1170.5,707.1 L1165.3,704.5 L1165.3,699.5 L1170.5,696.9ZM1186.0,699.5 L1186.0,704.5 L1180.8,707.1 L1175.6,704.5 L1175.6,699.5 L1180.8,696.9ZM1196.4,699.5 L1196.4,704.5 L1191.2,707.1 L1186.0,704.5 L1186.0,699.5 L1191.2,696.9ZM1206.8,699.5 L1206.8,704.5 L1201.6,707.1 L1196.4,704.5 L1196.4,699.5 L1201.6,696.9ZM1217.2,699.5 L1217.2,704.5 L1212.0,707.1 L1206.8,704.5 L1206.8,699.5 L1212.0,696.9ZM1227.6,699.5 L1227.6,704.5 L1222.4,707.1 L1217.2,704.5 L1217.2,699.5 L1222.4,696.9ZM983.4,707.1 L983.4,712.2 L978.2,714.8 L973.0,712.2 L973.0,707.1 L978.2,704.5ZM993.8,707.1 L993.8,712.2 L988.6,714.8 L983.4,712.2 L983.4,707.1 L988.6,704.5ZM1004.2,707.1 L1004.2,712.2 L999.0,714.8 L993.8,712.2 L993.8,707.1 L999.0,704.5ZM1014.6,707.1 L1014.6,712.2 L1009.4,714.8 L1004.2,712.2 L1004.2,707.1 L1009.4,704.5ZM1025.0,707.1 L1025.0,712.2 L1019.8,714.8 L1014.6,712.2 L1014.6,707.1 L1019.8,704.5ZM1035.4,707.1 L1035.4,712.2 L1030.2,714.8 L1025.0,712.2 L1025.0,707.1 L1030.2,704.5ZM1045.7,707.1 L1045.7,712.2 L1040.5,714.8 L1035.4,712.2 L1035.4,707.1 L1040.5,704.5ZM1056.1,707.1 L1056.1,712.2 L1050.9,714.8 L1045.7,712.2 L1045.7,707.1 L1050.9,704.5ZM1066.5,707.1 L1066.5,712.2 L1061.3,714.8 L1056.1,712.2 L1056.1,707.1 L1061.3,704.5ZM1076.9,707.1 L1076.9,712.2 L1071.7,714.8 L1066.5,712.2 L1066.5,707.1 L1071.7,704.5ZM1087.3,707.1 L1087.3,712.2 L1082.1,714.8 L1076.9,712.2 L1076.9,707.1 L1082.1,704.5ZM1097.7,707.1 L1097.7,712.2 L1092.5,714.8 L1087.3,712.2 L1087.3,707.1 L1092.5,704.5ZM1108.1,707.1 L1108.1,712.2 L1102.9,714.8 L1097.7,712.2 L1097.7,707.1 L1102.9,704.5ZM1118.5,707.1 L1118.5,712.2 L1113.3,714.8 L1108.1,712.2 L1108.1,707.1 L1113.3,704.5ZM1128.9,707.1 L1128.9,712.2 L1123.7,714.8 L1118.5,712.2 L1118.5,707.1 L1123.7,704.5ZM1139.3,707.1 L1139.3,712.2 L1134.1,714.8 L1128.9,712.2 L1128.9,707.1 L1134.1,704.5ZM1149.7,707.1 L1149.7,712.2 L1144.5,714.8 L1139.3,712.2 L1139.3,707.1 L1144.5,704.5ZM1160.1,707.1 L1160.1,712.2 L1154.9,714.8 L1149.7,712.2 L1149.7,707.1 L1154.9,704.5ZM1170.5,707.1 L1170.5,712.2 L1165.3,714.8 L1160.1,712.2 L1160.1,707.1 L1165.3,704.5ZM1180.8,707.1 L1180.8,712.2 L1175.6,714.8 L1170.5,712.2 L1170.5,707.1 L1175.6,704.5ZM1191.2,707.1 L1191.2,712.2 L1186.0,714.8 L1180.8,712.2 L1180.8,707.1 L1186.0,704.5ZM1201.6,707.1 L1201.6,712.2 L1196.4,714.8 L1191.2,712.2 L1191.2,707.1 L1196.4,704.5ZM1212.0,707.1 L1212.0,712.2 L1206.8,714.8 L1201.6,712.2 L1201.6,707.1 L1206.8,704.5ZM1222.4,707.1 L1222.4,712.2 L1217.2,714.8 L1212.0,712.2 L1212.0,707.1 L1217.2,704.5ZM1232.8,707.1 L1232.8,712.2 L1227.6,714.8 L1222.4,712.2 L1222.4,707.1 L1227.6,704.5ZM978.2,714.8 L978.2,719.8 L973.0,722.4 L967.8,719.8 L967.8,714.8 L973.0,712.2ZM988.6,714.8 L988.6,719.8 L983.4,722.4 L978.2,719.8 L978.2,714.8 L983.4,712.2ZM999.0,714.8 L999.0,719.8 L993.8,722.4 L988.6,719.8 L988.6,714.8 L993.8,712.2ZM1009.4,714.8 L1009.4,719.8 L1004.2,722.4 L999.0,719.8 L999.0,714.8 L1004.2,712.2ZM1019.8,714.8 L1019.8,719.8 L1014.6,722.4 L1009.4,719.8 L1009.4,714.8 L1014.6,712.2ZM1030.2,714.8 L1030.2,719.8 L1025.0,722.4 L1019.8,719.8 L1019.8,714.8 L1025.0,712.2ZM1040.5,714.8 L1040.5,719.8 L1035.4,722.4 L1030.2,719.8 L1030.2,714.8 L1035.4,712.2ZM1050.9,714.8 L1050.9,719.8 L1045.7,722.4 L1040.5,719.8 L1040.5,714.8 L1045.7,712.2ZM1061.3,714.8 L1061.3,719.8 L1056.1,722.4 L1050.9,719.8 L1050.9,714.8 L1056.1,712.2ZM1071.7,714.8 L1071.7,719.8 L1066.5,722.4 L1061.3,719.8 L1061.3,714.8 L1066.5,712.2ZM1082.1,714.8 L1082.1,719.8 L1076.9,722.4 L1071.7,719.8 L1071.7,714.8 L1076.9,712.2ZM1092.5,714.8 L1092.5,719.8 L1087.3,722.4 L1082.1,719.8 L1082.1,714.8 L1087.3,712.2ZM1102.9,714.8 L1102.9,719.8 L1097.7,722.4 L1092.5,719.8 L1092.5,714.8 L1097.7,712.2ZM1113.3,714.8 L1113.3,719.8 L1108.1,722.4 L1102.9,719.8 L1102.9,714.8 L1108.1,712.2ZM1123.7,714.8 L1123.7,719.8 L1118.5,722.4 L1113.3,719.8 L1113.3,714.8 L1118.5,712.2ZM1134.1,714.8 L1134.1,719.8 L1128.9,722.4 L1123.7,719.8 L1123.7,714.8 L1128.9,712.2ZM1144.5,714.8 L1144.5,719.8 L1139.3,722.4 L1134.1,719.8 L1134.1,714.8 L1139.3,712.2ZM1154.9,714.8 L1154.9,719.8 L1149.7,722.4 L1144.5,719.8 L1144.5,714.8 L1149.7,712.2ZM1165.3,714.8 L1165.3,719.8 L1160.1,722.4 L1154.9,719.8 L1154.9,714.8 L1160.1,712.2ZM1175.6,714.8 L1175.6,719.8 L1170.5,722.4 L1165.3,719.8 L1165.3,714.8 L1170.5,712.2ZM1186.0,714.8 L1186.0,719.8 L1180.8,722.4 L1175.6,719.8 L1175.6,714.8 L1180.8,712.2ZM1196.4,714.8 L1196.4,719.8 L1191.2,722.4 L1186.0,719.8 L1186.0,714.8 L1191.2,712.2ZM1206.8,714.8 L1206.8,719.8 L1201.6,722.4 L1196.4,719.8 L1196.4,714.8 L1201.6,712.2ZM1217.2,714.8 L1217.2,719.8 L1212.0,722.4 L1206.8,719.8 L1206.8,714.8 L1212.0,712.2ZM1227.6,714.8 L1227.6,719.8 L1222.4,722.4 L1217.2,719.8 L1217.2,714.8 L1222.4,712.2ZM983.4,722.4 L983.4,727.5 L978.2,730.1 L973.0,727.5 L973.0,722.4 L978.2,719.9ZM993.8,722.4 L993.8,727.5 L988.6,730.1 L983.4,727.5 L983.4,722.4 L988.6,719.9ZM1004.2,722.4 L1004.2,727.5 L999.0,730.1 L993.8,727.5 L993.8,722.4 L999.0,719.9ZM1014.6,722.4 L1014.6,727.5 L1009.4,730.1 L1004.2,727.5 L1004.2,722.4 L1009.4,719.9ZM1025.0,722.4 L1025.0,727.5 L1019.8,730.1 L1014.6,727.5 L1014.6,722.4 L1019.8,719.9ZM1035.4,722.4 L1035.4,727.5 L1030.2,730.1 L1025.0,727.5 L1025.0,722.4 L1030.2,719.9ZM1045.7,722.4 L1045.7,727.5 L1040.5,730.1 L1035.4,727.5 L1035.4,722.4 L1040.5,719.9ZM1056.1,722.4 L1056.1,727.5 L1050.9,730.1 L1045.7,727.5 L1045.7,722.4 L1050.9,719.9ZM1066.5,722.4 L1066.5,727.5 L1061.3,730.1 L1056.1,727.5 L1056.1,722.4 L1061.3,719.9ZM1076.9,722.4 L1076.9,727.5 L1071.7,730.1 L1066.5,727.5 L1066.5,722.4 L1071.7,719.9ZM1087.3,722.4 L1087.3,727.5 L1082.1,730.1 L1076.9,727.5 L1076.9,722.4 L1082.1,719.9ZM1097.7,722.4 L1097.7,727.5 L1092.5,730.1 L1087.3,727.5 L1087.3,722.4 L1092.5,719.9ZM1108.1,722.4 L1108.1,727.5 L1102.9,730.1 L1097.7,727.5 L1097.7,722.4 L1102.9,719.9ZM1118.5,722.4 L1118.5,727.5 L1113.3,730.1 L1108.1,727.5 L1108.1,722.4 L1113.3,719.9ZM1128.9,722.4 L1128.9,727.5 L1123.7,730.1 L1118.5,727.5 L1118.5,722.4 L1123.7,719.9ZM1139.3,722.4 L1139.3,727.5 L1134.1,730.1 L1128.9,727.5 L1128.9,722.4 L1134.1,719.9ZM1149.7,722.4 L1149.7,727.5 L1144.5,730.1 L1139.3,727.5 L1139.3,722.4 L1144.5,719.9ZM1160.1,722.4 L1160.1,727.5 L1154.9,730.1 L1149.7,727.5 L1149.7,722.4 L1154.9,719.9ZM1170.5,722.4 L1170.5,727.5 L1165.3,730.1 L1160.1,727.5 L1160.1,722.4 L1165.3,719.9ZM1180.8,722.4 L1180.8,727.5 L1175.6,730.1 L1170.5,727.5 L1170.5,722.4 L1175.6,719.9ZM1191.2,722.4 L1191.2,727.5 L1186.0,730.1 L1180.8,727.5 L1180.8,722.4 L1186.0,719.9ZM1201.6,722.4 L1201.6,727.5 L1196.4,730.1 L1191.2,727.5 L1191.2,722.4 L1196.4,719.9ZM1212.0,722.4 L1212.0,727.5 L1206.8,730.1 L1201.6,727.5 L1201.6,722.4 L1206.8,719.9ZM1222.4,722.4 L1222.4,727.5 L1217.2,730.1 L1212.0,727.5 L1212.0,722.4 L1217.2,719.9ZM1232.8,722.4 L1232.8,727.5 L1227.6,730.1 L1222.4,727.5 L1222.4,722.4 L1227.6,719.9ZM978.2,730.1 L978.2,735.1 L973.0,737.7 L967.8,735.1 L967.8,730.1 L973.0,727.5ZM988.6,730.1 L988.6,735.1 L983.4,737.7 L978.2,735.1 L978.2,730.1 L983.4,727.5ZM999.0,730.1 L999.0,735.1 L993.8,737.7 L988.6,735.1 L988.6,730.1 L993.8,727.5ZM1009.4,730.1 L1009.4,735.1 L1004.2,737.7 L999.0,735.1 L999.0,730.1 L1004.2,727.5ZM1019.8,730.1 L1019.8,735.1 L1014.6,737.7 L1009.4,735.1 L1009.4,730.1 L1014.6,727.5ZM1030.2,730.1 L1030.2,735.1 L1025.0,737.7 L1019.8,735.1 L1019.8,730.1 L1025.0,727.5ZM1040.5,730.1 L1040.5,735.1 L1035.4,737.7 L1030.2,735.1 L1030.2,730.1 L1035.4,727.5ZM1050.9,730.1 L1050.9,735.1 L1045.7,737.7 L1040.5,735.1 L1040.5,730.1 L1045.7,727.5ZM1061.3,730.1 L1061.3,735.1 L1056.1,737.7 L1050.9,735.1 L1050.9,730.1 L1056.1,727.5ZM1071.7,730.1 L1071.7,735.1 L1066.5,737.7 L1061.3,735.1 L1061.3,730.1 L1066.5,727.5ZM1082.1,730.1 L1082.1,735.1 L1076.9,737.7 L1071.7,735.1 L1071.7,730.1 L1076.9,727.5ZM1092.5,730.1 L1092.5,735.1 L1087.3,737.7 L1082.1,735.1 L1082.1,730.1 L1087.3,727.5ZM1102.9,730.1 L1102.9,735.1 L1097.7,737.7 L1092.5,735.1 L1092.5,730.1 L1097.7,727.5ZM1113.3,730.1 L1113.3,735.1 L1108.1,737.7 L1102.9,735.1 L1102.9,730.1 L1108.1,727.5ZM1123.7,730.1 L1123.7,735.1 L1118.5,737.7 L1113.3,735.1 L1113.3,730.1 L1118.5,727.5ZM1134.1,730.1 L1134.1,735.1 L1128.9,737.7 L1123.7,735.1 L1123.7,730.1 L1128.9,727.5ZM1144.5,730.1 L1144.5,735.1 L1139.3,737.7 L1134.1,735.1 L1134.1,730.1 L1139.3,727.5ZM1154.9,730.1 L1154.9,735.1 L1149.7,737.7 L1144.5,735.1 L1144.5,730.1 L1149.7,727.5ZM1165.3,730.1 L1165.3,735.1 L1160.1,737.7 L1154.9,735.1 L1154.9,730.1 L1160.1,727.5ZM1175.6,730.1 L1175.6,735.1 L1170.5,737.7 L1165.3,735.1 L1165.3,730.1 L1170.5,727.5ZM1186.0,730.1 L1186.0,735.1 L1180.8,737.7 L1175.6,735.1 L1175.6,730.1 L1180.8,727.5ZM1196.4,730.1 L1196.4,735.1 L1191.2,737.7 L1186.0,735.1 L1186.0,730.1 L1191.2,727.5ZM1206.8,730.1 L1206.8,735.1 L1201.6,737.7 L1196.4,735.1 L1196.4,730.1 L1201.6,727.5ZM1217.2,730.1 L1217.2,735.1 L1212.0,737.7 L1206.8,735.1 L1206.8,730.1 L1212.0,727.5ZM1227.6,730.1 L1227.6,735.1 L1222.4,737.7 L1217.2,735.1 L1217.2,730.1 L1222.4,727.5ZM983.4,737.7 L983.4,742.8 L978.2,745.4 L973.0,742.8 L973.0,737.7 L978.2,735.1ZM993.8,737.7 L993.8,742.8 L988.6,745.4 L983.4,742.8 L983.4,737.7 L988.6,735.1ZM1004.2,737.7 L1004.2,742.8 L999.0,745.4 L993.8,742.8 L993.8,737.7 L999.0,735.1ZM1014.6,737.7 L1014.6,742.8 L1009.4,745.4 L1004.2,742.8 L1004.2,737.7 L1009.4,735.1ZM1025.0,737.7 L1025.0,742.8 L1019.8,745.4 L1014.6,742.8 L1014.6,737.7 L1019.8,735.1ZM1035.4,737.7 L1035.4,742.8 L1030.2,745.4 L1025.0,742.8 L1025.0,737.7 L1030.2,735.1ZM1045.7,737.7 L1045.7,742.8 L1040.5,745.4 L1035.4,742.8 L1035.4,737.7 L1040.5,735.1ZM1056.1,737.7 L1056.1,742.8 L1050.9,745.4 L1045.7,742.8 L1045.7,737.7 L1050.9,735.1ZM1066.5,737.7 L1066.5,742.8 L1061.3,745.4 L1056.1,742.8 L1056.1,737.7 L1061.3,735.1ZM1076.9,737.7 L1076.9,742.8 L1071.7,745.4 L1066.5,742.8 L1066.5,737.7 L1071.7,735.1ZM1087.3,737.7 L1087.3,742.8 L1082.1,745.4 L1076.9,742.8 L1076.9,737.7 L1082.1,735.1ZM1097.7,737.7 L1097.7,742.8 L1092.5,745.4 L1087.3,742.8 L1087.3,737.7 L1092.5,735.1ZM1108.1,737.7 L1108.1,742.8 L1102.9,745.4 L1097.7,742.8 L1097.7,737.7 L1102.9,735.1ZM1118.5,737.7 L1118.5,742.8 L1113.3,745.4 L1108.1,742.8 L1108.1,737.7 L1113.3,735.1ZM1128.9,737.7 L1128.9,742.8 L1123.7,745.4 L1118.5,742.8 L1118.5,737.7 L1123.7,735.1ZM1139.3,737.7 L1139.3,742.8 L1134.1,745.4 L1128.9,742.8 L1128.9,737.7 L1134.1,735.1ZM1149.7,737.7 L1149.7,742.8 L1144.5,745.4 L1139.3,742.8 L1139.3,737.7 L1144.5,735.1ZM1160.1,737.7 L1160.1,742.8 L1154.9,745.4 L1149.7,742.8 L1149.7,737.7 L1154.9,735.1ZM1170.5,737.7 L1170.5,742.8 L1165.3,745.4 L1160.1,742.8 L1160.1,737.7 L1165.3,735.1ZM1180.8,737.7 L1180.8,742.8 L1175.6,745.4 L1170.5,742.8 L1170.5,737.7 L1175.6,735.1ZM1191.2,737.7 L1191.2,742.8 L1186.0,745.4 L1180.8,742.8 L1180.8,737.7 L1186.0,735.1ZM1201.6,737.7 L1201.6,742.8 L1196.4,745.4 L1191.2,742.8 L1191.2,737.7 L1196.4,735.1ZM1212.0,737.7 L1212.0,742.8 L1206.8,745.4 L1201.6,742.8 L1201.6,737.7 L1206.8,735.1ZM1222.4,737.7 L1222.4,742.8 L1217.2,745.4 L1212.0,742.8 L1212.0,737.7 L1217.2,735.1ZM1232.8,737.7 L1232.8,742.8 L1227.6,745.4 L1222.4,742.8 L1222.4,737.7 L1227.6,735.1ZM978.2,745.4 L978.2,750.4 L973.0,753.0 L967.8,750.4 L967.8,745.4 L973.0,742.8ZM988.6,745.4 L988.6,750.4 L983.4,753.0 L978.2,750.4 L978.2,745.4 L983.4,742.8ZM999.0,745.4 L999.0,750.4 L993.8,753.0 L988.6,750.4 L988.6,745.4 L993.8,742.8ZM1009.4,745.4 L1009.4,750.4 L1004.2,753.0 L999.0,750.4 L999.0,745.4 L1004.2,742.8ZM1019.8,745.4 L1019.8,750.4 L1014.6,753.0 L1009.4,750.4 L1009.4,745.4 L1014.6,742.8ZM1030.2,745.4 L1030.2,750.4 L1025.0,753.0 L1019.8,750.4 L1019.8,745.4 L1025.0,742.8ZM1040.5,745.4 L1040.5,750.4 L1035.4,753.0 L1030.2,750.4 L1030.2,745.4 L1035.4,742.8ZM1050.9,745.4 L1050.9,750.4 L1045.7,753.0 L1040.5,750.4 L1040.5,745.4 L1045.7,742.8ZM1061.3,745.4 L1061.3,750.4 L1056.1,753.0 L1050.9,750.4 L1050.9,745.4 L1056.1,742.8ZM1071.7,745.4 L1071.7,750.4 L1066.5,753.0 L1061.3,750.4 L1061.3,745.4 L1066.5,742.8ZM1082.1,745.4 L1082.1,750.4 L1076.9,753.0 L1071.7,750.4 L1071.7,745.4 L1076.9,742.8ZM1092.5,745.4 L1092.5,750.4 L1087.3,753.0 L1082.1,750.4 L1082.1,745.4 L1087.3,742.8ZM1102.9,745.4 L1102.9,750.4 L1097.7,753.0 L1092.5,750.4 L1092.5,745.4 L1097.7,742.8ZM1113.3,745.4 L1113.3,750.4 L1108.1,753.0 L1102.9,750.4 L1102.9,745.4 L1108.1,742.8ZM1123.7,745.4 L1123.7,750.4 L1118.5,753.0 L1113.3,750.4 L1113.3,745.4 L1118.5,742.8ZM1134.1,745.4 L1134.1,750.4 L1128.9,753.0 L1123.7,750.4 L1123.7,745.4 L1128.9,742.8ZM1144.5,745.4 L1144.5,750.4 L1139.3,753.0 L1134.1,750.4 L1134.1,745.4 L1139.3,742.8ZM1154.9,745.4 L1154.9,750.4 L1149.7,753.0 L1144.5,750.4 L1144.5,745.4 L1149.7,742.8ZM1165.3,745.4 L1165.3,750.4 L1160.1,753.0 L1154.9,750.4 L1154.9,745.4 L1160.1,742.8ZM1175.6,745.4 L1175.6,750.4 L1170.5,753.0 L1165.3,750.4 L1165.3,745.4 L1170.5,742.8ZM1186.0,745.4 L1186.0,750.4 L1180.8,753.0 L1175.6,750.4 L1175.6,745.4 L1180.8,742.8ZM1196.4,745.4 L1196.4,750.4 L1191.2,753.0 L1186.0,750.4 L1186.0,745.4 L1191.2,742.8ZM1206.8,745.4 L1206.8,750.4 L1201.6,753.0 L1196.4,750.4 L1196.4,745.4 L1201.6,742.8ZM1217.2,745.4 L1217.2,750.4 L1212.0,753.0 L1206.8,750.4 L1206.8,745.4 L1212.0,742.8ZM1227.6,745.4 L1227.6,750.4 L1222.4,753.0 L1217.2,750.4 L1217.2,745.4 L1222.4,742.8ZM983.4,753.0 L983.4,758.1 L978.2,760.6 L973.0,758.1 L973.0,753.0 L978.2,750.4ZM993.8,753.0 L993.8,758.1 L988.6,760.6 L983.4,758.1 L983.4,753.0 L988.6,750.4ZM1004.2,753.0 L1004.2,758.1 L999.0,760.6 L993.8,758.1 L993.8,753.0 L999.0,750.4ZM1014.6,753.0 L1014.6,758.1 L1009.4,760.6 L1004.2,758.1 L1004.2,753.0 L1009.4,750.4ZM1025.0,753.0 L1025.0,758.1 L1019.8,760.6 L1014.6,758.1 L1014.6,753.0 L1019.8,750.4ZM1035.4,753.0 L1035.4,758.1 L1030.2,760.6 L1025.0,758.1 L1025.0,753.0 L1030.2,750.4ZM1045.7,753.0 L1045.7,758.1 L1040.5,760.6 L1035.4,758.1 L1035.4,753.0 L1040.5,750.4ZM1056.1,753.0 L1056.1,758.1 L1050.9,760.6 L1045.7,758.1 L1045.7,753.0 L1050.9,750.4ZM1066.5,753.0 L1066.5,758.1 L1061.3,760.6 L1056.1,758.1 L1056.1,753.0 L1061.3,750.4ZM1076.9,753.0 L1076.9,758.1 L1071.7,760.6 L1066.5,758.1 L1066.5,753.0 L1071.7,750.4ZM1087.3,753.0 L1087.3,758.1 L1082.1,760.6 L1076.9,758.1 L1076.9,753.0 L1082.1,750.4ZM1097.7,753.0 L1097.7,758.1 L1092.5,760.6 L1087.3,758.1 L1087.3,753.0 L1092.5,750.4ZM1108.1,753.0 L1108.1,758.1 L1102.9,760.6 L1097.7,758.1 L1097.7,753.0 L1102.9,750.4ZM1118.5,753.0 L1118.5,758.1 L1113.3,760.6 L1108.1,758.1 L1108.1,753.0 L1113.3,750.4ZM1128.9,753.0 L1128.9,758.1 L1123.7,760.6 L1118.5,758.1 L1118.5,753.0 L1123.7,750.4ZM1139.3,753.0 L1139.3,758.1 L1134.1,760.6 L1128.9,758.1 L1128.9,753.0 L1134.1,750.4ZM1149.7,753.0 L1149.7,758.1 L1144.5,760.6 L1139.3,758.1 L1139.3,753.0 L1144.5,750.4ZM1160.1,753.0 L1160.1,758.1 L1154.9,760.6 L1149.7,758.1 L1149.7,753.0 L1154.9,750.4ZM1170.5,753.0 L1170.5,758.1 L1165.3,760.6 L1160.1,758.1 L1160.1,753.0 L1165.3,750.4ZM1180.8,753.0 L1180.8,758.1 L1175.6,760.6 L1170.5,758.1 L1170.5,753.0 L1175.6,750.4ZM1191.2,753.0 L1191.2,758.1 L1186.0,760.6 L1180.8,758.1 L1180.8,753.0 L1186.0,750.4ZM1201.6,753.0 L1201.6,758.1 L1196.4,760.6 L1191.2,758.1 L1191.2,753.0 L1196.4,750.4ZM1212.0,753.0 L1212.0,758.1 L1206.8,760.6 L1201.6,758.1 L1201.6,753.0 L1206.8,750.4ZM1222.4,753.0 L1222.4,758.1 L1217.2,760.6 L1212.0,758.1 L1212.0,753.0 L1217.2,750.4ZM1232.8,753.0 L1232.8,758.1 L1227.6,760.6 L1222.4,758.1 L1222.4,753.0 L1227.6,750.4ZM978.2,760.7 L978.2,765.8 L973.0,768.3 L967.8,765.8 L967.8,760.7 L973.0,758.1ZM988.6,760.7 L988.6,765.8 L983.4,768.3 L978.2,765.8 L978.2,760.7 L983.4,758.1ZM999.0,760.7 L999.0,765.8 L993.8,768.3 L988.6,765.8 L988.6,760.7 L993.8,758.1ZM1009.4,760.7 L1009.4,765.8 L1004.2,768.3 L999.0,765.8 L999.0,760.7 L1004.2,758.1ZM1019.8,760.7 L1019.8,765.8 L1014.6,768.3 L1009.4,765.8 L1009.4,760.7 L1014.6,758.1ZM1030.2,760.7 L1030.2,765.8 L1025.0,768.3 L1019.8,765.8 L1019.8,760.7 L1025.0,758.1ZM1040.5,760.7 L1040.5,765.8 L1035.4,768.3 L1030.2,765.8 L1030.2,760.7 L1035.4,758.1ZM1050.9,760.7 L1050.9,765.8 L1045.7,768.3 L1040.5,765.8 L1040.5,760.7 L1045.7,758.1ZM1061.3,760.7 L1061.3,765.8 L1056.1,768.3 L1050.9,765.8 L1050.9,760.7 L1056.1,758.1ZM1071.7,760.7 L1071.7,765.8 L1066.5,768.3 L1061.3,765.8 L1061.3,760.7 L1066.5,758.1ZM1082.1,760.7 L1082.1,765.8 L1076.9,768.3 L1071.7,765.8 L1071.7,760.7 L1076.9,758.1ZM1092.5,760.7 L1092.5,765.8 L1087.3,768.3 L1082.1,765.8 L1082.1,760.7 L1087.3,758.1ZM1102.9,760.7 L1102.9,765.8 L1097.7,768.3 L1092.5,765.8 L1092.5,760.7 L1097.7,758.1ZM1113.3,760.7 L1113.3,765.8 L1108.1,768.3 L1102.9,765.8 L1102.9,760.7 L1108.1,758.1ZM1123.7,760.7 L1123.7,765.8 L1118.5,768.3 L1113.3,765.8 L1113.3,760.7 L1118.5,758.1ZM1134.1,760.7 L1134.1,765.8 L1128.9,768.3 L1123.7,765.8 L1123.7,760.7 L1128.9,758.1ZM1144.5,760.7 L1144.5,765.8 L1139.3,768.3 L1134.1,765.8 L1134.1,760.7 L1139.3,758.1ZM1154.9,760.7 L1154.9,765.8 L1149.7,768.3 L1144.5,765.8 L1144.5,760.7 L1149.7,758.1ZM1165.3,760.7 L1165.3,765.8 L1160.1,768.3 L1154.9,765.8 L1154.9,760.7 L1160.1,758.1ZM1175.6,760.7 L1175.6,765.8 L1170.5,768.3 L1165.3,765.8 L1165.3,760.7 L1170.5,758.1ZM1186.0,760.7 L1186.0,765.8 L1180.8,768.3 L1175.6,765.8 L1175.6,760.7 L1180.8,758.1ZM1196.4,760.7 L1196.4,765.8 L1191.2,768.3 L1186.0,765.8 L1186.0,760.7 L1191.2,758.1ZM1206.8,760.7 L1206.8,765.8 L1201.6,768.3 L1196.4,765.8 L1196.4,760.7 L1201.6,758.1ZM1217.2,760.7 L1217.2,765.8 L1212.0,768.3 L1206.8,765.8 L1206.8,760.7 L1212.0,758.1ZM1227.6,760.7 L1227.6,765.8 L1222.4,768.3 L1217.2,765.8 L1217.2,760.7 L1222.4,758.1Z" stroke="#a02868" stroke-width="2.0" fill="none" opacity="0.85"/><path d="M982.9,548.6 L982.9,555.4 L976.0,558.8 L969.1,555.4 L969.1,548.6 L976.0,545.2ZM996.8,548.6 L996.8,555.4 L989.9,558.8 L982.9,555.4 L982.9,548.6 L989.9,545.2ZM1010.6,548.6 L1010.6,555.4 L1003.7,558.8 L996.8,555.4 L996.8,548.6 L1003.7,545.2ZM1024.5,548.6 L1024.5,555.4 L1017.6,558.8 L1010.6,555.4 L1010.6,548.6 L1017.6,545.2ZM1038.4,548.6 L1038.4,555.4 L1031.4,558.8 L1024.5,555.4 L1024.5,548.6 L1031.4,545.2ZM1052.2,548.6 L1052.2,555.4 L1045.3,558.8 L1038.4,555.4 L1038.4,548.6 L1045.3,545.2ZM1066.1,548.6 L1066.1,555.4 L1059.1,558.8 L1052.2,555.4 L1052.2,548.6 L1059.1,545.2ZM1079.9,548.6 L1079.9,555.4 L1073.0,558.8 L1066.1,555.4 L1066.1,548.6 L1073.0,545.2ZM1093.8,548.6 L1093.8,555.4 L1086.9,558.8 L1079.9,555.4 L1079.9,548.6 L1086.9,545.2ZM1107.6,548.6 L1107.6,555.4 L1100.7,558.8 L1093.8,555.4 L1093.8,548.6 L1100.7,545.2ZM1121.5,548.6 L1121.5,555.4 L1114.6,558.8 L1107.6,555.4 L1107.6,548.6 L1114.6,545.2ZM1135.3,548.6 L1135.3,555.4 L1128.4,558.8 L1121.5,555.4 L1121.5,548.6 L1128.4,545.2ZM1149.2,548.6 L1149.2,555.4 L1142.3,558.8 L1135.3,555.4 L1135.3,548.6 L1142.3,545.2ZM1163.1,548.6 L1163.1,555.4 L1156.1,558.8 L1149.2,555.4 L1149.2,548.6 L1156.1,545.2ZM1176.9,548.6 L1176.9,555.4 L1170.0,558.8 L1163.1,555.4 L1163.1,548.6 L1170.0,545.2ZM1190.8,548.6 L1190.8,555.4 L1183.8,558.8 L1176.9,555.4 L1176.9,548.6 L1183.8,545.2ZM1204.6,548.6 L1204.6,555.4 L1197.7,558.8 L1190.8,555.4 L1190.8,548.6 L1197.7,545.2ZM1218.5,548.6 L1218.5,555.4 L1211.6,558.8 L1204.6,555.4 L1204.6,548.6 L1211.6,545.2ZM1232.3,548.6 L1232.3,555.4 L1225.4,558.8 L1218.5,555.4 L1218.5,548.6 L1225.4,545.2ZM989.9,558.8 L989.9,565.6 L982.9,569.0 L976.0,565.6 L976.0,558.8 L982.9,555.4ZM1003.7,558.8 L1003.7,565.6 L996.8,569.0 L989.9,565.6 L989.9,558.8 L996.8,555.4ZM1017.6,558.8 L1017.6,565.6 L1010.6,569.0 L1003.7,565.6 L1003.7,558.8 L1010.6,555.4ZM1031.4,558.8 L1031.4,565.6 L1024.5,569.0 L1017.6,565.6 L1017.6,558.8 L1024.5,555.4ZM1045.3,558.8 L1045.3,565.6 L1038.4,569.0 L1031.4,565.6 L1031.4,558.8 L1038.4,555.4ZM1059.1,558.8 L1059.1,565.6 L1052.2,569.0 L1045.3,565.6 L1045.3,558.8 L1052.2,555.4ZM1073.0,558.8 L1073.0,565.6 L1066.1,569.0 L1059.1,565.6 L1059.1,558.8 L1066.1,555.4ZM1086.9,558.8 L1086.9,565.6 L1079.9,569.0 L1073.0,565.6 L1073.0,558.8 L1079.9,555.4ZM1100.7,558.8 L1100.7,565.6 L1093.8,569.0 L1086.9,565.6 L1086.9,558.8 L1093.8,555.4ZM1114.6,558.8 L1114.6,565.6 L1107.6,569.0 L1100.7,565.6 L1100.7,558.8 L1107.6,555.4ZM1128.4,558.8 L1128.4,565.6 L1121.5,569.0 L1114.6,565.6 L1114.6,558.8 L1121.5,555.4ZM1142.3,558.8 L1142.3,565.6 L1135.3,569.0 L1128.4,565.6 L1128.4,558.8 L1135.3,555.4ZM1156.1,558.8 L1156.1,565.6 L1149.2,569.0 L1142.3,565.6 L1142.3,558.8 L1149.2,555.4ZM1170.0,558.8 L1170.0,565.6 L1163.1,569.0 L1156.1,565.6 L1156.1,558.8 L1163.1,555.4ZM1183.8,558.8 L1183.8,565.6 L1176.9,569.0 L1170.0,565.6 L1170.0,558.8 L1176.9,555.4ZM1197.7,558.8 L1197.7,565.6 L1190.8,569.0 L1183.8,565.6 L1183.8,558.8 L1190.8,555.4ZM1211.6,558.8 L1211.6,565.6 L1204.6,569.0 L1197.7,565.6 L1197.7,558.8 L1204.6,555.4ZM1225.4,558.8 L1225.4,565.6 L1218.5,569.0 L1211.6,565.6 L1211.6,558.8 L1218.5,555.4ZM1239.3,558.8 L1239.3,565.6 L1232.3,569.0 L1225.4,565.6 L1225.4,558.8 L1232.3,555.4ZM982.9,569.0 L982.9,575.8 L976.0,579.2 L969.1,575.8 L969.1,569.0 L976.0,565.6ZM996.8,569.0 L996.8,575.8 L989.9,579.2 L982.9,575.8 L982.9,569.0 L989.9,565.6ZM1010.6,569.0 L1010.6,575.8 L1003.7,579.2 L996.8,575.8 L996.8,569.0 L1003.7,565.6ZM1024.5,569.0 L1024.5,575.8 L1017.6,579.2 L1010.6,575.8 L1010.6,569.0 L1017.6,565.6ZM1038.4,569.0 L1038.4,575.8 L1031.4,579.2 L1024.5,575.8 L1024.5,569.0 L1031.4,565.6ZM1052.2,569.0 L1052.2,575.8 L1045.3,579.2 L1038.4,575.8 L1038.4,569.0 L1045.3,565.6ZM1066.1,569.0 L1066.1,575.8 L1059.1,579.2 L1052.2,575.8 L1052.2,569.0 L1059.1,565.6ZM1079.9,569.0 L1079.9,575.8 L1073.0,579.2 L1066.1,575.8 L1066.1,569.0 L1073.0,565.6ZM1093.8,569.0 L1093.8,575.8 L1086.9,579.2 L1079.9,575.8 L1079.9,569.0 L1086.9,565.6ZM1107.6,569.0 L1107.6,575.8 L1100.7,579.2 L1093.8,575.8 L1093.8,569.0 L1100.7,565.6ZM1121.5,569.0 L1121.5,575.8 L1114.6,579.2 L1107.6,575.8 L1107.6,569.0 L1114.6,565.6ZM1135.3,569.0 L1135.3,575.8 L1128.4,579.2 L1121.5,575.8 L1121.5,569.0 L1128.4,565.6ZM1149.2,569.0 L1149.2,575.8 L1142.3,579.2 L1135.3,575.8 L1135.3,569.0 L1142.3,565.6ZM1163.1,569.0 L1163.1,575.8 L1156.1,579.2 L1149.2,575.8 L1149.2,569.0 L1156.1,565.6ZM1176.9,569.0 L1176.9,575.8 L1170.0,579.2 L1163.1,575.8 L1163.1,569.0 L1170.0,565.6ZM1190.8,569.0 L1190.8,575.8 L1183.8,579.2 L1176.9,575.8 L1176.9,569.0 L1183.8,565.6ZM1204.6,569.0 L1204.6,575.8 L1197.7,579.2 L1190.8,575.8 L1190.8,569.0 L1197.7,565.6ZM1218.5,569.0 L1218.5,575.8 L1211.6,579.2 L1204.6,575.8 L1204.6,569.0 L1211.6,565.6ZM1232.3,569.0 L1232.3,575.8 L1225.4,579.2 L1218.5,575.8 L1218.5,569.0 L1225.4,565.6ZM989.9,579.2 L989.9,586.0 L982.9,589.4 L976.0,586.0 L976.0,579.2 L982.9,575.8ZM1003.7,579.2 L1003.7,586.0 L996.8,589.4 L989.9,586.0 L989.9,579.2 L996.8,575.8ZM1017.6,579.2 L1017.6,586.0 L1010.6,589.4 L1003.7,586.0 L1003.7,579.2 L1010.6,575.8ZM1031.4,579.2 L1031.4,586.0 L1024.5,589.4 L1017.6,586.0 L1017.6,579.2 L1024.5,575.8ZM1045.3,579.2 L1045.3,586.0 L1038.4,589.4 L1031.4,586.0 L1031.4,579.2 L1038.4,575.8ZM1059.1,579.2 L1059.1,586.0 L1052.2,589.4 L1045.3,586.0 L1045.3,579.2 L1052.2,575.8ZM1073.0,579.2 L1073.0,586.0 L1066.1,589.4 L1059.1,586.0 L1059.1,579.2 L1066.1,575.8ZM1086.9,579.2 L1086.9,586.0 L1079.9,589.4 L1073.0,586.0 L1073.0,579.2 L1079.9,575.8ZM1100.7,579.2 L1100.7,586.0 L1093.8,589.4 L1086.9,586.0 L1086.9,579.2 L1093.8,575.8ZM1114.6,579.2 L1114.6,586.0 L1107.6,589.4 L1100.7,586.0 L1100.7,579.2 L1107.6,575.8ZM1128.4,579.2 L1128.4,586.0 L1121.5,589.4 L1114.6,586.0 L1114.6,579.2 L1121.5,575.8ZM1142.3,579.2 L1142.3,586.0 L1135.3,589.4 L1128.4,586.0 L1128.4,579.2 L1135.3,575.8ZM1156.1,579.2 L1156.1,586.0 L1149.2,589.4 L1142.3,586.0 L1142.3,579.2 L1149.2,575.8ZM1170.0,579.2 L1170.0,586.0 L1163.1,589.4 L1156.1,586.0 L1156.1,579.2 L1163.1,575.8ZM1183.8,579.2 L1183.8,586.0 L1176.9,589.4 L1170.0,586.0 L1170.0,579.2 L1176.9,575.8ZM1197.7,579.2 L1197.7,586.0 L1190.8,589.4 L1183.8,586.0 L1183.8,579.2 L1190.8,575.8ZM1211.6,579.2 L1211.6,586.0 L1204.6,589.4 L1197.7,586.0 L1197.7,579.2 L1204.6,575.8ZM1225.4,579.2 L1225.4,586.0 L1218.5,589.4 L1211.6,586.0 L1211.6,579.2 L1218.5,575.8ZM1239.3,579.2 L1239.3,586.0 L1232.3,589.4 L1225.4,586.0 L1225.4,579.2 L1232.3,575.8ZM982.9,589.4 L982.9,596.2 L976.0,599.6 L969.1,596.2 L969.1,589.4 L976.0,586.0ZM996.8,589.4 L996.8,596.2 L989.9,599.6 L982.9,596.2 L982.9,589.4 L989.9,586.0ZM1010.6,589.4 L1010.6,596.2 L1003.7,599.6 L996.8,596.2 L996.8,589.4 L1003.7,586.0ZM1024.5,589.4 L1024.5,596.2 L1017.6,599.6 L1010.6,596.2 L1010.6,589.4 L1017.6,586.0ZM1038.4,589.4 L1038.4,596.2 L1031.4,599.6 L1024.5,596.2 L1024.5,589.4 L1031.4,586.0ZM1052.2,589.4 L1052.2,596.2 L1045.3,599.6 L1038.4,596.2 L1038.4,589.4 L1045.3,586.0ZM1066.1,589.4 L1066.1,596.2 L1059.1,599.6 L1052.2,596.2 L1052.2,589.4 L1059.1,586.0ZM1079.9,589.4 L1079.9,596.2 L1073.0,599.6 L1066.1,596.2 L1066.1,589.4 L1073.0,586.0ZM1093.8,589.4 L1093.8,596.2 L1086.9,599.6 L1079.9,596.2 L1079.9,589.4 L1086.9,586.0ZM1107.6,589.4 L1107.6,596.2 L1100.7,599.6 L1093.8,596.2 L1093.8,589.4 L1100.7,586.0ZM1121.5,589.4 L1121.5,596.2 L1114.6,599.6 L1107.6,596.2 L1107.6,589.4 L1114.6,586.0ZM1135.3,589.4 L1135.3,596.2 L1128.4,599.6 L1121.5,596.2 L1121.5,589.4 L1128.4,586.0ZM1149.2,589.4 L1149.2,596.2 L1142.3,599.6 L1135.3,596.2 L1135.3,589.4 L1142.3,586.0ZM1163.1,589.4 L1163.1,596.2 L1156.1,599.6 L1149.2,596.2 L1149.2,589.4 L1156.1,586.0ZM1176.9,589.4 L1176.9,596.2 L1170.0,599.6 L1163.1,596.2 L1163.1,589.4 L1170.0,586.0ZM1190.8,589.4 L1190.8,596.2 L1183.8,599.6 L1176.9,596.2 L1176.9,589.4 L1183.8,586.0ZM1204.6,589.4 L1204.6,596.2 L1197.7,599.6 L1190.8,596.2 L1190.8,589.4 L1197.7,586.0ZM1218.5,589.4 L1218.5,596.2 L1211.6,599.6 L1204.6,596.2 L1204.6,589.4 L1211.6,586.0ZM1232.3,589.4 L1232.3,596.2 L1225.4,599.6 L1218.5,596.2 L1218.5,589.4 L1225.4,586.0ZM989.9,599.6 L989.9,606.4 L982.9,609.8 L976.0,606.4 L976.0,599.6 L982.9,596.2ZM1003.7,599.6 L1003.7,606.4 L996.8,609.8 L989.9,606.4 L989.9,599.6 L996.8,596.2ZM1017.6,599.6 L1017.6,606.4 L1010.6,609.8 L1003.7,606.4 L1003.7,599.6 L1010.6,596.2ZM1031.4,599.6 L1031.4,606.4 L1024.5,609.8 L1017.6,606.4 L1017.6,599.6 L1024.5,596.2ZM1045.3,599.6 L1045.3,606.4 L1038.4,609.8 L1031.4,606.4 L1031.4,599.6 L1038.4,596.2ZM1059.1,599.6 L1059.1,606.4 L1052.2,609.8 L1045.3,606.4 L1045.3,599.6 L1052.2,596.2ZM1073.0,599.6 L1073.0,606.4 L1066.1,609.8 L1059.1,606.4 L1059.1,599.6 L1066.1,596.2ZM1086.9,599.6 L1086.9,606.4 L1079.9,609.8 L1073.0,606.4 L1073.0,599.6 L1079.9,596.2ZM1100.7,599.6 L1100.7,606.4 L1093.8,609.8 L1086.9,606.4 L1086.9,599.6 L1093.8,596.2ZM1114.6,599.6 L1114.6,606.4 L1107.6,609.8 L1100.7,606.4 L1100.7,599.6 L1107.6,596.2ZM1128.4,599.6 L1128.4,606.4 L1121.5,609.8 L1114.6,606.4 L1114.6,599.6 L1121.5,596.2ZM1142.3,599.6 L1142.3,606.4 L1135.3,609.8 L1128.4,606.4 L1128.4,599.6 L1135.3,596.2ZM1156.1,599.6 L1156.1,606.4 L1149.2,609.8 L1142.3,606.4 L1142.3,599.6 L1149.2,596.2ZM1170.0,599.6 L1170.0,606.4 L1163.1,609.8 L1156.1,606.4 L1156.1,599.6 L1163.1,596.2ZM1183.8,599.6 L1183.8,606.4 L1176.9,609.8 L1170.0,606.4 L1170.0,599.6 L1176.9,596.2ZM1197.7,599.6 L1197.7,606.4 L1190.8,609.8 L1183.8,606.4 L1183.8,599.6 L1190.8,596.2ZM1211.6,599.6 L1211.6,606.4 L1204.6,609.8 L1197.7,606.4 L1197.7,599.6 L1204.6,596.2ZM1225.4,599.6 L1225.4,606.4 L1218.5,609.8 L1211.6,606.4 L1211.6,599.6 L1218.5,596.2ZM1239.3,599.6 L1239.3,606.4 L1232.3,609.8 L1225.4,606.4 L1225.4,599.6 L1232.3,596.2ZM982.9,609.8 L982.9,616.6 L976.0,620.0 L969.1,616.6 L969.1,609.8 L976.0,606.4ZM996.8,609.8 L996.8,616.6 L989.9,620.0 L982.9,616.6 L982.9,609.8 L989.9,606.4ZM1010.6,609.8 L1010.6,616.6 L1003.7,620.0 L996.8,616.6 L996.8,609.8 L1003.7,606.4ZM1024.5,609.8 L1024.5,616.6 L1017.6,620.0 L1010.6,616.6 L1010.6,609.8 L1017.6,606.4ZM1038.4,609.8 L1038.4,616.6 L1031.4,620.0 L1024.5,616.6 L1024.5,609.8 L1031.4,606.4ZM1052.2,609.8 L1052.2,616.6 L1045.3,620.0 L1038.4,616.6 L1038.4,609.8 L1045.3,606.4ZM1066.1,609.8 L1066.1,616.6 L1059.1,620.0 L1052.2,616.6 L1052.2,609.8 L1059.1,606.4ZM1079.9,609.8 L1079.9,616.6 L1073.0,620.0 L1066.1,616.6 L1066.1,609.8 L1073.0,606.4ZM1093.8,609.8 L1093.8,616.6 L1086.9,620.0 L1079.9,616.6 L1079.9,609.8 L1086.9,606.4ZM1107.6,609.8 L1107.6,616.6 L1100.7,620.0 L1093.8,616.6 L1093.8,609.8 L1100.7,606.4ZM1121.5,609.8 L1121.5,616.6 L1114.6,620.0 L1107.6,616.6 L1107.6,609.8 L1114.6,606.4ZM1135.3,609.8 L1135.3,616.6 L1128.4,620.0 L1121.5,616.6 L1121.5,609.8 L1128.4,606.4ZM1149.2,609.8 L1149.2,616.6 L1142.3,620.0 L1135.3,616.6 L1135.3,609.8 L1142.3,606.4ZM1163.1,609.8 L1163.1,616.6 L1156.1,620.0 L1149.2,616.6 L1149.2,609.8 L1156.1,606.4ZM1176.9,609.8 L1176.9,616.6 L1170.0,620.0 L1163.1,616.6 L1163.1,609.8 L1170.0,606.4ZM1190.8,609.8 L1190.8,616.6 L1183.8,620.0 L1176.9,616.6 L1176.9,609.8 L1183.8,606.4ZM1204.6,609.8 L1204.6,616.6 L1197.7,620.0 L1190.8,616.6 L1190.8,609.8 L1197.7,606.4ZM1218.5,609.8 L1218.5,616.6 L1211.6,620.0 L1204.6,616.6 L1204.6,609.8 L1211.6,606.4ZM1232.3,609.8 L1232.3,616.6 L1225.4,620.0 L1218.5,616.6 L1218.5,609.8 L1225.4,606.4ZM989.9,620.0 L989.9,626.8 L982.9,630.2 L976.0,626.8 L976.0,620.0 L982.9,616.6ZM1003.7,620.0 L1003.7,626.8 L996.8,630.2 L989.9,626.8 L989.9,620.0 L996.8,616.6ZM1017.6,620.0 L1017.6,626.8 L1010.6,630.2 L1003.7,626.8 L1003.7,620.0 L1010.6,616.6ZM1031.4,620.0 L1031.4,626.8 L1024.5,630.2 L1017.6,626.8 L1017.6,620.0 L1024.5,616.6ZM1045.3,620.0 L1045.3,626.8 L1038.4,630.2 L1031.4,626.8 L1031.4,620.0 L1038.4,616.6ZM1059.1,620.0 L1059.1,626.8 L1052.2,630.2 L1045.3,626.8 L1045.3,620.0 L1052.2,616.6ZM1073.0,620.0 L1073.0,626.8 L1066.1,630.2 L1059.1,626.8 L1059.1,620.0 L1066.1,616.6ZM1086.9,620.0 L1086.9,626.8 L1079.9,630.2 L1073.0,626.8 L1073.0,620.0 L1079.9,616.6ZM1100.7,620.0 L1100.7,626.8 L1093.8,630.2 L1086.9,626.8 L1086.9,620.0 L1093.8,616.6ZM1114.6,620.0 L1114.6,626.8 L1107.6,630.2 L1100.7,626.8 L1100.7,620.0 L1107.6,616.6ZM1128.4,620.0 L1128.4,626.8 L1121.5,630.2 L1114.6,626.8 L1114.6,620.0 L1121.5,616.6ZM1142.3,620.0 L1142.3,626.8 L1135.3,630.2 L1128.4,626.8 L1128.4,620.0 L1135.3,616.6ZM1156.1,620.0 L1156.1,626.8 L1149.2,630.2 L1142.3,626.8 L1142.3,620.0 L1149.2,616.6ZM1170.0,620.0 L1170.0,626.8 L1163.1,630.2 L1156.1,626.8 L1156.1,620.0 L1163.1,616.6ZM1183.8,620.0 L1183.8,626.8 L1176.9,630.2 L1170.0,626.8 L1170.0,620.0 L1176.9,616.6ZM1197.7,620.0 L1197.7,626.8 L1190.8,630.2 L1183.8,626.8 L1183.8,620.0 L1190.8,616.6ZM1211.6,620.0 L1211.6,626.8 L1204.6,630.2 L1197.7,626.8 L1197.7,620.0 L1204.6,616.6ZM1225.4,620.0 L1225.4,626.8 L1218.5,630.2 L1211.6,626.8 L1211.6,620.0 L1218.5,616.6ZM1239.3,620.0 L1239.3,626.8 L1232.3,630.2 L1225.4,626.8 L1225.4,620.0 L1232.3,616.6ZM982.9,630.2 L982.9,637.0 L976.0,640.4 L969.1,637.0 L969.1,630.2 L976.0,626.8ZM996.8,630.2 L996.8,637.0 L989.9,640.4 L982.9,637.0 L982.9,630.2 L989.9,626.8ZM1010.6,630.2 L1010.6,637.0 L1003.7,640.4 L996.8,637.0 L996.8,630.2 L1003.7,626.8ZM1024.5,630.2 L1024.5,637.0 L1017.6,640.4 L1010.6,637.0 L1010.6,630.2 L1017.6,626.8ZM1038.4,630.2 L1038.4,637.0 L1031.4,640.4 L1024.5,637.0 L1024.5,630.2 L1031.4,626.8ZM1052.2,630.2 L1052.2,637.0 L1045.3,640.4 L1038.4,637.0 L1038.4,630.2 L1045.3,626.8ZM1066.1,630.2 L1066.1,637.0 L1059.1,640.4 L1052.2,637.0 L1052.2,630.2 L1059.1,626.8ZM1079.9,630.2 L1079.9,637.0 L1073.0,640.4 L1066.1,637.0 L1066.1,630.2 L1073.0,626.8ZM1093.8,630.2 L1093.8,637.0 L1086.9,640.4 L1079.9,637.0 L1079.9,630.2 L1086.9,626.8ZM1107.6,630.2 L1107.6,637.0 L1100.7,640.4 L1093.8,637.0 L1093.8,630.2 L1100.7,626.8ZM1121.5,630.2 L1121.5,637.0 L1114.6,640.4 L1107.6,637.0 L1107.6,630.2 L1114.6,626.8ZM1135.3,630.2 L1135.3,637.0 L1128.4,640.4 L1121.5,637.0 L1121.5,630.2 L1128.4,626.8ZM1149.2,630.2 L1149.2,637.0 L1142.3,640.4 L1135.3,637.0 L1135.3,630.2 L1142.3,626.8ZM1163.1,630.2 L1163.1,637.0 L1156.1,640.4 L1149.2,637.0 L1149.2,630.2 L1156.1,626.8ZM1176.9,630.2 L1176.9,637.0 L1170.0,640.4 L1163.1,637.0 L1163.1,630.2 L1170.0,626.8ZM1190.8,630.2 L1190.8,637.0 L1183.8,640.4 L1176.9,637.0 L1176.9,630.2 L1183.8,626.8ZM1204.6,630.2 L1204.6,637.0 L1197.7,640.4 L1190.8,637.0 L1190.8,630.2 L1197.7,626.8ZM1218.5,630.2 L1218.5,637.0 L1211.6,640.4 L1204.6,637.0 L1204.6,630.2 L1211.6,626.8ZM1232.3,630.2 L1232.3,637.0 L1225.4,640.4 L1218.5,637.0 L1218.5,630.2 L1225.4,626.8ZM989.9,640.4 L989.9,647.2 L982.9,650.6 L976.0,647.2 L976.0,640.4 L982.9,637.0ZM1003.7,640.4 L1003.7,647.2 L996.8,650.6 L989.9,647.2 L989.9,640.4 L996.8,637.0ZM1017.6,640.4 L1017.6,647.2 L1010.6,650.6 L1003.7,647.2 L1003.7,640.4 L1010.6,637.0ZM1031.4,640.4 L1031.4,647.2 L1024.5,650.6 L1017.6,647.2 L1017.6,640.4 L1024.5,637.0ZM1045.3,640.4 L1045.3,647.2 L1038.4,650.6 L1031.4,647.2 L1031.4,640.4 L1038.4,637.0ZM1059.1,640.4 L1059.1,647.2 L1052.2,650.6 L1045.3,647.2 L1045.3,640.4 L1052.2,637.0ZM1073.0,640.4 L1073.0,647.2 L1066.1,650.6 L1059.1,647.2 L1059.1,640.4 L1066.1,637.0ZM1086.9,640.4 L1086.9,647.2 L1079.9,650.6 L1073.0,647.2 L1073.0,640.4 L1079.9,637.0ZM1100.7,640.4 L1100.7,647.2 L1093.8,650.6 L1086.9,647.2 L1086.9,640.4 L1093.8,637.0ZM1114.6,640.4 L1114.6,647.2 L1107.6,650.6 L1100.7,647.2 L1100.7,640.4 L1107.6,637.0ZM1128.4,640.4 L1128.4,647.2 L1121.5,650.6 L1114.6,647.2 L1114.6,640.4 L1121.5,637.0ZM1142.3,640.4 L1142.3,647.2 L1135.3,650.6 L1128.4,647.2 L1128.4,640.4 L1135.3,637.0ZM1156.1,640.4 L1156.1,647.2 L1149.2,650.6 L1142.3,647.2 L1142.3,640.4 L1149.2,637.0ZM1170.0,640.4 L1170.0,647.2 L1163.1,650.6 L1156.1,647.2 L1156.1,640.4 L1163.1,637.0ZM1183.8,640.4 L1183.8,647.2 L1176.9,650.6 L1170.0,647.2 L1170.0,640.4 L1176.9,637.0ZM1197.7,640.4 L1197.7,647.2 L1190.8,650.6 L1183.8,647.2 L1183.8,640.4 L1190.8,637.0ZM1211.6,640.4 L1211.6,647.2 L1204.6,650.6 L1197.7,647.2 L1197.7,640.4 L1204.6,637.0ZM1225.4,640.4 L1225.4,647.2 L1218.5,650.6 L1211.6,647.2 L1211.6,640.4 L1218.5,637.0ZM1239.3,640.4 L1239.3,647.2 L1232.3,650.6 L1225.4,647.2 L1225.4,640.4 L1232.3,637.0ZM982.9,650.6 L982.9,657.4 L976.0,660.8 L969.1,657.4 L969.1,650.6 L976.0,647.2ZM996.8,650.6 L996.8,657.4 L989.9,660.8 L982.9,657.4 L982.9,650.6 L989.9,647.2ZM1010.6,650.6 L1010.6,657.4 L1003.7,660.8 L996.8,657.4 L996.8,650.6 L1003.7,647.2ZM1024.5,650.6 L1024.5,657.4 L1017.6,660.8 L1010.6,657.4 L1010.6,650.6 L1017.6,647.2ZM1038.4,650.6 L1038.4,657.4 L1031.4,660.8 L1024.5,657.4 L1024.5,650.6 L1031.4,647.2ZM1052.2,650.6 L1052.2,657.4 L1045.3,660.8 L1038.4,657.4 L1038.4,650.6 L1045.3,647.2ZM1066.1,650.6 L1066.1,657.4 L1059.1,660.8 L1052.2,657.4 L1052.2,650.6 L1059.1,647.2ZM1079.9,650.6 L1079.9,657.4 L1073.0,660.8 L1066.1,657.4 L1066.1,650.6 L1073.0,647.2ZM1093.8,650.6 L1093.8,657.4 L1086.9,660.8 L1079.9,657.4 L1079.9,650.6 L1086.9,647.2ZM1107.6,650.6 L1107.6,657.4 L1100.7,660.8 L1093.8,657.4 L1093.8,650.6 L1100.7,647.2ZM1121.5,650.6 L1121.5,657.4 L1114.6,660.8 L1107.6,657.4 L1107.6,650.6 L1114.6,647.2ZM1135.3,650.6 L1135.3,657.4 L1128.4,660.8 L1121.5,657.4 L1121.5,650.6 L1128.4,647.2ZM1149.2,650.6 L1149.2,657.4 L1142.3,660.8 L1135.3,657.4 L1135.3,650.6 L1142.3,647.2ZM1163.1,650.6 L1163.1,657.4 L1156.1,660.8 L1149.2,657.4 L1149.2,650.6 L1156.1,647.2ZM1176.9,650.6 L1176.9,657.4 L1170.0,660.8 L1163.1,657.4 L1163.1,650.6 L1170.0,647.2ZM1190.8,650.6 L1190.8,657.4 L1183.8,660.8 L1176.9,657.4 L1176.9,650.6 L1183.8,647.2ZM1204.6,650.6 L1204.6,657.4 L1197.7,660.8 L1190.8,657.4 L1190.8,650.6 L1197.7,647.2ZM1218.5,650.6 L1218.5,657.4 L1211.6,660.8 L1204.6,657.4 L1204.6,650.6 L1211.6,647.2ZM1232.3,650.6 L1232.3,657.4 L1225.4,660.8 L1218.5,657.4 L1218.5,650.6 L1225.4,647.2ZM989.9,660.8 L989.9,667.6 L982.9,671.0 L976.0,667.6 L976.0,660.8 L982.9,657.4ZM1003.7,660.8 L1003.7,667.6 L996.8,671.0 L989.9,667.6 L989.9,660.8 L996.8,657.4ZM1017.6,660.8 L1017.6,667.6 L1010.6,671.0 L1003.7,667.6 L1003.7,660.8 L1010.6,657.4ZM1031.4,660.8 L1031.4,667.6 L1024.5,671.0 L1017.6,667.6 L1017.6,660.8 L1024.5,657.4ZM1045.3,660.8 L1045.3,667.6 L1038.4,671.0 L1031.4,667.6 L1031.4,660.8 L1038.4,657.4ZM1059.1,660.8 L1059.1,667.6 L1052.2,671.0 L1045.3,667.6 L1045.3,660.8 L1052.2,657.4ZM1073.0,660.8 L1073.0,667.6 L1066.1,671.0 L1059.1,667.6 L1059.1,660.8 L1066.1,657.4ZM1086.9,660.8 L1086.9,667.6 L1079.9,671.0 L1073.0,667.6 L1073.0,660.8 L1079.9,657.4ZM1100.7,660.8 L1100.7,667.6 L1093.8,671.0 L1086.9,667.6 L1086.9,660.8 L1093.8,657.4ZM1114.6,660.8 L1114.6,667.6 L1107.6,671.0 L1100.7,667.6 L1100.7,660.8 L1107.6,657.4ZM1128.4,660.8 L1128.4,667.6 L1121.5,671.0 L1114.6,667.6 L1114.6,660.8 L1121.5,657.4ZM1142.3,660.8 L1142.3,667.6 L1135.3,671.0 L1128.4,667.6 L1128.4,660.8 L1135.3,657.4ZM1156.1,660.8 L1156.1,667.6 L1149.2,671.0 L1142.3,667.6 L1142.3,660.8 L1149.2,657.4ZM1170.0,660.8 L1170.0,667.6 L1163.1,671.0 L1156.1,667.6 L1156.1,660.8 L1163.1,657.4ZM1183.8,660.8 L1183.8,667.6 L1176.9,671.0 L1170.0,667.6 L1170.0,660.8 L1176.9,657.4ZM1197.7,660.8 L1197.7,667.6 L1190.8,671.0 L1183.8,667.6 L1183.8,660.8 L1190.8,657.4ZM1211.6,660.8 L1211.6,667.6 L1204.6,671.0 L1197.7,667.6 L1197.7,660.8 L1204.6,657.4ZM1225.4,660.8 L1225.4,667.6 L1218.5,671.0 L1211.6,667.6 L1211.6,660.8 L1218.5,657.4ZM1239.3,660.8 L1239.3,667.6 L1232.3,671.0 L1225.4,667.6 L1225.4,660.8 L1232.3,657.4ZM982.9,671.0 L982.9,677.8 L976.0,681.2 L969.1,677.8 L969.1,671.0 L976.0,667.6ZM996.8,671.0 L996.8,677.8 L989.9,681.2 L982.9,677.8 L982.9,671.0 L989.9,667.6ZM1010.6,671.0 L1010.6,677.8 L1003.7,681.2 L996.8,677.8 L996.8,671.0 L1003.7,667.6ZM1024.5,671.0 L1024.5,677.8 L1017.6,681.2 L1010.6,677.8 L1010.6,671.0 L1017.6,667.6ZM1038.4,671.0 L1038.4,677.8 L1031.4,681.2 L1024.5,677.8 L1024.5,671.0 L1031.4,667.6ZM1052.2,671.0 L1052.2,677.8 L1045.3,681.2 L1038.4,677.8 L1038.4,671.0 L1045.3,667.6ZM1066.1,671.0 L1066.1,677.8 L1059.1,681.2 L1052.2,677.8 L1052.2,671.0 L1059.1,667.6ZM1079.9,671.0 L1079.9,677.8 L1073.0,681.2 L1066.1,677.8 L1066.1,671.0 L1073.0,667.6ZM1093.8,671.0 L1093.8,677.8 L1086.9,681.2 L1079.9,677.8 L1079.9,671.0 L1086.9,667.6ZM1107.6,671.0 L1107.6,677.8 L1100.7,681.2 L1093.8,677.8 L1093.8,671.0 L1100.7,667.6ZM1121.5,671.0 L1121.5,677.8 L1114.6,681.2 L1107.6,677.8 L1107.6,671.0 L1114.6,667.6ZM1135.3,671.0 L1135.3,677.8 L1128.4,681.2 L1121.5,677.8 L1121.5,671.0 L1128.4,667.6ZM1149.2,671.0 L1149.2,677.8 L1142.3,681.2 L1135.3,677.8 L1135.3,671.0 L1142.3,667.6ZM1163.1,671.0 L1163.1,677.8 L1156.1,681.2 L1149.2,677.8 L1149.2,671.0 L1156.1,667.6ZM1176.9,671.0 L1176.9,677.8 L1170.0,681.2 L1163.1,677.8 L1163.1,671.0 L1170.0,667.6ZM1190.8,671.0 L1190.8,677.8 L1183.8,681.2 L1176.9,677.8 L1176.9,671.0 L1183.8,667.6ZM1204.6,671.0 L1204.6,677.8 L1197.7,681.2 L1190.8,677.8 L1190.8,671.0 L1197.7,667.6ZM1218.5,671.0 L1218.5,677.8 L1211.6,681.2 L1204.6,677.8 L1204.6,671.0 L1211.6,667.6ZM1232.3,671.0 L1232.3,677.8 L1225.4,681.2 L1218.5,677.8 L1218.5,671.0 L1225.4,667.6ZM989.9,681.2 L989.9,688.0 L982.9,691.4 L976.0,688.0 L976.0,681.2 L982.9,677.8ZM1003.7,681.2 L1003.7,688.0 L996.8,691.4 L989.9,688.0 L989.9,681.2 L996.8,677.8ZM1017.6,681.2 L1017.6,688.0 L1010.6,691.4 L1003.7,688.0 L1003.7,681.2 L1010.6,677.8ZM1031.4,681.2 L1031.4,688.0 L1024.5,691.4 L1017.6,688.0 L1017.6,681.2 L1024.5,677.8ZM1045.3,681.2 L1045.3,688.0 L1038.4,691.4 L1031.4,688.0 L1031.4,681.2 L1038.4,677.8ZM1059.1,681.2 L1059.1,688.0 L1052.2,691.4 L1045.3,688.0 L1045.3,681.2 L1052.2,677.8ZM1073.0,681.2 L1073.0,688.0 L1066.1,691.4 L1059.1,688.0 L1059.1,681.2 L1066.1,677.8ZM1086.9,681.2 L1086.9,688.0 L1079.9,691.4 L1073.0,688.0 L1073.0,681.2 L1079.9,677.8ZM1100.7,681.2 L1100.7,688.0 L1093.8,691.4 L1086.9,688.0 L1086.9,681.2 L1093.8,677.8ZM1114.6,681.2 L1114.6,688.0 L1107.6,691.4 L1100.7,688.0 L1100.7,681.2 L1107.6,677.8ZM1128.4,681.2 L1128.4,688.0 L1121.5,691.4 L1114.6,688.0 L1114.6,681.2 L1121.5,677.8ZM1142.3,681.2 L1142.3,688.0 L1135.3,691.4 L1128.4,688.0 L1128.4,681.2 L1135.3,677.8ZM1156.1,681.2 L1156.1,688.0 L1149.2,691.4 L1142.3,688.0 L1142.3,681.2 L1149.2,677.8ZM1170.0,681.2 L1170.0,688.0 L1163.1,691.4 L1156.1,688.0 L1156.1,681.2 L1163.1,677.8ZM1183.8,681.2 L1183.8,688.0 L1176.9,691.4 L1170.0,688.0 L1170.0,681.2 L1176.9,677.8ZM1197.7,681.2 L1197.7,688.0 L1190.8,691.4 L1183.8,688.0 L1183.8,681.2 L1190.8,677.8ZM1211.6,681.2 L1211.6,688.0 L1204.6,691.4 L1197.7,688.0 L1197.7,681.2 L1204.6,677.8ZM1225.4,681.2 L1225.4,688.0 L1218.5,691.4 L1211.6,688.0 L1211.6,681.2 L1218.5,677.8ZM1239.3,681.2 L1239.3,688.0 L1232.3,691.4 L1225.4,688.0 L1225.4,681.2 L1232.3,677.8ZM982.9,691.4 L982.9,698.2 L976.0,701.6 L969.1,698.2 L969.1,691.4 L976.0,688.0ZM996.8,691.4 L996.8,698.2 L989.9,701.6 L982.9,698.2 L982.9,691.4 L989.9,688.0ZM1010.6,691.4 L1010.6,698.2 L1003.7,701.6 L996.8,698.2 L996.8,691.4 L1003.7,688.0ZM1024.5,691.4 L1024.5,698.2 L1017.6,701.6 L1010.6,698.2 L1010.6,691.4 L1017.6,688.0ZM1038.4,691.4 L1038.4,698.2 L1031.4,701.6 L1024.5,698.2 L1024.5,691.4 L1031.4,688.0ZM1052.2,691.4 L1052.2,698.2 L1045.3,701.6 L1038.4,698.2 L1038.4,691.4 L1045.3,688.0ZM1066.1,691.4 L1066.1,698.2 L1059.1,701.6 L1052.2,698.2 L1052.2,691.4 L1059.1,688.0ZM1079.9,691.4 L1079.9,698.2 L1073.0,701.6 L1066.1,698.2 L1066.1,691.4 L1073.0,688.0ZM1093.8,691.4 L1093.8,698.2 L1086.9,701.6 L1079.9,698.2 L1079.9,691.4 L1086.9,688.0ZM1107.6,691.4 L1107.6,698.2 L1100.7,701.6 L1093.8,698.2 L1093.8,691.4 L1100.7,688.0ZM1121.5,691.4 L1121.5,698.2 L1114.6,701.6 L1107.6,698.2 L1107.6,691.4 L1114.6,688.0ZM1135.3,691.4 L1135.3,698.2 L1128.4,701.6 L1121.5,698.2 L1121.5,691.4 L1128.4,688.0ZM1149.2,691.4 L1149.2,698.2 L1142.3,701.6 L1135.3,698.2 L1135.3,691.4 L1142.3,688.0ZM1163.1,691.4 L1163.1,698.2 L1156.1,701.6 L1149.2,698.2 L1149.2,691.4 L1156.1,688.0ZM1176.9,691.4 L1176.9,698.2 L1170.0,701.6 L1163.1,698.2 L1163.1,691.4 L1170.0,688.0ZM1190.8,691.4 L1190.8,698.2 L1183.8,701.6 L1176.9,698.2 L1176.9,691.4 L1183.8,688.0ZM1204.6,691.4 L1204.6,698.2 L1197.7,701.6 L1190.8,698.2 L1190.8,691.4 L1197.7,688.0ZM1218.5,691.4 L1218.5,698.2 L1211.6,701.6 L1204.6,698.2 L1204.6,691.4 L1211.6,688.0ZM1232.3,691.4 L1232.3,698.2 L1225.4,701.6 L1218.5,698.2 L1218.5,691.4 L1225.4,688.0ZM989.9,701.6 L989.9,708.4 L982.9,711.8 L976.0,708.4 L976.0,701.6 L982.9,698.2ZM1003.7,701.6 L1003.7,708.4 L996.8,711.8 L989.9,708.4 L989.9,701.6 L996.8,698.2ZM1017.6,701.6 L1017.6,708.4 L1010.6,711.8 L1003.7,708.4 L1003.7,701.6 L1010.6,698.2ZM1031.4,701.6 L1031.4,708.4 L1024.5,711.8 L1017.6,708.4 L1017.6,701.6 L1024.5,698.2ZM1045.3,701.6 L1045.3,708.4 L1038.4,711.8 L1031.4,708.4 L1031.4,701.6 L1038.4,698.2ZM1059.1,701.6 L1059.1,708.4 L1052.2,711.8 L1045.3,708.4 L1045.3,701.6 L1052.2,698.2ZM1073.0,701.6 L1073.0,708.4 L1066.1,711.8 L1059.1,708.4 L1059.1,701.6 L1066.1,698.2ZM1086.9,701.6 L1086.9,708.4 L1079.9,711.8 L1073.0,708.4 L1073.0,701.6 L1079.9,698.2ZM1100.7,701.6 L1100.7,708.4 L1093.8,711.8 L1086.9,708.4 L1086.9,701.6 L1093.8,698.2ZM1114.6,701.6 L1114.6,708.4 L1107.6,711.8 L1100.7,708.4 L1100.7,701.6 L1107.6,698.2ZM1128.4,701.6 L1128.4,708.4 L1121.5,711.8 L1114.6,708.4 L1114.6,701.6 L1121.5,698.2ZM1142.3,701.6 L1142.3,708.4 L1135.3,711.8 L1128.4,708.4 L1128.4,701.6 L1135.3,698.2ZM1156.1,701.6 L1156.1,708.4 L1149.2,711.8 L1142.3,708.4 L1142.3,701.6 L1149.2,698.2ZM1170.0,701.6 L1170.0,708.4 L1163.1,711.8 L1156.1,708.4 L1156.1,701.6 L1163.1,698.2ZM1183.8,701.6 L1183.8,708.4 L1176.9,711.8 L1170.0,708.4 L1170.0,701.6 L1176.9,698.2ZM1197.7,701.6 L1197.7,708.4 L1190.8,711.8 L1183.8,708.4 L1183.8,701.6 L1190.8,698.2ZM1211.6,701.6 L1211.6,708.4 L1204.6,711.8 L1197.7,708.4 L1197.7,701.6 L1204.6,698.2ZM1225.4,701.6 L1225.4,708.4 L1218.5,711.8 L1211.6,708.4 L1211.6,701.6 L1218.5,698.2ZM1239.3,701.6 L1239.3,708.4 L1232.3,711.8 L1225.4,708.4 L1225.4,701.6 L1232.3,698.2ZM982.9,711.8 L982.9,718.6 L976.0,722.0 L969.1,718.6 L969.1,711.8 L976.0,708.4ZM996.8,711.8 L996.8,718.6 L989.9,722.0 L982.9,718.6 L982.9,711.8 L989.9,708.4ZM1010.6,711.8 L1010.6,718.6 L1003.7,722.0 L996.8,718.6 L996.8,711.8 L1003.7,708.4ZM1024.5,711.8 L1024.5,718.6 L1017.6,722.0 L1010.6,718.6 L1010.6,711.8 L1017.6,708.4ZM1038.4,711.8 L1038.4,718.6 L1031.4,722.0 L1024.5,718.6 L1024.5,711.8 L1031.4,708.4ZM1052.2,711.8 L1052.2,718.6 L1045.3,722.0 L1038.4,718.6 L1038.4,711.8 L1045.3,708.4ZM1066.1,711.8 L1066.1,718.6 L1059.1,722.0 L1052.2,718.6 L1052.2,711.8 L1059.1,708.4ZM1079.9,711.8 L1079.9,718.6 L1073.0,722.0 L1066.1,718.6 L1066.1,711.8 L1073.0,708.4ZM1093.8,711.8 L1093.8,718.6 L1086.9,722.0 L1079.9,718.6 L1079.9,711.8 L1086.9,708.4ZM1107.6,711.8 L1107.6,718.6 L1100.7,722.0 L1093.8,718.6 L1093.8,711.8 L1100.7,708.4ZM1121.5,711.8 L1121.5,718.6 L1114.6,722.0 L1107.6,718.6 L1107.6,711.8 L1114.6,708.4ZM1135.3,711.8 L1135.3,718.6 L1128.4,722.0 L1121.5,718.6 L1121.5,711.8 L1128.4,708.4ZM1149.2,711.8 L1149.2,718.6 L1142.3,722.0 L1135.3,718.6 L1135.3,711.8 L1142.3,708.4ZM1163.1,711.8 L1163.1,718.6 L1156.1,722.0 L1149.2,718.6 L1149.2,711.8 L1156.1,708.4ZM1176.9,711.8 L1176.9,718.6 L1170.0,722.0 L1163.1,718.6 L1163.1,711.8 L1170.0,708.4ZM1190.8,711.8 L1190.8,718.6 L1183.8,722.0 L1176.9,718.6 L1176.9,711.8 L1183.8,708.4ZM1204.6,711.8 L1204.6,718.6 L1197.7,722.0 L1190.8,718.6 L1190.8,711.8 L1197.7,708.4ZM1218.5,711.8 L1218.5,718.6 L1211.6,722.0 L1204.6,718.6 L1204.6,711.8 L1211.6,708.4ZM1232.3,711.8 L1232.3,718.6 L1225.4,722.0 L1218.5,718.6 L1218.5,711.8 L1225.4,708.4ZM989.9,722.0 L989.9,728.8 L982.9,732.2 L976.0,728.8 L976.0,722.0 L982.9,718.6ZM1003.7,722.0 L1003.7,728.8 L996.8,732.2 L989.9,728.8 L989.9,722.0 L996.8,718.6ZM1017.6,722.0 L1017.6,728.8 L1010.6,732.2 L1003.7,728.8 L1003.7,722.0 L1010.6,718.6ZM1031.4,722.0 L1031.4,728.8 L1024.5,732.2 L1017.6,728.8 L1017.6,722.0 L1024.5,718.6ZM1045.3,722.0 L1045.3,728.8 L1038.4,732.2 L1031.4,728.8 L1031.4,722.0 L1038.4,718.6ZM1059.1,722.0 L1059.1,728.8 L1052.2,732.2 L1045.3,728.8 L1045.3,722.0 L1052.2,718.6ZM1073.0,722.0 L1073.0,728.8 L1066.1,732.2 L1059.1,728.8 L1059.1,722.0 L1066.1,718.6ZM1086.9,722.0 L1086.9,728.8 L1079.9,732.2 L1073.0,728.8 L1073.0,722.0 L1079.9,718.6ZM1100.7,722.0 L1100.7,728.8 L1093.8,732.2 L1086.9,728.8 L1086.9,722.0 L1093.8,718.6ZM1114.6,722.0 L1114.6,728.8 L1107.6,732.2 L1100.7,728.8 L1100.7,722.0 L1107.6,718.6ZM1128.4,722.0 L1128.4,728.8 L1121.5,732.2 L1114.6,728.8 L1114.6,722.0 L1121.5,718.6ZM1142.3,722.0 L1142.3,728.8 L1135.3,732.2 L1128.4,728.8 L1128.4,722.0 L1135.3,718.6ZM1156.1,722.0 L1156.1,728.8 L1149.2,732.2 L1142.3,728.8 L1142.3,722.0 L1149.2,718.6ZM1170.0,722.0 L1170.0,728.8 L1163.1,732.2 L1156.1,728.8 L1156.1,722.0 L1163.1,718.6ZM1183.8,722.0 L1183.8,728.8 L1176.9,732.2 L1170.0,728.8 L1170.0,722.0 L1176.9,718.6ZM1197.7,722.0 L1197.7,728.8 L1190.8,732.2 L1183.8,728.8 L1183.8,722.0 L1190.8,718.6ZM1211.6,722.0 L1211.6,728.8 L1204.6,732.2 L1197.7,728.8 L1197.7,722.0 L1204.6,718.6ZM1225.4,722.0 L1225.4,728.8 L1218.5,732.2 L1211.6,728.8 L1211.6,722.0 L1218.5,718.6ZM1239.3,722.0 L1239.3,728.8 L1232.3,732.2 L1225.4,728.8 L1225.4,722.0 L1232.3,718.6ZM982.9,732.2 L982.9,739.0 L976.0,742.4 L969.1,739.0 L969.1,732.2 L976.0,728.8ZM996.8,732.2 L996.8,739.0 L989.9,742.4 L982.9,739.0 L982.9,732.2 L989.9,728.8ZM1010.6,732.2 L1010.6,739.0 L1003.7,742.4 L996.8,739.0 L996.8,732.2 L1003.7,728.8ZM1024.5,732.2 L1024.5,739.0 L1017.6,742.4 L1010.6,739.0 L1010.6,732.2 L1017.6,728.8ZM1038.4,732.2 L1038.4,739.0 L1031.4,742.4 L1024.5,739.0 L1024.5,732.2 L1031.4,728.8ZM1052.2,732.2 L1052.2,739.0 L1045.3,742.4 L1038.4,739.0 L1038.4,732.2 L1045.3,728.8ZM1066.1,732.2 L1066.1,739.0 L1059.1,742.4 L1052.2,739.0 L1052.2,732.2 L1059.1,728.8ZM1079.9,732.2 L1079.9,739.0 L1073.0,742.4 L1066.1,739.0 L1066.1,732.2 L1073.0,728.8ZM1093.8,732.2 L1093.8,739.0 L1086.9,742.4 L1079.9,739.0 L1079.9,732.2 L1086.9,728.8ZM1107.6,732.2 L1107.6,739.0 L1100.7,742.4 L1093.8,739.0 L1093.8,732.2 L1100.7,728.8ZM1121.5,732.2 L1121.5,739.0 L1114.6,742.4 L1107.6,739.0 L1107.6,732.2 L1114.6,728.8ZM1135.3,732.2 L1135.3,739.0 L1128.4,742.4 L1121.5,739.0 L1121.5,732.2 L1128.4,728.8ZM1149.2,732.2 L1149.2,739.0 L1142.3,742.4 L1135.3,739.0 L1135.3,732.2 L1142.3,728.8ZM1163.1,732.2 L1163.1,739.0 L1156.1,742.4 L1149.2,739.0 L1149.2,732.2 L1156.1,728.8ZM1176.9,732.2 L1176.9,739.0 L1170.0,742.4 L1163.1,739.0 L1163.1,732.2 L1170.0,728.8ZM1190.8,732.2 L1190.8,739.0 L1183.8,742.4 L1176.9,739.0 L1176.9,732.2 L1183.8,728.8ZM1204.6,732.2 L1204.6,739.0 L1197.7,742.4 L1190.8,739.0 L1190.8,732.2 L1197.7,728.8ZM1218.5,732.2 L1218.5,739.0 L1211.6,742.4 L1204.6,739.0 L1204.6,732.2 L1211.6,728.8ZM1232.3,732.2 L1232.3,739.0 L1225.4,742.4 L1218.5,739.0 L1218.5,732.2 L1225.4,728.8ZM989.9,742.4 L989.9,749.2 L982.9,752.6 L976.0,749.2 L976.0,742.4 L982.9,739.0ZM1003.7,742.4 L1003.7,749.2 L996.8,752.6 L989.9,749.2 L989.9,742.4 L996.8,739.0ZM1017.6,742.4 L1017.6,749.2 L1010.6,752.6 L1003.7,749.2 L1003.7,742.4 L1010.6,739.0ZM1031.4,742.4 L1031.4,749.2 L1024.5,752.6 L1017.6,749.2 L1017.6,742.4 L1024.5,739.0ZM1045.3,742.4 L1045.3,749.2 L1038.4,752.6 L1031.4,749.2 L1031.4,742.4 L1038.4,739.0ZM1059.1,742.4 L1059.1,749.2 L1052.2,752.6 L1045.3,749.2 L1045.3,742.4 L1052.2,739.0ZM1073.0,742.4 L1073.0,749.2 L1066.1,752.6 L1059.1,749.2 L1059.1,742.4 L1066.1,739.0ZM1086.9,742.4 L1086.9,749.2 L1079.9,752.6 L1073.0,749.2 L1073.0,742.4 L1079.9,739.0ZM1100.7,742.4 L1100.7,749.2 L1093.8,752.6 L1086.9,749.2 L1086.9,742.4 L1093.8,739.0ZM1114.6,742.4 L1114.6,749.2 L1107.6,752.6 L1100.7,749.2 L1100.7,742.4 L1107.6,739.0ZM1128.4,742.4 L1128.4,749.2 L1121.5,752.6 L1114.6,749.2 L1114.6,742.4 L1121.5,739.0ZM1142.3,742.4 L1142.3,749.2 L1135.3,752.6 L1128.4,749.2 L1128.4,742.4 L1135.3,739.0ZM1156.1,742.4 L1156.1,749.2 L1149.2,752.6 L1142.3,749.2 L1142.3,742.4 L1149.2,739.0ZM1170.0,742.4 L1170.0,749.2 L1163.1,752.6 L1156.1,749.2 L1156.1,742.4 L1163.1,739.0ZM1183.8,742.4 L1183.8,749.2 L1176.9,752.6 L1170.0,749.2 L1170.0,742.4 L1176.9,739.0ZM1197.7,742.4 L1197.7,749.2 L1190.8,752.6 L1183.8,749.2 L1183.8,742.4 L1190.8,739.0ZM1211.6,742.4 L1211.6,749.2 L1204.6,752.6 L1197.7,749.2 L1197.7,742.4 L1204.6,739.0ZM1225.4,742.4 L1225.4,749.2 L1218.5,752.6 L1211.6,749.2 L1211.6,742.4 L1218.5,739.0ZM1239.3,742.4 L1239.3,749.2 L1232.3,752.6 L1225.4,749.2 L1225.4,742.4 L1232.3,739.0ZM982.9,752.6 L982.9,759.4 L976.0,762.8 L969.1,759.4 L969.1,752.6 L976.0,749.2ZM996.8,752.6 L996.8,759.4 L989.9,762.8 L982.9,759.4 L982.9,752.6 L989.9,749.2ZM1010.6,752.6 L1010.6,759.4 L1003.7,762.8 L996.8,759.4 L996.8,752.6 L1003.7,749.2ZM1024.5,752.6 L1024.5,759.4 L1017.6,762.8 L1010.6,759.4 L1010.6,752.6 L1017.6,749.2ZM1038.4,752.6 L1038.4,759.4 L1031.4,762.8 L1024.5,759.4 L1024.5,752.6 L1031.4,749.2ZM1052.2,752.6 L1052.2,759.4 L1045.3,762.8 L1038.4,759.4 L1038.4,752.6 L1045.3,749.2ZM1066.1,752.6 L1066.1,759.4 L1059.1,762.8 L1052.2,759.4 L1052.2,752.6 L1059.1,749.2ZM1079.9,752.6 L1079.9,759.4 L1073.0,762.8 L1066.1,759.4 L1066.1,752.6 L1073.0,749.2ZM1093.8,752.6 L1093.8,759.4 L1086.9,762.8 L1079.9,759.4 L1079.9,752.6 L1086.9,749.2ZM1107.6,752.6 L1107.6,759.4 L1100.7,762.8 L1093.8,759.4 L1093.8,752.6 L1100.7,749.2ZM1121.5,752.6 L1121.5,759.4 L1114.6,762.8 L1107.6,759.4 L1107.6,752.6 L1114.6,749.2ZM1135.3,752.6 L1135.3,759.4 L1128.4,762.8 L1121.5,759.4 L1121.5,752.6 L1128.4,749.2ZM1149.2,752.6 L1149.2,759.4 L1142.3,762.8 L1135.3,759.4 L1135.3,752.6 L1142.3,749.2ZM1163.1,752.6 L1163.1,759.4 L1156.1,762.8 L1149.2,759.4 L1149.2,752.6 L1156.1,749.2ZM1176.9,752.6 L1176.9,759.4 L1170.0,762.8 L1163.1,759.4 L1163.1,752.6 L1170.0,749.2ZM1190.8,752.6 L1190.8,759.4 L1183.8,762.8 L1176.9,759.4 L1176.9,752.6 L1183.8,749.2ZM1204.6,752.6 L1204.6,759.4 L1197.7,762.8 L1190.8,759.4 L1190.8,752.6 L1197.7,749.2ZM1218.5,752.6 L1218.5,759.4 L1211.6,762.8 L1204.6,759.4 L1204.6,752.6 L1211.6,749.2ZM1232.3,752.6 L1232.3,759.4 L1225.4,762.8 L1218.5,759.4 L1218.5,752.6 L1225.4,749.2ZM989.9,762.8 L989.9,769.6 L982.9,773.0 L976.0,769.6 L976.0,762.8 L982.9,759.4ZM1003.7,762.8 L1003.7,769.6 L996.8,773.0 L989.9,769.6 L989.9,762.8 L996.8,759.4ZM1017.6,762.8 L1017.6,769.6 L1010.6,773.0 L1003.7,769.6 L1003.7,762.8 L1010.6,759.4ZM1031.4,762.8 L1031.4,769.6 L1024.5,773.0 L1017.6,769.6 L1017.6,762.8 L1024.5,759.4ZM1045.3,762.8 L1045.3,769.6 L1038.4,773.0 L1031.4,769.6 L1031.4,762.8 L1038.4,759.4ZM1059.1,762.8 L1059.1,769.6 L1052.2,773.0 L1045.3,769.6 L1045.3,762.8 L1052.2,759.4ZM1073.0,762.8 L1073.0,769.6 L1066.1,773.0 L1059.1,769.6 L1059.1,762.8 L1066.1,759.4ZM1086.9,762.8 L1086.9,769.6 L1079.9,773.0 L1073.0,769.6 L1073.0,762.8 L1079.9,759.4ZM1100.7,762.8 L1100.7,769.6 L1093.8,773.0 L1086.9,769.6 L1086.9,762.8 L1093.8,759.4ZM1114.6,762.8 L1114.6,769.6 L1107.6,773.0 L1100.7,769.6 L1100.7,762.8 L1107.6,759.4ZM1128.4,762.8 L1128.4,769.6 L1121.5,773.0 L1114.6,769.6 L1114.6,762.8 L1121.5,759.4ZM1142.3,762.8 L1142.3,769.6 L1135.3,773.0 L1128.4,769.6 L1128.4,762.8 L1135.3,759.4ZM1156.1,762.8 L1156.1,769.6 L1149.2,773.0 L1142.3,769.6 L1142.3,762.8 L1149.2,759.4ZM1170.0,762.8 L1170.0,769.6 L1163.1,773.0 L1156.1,769.6 L1156.1,762.8 L1163.1,759.4ZM1183.8,762.8 L1183.8,769.6 L1176.9,773.0 L1170.0,769.6 L1170.0,762.8 L1176.9,759.4ZM1197.7,762.8 L1197.7,769.6 L1190.8,773.0 L1183.8,769.6 L1183.8,762.8 L1190.8,759.4ZM1211.6,762.8 L1211.6,769.6 L1204.6,773.0 L1197.7,769.6 L1197.7,762.8 L1204.6,759.4ZM1225.4,762.8 L1225.4,769.6 L1218.5,773.0 L1211.6,769.6 L1211.6,762.8 L1218.5,759.4ZM1239.3,762.8 L1239.3,769.6 L1232.3,773.0 L1225.4,769.6 L1225.4,762.8 L1232.3,759.4Z" stroke="#c0703a" stroke-width="1.2" fill="none" opacity="0.6"/></g><clipPath id="cnt2"><ellipse cx="1049" cy="664" rx="64" ry="81" transform="rotate(-12 1049 664)"/></clipPath><g clip-path="url(#cnt2)"><rect x="960" y="560" width="180" height="200" fill="#a88c9c"/><path d="M965.2,567.0 L965.2,573.0 L960.0,576.0 L954.8,573.0 L954.8,567.0 L960.0,564.0ZM975.6,567.0 L975.6,573.0 L970.4,576.0 L965.2,573.0 L965.2,567.0 L970.4,564.0ZM986.0,567.0 L986.0,573.0 L980.8,576.0 L975.6,573.0 L975.6,567.0 L980.8,564.0ZM996.4,567.0 L996.4,573.0 L991.2,576.0 L986.0,573.0 L986.0,567.0 L991.2,564.0ZM1006.8,567.0 L1006.8,573.0 L1001.6,576.0 L996.4,573.0 L996.4,567.0 L1001.6,564.0ZM1017.2,567.0 L1017.2,573.0 L1012.0,576.0 L1006.8,573.0 L1006.8,567.0 L1012.0,564.0ZM1027.5,567.0 L1027.5,573.0 L1022.4,576.0 L1017.2,573.0 L1017.2,567.0 L1022.4,564.0ZM1037.9,567.0 L1037.9,573.0 L1032.7,576.0 L1027.5,573.0 L1027.5,567.0 L1032.7,564.0ZM1048.3,567.0 L1048.3,573.0 L1043.1,576.0 L1037.9,573.0 L1037.9,567.0 L1043.1,564.0ZM1058.7,567.0 L1058.7,573.0 L1053.5,576.0 L1048.3,573.0 L1048.3,567.0 L1053.5,564.0ZM1069.1,567.0 L1069.1,573.0 L1063.9,576.0 L1058.7,573.0 L1058.7,567.0 L1063.9,564.0ZM1079.5,567.0 L1079.5,573.0 L1074.3,576.0 L1069.1,573.0 L1069.1,567.0 L1074.3,564.0ZM1089.9,567.0 L1089.9,573.0 L1084.7,576.0 L1079.5,573.0 L1079.5,567.0 L1084.7,564.0ZM1100.3,567.0 L1100.3,573.0 L1095.1,576.0 L1089.9,573.0 L1089.9,567.0 L1095.1,564.0ZM1110.7,567.0 L1110.7,573.0 L1105.5,576.0 L1100.3,573.0 L1100.3,567.0 L1105.5,564.0ZM1121.1,567.0 L1121.1,573.0 L1115.9,576.0 L1110.7,573.0 L1110.7,567.0 L1115.9,564.0ZM1131.5,567.0 L1131.5,573.0 L1126.3,576.0 L1121.1,573.0 L1121.1,567.0 L1126.3,564.0ZM970.4,576.0 L970.4,582.0 L965.2,585.0 L960.0,582.0 L960.0,576.0 L965.2,573.0ZM980.8,576.0 L980.8,582.0 L975.6,585.0 L970.4,582.0 L970.4,576.0 L975.6,573.0ZM991.2,576.0 L991.2,582.0 L986.0,585.0 L980.8,582.0 L980.8,576.0 L986.0,573.0ZM1001.6,576.0 L1001.6,582.0 L996.4,585.0 L991.2,582.0 L991.2,576.0 L996.4,573.0ZM1012.0,576.0 L1012.0,582.0 L1006.8,585.0 L1001.6,582.0 L1001.6,576.0 L1006.8,573.0ZM1022.4,576.0 L1022.4,582.0 L1017.2,585.0 L1012.0,582.0 L1012.0,576.0 L1017.2,573.0ZM1032.7,576.0 L1032.7,582.0 L1027.5,585.0 L1022.4,582.0 L1022.4,576.0 L1027.5,573.0ZM1043.1,576.0 L1043.1,582.0 L1037.9,585.0 L1032.7,582.0 L1032.7,576.0 L1037.9,573.0ZM1053.5,576.0 L1053.5,582.0 L1048.3,585.0 L1043.1,582.0 L1043.1,576.0 L1048.3,573.0ZM1063.9,576.0 L1063.9,582.0 L1058.7,585.0 L1053.5,582.0 L1053.5,576.0 L1058.7,573.0ZM1074.3,576.0 L1074.3,582.0 L1069.1,585.0 L1063.9,582.0 L1063.9,576.0 L1069.1,573.0ZM1084.7,576.0 L1084.7,582.0 L1079.5,585.0 L1074.3,582.0 L1074.3,576.0 L1079.5,573.0ZM1095.1,576.0 L1095.1,582.0 L1089.9,585.0 L1084.7,582.0 L1084.7,576.0 L1089.9,573.0ZM1105.5,576.0 L1105.5,582.0 L1100.3,585.0 L1095.1,582.0 L1095.1,576.0 L1100.3,573.0ZM1115.9,576.0 L1115.9,582.0 L1110.7,585.0 L1105.5,582.0 L1105.5,576.0 L1110.7,573.0ZM1126.3,576.0 L1126.3,582.0 L1121.1,585.0 L1115.9,582.0 L1115.9,576.0 L1121.1,573.0ZM1136.7,576.0 L1136.7,582.0 L1131.5,585.0 L1126.3,582.0 L1126.3,576.0 L1131.5,573.0ZM965.2,585.0 L965.2,591.0 L960.0,594.0 L954.8,591.0 L954.8,585.0 L960.0,582.0ZM975.6,585.0 L975.6,591.0 L970.4,594.0 L965.2,591.0 L965.2,585.0 L970.4,582.0ZM986.0,585.0 L986.0,591.0 L980.8,594.0 L975.6,591.0 L975.6,585.0 L980.8,582.0ZM996.4,585.0 L996.4,591.0 L991.2,594.0 L986.0,591.0 L986.0,585.0 L991.2,582.0ZM1006.8,585.0 L1006.8,591.0 L1001.6,594.0 L996.4,591.0 L996.4,585.0 L1001.6,582.0ZM1017.2,585.0 L1017.2,591.0 L1012.0,594.0 L1006.8,591.0 L1006.8,585.0 L1012.0,582.0ZM1027.5,585.0 L1027.5,591.0 L1022.4,594.0 L1017.2,591.0 L1017.2,585.0 L1022.4,582.0ZM1037.9,585.0 L1037.9,591.0 L1032.7,594.0 L1027.5,591.0 L1027.5,585.0 L1032.7,582.0ZM1048.3,585.0 L1048.3,591.0 L1043.1,594.0 L1037.9,591.0 L1037.9,585.0 L1043.1,582.0ZM1058.7,585.0 L1058.7,591.0 L1053.5,594.0 L1048.3,591.0 L1048.3,585.0 L1053.5,582.0ZM1069.1,585.0 L1069.1,591.0 L1063.9,594.0 L1058.7,591.0 L1058.7,585.0 L1063.9,582.0ZM1079.5,585.0 L1079.5,591.0 L1074.3,594.0 L1069.1,591.0 L1069.1,585.0 L1074.3,582.0ZM1089.9,585.0 L1089.9,591.0 L1084.7,594.0 L1079.5,591.0 L1079.5,585.0 L1084.7,582.0ZM1100.3,585.0 L1100.3,591.0 L1095.1,594.0 L1089.9,591.0 L1089.9,585.0 L1095.1,582.0ZM1110.7,585.0 L1110.7,591.0 L1105.5,594.0 L1100.3,591.0 L1100.3,585.0 L1105.5,582.0ZM1121.1,585.0 L1121.1,591.0 L1115.9,594.0 L1110.7,591.0 L1110.7,585.0 L1115.9,582.0ZM1131.5,585.0 L1131.5,591.0 L1126.3,594.0 L1121.1,591.0 L1121.1,585.0 L1126.3,582.0ZM970.4,594.0 L970.4,600.0 L965.2,603.0 L960.0,600.0 L960.0,594.0 L965.2,591.0ZM980.8,594.0 L980.8,600.0 L975.6,603.0 L970.4,600.0 L970.4,594.0 L975.6,591.0ZM991.2,594.0 L991.2,600.0 L986.0,603.0 L980.8,600.0 L980.8,594.0 L986.0,591.0ZM1001.6,594.0 L1001.6,600.0 L996.4,603.0 L991.2,600.0 L991.2,594.0 L996.4,591.0ZM1012.0,594.0 L1012.0,600.0 L1006.8,603.0 L1001.6,600.0 L1001.6,594.0 L1006.8,591.0ZM1022.4,594.0 L1022.4,600.0 L1017.2,603.0 L1012.0,600.0 L1012.0,594.0 L1017.2,591.0ZM1032.7,594.0 L1032.7,600.0 L1027.5,603.0 L1022.4,600.0 L1022.4,594.0 L1027.5,591.0ZM1043.1,594.0 L1043.1,600.0 L1037.9,603.0 L1032.7,600.0 L1032.7,594.0 L1037.9,591.0ZM1053.5,594.0 L1053.5,600.0 L1048.3,603.0 L1043.1,600.0 L1043.1,594.0 L1048.3,591.0ZM1063.9,594.0 L1063.9,600.0 L1058.7,603.0 L1053.5,600.0 L1053.5,594.0 L1058.7,591.0ZM1074.3,594.0 L1074.3,600.0 L1069.1,603.0 L1063.9,600.0 L1063.9,594.0 L1069.1,591.0ZM1084.7,594.0 L1084.7,600.0 L1079.5,603.0 L1074.3,600.0 L1074.3,594.0 L1079.5,591.0ZM1095.1,594.0 L1095.1,600.0 L1089.9,603.0 L1084.7,600.0 L1084.7,594.0 L1089.9,591.0ZM1105.5,594.0 L1105.5,600.0 L1100.3,603.0 L1095.1,600.0 L1095.1,594.0 L1100.3,591.0ZM1115.9,594.0 L1115.9,600.0 L1110.7,603.0 L1105.5,600.0 L1105.5,594.0 L1110.7,591.0ZM1126.3,594.0 L1126.3,600.0 L1121.1,603.0 L1115.9,600.0 L1115.9,594.0 L1121.1,591.0ZM1136.7,594.0 L1136.7,600.0 L1131.5,603.0 L1126.3,600.0 L1126.3,594.0 L1131.5,591.0ZM965.2,603.0 L965.2,609.0 L960.0,612.0 L954.8,609.0 L954.8,603.0 L960.0,600.0ZM975.6,603.0 L975.6,609.0 L970.4,612.0 L965.2,609.0 L965.2,603.0 L970.4,600.0ZM986.0,603.0 L986.0,609.0 L980.8,612.0 L975.6,609.0 L975.6,603.0 L980.8,600.0ZM996.4,603.0 L996.4,609.0 L991.2,612.0 L986.0,609.0 L986.0,603.0 L991.2,600.0ZM1006.8,603.0 L1006.8,609.0 L1001.6,612.0 L996.4,609.0 L996.4,603.0 L1001.6,600.0ZM1017.2,603.0 L1017.2,609.0 L1012.0,612.0 L1006.8,609.0 L1006.8,603.0 L1012.0,600.0ZM1027.5,603.0 L1027.5,609.0 L1022.4,612.0 L1017.2,609.0 L1017.2,603.0 L1022.4,600.0ZM1037.9,603.0 L1037.9,609.0 L1032.7,612.0 L1027.5,609.0 L1027.5,603.0 L1032.7,600.0ZM1048.3,603.0 L1048.3,609.0 L1043.1,612.0 L1037.9,609.0 L1037.9,603.0 L1043.1,600.0ZM1058.7,603.0 L1058.7,609.0 L1053.5,612.0 L1048.3,609.0 L1048.3,603.0 L1053.5,600.0ZM1069.1,603.0 L1069.1,609.0 L1063.9,612.0 L1058.7,609.0 L1058.7,603.0 L1063.9,600.0ZM1079.5,603.0 L1079.5,609.0 L1074.3,612.0 L1069.1,609.0 L1069.1,603.0 L1074.3,600.0ZM1089.9,603.0 L1089.9,609.0 L1084.7,612.0 L1079.5,609.0 L1079.5,603.0 L1084.7,600.0ZM1100.3,603.0 L1100.3,609.0 L1095.1,612.0 L1089.9,609.0 L1089.9,603.0 L1095.1,600.0ZM1110.7,603.0 L1110.7,609.0 L1105.5,612.0 L1100.3,609.0 L1100.3,603.0 L1105.5,600.0ZM1121.1,603.0 L1121.1,609.0 L1115.9,612.0 L1110.7,609.0 L1110.7,603.0 L1115.9,600.0ZM1131.5,603.0 L1131.5,609.0 L1126.3,612.0 L1121.1,609.0 L1121.1,603.0 L1126.3,600.0ZM970.4,612.0 L970.4,618.0 L965.2,621.0 L960.0,618.0 L960.0,612.0 L965.2,609.0ZM980.8,612.0 L980.8,618.0 L975.6,621.0 L970.4,618.0 L970.4,612.0 L975.6,609.0ZM991.2,612.0 L991.2,618.0 L986.0,621.0 L980.8,618.0 L980.8,612.0 L986.0,609.0ZM1001.6,612.0 L1001.6,618.0 L996.4,621.0 L991.2,618.0 L991.2,612.0 L996.4,609.0ZM1012.0,612.0 L1012.0,618.0 L1006.8,621.0 L1001.6,618.0 L1001.6,612.0 L1006.8,609.0ZM1022.4,612.0 L1022.4,618.0 L1017.2,621.0 L1012.0,618.0 L1012.0,612.0 L1017.2,609.0ZM1032.7,612.0 L1032.7,618.0 L1027.5,621.0 L1022.4,618.0 L1022.4,612.0 L1027.5,609.0ZM1043.1,612.0 L1043.1,618.0 L1037.9,621.0 L1032.7,618.0 L1032.7,612.0 L1037.9,609.0ZM1053.5,612.0 L1053.5,618.0 L1048.3,621.0 L1043.1,618.0 L1043.1,612.0 L1048.3,609.0ZM1063.9,612.0 L1063.9,618.0 L1058.7,621.0 L1053.5,618.0 L1053.5,612.0 L1058.7,609.0ZM1074.3,612.0 L1074.3,618.0 L1069.1,621.0 L1063.9,618.0 L1063.9,612.0 L1069.1,609.0ZM1084.7,612.0 L1084.7,618.0 L1079.5,621.0 L1074.3,618.0 L1074.3,612.0 L1079.5,609.0ZM1095.1,612.0 L1095.1,618.0 L1089.9,621.0 L1084.7,618.0 L1084.7,612.0 L1089.9,609.0ZM1105.5,612.0 L1105.5,618.0 L1100.3,621.0 L1095.1,618.0 L1095.1,612.0 L1100.3,609.0ZM1115.9,612.0 L1115.9,618.0 L1110.7,621.0 L1105.5,618.0 L1105.5,612.0 L1110.7,609.0ZM1126.3,612.0 L1126.3,618.0 L1121.1,621.0 L1115.9,618.0 L1115.9,612.0 L1121.1,609.0ZM1136.7,612.0 L1136.7,618.0 L1131.5,621.0 L1126.3,618.0 L1126.3,612.0 L1131.5,609.0ZM965.2,621.0 L965.2,627.0 L960.0,630.0 L954.8,627.0 L954.8,621.0 L960.0,618.0ZM975.6,621.0 L975.6,627.0 L970.4,630.0 L965.2,627.0 L965.2,621.0 L970.4,618.0ZM986.0,621.0 L986.0,627.0 L980.8,630.0 L975.6,627.0 L975.6,621.0 L980.8,618.0ZM996.4,621.0 L996.4,627.0 L991.2,630.0 L986.0,627.0 L986.0,621.0 L991.2,618.0ZM1006.8,621.0 L1006.8,627.0 L1001.6,630.0 L996.4,627.0 L996.4,621.0 L1001.6,618.0ZM1017.2,621.0 L1017.2,627.0 L1012.0,630.0 L1006.8,627.0 L1006.8,621.0 L1012.0,618.0ZM1027.5,621.0 L1027.5,627.0 L1022.4,630.0 L1017.2,627.0 L1017.2,621.0 L1022.4,618.0ZM1037.9,621.0 L1037.9,627.0 L1032.7,630.0 L1027.5,627.0 L1027.5,621.0 L1032.7,618.0ZM1048.3,621.0 L1048.3,627.0 L1043.1,630.0 L1037.9,627.0 L1037.9,621.0 L1043.1,618.0ZM1058.7,621.0 L1058.7,627.0 L1053.5,630.0 L1048.3,627.0 L1048.3,621.0 L1053.5,618.0ZM1069.1,621.0 L1069.1,627.0 L1063.9,630.0 L1058.7,627.0 L1058.7,621.0 L1063.9,618.0ZM1079.5,621.0 L1079.5,627.0 L1074.3,630.0 L1069.1,627.0 L1069.1,621.0 L1074.3,618.0ZM1089.9,621.0 L1089.9,627.0 L1084.7,630.0 L1079.5,627.0 L1079.5,621.0 L1084.7,618.0ZM1100.3,621.0 L1100.3,627.0 L1095.1,630.0 L1089.9,627.0 L1089.9,621.0 L1095.1,618.0ZM1110.7,621.0 L1110.7,627.0 L1105.5,630.0 L1100.3,627.0 L1100.3,621.0 L1105.5,618.0ZM1121.1,621.0 L1121.1,627.0 L1115.9,630.0 L1110.7,627.0 L1110.7,621.0 L1115.9,618.0ZM1131.5,621.0 L1131.5,627.0 L1126.3,630.0 L1121.1,627.0 L1121.1,621.0 L1126.3,618.0ZM970.4,630.0 L970.4,636.0 L965.2,639.0 L960.0,636.0 L960.0,630.0 L965.2,627.0ZM980.8,630.0 L980.8,636.0 L975.6,639.0 L970.4,636.0 L970.4,630.0 L975.6,627.0ZM991.2,630.0 L991.2,636.0 L986.0,639.0 L980.8,636.0 L980.8,630.0 L986.0,627.0ZM1001.6,630.0 L1001.6,636.0 L996.4,639.0 L991.2,636.0 L991.2,630.0 L996.4,627.0ZM1012.0,630.0 L1012.0,636.0 L1006.8,639.0 L1001.6,636.0 L1001.6,630.0 L1006.8,627.0ZM1022.4,630.0 L1022.4,636.0 L1017.2,639.0 L1012.0,636.0 L1012.0,630.0 L1017.2,627.0ZM1032.7,630.0 L1032.7,636.0 L1027.5,639.0 L1022.4,636.0 L1022.4,630.0 L1027.5,627.0ZM1043.1,630.0 L1043.1,636.0 L1037.9,639.0 L1032.7,636.0 L1032.7,630.0 L1037.9,627.0ZM1053.5,630.0 L1053.5,636.0 L1048.3,639.0 L1043.1,636.0 L1043.1,630.0 L1048.3,627.0ZM1063.9,630.0 L1063.9,636.0 L1058.7,639.0 L1053.5,636.0 L1053.5,630.0 L1058.7,627.0ZM1074.3,630.0 L1074.3,636.0 L1069.1,639.0 L1063.9,636.0 L1063.9,630.0 L1069.1,627.0ZM1084.7,630.0 L1084.7,636.0 L1079.5,639.0 L1074.3,636.0 L1074.3,630.0 L1079.5,627.0ZM1095.1,630.0 L1095.1,636.0 L1089.9,639.0 L1084.7,636.0 L1084.7,630.0 L1089.9,627.0ZM1105.5,630.0 L1105.5,636.0 L1100.3,639.0 L1095.1,636.0 L1095.1,630.0 L1100.3,627.0ZM1115.9,630.0 L1115.9,636.0 L1110.7,639.0 L1105.5,636.0 L1105.5,630.0 L1110.7,627.0ZM1126.3,630.0 L1126.3,636.0 L1121.1,639.0 L1115.9,636.0 L1115.9,630.0 L1121.1,627.0ZM1136.7,630.0 L1136.7,636.0 L1131.5,639.0 L1126.3,636.0 L1126.3,630.0 L1131.5,627.0ZM965.2,639.0 L965.2,645.0 L960.0,648.0 L954.8,645.0 L954.8,639.0 L960.0,636.0ZM975.6,639.0 L975.6,645.0 L970.4,648.0 L965.2,645.0 L965.2,639.0 L970.4,636.0ZM986.0,639.0 L986.0,645.0 L980.8,648.0 L975.6,645.0 L975.6,639.0 L980.8,636.0ZM996.4,639.0 L996.4,645.0 L991.2,648.0 L986.0,645.0 L986.0,639.0 L991.2,636.0ZM1006.8,639.0 L1006.8,645.0 L1001.6,648.0 L996.4,645.0 L996.4,639.0 L1001.6,636.0ZM1017.2,639.0 L1017.2,645.0 L1012.0,648.0 L1006.8,645.0 L1006.8,639.0 L1012.0,636.0ZM1027.5,639.0 L1027.5,645.0 L1022.4,648.0 L1017.2,645.0 L1017.2,639.0 L1022.4,636.0ZM1037.9,639.0 L1037.9,645.0 L1032.7,648.0 L1027.5,645.0 L1027.5,639.0 L1032.7,636.0ZM1048.3,639.0 L1048.3,645.0 L1043.1,648.0 L1037.9,645.0 L1037.9,639.0 L1043.1,636.0ZM1058.7,639.0 L1058.7,645.0 L1053.5,648.0 L1048.3,645.0 L1048.3,639.0 L1053.5,636.0ZM1069.1,639.0 L1069.1,645.0 L1063.9,648.0 L1058.7,645.0 L1058.7,639.0 L1063.9,636.0ZM1079.5,639.0 L1079.5,645.0 L1074.3,648.0 L1069.1,645.0 L1069.1,639.0 L1074.3,636.0ZM1089.9,639.0 L1089.9,645.0 L1084.7,648.0 L1079.5,645.0 L1079.5,639.0 L1084.7,636.0ZM1100.3,639.0 L1100.3,645.0 L1095.1,648.0 L1089.9,645.0 L1089.9,639.0 L1095.1,636.0ZM1110.7,639.0 L1110.7,645.0 L1105.5,648.0 L1100.3,645.0 L1100.3,639.0 L1105.5,636.0ZM1121.1,639.0 L1121.1,645.0 L1115.9,648.0 L1110.7,645.0 L1110.7,639.0 L1115.9,636.0ZM1131.5,639.0 L1131.5,645.0 L1126.3,648.0 L1121.1,645.0 L1121.1,639.0 L1126.3,636.0ZM970.4,648.0 L970.4,654.0 L965.2,657.0 L960.0,654.0 L960.0,648.0 L965.2,645.0ZM980.8,648.0 L980.8,654.0 L975.6,657.0 L970.4,654.0 L970.4,648.0 L975.6,645.0ZM991.2,648.0 L991.2,654.0 L986.0,657.0 L980.8,654.0 L980.8,648.0 L986.0,645.0ZM1001.6,648.0 L1001.6,654.0 L996.4,657.0 L991.2,654.0 L991.2,648.0 L996.4,645.0ZM1012.0,648.0 L1012.0,654.0 L1006.8,657.0 L1001.6,654.0 L1001.6,648.0 L1006.8,645.0ZM1022.4,648.0 L1022.4,654.0 L1017.2,657.0 L1012.0,654.0 L1012.0,648.0 L1017.2,645.0ZM1032.7,648.0 L1032.7,654.0 L1027.5,657.0 L1022.4,654.0 L1022.4,648.0 L1027.5,645.0ZM1043.1,648.0 L1043.1,654.0 L1037.9,657.0 L1032.7,654.0 L1032.7,648.0 L1037.9,645.0ZM1053.5,648.0 L1053.5,654.0 L1048.3,657.0 L1043.1,654.0 L1043.1,648.0 L1048.3,645.0ZM1063.9,648.0 L1063.9,654.0 L1058.7,657.0 L1053.5,654.0 L1053.5,648.0 L1058.7,645.0ZM1074.3,648.0 L1074.3,654.0 L1069.1,657.0 L1063.9,654.0 L1063.9,648.0 L1069.1,645.0ZM1084.7,648.0 L1084.7,654.0 L1079.5,657.0 L1074.3,654.0 L1074.3,648.0 L1079.5,645.0ZM1095.1,648.0 L1095.1,654.0 L1089.9,657.0 L1084.7,654.0 L1084.7,648.0 L1089.9,645.0ZM1105.5,648.0 L1105.5,654.0 L1100.3,657.0 L1095.1,654.0 L1095.1,648.0 L1100.3,645.0ZM1115.9,648.0 L1115.9,654.0 L1110.7,657.0 L1105.5,654.0 L1105.5,648.0 L1110.7,645.0ZM1126.3,648.0 L1126.3,654.0 L1121.1,657.0 L1115.9,654.0 L1115.9,648.0 L1121.1,645.0ZM1136.7,648.0 L1136.7,654.0 L1131.5,657.0 L1126.3,654.0 L1126.3,648.0 L1131.5,645.0ZM965.2,657.0 L965.2,663.0 L960.0,666.0 L954.8,663.0 L954.8,657.0 L960.0,654.0ZM975.6,657.0 L975.6,663.0 L970.4,666.0 L965.2,663.0 L965.2,657.0 L970.4,654.0ZM986.0,657.0 L986.0,663.0 L980.8,666.0 L975.6,663.0 L975.6,657.0 L980.8,654.0ZM996.4,657.0 L996.4,663.0 L991.2,666.0 L986.0,663.0 L986.0,657.0 L991.2,654.0ZM1006.8,657.0 L1006.8,663.0 L1001.6,666.0 L996.4,663.0 L996.4,657.0 L1001.6,654.0ZM1017.2,657.0 L1017.2,663.0 L1012.0,666.0 L1006.8,663.0 L1006.8,657.0 L1012.0,654.0ZM1027.5,657.0 L1027.5,663.0 L1022.4,666.0 L1017.2,663.0 L1017.2,657.0 L1022.4,654.0ZM1037.9,657.0 L1037.9,663.0 L1032.7,666.0 L1027.5,663.0 L1027.5,657.0 L1032.7,654.0ZM1048.3,657.0 L1048.3,663.0 L1043.1,666.0 L1037.9,663.0 L1037.9,657.0 L1043.1,654.0ZM1058.7,657.0 L1058.7,663.0 L1053.5,666.0 L1048.3,663.0 L1048.3,657.0 L1053.5,654.0ZM1069.1,657.0 L1069.1,663.0 L1063.9,666.0 L1058.7,663.0 L1058.7,657.0 L1063.9,654.0ZM1079.5,657.0 L1079.5,663.0 L1074.3,666.0 L1069.1,663.0 L1069.1,657.0 L1074.3,654.0ZM1089.9,657.0 L1089.9,663.0 L1084.7,666.0 L1079.5,663.0 L1079.5,657.0 L1084.7,654.0ZM1100.3,657.0 L1100.3,663.0 L1095.1,666.0 L1089.9,663.0 L1089.9,657.0 L1095.1,654.0ZM1110.7,657.0 L1110.7,663.0 L1105.5,666.0 L1100.3,663.0 L1100.3,657.0 L1105.5,654.0ZM1121.1,657.0 L1121.1,663.0 L1115.9,666.0 L1110.7,663.0 L1110.7,657.0 L1115.9,654.0ZM1131.5,657.0 L1131.5,663.0 L1126.3,666.0 L1121.1,663.0 L1121.1,657.0 L1126.3,654.0ZM970.4,666.0 L970.4,672.0 L965.2,675.0 L960.0,672.0 L960.0,666.0 L965.2,663.0ZM980.8,666.0 L980.8,672.0 L975.6,675.0 L970.4,672.0 L970.4,666.0 L975.6,663.0ZM991.2,666.0 L991.2,672.0 L986.0,675.0 L980.8,672.0 L980.8,666.0 L986.0,663.0ZM1001.6,666.0 L1001.6,672.0 L996.4,675.0 L991.2,672.0 L991.2,666.0 L996.4,663.0ZM1012.0,666.0 L1012.0,672.0 L1006.8,675.0 L1001.6,672.0 L1001.6,666.0 L1006.8,663.0ZM1022.4,666.0 L1022.4,672.0 L1017.2,675.0 L1012.0,672.0 L1012.0,666.0 L1017.2,663.0ZM1032.7,666.0 L1032.7,672.0 L1027.5,675.0 L1022.4,672.0 L1022.4,666.0 L1027.5,663.0ZM1043.1,666.0 L1043.1,672.0 L1037.9,675.0 L1032.7,672.0 L1032.7,666.0 L1037.9,663.0ZM1053.5,666.0 L1053.5,672.0 L1048.3,675.0 L1043.1,672.0 L1043.1,666.0 L1048.3,663.0ZM1063.9,666.0 L1063.9,672.0 L1058.7,675.0 L1053.5,672.0 L1053.5,666.0 L1058.7,663.0ZM1074.3,666.0 L1074.3,672.0 L1069.1,675.0 L1063.9,672.0 L1063.9,666.0 L1069.1,663.0ZM1084.7,666.0 L1084.7,672.0 L1079.5,675.0 L1074.3,672.0 L1074.3,666.0 L1079.5,663.0ZM1095.1,666.0 L1095.1,672.0 L1089.9,675.0 L1084.7,672.0 L1084.7,666.0 L1089.9,663.0ZM1105.5,666.0 L1105.5,672.0 L1100.3,675.0 L1095.1,672.0 L1095.1,666.0 L1100.3,663.0ZM1115.9,666.0 L1115.9,672.0 L1110.7,675.0 L1105.5,672.0 L1105.5,666.0 L1110.7,663.0ZM1126.3,666.0 L1126.3,672.0 L1121.1,675.0 L1115.9,672.0 L1115.9,666.0 L1121.1,663.0ZM1136.7,666.0 L1136.7,672.0 L1131.5,675.0 L1126.3,672.0 L1126.3,666.0 L1131.5,663.0ZM965.2,675.0 L965.2,681.0 L960.0,684.0 L954.8,681.0 L954.8,675.0 L960.0,672.0ZM975.6,675.0 L975.6,681.0 L970.4,684.0 L965.2,681.0 L965.2,675.0 L970.4,672.0ZM986.0,675.0 L986.0,681.0 L980.8,684.0 L975.6,681.0 L975.6,675.0 L980.8,672.0ZM996.4,675.0 L996.4,681.0 L991.2,684.0 L986.0,681.0 L986.0,675.0 L991.2,672.0ZM1006.8,675.0 L1006.8,681.0 L1001.6,684.0 L996.4,681.0 L996.4,675.0 L1001.6,672.0ZM1017.2,675.0 L1017.2,681.0 L1012.0,684.0 L1006.8,681.0 L1006.8,675.0 L1012.0,672.0ZM1027.5,675.0 L1027.5,681.0 L1022.4,684.0 L1017.2,681.0 L1017.2,675.0 L1022.4,672.0ZM1037.9,675.0 L1037.9,681.0 L1032.7,684.0 L1027.5,681.0 L1027.5,675.0 L1032.7,672.0ZM1048.3,675.0 L1048.3,681.0 L1043.1,684.0 L1037.9,681.0 L1037.9,675.0 L1043.1,672.0ZM1058.7,675.0 L1058.7,681.0 L1053.5,684.0 L1048.3,681.0 L1048.3,675.0 L1053.5,672.0ZM1069.1,675.0 L1069.1,681.0 L1063.9,684.0 L1058.7,681.0 L1058.7,675.0 L1063.9,672.0ZM1079.5,675.0 L1079.5,681.0 L1074.3,684.0 L1069.1,681.0 L1069.1,675.0 L1074.3,672.0ZM1089.9,675.0 L1089.9,681.0 L1084.7,684.0 L1079.5,681.0 L1079.5,675.0 L1084.7,672.0ZM1100.3,675.0 L1100.3,681.0 L1095.1,684.0 L1089.9,681.0 L1089.9,675.0 L1095.1,672.0ZM1110.7,675.0 L1110.7,681.0 L1105.5,684.0 L1100.3,681.0 L1100.3,675.0 L1105.5,672.0ZM1121.1,675.0 L1121.1,681.0 L1115.9,684.0 L1110.7,681.0 L1110.7,675.0 L1115.9,672.0ZM1131.5,675.0 L1131.5,681.0 L1126.3,684.0 L1121.1,681.0 L1121.1,675.0 L1126.3,672.0ZM970.4,684.0 L970.4,690.0 L965.2,693.0 L960.0,690.0 L960.0,684.0 L965.2,681.0ZM980.8,684.0 L980.8,690.0 L975.6,693.0 L970.4,690.0 L970.4,684.0 L975.6,681.0ZM991.2,684.0 L991.2,690.0 L986.0,693.0 L980.8,690.0 L980.8,684.0 L986.0,681.0ZM1001.6,684.0 L1001.6,690.0 L996.4,693.0 L991.2,690.0 L991.2,684.0 L996.4,681.0ZM1012.0,684.0 L1012.0,690.0 L1006.8,693.0 L1001.6,690.0 L1001.6,684.0 L1006.8,681.0ZM1022.4,684.0 L1022.4,690.0 L1017.2,693.0 L1012.0,690.0 L1012.0,684.0 L1017.2,681.0ZM1032.7,684.0 L1032.7,690.0 L1027.5,693.0 L1022.4,690.0 L1022.4,684.0 L1027.5,681.0ZM1043.1,684.0 L1043.1,690.0 L1037.9,693.0 L1032.7,690.0 L1032.7,684.0 L1037.9,681.0ZM1053.5,684.0 L1053.5,690.0 L1048.3,693.0 L1043.1,690.0 L1043.1,684.0 L1048.3,681.0ZM1063.9,684.0 L1063.9,690.0 L1058.7,693.0 L1053.5,690.0 L1053.5,684.0 L1058.7,681.0ZM1074.3,684.0 L1074.3,690.0 L1069.1,693.0 L1063.9,690.0 L1063.9,684.0 L1069.1,681.0ZM1084.7,684.0 L1084.7,690.0 L1079.5,693.0 L1074.3,690.0 L1074.3,684.0 L1079.5,681.0ZM1095.1,684.0 L1095.1,690.0 L1089.9,693.0 L1084.7,690.0 L1084.7,684.0 L1089.9,681.0ZM1105.5,684.0 L1105.5,690.0 L1100.3,693.0 L1095.1,690.0 L1095.1,684.0 L1100.3,681.0ZM1115.9,684.0 L1115.9,690.0 L1110.7,693.0 L1105.5,690.0 L1105.5,684.0 L1110.7,681.0ZM1126.3,684.0 L1126.3,690.0 L1121.1,693.0 L1115.9,690.0 L1115.9,684.0 L1121.1,681.0ZM1136.7,684.0 L1136.7,690.0 L1131.5,693.0 L1126.3,690.0 L1126.3,684.0 L1131.5,681.0ZM965.2,693.0 L965.2,699.0 L960.0,702.0 L954.8,699.0 L954.8,693.0 L960.0,690.0ZM975.6,693.0 L975.6,699.0 L970.4,702.0 L965.2,699.0 L965.2,693.0 L970.4,690.0ZM986.0,693.0 L986.0,699.0 L980.8,702.0 L975.6,699.0 L975.6,693.0 L980.8,690.0ZM996.4,693.0 L996.4,699.0 L991.2,702.0 L986.0,699.0 L986.0,693.0 L991.2,690.0ZM1006.8,693.0 L1006.8,699.0 L1001.6,702.0 L996.4,699.0 L996.4,693.0 L1001.6,690.0ZM1017.2,693.0 L1017.2,699.0 L1012.0,702.0 L1006.8,699.0 L1006.8,693.0 L1012.0,690.0ZM1027.5,693.0 L1027.5,699.0 L1022.4,702.0 L1017.2,699.0 L1017.2,693.0 L1022.4,690.0ZM1037.9,693.0 L1037.9,699.0 L1032.7,702.0 L1027.5,699.0 L1027.5,693.0 L1032.7,690.0ZM1048.3,693.0 L1048.3,699.0 L1043.1,702.0 L1037.9,699.0 L1037.9,693.0 L1043.1,690.0ZM1058.7,693.0 L1058.7,699.0 L1053.5,702.0 L1048.3,699.0 L1048.3,693.0 L1053.5,690.0ZM1069.1,693.0 L1069.1,699.0 L1063.9,702.0 L1058.7,699.0 L1058.7,693.0 L1063.9,690.0ZM1079.5,693.0 L1079.5,699.0 L1074.3,702.0 L1069.1,699.0 L1069.1,693.0 L1074.3,690.0ZM1089.9,693.0 L1089.9,699.0 L1084.7,702.0 L1079.5,699.0 L1079.5,693.0 L1084.7,690.0ZM1100.3,693.0 L1100.3,699.0 L1095.1,702.0 L1089.9,699.0 L1089.9,693.0 L1095.1,690.0ZM1110.7,693.0 L1110.7,699.0 L1105.5,702.0 L1100.3,699.0 L1100.3,693.0 L1105.5,690.0ZM1121.1,693.0 L1121.1,699.0 L1115.9,702.0 L1110.7,699.0 L1110.7,693.0 L1115.9,690.0ZM1131.5,693.0 L1131.5,699.0 L1126.3,702.0 L1121.1,699.0 L1121.1,693.0 L1126.3,690.0ZM970.4,702.0 L970.4,708.0 L965.2,711.0 L960.0,708.0 L960.0,702.0 L965.2,699.0ZM980.8,702.0 L980.8,708.0 L975.6,711.0 L970.4,708.0 L970.4,702.0 L975.6,699.0ZM991.2,702.0 L991.2,708.0 L986.0,711.0 L980.8,708.0 L980.8,702.0 L986.0,699.0ZM1001.6,702.0 L1001.6,708.0 L996.4,711.0 L991.2,708.0 L991.2,702.0 L996.4,699.0ZM1012.0,702.0 L1012.0,708.0 L1006.8,711.0 L1001.6,708.0 L1001.6,702.0 L1006.8,699.0ZM1022.4,702.0 L1022.4,708.0 L1017.2,711.0 L1012.0,708.0 L1012.0,702.0 L1017.2,699.0ZM1032.7,702.0 L1032.7,708.0 L1027.5,711.0 L1022.4,708.0 L1022.4,702.0 L1027.5,699.0ZM1043.1,702.0 L1043.1,708.0 L1037.9,711.0 L1032.7,708.0 L1032.7,702.0 L1037.9,699.0ZM1053.5,702.0 L1053.5,708.0 L1048.3,711.0 L1043.1,708.0 L1043.1,702.0 L1048.3,699.0ZM1063.9,702.0 L1063.9,708.0 L1058.7,711.0 L1053.5,708.0 L1053.5,702.0 L1058.7,699.0ZM1074.3,702.0 L1074.3,708.0 L1069.1,711.0 L1063.9,708.0 L1063.9,702.0 L1069.1,699.0ZM1084.7,702.0 L1084.7,708.0 L1079.5,711.0 L1074.3,708.0 L1074.3,702.0 L1079.5,699.0ZM1095.1,702.0 L1095.1,708.0 L1089.9,711.0 L1084.7,708.0 L1084.7,702.0 L1089.9,699.0ZM1105.5,702.0 L1105.5,708.0 L1100.3,711.0 L1095.1,708.0 L1095.1,702.0 L1100.3,699.0ZM1115.9,702.0 L1115.9,708.0 L1110.7,711.0 L1105.5,708.0 L1105.5,702.0 L1110.7,699.0ZM1126.3,702.0 L1126.3,708.0 L1121.1,711.0 L1115.9,708.0 L1115.9,702.0 L1121.1,699.0ZM1136.7,702.0 L1136.7,708.0 L1131.5,711.0 L1126.3,708.0 L1126.3,702.0 L1131.5,699.0ZM965.2,711.0 L965.2,717.0 L960.0,720.0 L954.8,717.0 L954.8,711.0 L960.0,708.0ZM975.6,711.0 L975.6,717.0 L970.4,720.0 L965.2,717.0 L965.2,711.0 L970.4,708.0ZM986.0,711.0 L986.0,717.0 L980.8,720.0 L975.6,717.0 L975.6,711.0 L980.8,708.0ZM996.4,711.0 L996.4,717.0 L991.2,720.0 L986.0,717.0 L986.0,711.0 L991.2,708.0ZM1006.8,711.0 L1006.8,717.0 L1001.6,720.0 L996.4,717.0 L996.4,711.0 L1001.6,708.0ZM1017.2,711.0 L1017.2,717.0 L1012.0,720.0 L1006.8,717.0 L1006.8,711.0 L1012.0,708.0ZM1027.5,711.0 L1027.5,717.0 L1022.4,720.0 L1017.2,717.0 L1017.2,711.0 L1022.4,708.0ZM1037.9,711.0 L1037.9,717.0 L1032.7,720.0 L1027.5,717.0 L1027.5,711.0 L1032.7,708.0ZM1048.3,711.0 L1048.3,717.0 L1043.1,720.0 L1037.9,717.0 L1037.9,711.0 L1043.1,708.0ZM1058.7,711.0 L1058.7,717.0 L1053.5,720.0 L1048.3,717.0 L1048.3,711.0 L1053.5,708.0ZM1069.1,711.0 L1069.1,717.0 L1063.9,720.0 L1058.7,717.0 L1058.7,711.0 L1063.9,708.0ZM1079.5,711.0 L1079.5,717.0 L1074.3,720.0 L1069.1,717.0 L1069.1,711.0 L1074.3,708.0ZM1089.9,711.0 L1089.9,717.0 L1084.7,720.0 L1079.5,717.0 L1079.5,711.0 L1084.7,708.0ZM1100.3,711.0 L1100.3,717.0 L1095.1,720.0 L1089.9,717.0 L1089.9,711.0 L1095.1,708.0ZM1110.7,711.0 L1110.7,717.0 L1105.5,720.0 L1100.3,717.0 L1100.3,711.0 L1105.5,708.0ZM1121.1,711.0 L1121.1,717.0 L1115.9,720.0 L1110.7,717.0 L1110.7,711.0 L1115.9,708.0ZM1131.5,711.0 L1131.5,717.0 L1126.3,720.0 L1121.1,717.0 L1121.1,711.0 L1126.3,708.0ZM970.4,720.0 L970.4,726.0 L965.2,729.0 L960.0,726.0 L960.0,720.0 L965.2,717.0ZM980.8,720.0 L980.8,726.0 L975.6,729.0 L970.4,726.0 L970.4,720.0 L975.6,717.0ZM991.2,720.0 L991.2,726.0 L986.0,729.0 L980.8,726.0 L980.8,720.0 L986.0,717.0ZM1001.6,720.0 L1001.6,726.0 L996.4,729.0 L991.2,726.0 L991.2,720.0 L996.4,717.0ZM1012.0,720.0 L1012.0,726.0 L1006.8,729.0 L1001.6,726.0 L1001.6,720.0 L1006.8,717.0ZM1022.4,720.0 L1022.4,726.0 L1017.2,729.0 L1012.0,726.0 L1012.0,720.0 L1017.2,717.0ZM1032.7,720.0 L1032.7,726.0 L1027.5,729.0 L1022.4,726.0 L1022.4,720.0 L1027.5,717.0ZM1043.1,720.0 L1043.1,726.0 L1037.9,729.0 L1032.7,726.0 L1032.7,720.0 L1037.9,717.0ZM1053.5,720.0 L1053.5,726.0 L1048.3,729.0 L1043.1,726.0 L1043.1,720.0 L1048.3,717.0ZM1063.9,720.0 L1063.9,726.0 L1058.7,729.0 L1053.5,726.0 L1053.5,720.0 L1058.7,717.0ZM1074.3,720.0 L1074.3,726.0 L1069.1,729.0 L1063.9,726.0 L1063.9,720.0 L1069.1,717.0ZM1084.7,720.0 L1084.7,726.0 L1079.5,729.0 L1074.3,726.0 L1074.3,720.0 L1079.5,717.0ZM1095.1,720.0 L1095.1,726.0 L1089.9,729.0 L1084.7,726.0 L1084.7,720.0 L1089.9,717.0ZM1105.5,720.0 L1105.5,726.0 L1100.3,729.0 L1095.1,726.0 L1095.1,720.0 L1100.3,717.0ZM1115.9,720.0 L1115.9,726.0 L1110.7,729.0 L1105.5,726.0 L1105.5,720.0 L1110.7,717.0ZM1126.3,720.0 L1126.3,726.0 L1121.1,729.0 L1115.9,726.0 L1115.9,720.0 L1121.1,717.0ZM1136.7,720.0 L1136.7,726.0 L1131.5,729.0 L1126.3,726.0 L1126.3,720.0 L1131.5,717.0ZM965.2,729.0 L965.2,735.0 L960.0,738.0 L954.8,735.0 L954.8,729.0 L960.0,726.0ZM975.6,729.0 L975.6,735.0 L970.4,738.0 L965.2,735.0 L965.2,729.0 L970.4,726.0ZM986.0,729.0 L986.0,735.0 L980.8,738.0 L975.6,735.0 L975.6,729.0 L980.8,726.0ZM996.4,729.0 L996.4,735.0 L991.2,738.0 L986.0,735.0 L986.0,729.0 L991.2,726.0ZM1006.8,729.0 L1006.8,735.0 L1001.6,738.0 L996.4,735.0 L996.4,729.0 L1001.6,726.0ZM1017.2,729.0 L1017.2,735.0 L1012.0,738.0 L1006.8,735.0 L1006.8,729.0 L1012.0,726.0ZM1027.5,729.0 L1027.5,735.0 L1022.4,738.0 L1017.2,735.0 L1017.2,729.0 L1022.4,726.0ZM1037.9,729.0 L1037.9,735.0 L1032.7,738.0 L1027.5,735.0 L1027.5,729.0 L1032.7,726.0ZM1048.3,729.0 L1048.3,735.0 L1043.1,738.0 L1037.9,735.0 L1037.9,729.0 L1043.1,726.0ZM1058.7,729.0 L1058.7,735.0 L1053.5,738.0 L1048.3,735.0 L1048.3,729.0 L1053.5,726.0ZM1069.1,729.0 L1069.1,735.0 L1063.9,738.0 L1058.7,735.0 L1058.7,729.0 L1063.9,726.0ZM1079.5,729.0 L1079.5,735.0 L1074.3,738.0 L1069.1,735.0 L1069.1,729.0 L1074.3,726.0ZM1089.9,729.0 L1089.9,735.0 L1084.7,738.0 L1079.5,735.0 L1079.5,729.0 L1084.7,726.0ZM1100.3,729.0 L1100.3,735.0 L1095.1,738.0 L1089.9,735.0 L1089.9,729.0 L1095.1,726.0ZM1110.7,729.0 L1110.7,735.0 L1105.5,738.0 L1100.3,735.0 L1100.3,729.0 L1105.5,726.0ZM1121.1,729.0 L1121.1,735.0 L1115.9,738.0 L1110.7,735.0 L1110.7,729.0 L1115.9,726.0ZM1131.5,729.0 L1131.5,735.0 L1126.3,738.0 L1121.1,735.0 L1121.1,729.0 L1126.3,726.0ZM970.4,738.0 L970.4,744.0 L965.2,747.0 L960.0,744.0 L960.0,738.0 L965.2,735.0ZM980.8,738.0 L980.8,744.0 L975.6,747.0 L970.4,744.0 L970.4,738.0 L975.6,735.0ZM991.2,738.0 L991.2,744.0 L986.0,747.0 L980.8,744.0 L980.8,738.0 L986.0,735.0ZM1001.6,738.0 L1001.6,744.0 L996.4,747.0 L991.2,744.0 L991.2,738.0 L996.4,735.0ZM1012.0,738.0 L1012.0,744.0 L1006.8,747.0 L1001.6,744.0 L1001.6,738.0 L1006.8,735.0ZM1022.4,738.0 L1022.4,744.0 L1017.2,747.0 L1012.0,744.0 L1012.0,738.0 L1017.2,735.0ZM1032.7,738.0 L1032.7,744.0 L1027.5,747.0 L1022.4,744.0 L1022.4,738.0 L1027.5,735.0ZM1043.1,738.0 L1043.1,744.0 L1037.9,747.0 L1032.7,744.0 L1032.7,738.0 L1037.9,735.0ZM1053.5,738.0 L1053.5,744.0 L1048.3,747.0 L1043.1,744.0 L1043.1,738.0 L1048.3,735.0ZM1063.9,738.0 L1063.9,744.0 L1058.7,747.0 L1053.5,744.0 L1053.5,738.0 L1058.7,735.0ZM1074.3,738.0 L1074.3,744.0 L1069.1,747.0 L1063.9,744.0 L1063.9,738.0 L1069.1,735.0ZM1084.7,738.0 L1084.7,744.0 L1079.5,747.0 L1074.3,744.0 L1074.3,738.0 L1079.5,735.0ZM1095.1,738.0 L1095.1,744.0 L1089.9,747.0 L1084.7,744.0 L1084.7,738.0 L1089.9,735.0ZM1105.5,738.0 L1105.5,744.0 L1100.3,747.0 L1095.1,744.0 L1095.1,738.0 L1100.3,735.0ZM1115.9,738.0 L1115.9,744.0 L1110.7,747.0 L1105.5,744.0 L1105.5,738.0 L1110.7,735.0ZM1126.3,738.0 L1126.3,744.0 L1121.1,747.0 L1115.9,744.0 L1115.9,738.0 L1121.1,735.0ZM1136.7,738.0 L1136.7,744.0 L1131.5,747.0 L1126.3,744.0 L1126.3,738.0 L1131.5,735.0ZM965.2,747.0 L965.2,753.0 L960.0,756.0 L954.8,753.0 L954.8,747.0 L960.0,744.0ZM975.6,747.0 L975.6,753.0 L970.4,756.0 L965.2,753.0 L965.2,747.0 L970.4,744.0ZM986.0,747.0 L986.0,753.0 L980.8,756.0 L975.6,753.0 L975.6,747.0 L980.8,744.0ZM996.4,747.0 L996.4,753.0 L991.2,756.0 L986.0,753.0 L986.0,747.0 L991.2,744.0ZM1006.8,747.0 L1006.8,753.0 L1001.6,756.0 L996.4,753.0 L996.4,747.0 L1001.6,744.0ZM1017.2,747.0 L1017.2,753.0 L1012.0,756.0 L1006.8,753.0 L1006.8,747.0 L1012.0,744.0ZM1027.5,747.0 L1027.5,753.0 L1022.4,756.0 L1017.2,753.0 L1017.2,747.0 L1022.4,744.0ZM1037.9,747.0 L1037.9,753.0 L1032.7,756.0 L1027.5,753.0 L1027.5,747.0 L1032.7,744.0ZM1048.3,747.0 L1048.3,753.0 L1043.1,756.0 L1037.9,753.0 L1037.9,747.0 L1043.1,744.0ZM1058.7,747.0 L1058.7,753.0 L1053.5,756.0 L1048.3,753.0 L1048.3,747.0 L1053.5,744.0ZM1069.1,747.0 L1069.1,753.0 L1063.9,756.0 L1058.7,753.0 L1058.7,747.0 L1063.9,744.0ZM1079.5,747.0 L1079.5,753.0 L1074.3,756.0 L1069.1,753.0 L1069.1,747.0 L1074.3,744.0ZM1089.9,747.0 L1089.9,753.0 L1084.7,756.0 L1079.5,753.0 L1079.5,747.0 L1084.7,744.0ZM1100.3,747.0 L1100.3,753.0 L1095.1,756.0 L1089.9,753.0 L1089.9,747.0 L1095.1,744.0ZM1110.7,747.0 L1110.7,753.0 L1105.5,756.0 L1100.3,753.0 L1100.3,747.0 L1105.5,744.0ZM1121.1,747.0 L1121.1,753.0 L1115.9,756.0 L1110.7,753.0 L1110.7,747.0 L1115.9,744.0ZM1131.5,747.0 L1131.5,753.0 L1126.3,756.0 L1121.1,753.0 L1121.1,747.0 L1126.3,744.0ZM970.4,756.0 L970.4,762.0 L965.2,765.0 L960.0,762.0 L960.0,756.0 L965.2,753.0ZM980.8,756.0 L980.8,762.0 L975.6,765.0 L970.4,762.0 L970.4,756.0 L975.6,753.0ZM991.2,756.0 L991.2,762.0 L986.0,765.0 L980.8,762.0 L980.8,756.0 L986.0,753.0ZM1001.6,756.0 L1001.6,762.0 L996.4,765.0 L991.2,762.0 L991.2,756.0 L996.4,753.0ZM1012.0,756.0 L1012.0,762.0 L1006.8,765.0 L1001.6,762.0 L1001.6,756.0 L1006.8,753.0ZM1022.4,756.0 L1022.4,762.0 L1017.2,765.0 L1012.0,762.0 L1012.0,756.0 L1017.2,753.0ZM1032.7,756.0 L1032.7,762.0 L1027.5,765.0 L1022.4,762.0 L1022.4,756.0 L1027.5,753.0ZM1043.1,756.0 L1043.1,762.0 L1037.9,765.0 L1032.7,762.0 L1032.7,756.0 L1037.9,753.0ZM1053.5,756.0 L1053.5,762.0 L1048.3,765.0 L1043.1,762.0 L1043.1,756.0 L1048.3,753.0ZM1063.9,756.0 L1063.9,762.0 L1058.7,765.0 L1053.5,762.0 L1053.5,756.0 L1058.7,753.0ZM1074.3,756.0 L1074.3,762.0 L1069.1,765.0 L1063.9,762.0 L1063.9,756.0 L1069.1,753.0ZM1084.7,756.0 L1084.7,762.0 L1079.5,765.0 L1074.3,762.0 L1074.3,756.0 L1079.5,753.0ZM1095.1,756.0 L1095.1,762.0 L1089.9,765.0 L1084.7,762.0 L1084.7,756.0 L1089.9,753.0ZM1105.5,756.0 L1105.5,762.0 L1100.3,765.0 L1095.1,762.0 L1095.1,756.0 L1100.3,753.0ZM1115.9,756.0 L1115.9,762.0 L1110.7,765.0 L1105.5,762.0 L1105.5,756.0 L1110.7,753.0ZM1126.3,756.0 L1126.3,762.0 L1121.1,765.0 L1115.9,762.0 L1115.9,756.0 L1121.1,753.0ZM1136.7,756.0 L1136.7,762.0 L1131.5,765.0 L1126.3,762.0 L1126.3,756.0 L1131.5,753.0ZM965.2,765.0 L965.2,771.0 L960.0,774.0 L954.8,771.0 L954.8,765.0 L960.0,762.0ZM975.6,765.0 L975.6,771.0 L970.4,774.0 L965.2,771.0 L965.2,765.0 L970.4,762.0ZM986.0,765.0 L986.0,771.0 L980.8,774.0 L975.6,771.0 L975.6,765.0 L980.8,762.0ZM996.4,765.0 L996.4,771.0 L991.2,774.0 L986.0,771.0 L986.0,765.0 L991.2,762.0ZM1006.8,765.0 L1006.8,771.0 L1001.6,774.0 L996.4,771.0 L996.4,765.0 L1001.6,762.0ZM1017.2,765.0 L1017.2,771.0 L1012.0,774.0 L1006.8,771.0 L1006.8,765.0 L1012.0,762.0ZM1027.5,765.0 L1027.5,771.0 L1022.4,774.0 L1017.2,771.0 L1017.2,765.0 L1022.4,762.0ZM1037.9,765.0 L1037.9,771.0 L1032.7,774.0 L1027.5,771.0 L1027.5,765.0 L1032.7,762.0ZM1048.3,765.0 L1048.3,771.0 L1043.1,774.0 L1037.9,771.0 L1037.9,765.0 L1043.1,762.0ZM1058.7,765.0 L1058.7,771.0 L1053.5,774.0 L1048.3,771.0 L1048.3,765.0 L1053.5,762.0ZM1069.1,765.0 L1069.1,771.0 L1063.9,774.0 L1058.7,771.0 L1058.7,765.0 L1063.9,762.0ZM1079.5,765.0 L1079.5,771.0 L1074.3,774.0 L1069.1,771.0 L1069.1,765.0 L1074.3,762.0ZM1089.9,765.0 L1089.9,771.0 L1084.7,774.0 L1079.5,771.0 L1079.5,765.0 L1084.7,762.0ZM1100.3,765.0 L1100.3,771.0 L1095.1,774.0 L1089.9,771.0 L1089.9,765.0 L1095.1,762.0ZM1110.7,765.0 L1110.7,771.0 L1105.5,774.0 L1100.3,771.0 L1100.3,765.0 L1105.5,762.0ZM1121.1,765.0 L1121.1,771.0 L1115.9,774.0 L1110.7,771.0 L1110.7,765.0 L1115.9,762.0ZM1131.5,765.0 L1131.5,771.0 L1126.3,774.0 L1121.1,771.0 L1121.1,765.0 L1126.3,762.0Z" stroke="#9a2266" stroke-width="2.2" fill="none" opacity="1"/><path d="M969.9,569.0 L969.9,577.0 L963.0,581.0 L956.1,577.0 L956.1,569.0 L963.0,565.0ZM983.8,569.0 L983.8,577.0 L976.9,581.0 L969.9,577.0 L969.9,569.0 L976.9,565.0ZM997.6,569.0 L997.6,577.0 L990.7,581.0 L983.8,577.0 L983.8,569.0 L990.7,565.0ZM1011.5,569.0 L1011.5,577.0 L1004.6,581.0 L997.6,577.0 L997.6,569.0 L1004.6,565.0ZM1025.4,569.0 L1025.4,577.0 L1018.4,581.0 L1011.5,577.0 L1011.5,569.0 L1018.4,565.0ZM1039.2,569.0 L1039.2,577.0 L1032.3,581.0 L1025.4,577.0 L1025.4,569.0 L1032.3,565.0ZM1053.1,569.0 L1053.1,577.0 L1046.1,581.0 L1039.2,577.0 L1039.2,569.0 L1046.1,565.0ZM1066.9,569.0 L1066.9,577.0 L1060.0,581.0 L1053.1,577.0 L1053.1,569.0 L1060.0,565.0ZM1080.8,569.0 L1080.8,577.0 L1073.9,581.0 L1066.9,577.0 L1066.9,569.0 L1073.9,565.0ZM1094.6,569.0 L1094.6,577.0 L1087.7,581.0 L1080.8,577.0 L1080.8,569.0 L1087.7,565.0ZM1108.5,569.0 L1108.5,577.0 L1101.6,581.0 L1094.6,577.0 L1094.6,569.0 L1101.6,565.0ZM1122.3,569.0 L1122.3,577.0 L1115.4,581.0 L1108.5,577.0 L1108.5,569.0 L1115.4,565.0ZM1136.2,569.0 L1136.2,577.0 L1129.3,581.0 L1122.3,577.0 L1122.3,569.0 L1129.3,565.0ZM976.9,581.0 L976.9,589.0 L969.9,593.0 L963.0,589.0 L963.0,581.0 L969.9,577.0ZM990.7,581.0 L990.7,589.0 L983.8,593.0 L976.9,589.0 L976.9,581.0 L983.8,577.0ZM1004.6,581.0 L1004.6,589.0 L997.6,593.0 L990.7,589.0 L990.7,581.0 L997.6,577.0ZM1018.4,581.0 L1018.4,589.0 L1011.5,593.0 L1004.6,589.0 L1004.6,581.0 L1011.5,577.0ZM1032.3,581.0 L1032.3,589.0 L1025.4,593.0 L1018.4,589.0 L1018.4,581.0 L1025.4,577.0ZM1046.1,581.0 L1046.1,589.0 L1039.2,593.0 L1032.3,589.0 L1032.3,581.0 L1039.2,577.0ZM1060.0,581.0 L1060.0,589.0 L1053.1,593.0 L1046.1,589.0 L1046.1,581.0 L1053.1,577.0ZM1073.9,581.0 L1073.9,589.0 L1066.9,593.0 L1060.0,589.0 L1060.0,581.0 L1066.9,577.0ZM1087.7,581.0 L1087.7,589.0 L1080.8,593.0 L1073.9,589.0 L1073.9,581.0 L1080.8,577.0ZM1101.6,581.0 L1101.6,589.0 L1094.6,593.0 L1087.7,589.0 L1087.7,581.0 L1094.6,577.0ZM1115.4,581.0 L1115.4,589.0 L1108.5,593.0 L1101.6,589.0 L1101.6,581.0 L1108.5,577.0ZM1129.3,581.0 L1129.3,589.0 L1122.3,593.0 L1115.4,589.0 L1115.4,581.0 L1122.3,577.0ZM1143.1,581.0 L1143.1,589.0 L1136.2,593.0 L1129.3,589.0 L1129.3,581.0 L1136.2,577.0ZM969.9,593.0 L969.9,601.0 L963.0,605.0 L956.1,601.0 L956.1,593.0 L963.0,589.0ZM983.8,593.0 L983.8,601.0 L976.9,605.0 L969.9,601.0 L969.9,593.0 L976.9,589.0ZM997.6,593.0 L997.6,601.0 L990.7,605.0 L983.8,601.0 L983.8,593.0 L990.7,589.0ZM1011.5,593.0 L1011.5,601.0 L1004.6,605.0 L997.6,601.0 L997.6,593.0 L1004.6,589.0ZM1025.4,593.0 L1025.4,601.0 L1018.4,605.0 L1011.5,601.0 L1011.5,593.0 L1018.4,589.0ZM1039.2,593.0 L1039.2,601.0 L1032.3,605.0 L1025.4,601.0 L1025.4,593.0 L1032.3,589.0ZM1053.1,593.0 L1053.1,601.0 L1046.1,605.0 L1039.2,601.0 L1039.2,593.0 L1046.1,589.0ZM1066.9,593.0 L1066.9,601.0 L1060.0,605.0 L1053.1,601.0 L1053.1,593.0 L1060.0,589.0ZM1080.8,593.0 L1080.8,601.0 L1073.9,605.0 L1066.9,601.0 L1066.9,593.0 L1073.9,589.0ZM1094.6,593.0 L1094.6,601.0 L1087.7,605.0 L1080.8,601.0 L1080.8,593.0 L1087.7,589.0ZM1108.5,593.0 L1108.5,601.0 L1101.6,605.0 L1094.6,601.0 L1094.6,593.0 L1101.6,589.0ZM1122.3,593.0 L1122.3,601.0 L1115.4,605.0 L1108.5,601.0 L1108.5,593.0 L1115.4,589.0ZM1136.2,593.0 L1136.2,601.0 L1129.3,605.0 L1122.3,601.0 L1122.3,593.0 L1129.3,589.0ZM976.9,605.0 L976.9,613.0 L969.9,617.0 L963.0,613.0 L963.0,605.0 L969.9,601.0ZM990.7,605.0 L990.7,613.0 L983.8,617.0 L976.9,613.0 L976.9,605.0 L983.8,601.0ZM1004.6,605.0 L1004.6,613.0 L997.6,617.0 L990.7,613.0 L990.7,605.0 L997.6,601.0ZM1018.4,605.0 L1018.4,613.0 L1011.5,617.0 L1004.6,613.0 L1004.6,605.0 L1011.5,601.0ZM1032.3,605.0 L1032.3,613.0 L1025.4,617.0 L1018.4,613.0 L1018.4,605.0 L1025.4,601.0ZM1046.1,605.0 L1046.1,613.0 L1039.2,617.0 L1032.3,613.0 L1032.3,605.0 L1039.2,601.0ZM1060.0,605.0 L1060.0,613.0 L1053.1,617.0 L1046.1,613.0 L1046.1,605.0 L1053.1,601.0ZM1073.9,605.0 L1073.9,613.0 L1066.9,617.0 L1060.0,613.0 L1060.0,605.0 L1066.9,601.0ZM1087.7,605.0 L1087.7,613.0 L1080.8,617.0 L1073.9,613.0 L1073.9,605.0 L1080.8,601.0ZM1101.6,605.0 L1101.6,613.0 L1094.6,617.0 L1087.7,613.0 L1087.7,605.0 L1094.6,601.0ZM1115.4,605.0 L1115.4,613.0 L1108.5,617.0 L1101.6,613.0 L1101.6,605.0 L1108.5,601.0ZM1129.3,605.0 L1129.3,613.0 L1122.3,617.0 L1115.4,613.0 L1115.4,605.0 L1122.3,601.0ZM1143.1,605.0 L1143.1,613.0 L1136.2,617.0 L1129.3,613.0 L1129.3,605.0 L1136.2,601.0ZM969.9,617.0 L969.9,625.0 L963.0,629.0 L956.1,625.0 L956.1,617.0 L963.0,613.0ZM983.8,617.0 L983.8,625.0 L976.9,629.0 L969.9,625.0 L969.9,617.0 L976.9,613.0ZM997.6,617.0 L997.6,625.0 L990.7,629.0 L983.8,625.0 L983.8,617.0 L990.7,613.0ZM1011.5,617.0 L1011.5,625.0 L1004.6,629.0 L997.6,625.0 L997.6,617.0 L1004.6,613.0ZM1025.4,617.0 L1025.4,625.0 L1018.4,629.0 L1011.5,625.0 L1011.5,617.0 L1018.4,613.0ZM1039.2,617.0 L1039.2,625.0 L1032.3,629.0 L1025.4,625.0 L1025.4,617.0 L1032.3,613.0ZM1053.1,617.0 L1053.1,625.0 L1046.1,629.0 L1039.2,625.0 L1039.2,617.0 L1046.1,613.0ZM1066.9,617.0 L1066.9,625.0 L1060.0,629.0 L1053.1,625.0 L1053.1,617.0 L1060.0,613.0ZM1080.8,617.0 L1080.8,625.0 L1073.9,629.0 L1066.9,625.0 L1066.9,617.0 L1073.9,613.0ZM1094.6,617.0 L1094.6,625.0 L1087.7,629.0 L1080.8,625.0 L1080.8,617.0 L1087.7,613.0ZM1108.5,617.0 L1108.5,625.0 L1101.6,629.0 L1094.6,625.0 L1094.6,617.0 L1101.6,613.0ZM1122.3,617.0 L1122.3,625.0 L1115.4,629.0 L1108.5,625.0 L1108.5,617.0 L1115.4,613.0ZM1136.2,617.0 L1136.2,625.0 L1129.3,629.0 L1122.3,625.0 L1122.3,617.0 L1129.3,613.0ZM976.9,629.0 L976.9,637.0 L969.9,641.0 L963.0,637.0 L963.0,629.0 L969.9,625.0ZM990.7,629.0 L990.7,637.0 L983.8,641.0 L976.9,637.0 L976.9,629.0 L983.8,625.0ZM1004.6,629.0 L1004.6,637.0 L997.6,641.0 L990.7,637.0 L990.7,629.0 L997.6,625.0ZM1018.4,629.0 L1018.4,637.0 L1011.5,641.0 L1004.6,637.0 L1004.6,629.0 L1011.5,625.0ZM1032.3,629.0 L1032.3,637.0 L1025.4,641.0 L1018.4,637.0 L1018.4,629.0 L1025.4,625.0ZM1046.1,629.0 L1046.1,637.0 L1039.2,641.0 L1032.3,637.0 L1032.3,629.0 L1039.2,625.0ZM1060.0,629.0 L1060.0,637.0 L1053.1,641.0 L1046.1,637.0 L1046.1,629.0 L1053.1,625.0ZM1073.9,629.0 L1073.9,637.0 L1066.9,641.0 L1060.0,637.0 L1060.0,629.0 L1066.9,625.0ZM1087.7,629.0 L1087.7,637.0 L1080.8,641.0 L1073.9,637.0 L1073.9,629.0 L1080.8,625.0ZM1101.6,629.0 L1101.6,637.0 L1094.6,641.0 L1087.7,637.0 L1087.7,629.0 L1094.6,625.0ZM1115.4,629.0 L1115.4,637.0 L1108.5,641.0 L1101.6,637.0 L1101.6,629.0 L1108.5,625.0ZM1129.3,629.0 L1129.3,637.0 L1122.3,641.0 L1115.4,637.0 L1115.4,629.0 L1122.3,625.0ZM1143.1,629.0 L1143.1,637.0 L1136.2,641.0 L1129.3,637.0 L1129.3,629.0 L1136.2,625.0ZM969.9,641.0 L969.9,649.0 L963.0,653.0 L956.1,649.0 L956.1,641.0 L963.0,637.0ZM983.8,641.0 L983.8,649.0 L976.9,653.0 L969.9,649.0 L969.9,641.0 L976.9,637.0ZM997.6,641.0 L997.6,649.0 L990.7,653.0 L983.8,649.0 L983.8,641.0 L990.7,637.0ZM1011.5,641.0 L1011.5,649.0 L1004.6,653.0 L997.6,649.0 L997.6,641.0 L1004.6,637.0ZM1025.4,641.0 L1025.4,649.0 L1018.4,653.0 L1011.5,649.0 L1011.5,641.0 L1018.4,637.0ZM1039.2,641.0 L1039.2,649.0 L1032.3,653.0 L1025.4,649.0 L1025.4,641.0 L1032.3,637.0ZM1053.1,641.0 L1053.1,649.0 L1046.1,653.0 L1039.2,649.0 L1039.2,641.0 L1046.1,637.0ZM1066.9,641.0 L1066.9,649.0 L1060.0,653.0 L1053.1,649.0 L1053.1,641.0 L1060.0,637.0ZM1080.8,641.0 L1080.8,649.0 L1073.9,653.0 L1066.9,649.0 L1066.9,641.0 L1073.9,637.0ZM1094.6,641.0 L1094.6,649.0 L1087.7,653.0 L1080.8,649.0 L1080.8,641.0 L1087.7,637.0ZM1108.5,641.0 L1108.5,649.0 L1101.6,653.0 L1094.6,649.0 L1094.6,641.0 L1101.6,637.0ZM1122.3,641.0 L1122.3,649.0 L1115.4,653.0 L1108.5,649.0 L1108.5,641.0 L1115.4,637.0ZM1136.2,641.0 L1136.2,649.0 L1129.3,653.0 L1122.3,649.0 L1122.3,641.0 L1129.3,637.0ZM976.9,653.0 L976.9,661.0 L969.9,665.0 L963.0,661.0 L963.0,653.0 L969.9,649.0ZM990.7,653.0 L990.7,661.0 L983.8,665.0 L976.9,661.0 L976.9,653.0 L983.8,649.0ZM1004.6,653.0 L1004.6,661.0 L997.6,665.0 L990.7,661.0 L990.7,653.0 L997.6,649.0ZM1018.4,653.0 L1018.4,661.0 L1011.5,665.0 L1004.6,661.0 L1004.6,653.0 L1011.5,649.0ZM1032.3,653.0 L1032.3,661.0 L1025.4,665.0 L1018.4,661.0 L1018.4,653.0 L1025.4,649.0ZM1046.1,653.0 L1046.1,661.0 L1039.2,665.0 L1032.3,661.0 L1032.3,653.0 L1039.2,649.0ZM1060.0,653.0 L1060.0,661.0 L1053.1,665.0 L1046.1,661.0 L1046.1,653.0 L1053.1,649.0ZM1073.9,653.0 L1073.9,661.0 L1066.9,665.0 L1060.0,661.0 L1060.0,653.0 L1066.9,649.0ZM1087.7,653.0 L1087.7,661.0 L1080.8,665.0 L1073.9,661.0 L1073.9,653.0 L1080.8,649.0ZM1101.6,653.0 L1101.6,661.0 L1094.6,665.0 L1087.7,661.0 L1087.7,653.0 L1094.6,649.0ZM1115.4,653.0 L1115.4,661.0 L1108.5,665.0 L1101.6,661.0 L1101.6,653.0 L1108.5,649.0ZM1129.3,653.0 L1129.3,661.0 L1122.3,665.0 L1115.4,661.0 L1115.4,653.0 L1122.3,649.0ZM1143.1,653.0 L1143.1,661.0 L1136.2,665.0 L1129.3,661.0 L1129.3,653.0 L1136.2,649.0ZM969.9,665.0 L969.9,673.0 L963.0,677.0 L956.1,673.0 L956.1,665.0 L963.0,661.0ZM983.8,665.0 L983.8,673.0 L976.9,677.0 L969.9,673.0 L969.9,665.0 L976.9,661.0ZM997.6,665.0 L997.6,673.0 L990.7,677.0 L983.8,673.0 L983.8,665.0 L990.7,661.0ZM1011.5,665.0 L1011.5,673.0 L1004.6,677.0 L997.6,673.0 L997.6,665.0 L1004.6,661.0ZM1025.4,665.0 L1025.4,673.0 L1018.4,677.0 L1011.5,673.0 L1011.5,665.0 L1018.4,661.0ZM1039.2,665.0 L1039.2,673.0 L1032.3,677.0 L1025.4,673.0 L1025.4,665.0 L1032.3,661.0ZM1053.1,665.0 L1053.1,673.0 L1046.1,677.0 L1039.2,673.0 L1039.2,665.0 L1046.1,661.0ZM1066.9,665.0 L1066.9,673.0 L1060.0,677.0 L1053.1,673.0 L1053.1,665.0 L1060.0,661.0ZM1080.8,665.0 L1080.8,673.0 L1073.9,677.0 L1066.9,673.0 L1066.9,665.0 L1073.9,661.0ZM1094.6,665.0 L1094.6,673.0 L1087.7,677.0 L1080.8,673.0 L1080.8,665.0 L1087.7,661.0ZM1108.5,665.0 L1108.5,673.0 L1101.6,677.0 L1094.6,673.0 L1094.6,665.0 L1101.6,661.0ZM1122.3,665.0 L1122.3,673.0 L1115.4,677.0 L1108.5,673.0 L1108.5,665.0 L1115.4,661.0ZM1136.2,665.0 L1136.2,673.0 L1129.3,677.0 L1122.3,673.0 L1122.3,665.0 L1129.3,661.0ZM976.9,677.0 L976.9,685.0 L969.9,689.0 L963.0,685.0 L963.0,677.0 L969.9,673.0ZM990.7,677.0 L990.7,685.0 L983.8,689.0 L976.9,685.0 L976.9,677.0 L983.8,673.0ZM1004.6,677.0 L1004.6,685.0 L997.6,689.0 L990.7,685.0 L990.7,677.0 L997.6,673.0ZM1018.4,677.0 L1018.4,685.0 L1011.5,689.0 L1004.6,685.0 L1004.6,677.0 L1011.5,673.0ZM1032.3,677.0 L1032.3,685.0 L1025.4,689.0 L1018.4,685.0 L1018.4,677.0 L1025.4,673.0ZM1046.1,677.0 L1046.1,685.0 L1039.2,689.0 L1032.3,685.0 L1032.3,677.0 L1039.2,673.0ZM1060.0,677.0 L1060.0,685.0 L1053.1,689.0 L1046.1,685.0 L1046.1,677.0 L1053.1,673.0ZM1073.9,677.0 L1073.9,685.0 L1066.9,689.0 L1060.0,685.0 L1060.0,677.0 L1066.9,673.0ZM1087.7,677.0 L1087.7,685.0 L1080.8,689.0 L1073.9,685.0 L1073.9,677.0 L1080.8,673.0ZM1101.6,677.0 L1101.6,685.0 L1094.6,689.0 L1087.7,685.0 L1087.7,677.0 L1094.6,673.0ZM1115.4,677.0 L1115.4,685.0 L1108.5,689.0 L1101.6,685.0 L1101.6,677.0 L1108.5,673.0ZM1129.3,677.0 L1129.3,685.0 L1122.3,689.0 L1115.4,685.0 L1115.4,677.0 L1122.3,673.0ZM1143.1,677.0 L1143.1,685.0 L1136.2,689.0 L1129.3,685.0 L1129.3,677.0 L1136.2,673.0ZM969.9,689.0 L969.9,697.0 L963.0,701.0 L956.1,697.0 L956.1,689.0 L963.0,685.0ZM983.8,689.0 L983.8,697.0 L976.9,701.0 L969.9,697.0 L969.9,689.0 L976.9,685.0ZM997.6,689.0 L997.6,697.0 L990.7,701.0 L983.8,697.0 L983.8,689.0 L990.7,685.0ZM1011.5,689.0 L1011.5,697.0 L1004.6,701.0 L997.6,697.0 L997.6,689.0 L1004.6,685.0ZM1025.4,689.0 L1025.4,697.0 L1018.4,701.0 L1011.5,697.0 L1011.5,689.0 L1018.4,685.0ZM1039.2,689.0 L1039.2,697.0 L1032.3,701.0 L1025.4,697.0 L1025.4,689.0 L1032.3,685.0ZM1053.1,689.0 L1053.1,697.0 L1046.1,701.0 L1039.2,697.0 L1039.2,689.0 L1046.1,685.0ZM1066.9,689.0 L1066.9,697.0 L1060.0,701.0 L1053.1,697.0 L1053.1,689.0 L1060.0,685.0ZM1080.8,689.0 L1080.8,697.0 L1073.9,701.0 L1066.9,697.0 L1066.9,689.0 L1073.9,685.0ZM1094.6,689.0 L1094.6,697.0 L1087.7,701.0 L1080.8,697.0 L1080.8,689.0 L1087.7,685.0ZM1108.5,689.0 L1108.5,697.0 L1101.6,701.0 L1094.6,697.0 L1094.6,689.0 L1101.6,685.0ZM1122.3,689.0 L1122.3,697.0 L1115.4,701.0 L1108.5,697.0 L1108.5,689.0 L1115.4,685.0ZM1136.2,689.0 L1136.2,697.0 L1129.3,701.0 L1122.3,697.0 L1122.3,689.0 L1129.3,685.0ZM976.9,701.0 L976.9,709.0 L969.9,713.0 L963.0,709.0 L963.0,701.0 L969.9,697.0ZM990.7,701.0 L990.7,709.0 L983.8,713.0 L976.9,709.0 L976.9,701.0 L983.8,697.0ZM1004.6,701.0 L1004.6,709.0 L997.6,713.0 L990.7,709.0 L990.7,701.0 L997.6,697.0ZM1018.4,701.0 L1018.4,709.0 L1011.5,713.0 L1004.6,709.0 L1004.6,701.0 L1011.5,697.0ZM1032.3,701.0 L1032.3,709.0 L1025.4,713.0 L1018.4,709.0 L1018.4,701.0 L1025.4,697.0ZM1046.1,701.0 L1046.1,709.0 L1039.2,713.0 L1032.3,709.0 L1032.3,701.0 L1039.2,697.0ZM1060.0,701.0 L1060.0,709.0 L1053.1,713.0 L1046.1,709.0 L1046.1,701.0 L1053.1,697.0ZM1073.9,701.0 L1073.9,709.0 L1066.9,713.0 L1060.0,709.0 L1060.0,701.0 L1066.9,697.0ZM1087.7,701.0 L1087.7,709.0 L1080.8,713.0 L1073.9,709.0 L1073.9,701.0 L1080.8,697.0ZM1101.6,701.0 L1101.6,709.0 L1094.6,713.0 L1087.7,709.0 L1087.7,701.0 L1094.6,697.0ZM1115.4,701.0 L1115.4,709.0 L1108.5,713.0 L1101.6,709.0 L1101.6,701.0 L1108.5,697.0ZM1129.3,701.0 L1129.3,709.0 L1122.3,713.0 L1115.4,709.0 L1115.4,701.0 L1122.3,697.0ZM1143.1,701.0 L1143.1,709.0 L1136.2,713.0 L1129.3,709.0 L1129.3,701.0 L1136.2,697.0ZM969.9,713.0 L969.9,721.0 L963.0,725.0 L956.1,721.0 L956.1,713.0 L963.0,709.0ZM983.8,713.0 L983.8,721.0 L976.9,725.0 L969.9,721.0 L969.9,713.0 L976.9,709.0ZM997.6,713.0 L997.6,721.0 L990.7,725.0 L983.8,721.0 L983.8,713.0 L990.7,709.0ZM1011.5,713.0 L1011.5,721.0 L1004.6,725.0 L997.6,721.0 L997.6,713.0 L1004.6,709.0ZM1025.4,713.0 L1025.4,721.0 L1018.4,725.0 L1011.5,721.0 L1011.5,713.0 L1018.4,709.0ZM1039.2,713.0 L1039.2,721.0 L1032.3,725.0 L1025.4,721.0 L1025.4,713.0 L1032.3,709.0ZM1053.1,713.0 L1053.1,721.0 L1046.1,725.0 L1039.2,721.0 L1039.2,713.0 L1046.1,709.0ZM1066.9,713.0 L1066.9,721.0 L1060.0,725.0 L1053.1,721.0 L1053.1,713.0 L1060.0,709.0ZM1080.8,713.0 L1080.8,721.0 L1073.9,725.0 L1066.9,721.0 L1066.9,713.0 L1073.9,709.0ZM1094.6,713.0 L1094.6,721.0 L1087.7,725.0 L1080.8,721.0 L1080.8,713.0 L1087.7,709.0ZM1108.5,713.0 L1108.5,721.0 L1101.6,725.0 L1094.6,721.0 L1094.6,713.0 L1101.6,709.0ZM1122.3,713.0 L1122.3,721.0 L1115.4,725.0 L1108.5,721.0 L1108.5,713.0 L1115.4,709.0ZM1136.2,713.0 L1136.2,721.0 L1129.3,725.0 L1122.3,721.0 L1122.3,713.0 L1129.3,709.0ZM976.9,725.0 L976.9,733.0 L969.9,737.0 L963.0,733.0 L963.0,725.0 L969.9,721.0ZM990.7,725.0 L990.7,733.0 L983.8,737.0 L976.9,733.0 L976.9,725.0 L983.8,721.0ZM1004.6,725.0 L1004.6,733.0 L997.6,737.0 L990.7,733.0 L990.7,725.0 L997.6,721.0ZM1018.4,725.0 L1018.4,733.0 L1011.5,737.0 L1004.6,733.0 L1004.6,725.0 L1011.5,721.0ZM1032.3,725.0 L1032.3,733.0 L1025.4,737.0 L1018.4,733.0 L1018.4,725.0 L1025.4,721.0ZM1046.1,725.0 L1046.1,733.0 L1039.2,737.0 L1032.3,733.0 L1032.3,725.0 L1039.2,721.0ZM1060.0,725.0 L1060.0,733.0 L1053.1,737.0 L1046.1,733.0 L1046.1,725.0 L1053.1,721.0ZM1073.9,725.0 L1073.9,733.0 L1066.9,737.0 L1060.0,733.0 L1060.0,725.0 L1066.9,721.0ZM1087.7,725.0 L1087.7,733.0 L1080.8,737.0 L1073.9,733.0 L1073.9,725.0 L1080.8,721.0ZM1101.6,725.0 L1101.6,733.0 L1094.6,737.0 L1087.7,733.0 L1087.7,725.0 L1094.6,721.0ZM1115.4,725.0 L1115.4,733.0 L1108.5,737.0 L1101.6,733.0 L1101.6,725.0 L1108.5,721.0ZM1129.3,725.0 L1129.3,733.0 L1122.3,737.0 L1115.4,733.0 L1115.4,725.0 L1122.3,721.0ZM1143.1,725.0 L1143.1,733.0 L1136.2,737.0 L1129.3,733.0 L1129.3,725.0 L1136.2,721.0ZM969.9,737.0 L969.9,745.0 L963.0,749.0 L956.1,745.0 L956.1,737.0 L963.0,733.0ZM983.8,737.0 L983.8,745.0 L976.9,749.0 L969.9,745.0 L969.9,737.0 L976.9,733.0ZM997.6,737.0 L997.6,745.0 L990.7,749.0 L983.8,745.0 L983.8,737.0 L990.7,733.0ZM1011.5,737.0 L1011.5,745.0 L1004.6,749.0 L997.6,745.0 L997.6,737.0 L1004.6,733.0ZM1025.4,737.0 L1025.4,745.0 L1018.4,749.0 L1011.5,745.0 L1011.5,737.0 L1018.4,733.0ZM1039.2,737.0 L1039.2,745.0 L1032.3,749.0 L1025.4,745.0 L1025.4,737.0 L1032.3,733.0ZM1053.1,737.0 L1053.1,745.0 L1046.1,749.0 L1039.2,745.0 L1039.2,737.0 L1046.1,733.0ZM1066.9,737.0 L1066.9,745.0 L1060.0,749.0 L1053.1,745.0 L1053.1,737.0 L1060.0,733.0ZM1080.8,737.0 L1080.8,745.0 L1073.9,749.0 L1066.9,745.0 L1066.9,737.0 L1073.9,733.0ZM1094.6,737.0 L1094.6,745.0 L1087.7,749.0 L1080.8,745.0 L1080.8,737.0 L1087.7,733.0ZM1108.5,737.0 L1108.5,745.0 L1101.6,749.0 L1094.6,745.0 L1094.6,737.0 L1101.6,733.0ZM1122.3,737.0 L1122.3,745.0 L1115.4,749.0 L1108.5,745.0 L1108.5,737.0 L1115.4,733.0ZM1136.2,737.0 L1136.2,745.0 L1129.3,749.0 L1122.3,745.0 L1122.3,737.0 L1129.3,733.0ZM976.9,749.0 L976.9,757.0 L969.9,761.0 L963.0,757.0 L963.0,749.0 L969.9,745.0ZM990.7,749.0 L990.7,757.0 L983.8,761.0 L976.9,757.0 L976.9,749.0 L983.8,745.0ZM1004.6,749.0 L1004.6,757.0 L997.6,761.0 L990.7,757.0 L990.7,749.0 L997.6,745.0ZM1018.4,749.0 L1018.4,757.0 L1011.5,761.0 L1004.6,757.0 L1004.6,749.0 L1011.5,745.0ZM1032.3,749.0 L1032.3,757.0 L1025.4,761.0 L1018.4,757.0 L1018.4,749.0 L1025.4,745.0ZM1046.1,749.0 L1046.1,757.0 L1039.2,761.0 L1032.3,757.0 L1032.3,749.0 L1039.2,745.0ZM1060.0,749.0 L1060.0,757.0 L1053.1,761.0 L1046.1,757.0 L1046.1,749.0 L1053.1,745.0ZM1073.9,749.0 L1073.9,757.0 L1066.9,761.0 L1060.0,757.0 L1060.0,749.0 L1066.9,745.0ZM1087.7,749.0 L1087.7,757.0 L1080.8,761.0 L1073.9,757.0 L1073.9,749.0 L1080.8,745.0ZM1101.6,749.0 L1101.6,757.0 L1094.6,761.0 L1087.7,757.0 L1087.7,749.0 L1094.6,745.0ZM1115.4,749.0 L1115.4,757.0 L1108.5,761.0 L1101.6,757.0 L1101.6,749.0 L1108.5,745.0ZM1129.3,749.0 L1129.3,757.0 L1122.3,761.0 L1115.4,757.0 L1115.4,749.0 L1122.3,745.0ZM1143.1,749.0 L1143.1,757.0 L1136.2,761.0 L1129.3,757.0 L1129.3,749.0 L1136.2,745.0ZM969.9,761.0 L969.9,769.0 L963.0,773.0 L956.1,769.0 L956.1,761.0 L963.0,757.0ZM983.8,761.0 L983.8,769.0 L976.9,773.0 L969.9,769.0 L969.9,761.0 L976.9,757.0ZM997.6,761.0 L997.6,769.0 L990.7,773.0 L983.8,769.0 L983.8,761.0 L990.7,757.0ZM1011.5,761.0 L1011.5,769.0 L1004.6,773.0 L997.6,769.0 L997.6,761.0 L1004.6,757.0ZM1025.4,761.0 L1025.4,769.0 L1018.4,773.0 L1011.5,769.0 L1011.5,761.0 L1018.4,757.0ZM1039.2,761.0 L1039.2,769.0 L1032.3,773.0 L1025.4,769.0 L1025.4,761.0 L1032.3,757.0ZM1053.1,761.0 L1053.1,769.0 L1046.1,773.0 L1039.2,769.0 L1039.2,761.0 L1046.1,757.0ZM1066.9,761.0 L1066.9,769.0 L1060.0,773.0 L1053.1,769.0 L1053.1,761.0 L1060.0,757.0ZM1080.8,761.0 L1080.8,769.0 L1073.9,773.0 L1066.9,769.0 L1066.9,761.0 L1073.9,757.0ZM1094.6,761.0 L1094.6,769.0 L1087.7,773.0 L1080.8,769.0 L1080.8,761.0 L1087.7,757.0ZM1108.5,761.0 L1108.5,769.0 L1101.6,773.0 L1094.6,769.0 L1094.6,761.0 L1101.6,757.0ZM1122.3,761.0 L1122.3,769.0 L1115.4,773.0 L1108.5,769.0 L1108.5,761.0 L1115.4,757.0ZM1136.2,761.0 L1136.2,769.0 L1129.3,773.0 L1122.3,769.0 L1122.3,761.0 L1129.3,757.0Z" stroke="#c86a30" stroke-width="1.3" fill="none" opacity="0.7"/><path d="M973.8,571.5 L973.8,580.5 L966.0,585.0 L958.2,580.5 L958.2,571.5 L966.0,567.0ZM989.4,571.5 L989.4,580.5 L981.6,585.0 L973.8,580.5 L973.8,571.5 L981.6,567.0ZM1005.0,571.5 L1005.0,580.5 L997.2,585.0 L989.4,580.5 L989.4,571.5 L997.2,567.0ZM1020.6,571.5 L1020.6,580.5 L1012.8,585.0 L1005.0,580.5 L1005.0,571.5 L1012.8,567.0ZM1036.1,571.5 L1036.1,580.5 L1028.4,585.0 L1020.6,580.5 L1020.6,571.5 L1028.4,567.0ZM1051.7,571.5 L1051.7,580.5 L1043.9,585.0 L1036.1,580.5 L1036.1,571.5 L1043.9,567.0ZM1067.3,571.5 L1067.3,580.5 L1059.5,585.0 L1051.7,580.5 L1051.7,571.5 L1059.5,567.0ZM1082.9,571.5 L1082.9,580.5 L1075.1,585.0 L1067.3,580.5 L1067.3,571.5 L1075.1,567.0ZM1098.5,571.5 L1098.5,580.5 L1090.7,585.0 L1082.9,580.5 L1082.9,571.5 L1090.7,567.0ZM1114.1,571.5 L1114.1,580.5 L1106.3,585.0 L1098.5,580.5 L1098.5,571.5 L1106.3,567.0ZM1129.7,571.5 L1129.7,580.5 L1121.9,585.0 L1114.1,580.5 L1114.1,571.5 L1121.9,567.0ZM981.6,585.0 L981.6,594.0 L973.8,598.5 L966.0,594.0 L966.0,585.0 L973.8,580.5ZM997.2,585.0 L997.2,594.0 L989.4,598.5 L981.6,594.0 L981.6,585.0 L989.4,580.5ZM1012.8,585.0 L1012.8,594.0 L1005.0,598.5 L997.2,594.0 L997.2,585.0 L1005.0,580.5ZM1028.4,585.0 L1028.4,594.0 L1020.6,598.5 L1012.8,594.0 L1012.8,585.0 L1020.6,580.5ZM1043.9,585.0 L1043.9,594.0 L1036.1,598.5 L1028.4,594.0 L1028.4,585.0 L1036.1,580.5ZM1059.5,585.0 L1059.5,594.0 L1051.7,598.5 L1043.9,594.0 L1043.9,585.0 L1051.7,580.5ZM1075.1,585.0 L1075.1,594.0 L1067.3,598.5 L1059.5,594.0 L1059.5,585.0 L1067.3,580.5ZM1090.7,585.0 L1090.7,594.0 L1082.9,598.5 L1075.1,594.0 L1075.1,585.0 L1082.9,580.5ZM1106.3,585.0 L1106.3,594.0 L1098.5,598.5 L1090.7,594.0 L1090.7,585.0 L1098.5,580.5ZM1121.9,585.0 L1121.9,594.0 L1114.1,598.5 L1106.3,594.0 L1106.3,585.0 L1114.1,580.5ZM1137.5,585.0 L1137.5,594.0 L1129.7,598.5 L1121.9,594.0 L1121.9,585.0 L1129.7,580.5ZM973.8,598.5 L973.8,607.5 L966.0,612.0 L958.2,607.5 L958.2,598.5 L966.0,594.0ZM989.4,598.5 L989.4,607.5 L981.6,612.0 L973.8,607.5 L973.8,598.5 L981.6,594.0ZM1005.0,598.5 L1005.0,607.5 L997.2,612.0 L989.4,607.5 L989.4,598.5 L997.2,594.0ZM1020.6,598.5 L1020.6,607.5 L1012.8,612.0 L1005.0,607.5 L1005.0,598.5 L1012.8,594.0ZM1036.1,598.5 L1036.1,607.5 L1028.4,612.0 L1020.6,607.5 L1020.6,598.5 L1028.4,594.0ZM1051.7,598.5 L1051.7,607.5 L1043.9,612.0 L1036.1,607.5 L1036.1,598.5 L1043.9,594.0ZM1067.3,598.5 L1067.3,607.5 L1059.5,612.0 L1051.7,607.5 L1051.7,598.5 L1059.5,594.0ZM1082.9,598.5 L1082.9,607.5 L1075.1,612.0 L1067.3,607.5 L1067.3,598.5 L1075.1,594.0ZM1098.5,598.5 L1098.5,607.5 L1090.7,612.0 L1082.9,607.5 L1082.9,598.5 L1090.7,594.0ZM1114.1,598.5 L1114.1,607.5 L1106.3,612.0 L1098.5,607.5 L1098.5,598.5 L1106.3,594.0ZM1129.7,598.5 L1129.7,607.5 L1121.9,612.0 L1114.1,607.5 L1114.1,598.5 L1121.9,594.0ZM981.6,612.0 L981.6,621.0 L973.8,625.5 L966.0,621.0 L966.0,612.0 L973.8,607.5ZM997.2,612.0 L997.2,621.0 L989.4,625.5 L981.6,621.0 L981.6,612.0 L989.4,607.5ZM1012.8,612.0 L1012.8,621.0 L1005.0,625.5 L997.2,621.0 L997.2,612.0 L1005.0,607.5ZM1028.4,612.0 L1028.4,621.0 L1020.6,625.5 L1012.8,621.0 L1012.8,612.0 L1020.6,607.5ZM1043.9,612.0 L1043.9,621.0 L1036.1,625.5 L1028.4,621.0 L1028.4,612.0 L1036.1,607.5ZM1059.5,612.0 L1059.5,621.0 L1051.7,625.5 L1043.9,621.0 L1043.9,612.0 L1051.7,607.5ZM1075.1,612.0 L1075.1,621.0 L1067.3,625.5 L1059.5,621.0 L1059.5,612.0 L1067.3,607.5ZM1090.7,612.0 L1090.7,621.0 L1082.9,625.5 L1075.1,621.0 L1075.1,612.0 L1082.9,607.5ZM1106.3,612.0 L1106.3,621.0 L1098.5,625.5 L1090.7,621.0 L1090.7,612.0 L1098.5,607.5ZM1121.9,612.0 L1121.9,621.0 L1114.1,625.5 L1106.3,621.0 L1106.3,612.0 L1114.1,607.5ZM1137.5,612.0 L1137.5,621.0 L1129.7,625.5 L1121.9,621.0 L1121.9,612.0 L1129.7,607.5ZM973.8,625.5 L973.8,634.5 L966.0,639.0 L958.2,634.5 L958.2,625.5 L966.0,621.0ZM989.4,625.5 L989.4,634.5 L981.6,639.0 L973.8,634.5 L973.8,625.5 L981.6,621.0ZM1005.0,625.5 L1005.0,634.5 L997.2,639.0 L989.4,634.5 L989.4,625.5 L997.2,621.0ZM1020.6,625.5 L1020.6,634.5 L1012.8,639.0 L1005.0,634.5 L1005.0,625.5 L1012.8,621.0ZM1036.1,625.5 L1036.1,634.5 L1028.4,639.0 L1020.6,634.5 L1020.6,625.5 L1028.4,621.0ZM1051.7,625.5 L1051.7,634.5 L1043.9,639.0 L1036.1,634.5 L1036.1,625.5 L1043.9,621.0ZM1067.3,625.5 L1067.3,634.5 L1059.5,639.0 L1051.7,634.5 L1051.7,625.5 L1059.5,621.0ZM1082.9,625.5 L1082.9,634.5 L1075.1,639.0 L1067.3,634.5 L1067.3,625.5 L1075.1,621.0ZM1098.5,625.5 L1098.5,634.5 L1090.7,639.0 L1082.9,634.5 L1082.9,625.5 L1090.7,621.0ZM1114.1,625.5 L1114.1,634.5 L1106.3,639.0 L1098.5,634.5 L1098.5,625.5 L1106.3,621.0ZM1129.7,625.5 L1129.7,634.5 L1121.9,639.0 L1114.1,634.5 L1114.1,625.5 L1121.9,621.0ZM981.6,639.0 L981.6,648.0 L973.8,652.5 L966.0,648.0 L966.0,639.0 L973.8,634.5ZM997.2,639.0 L997.2,648.0 L989.4,652.5 L981.6,648.0 L981.6,639.0 L989.4,634.5ZM1012.8,639.0 L1012.8,648.0 L1005.0,652.5 L997.2,648.0 L997.2,639.0 L1005.0,634.5ZM1028.4,639.0 L1028.4,648.0 L1020.6,652.5 L1012.8,648.0 L1012.8,639.0 L1020.6,634.5ZM1043.9,639.0 L1043.9,648.0 L1036.1,652.5 L1028.4,648.0 L1028.4,639.0 L1036.1,634.5ZM1059.5,639.0 L1059.5,648.0 L1051.7,652.5 L1043.9,648.0 L1043.9,639.0 L1051.7,634.5ZM1075.1,639.0 L1075.1,648.0 L1067.3,652.5 L1059.5,648.0 L1059.5,639.0 L1067.3,634.5ZM1090.7,639.0 L1090.7,648.0 L1082.9,652.5 L1075.1,648.0 L1075.1,639.0 L1082.9,634.5ZM1106.3,639.0 L1106.3,648.0 L1098.5,652.5 L1090.7,648.0 L1090.7,639.0 L1098.5,634.5ZM1121.9,639.0 L1121.9,648.0 L1114.1,652.5 L1106.3,648.0 L1106.3,639.0 L1114.1,634.5ZM1137.5,639.0 L1137.5,648.0 L1129.7,652.5 L1121.9,648.0 L1121.9,639.0 L1129.7,634.5ZM973.8,652.5 L973.8,661.5 L966.0,666.0 L958.2,661.5 L958.2,652.5 L966.0,648.0ZM989.4,652.5 L989.4,661.5 L981.6,666.0 L973.8,661.5 L973.8,652.5 L981.6,648.0ZM1005.0,652.5 L1005.0,661.5 L997.2,666.0 L989.4,661.5 L989.4,652.5 L997.2,648.0ZM1020.6,652.5 L1020.6,661.5 L1012.8,666.0 L1005.0,661.5 L1005.0,652.5 L1012.8,648.0ZM1036.1,652.5 L1036.1,661.5 L1028.4,666.0 L1020.6,661.5 L1020.6,652.5 L1028.4,648.0ZM1051.7,652.5 L1051.7,661.5 L1043.9,666.0 L1036.1,661.5 L1036.1,652.5 L1043.9,648.0ZM1067.3,652.5 L1067.3,661.5 L1059.5,666.0 L1051.7,661.5 L1051.7,652.5 L1059.5,648.0ZM1082.9,652.5 L1082.9,661.5 L1075.1,666.0 L1067.3,661.5 L1067.3,652.5 L1075.1,648.0ZM1098.5,652.5 L1098.5,661.5 L1090.7,666.0 L1082.9,661.5 L1082.9,652.5 L1090.7,648.0ZM1114.1,652.5 L1114.1,661.5 L1106.3,666.0 L1098.5,661.5 L1098.5,652.5 L1106.3,648.0ZM1129.7,652.5 L1129.7,661.5 L1121.9,666.0 L1114.1,661.5 L1114.1,652.5 L1121.9,648.0ZM981.6,666.0 L981.6,675.0 L973.8,679.5 L966.0,675.0 L966.0,666.0 L973.8,661.5ZM997.2,666.0 L997.2,675.0 L989.4,679.5 L981.6,675.0 L981.6,666.0 L989.4,661.5ZM1012.8,666.0 L1012.8,675.0 L1005.0,679.5 L997.2,675.0 L997.2,666.0 L1005.0,661.5ZM1028.4,666.0 L1028.4,675.0 L1020.6,679.5 L1012.8,675.0 L1012.8,666.0 L1020.6,661.5ZM1043.9,666.0 L1043.9,675.0 L1036.1,679.5 L1028.4,675.0 L1028.4,666.0 L1036.1,661.5ZM1059.5,666.0 L1059.5,675.0 L1051.7,679.5 L1043.9,675.0 L1043.9,666.0 L1051.7,661.5ZM1075.1,666.0 L1075.1,675.0 L1067.3,679.5 L1059.5,675.0 L1059.5,666.0 L1067.3,661.5ZM1090.7,666.0 L1090.7,675.0 L1082.9,679.5 L1075.1,675.0 L1075.1,666.0 L1082.9,661.5ZM1106.3,666.0 L1106.3,675.0 L1098.5,679.5 L1090.7,675.0 L1090.7,666.0 L1098.5,661.5ZM1121.9,666.0 L1121.9,675.0 L1114.1,679.5 L1106.3,675.0 L1106.3,666.0 L1114.1,661.5ZM1137.5,666.0 L1137.5,675.0 L1129.7,679.5 L1121.9,675.0 L1121.9,666.0 L1129.7,661.5ZM973.8,679.5 L973.8,688.5 L966.0,693.0 L958.2,688.5 L958.2,679.5 L966.0,675.0ZM989.4,679.5 L989.4,688.5 L981.6,693.0 L973.8,688.5 L973.8,679.5 L981.6,675.0ZM1005.0,679.5 L1005.0,688.5 L997.2,693.0 L989.4,688.5 L989.4,679.5 L997.2,675.0ZM1020.6,679.5 L1020.6,688.5 L1012.8,693.0 L1005.0,688.5 L1005.0,679.5 L1012.8,675.0ZM1036.1,679.5 L1036.1,688.5 L1028.4,693.0 L1020.6,688.5 L1020.6,679.5 L1028.4,675.0ZM1051.7,679.5 L1051.7,688.5 L1043.9,693.0 L1036.1,688.5 L1036.1,679.5 L1043.9,675.0ZM1067.3,679.5 L1067.3,688.5 L1059.5,693.0 L1051.7,688.5 L1051.7,679.5 L1059.5,675.0ZM1082.9,679.5 L1082.9,688.5 L1075.1,693.0 L1067.3,688.5 L1067.3,679.5 L1075.1,675.0ZM1098.5,679.5 L1098.5,688.5 L1090.7,693.0 L1082.9,688.5 L1082.9,679.5 L1090.7,675.0ZM1114.1,679.5 L1114.1,688.5 L1106.3,693.0 L1098.5,688.5 L1098.5,679.5 L1106.3,675.0ZM1129.7,679.5 L1129.7,688.5 L1121.9,693.0 L1114.1,688.5 L1114.1,679.5 L1121.9,675.0ZM981.6,693.0 L981.6,702.0 L973.8,706.5 L966.0,702.0 L966.0,693.0 L973.8,688.5ZM997.2,693.0 L997.2,702.0 L989.4,706.5 L981.6,702.0 L981.6,693.0 L989.4,688.5ZM1012.8,693.0 L1012.8,702.0 L1005.0,706.5 L997.2,702.0 L997.2,693.0 L1005.0,688.5ZM1028.4,693.0 L1028.4,702.0 L1020.6,706.5 L1012.8,702.0 L1012.8,693.0 L1020.6,688.5ZM1043.9,693.0 L1043.9,702.0 L1036.1,706.5 L1028.4,702.0 L1028.4,693.0 L1036.1,688.5ZM1059.5,693.0 L1059.5,702.0 L1051.7,706.5 L1043.9,702.0 L1043.9,693.0 L1051.7,688.5ZM1075.1,693.0 L1075.1,702.0 L1067.3,706.5 L1059.5,702.0 L1059.5,693.0 L1067.3,688.5ZM1090.7,693.0 L1090.7,702.0 L1082.9,706.5 L1075.1,702.0 L1075.1,693.0 L1082.9,688.5ZM1106.3,693.0 L1106.3,702.0 L1098.5,706.5 L1090.7,702.0 L1090.7,693.0 L1098.5,688.5ZM1121.9,693.0 L1121.9,702.0 L1114.1,706.5 L1106.3,702.0 L1106.3,693.0 L1114.1,688.5ZM1137.5,693.0 L1137.5,702.0 L1129.7,706.5 L1121.9,702.0 L1121.9,693.0 L1129.7,688.5ZM973.8,706.5 L973.8,715.5 L966.0,720.0 L958.2,715.5 L958.2,706.5 L966.0,702.0ZM989.4,706.5 L989.4,715.5 L981.6,720.0 L973.8,715.5 L973.8,706.5 L981.6,702.0ZM1005.0,706.5 L1005.0,715.5 L997.2,720.0 L989.4,715.5 L989.4,706.5 L997.2,702.0ZM1020.6,706.5 L1020.6,715.5 L1012.8,720.0 L1005.0,715.5 L1005.0,706.5 L1012.8,702.0ZM1036.1,706.5 L1036.1,715.5 L1028.4,720.0 L1020.6,715.5 L1020.6,706.5 L1028.4,702.0ZM1051.7,706.5 L1051.7,715.5 L1043.9,720.0 L1036.1,715.5 L1036.1,706.5 L1043.9,702.0ZM1067.3,706.5 L1067.3,715.5 L1059.5,720.0 L1051.7,715.5 L1051.7,706.5 L1059.5,702.0ZM1082.9,706.5 L1082.9,715.5 L1075.1,720.0 L1067.3,715.5 L1067.3,706.5 L1075.1,702.0ZM1098.5,706.5 L1098.5,715.5 L1090.7,720.0 L1082.9,715.5 L1082.9,706.5 L1090.7,702.0ZM1114.1,706.5 L1114.1,715.5 L1106.3,720.0 L1098.5,715.5 L1098.5,706.5 L1106.3,702.0ZM1129.7,706.5 L1129.7,715.5 L1121.9,720.0 L1114.1,715.5 L1114.1,706.5 L1121.9,702.0ZM981.6,720.0 L981.6,729.0 L973.8,733.5 L966.0,729.0 L966.0,720.0 L973.8,715.5ZM997.2,720.0 L997.2,729.0 L989.4,733.5 L981.6,729.0 L981.6,720.0 L989.4,715.5ZM1012.8,720.0 L1012.8,729.0 L1005.0,733.5 L997.2,729.0 L997.2,720.0 L1005.0,715.5ZM1028.4,720.0 L1028.4,729.0 L1020.6,733.5 L1012.8,729.0 L1012.8,720.0 L1020.6,715.5ZM1043.9,720.0 L1043.9,729.0 L1036.1,733.5 L1028.4,729.0 L1028.4,720.0 L1036.1,715.5ZM1059.5,720.0 L1059.5,729.0 L1051.7,733.5 L1043.9,729.0 L1043.9,720.0 L1051.7,715.5ZM1075.1,720.0 L1075.1,729.0 L1067.3,733.5 L1059.5,729.0 L1059.5,720.0 L1067.3,715.5ZM1090.7,720.0 L1090.7,729.0 L1082.9,733.5 L1075.1,729.0 L1075.1,720.0 L1082.9,715.5ZM1106.3,720.0 L1106.3,729.0 L1098.5,733.5 L1090.7,729.0 L1090.7,720.0 L1098.5,715.5ZM1121.9,720.0 L1121.9,729.0 L1114.1,733.5 L1106.3,729.0 L1106.3,720.0 L1114.1,715.5ZM1137.5,720.0 L1137.5,729.0 L1129.7,733.5 L1121.9,729.0 L1121.9,720.0 L1129.7,715.5ZM973.8,733.5 L973.8,742.5 L966.0,747.0 L958.2,742.5 L958.2,733.5 L966.0,729.0ZM989.4,733.5 L989.4,742.5 L981.6,747.0 L973.8,742.5 L973.8,733.5 L981.6,729.0ZM1005.0,733.5 L1005.0,742.5 L997.2,747.0 L989.4,742.5 L989.4,733.5 L997.2,729.0ZM1020.6,733.5 L1020.6,742.5 L1012.8,747.0 L1005.0,742.5 L1005.0,733.5 L1012.8,729.0ZM1036.1,733.5 L1036.1,742.5 L1028.4,747.0 L1020.6,742.5 L1020.6,733.5 L1028.4,729.0ZM1051.7,733.5 L1051.7,742.5 L1043.9,747.0 L1036.1,742.5 L1036.1,733.5 L1043.9,729.0ZM1067.3,733.5 L1067.3,742.5 L1059.5,747.0 L1051.7,742.5 L1051.7,733.5 L1059.5,729.0ZM1082.9,733.5 L1082.9,742.5 L1075.1,747.0 L1067.3,742.5 L1067.3,733.5 L1075.1,729.0ZM1098.5,733.5 L1098.5,742.5 L1090.7,747.0 L1082.9,742.5 L1082.9,733.5 L1090.7,729.0ZM1114.1,733.5 L1114.1,742.5 L1106.3,747.0 L1098.5,742.5 L1098.5,733.5 L1106.3,729.0ZM1129.7,733.5 L1129.7,742.5 L1121.9,747.0 L1114.1,742.5 L1114.1,733.5 L1121.9,729.0ZM981.6,747.0 L981.6,756.0 L973.8,760.5 L966.0,756.0 L966.0,747.0 L973.8,742.5ZM997.2,747.0 L997.2,756.0 L989.4,760.5 L981.6,756.0 L981.6,747.0 L989.4,742.5ZM1012.8,747.0 L1012.8,756.0 L1005.0,760.5 L997.2,756.0 L997.2,747.0 L1005.0,742.5ZM1028.4,747.0 L1028.4,756.0 L1020.6,760.5 L1012.8,756.0 L1012.8,747.0 L1020.6,742.5ZM1043.9,747.0 L1043.9,756.0 L1036.1,760.5 L1028.4,756.0 L1028.4,747.0 L1036.1,742.5ZM1059.5,747.0 L1059.5,756.0 L1051.7,760.5 L1043.9,756.0 L1043.9,747.0 L1051.7,742.5ZM1075.1,747.0 L1075.1,756.0 L1067.3,760.5 L1059.5,756.0 L1059.5,747.0 L1067.3,742.5ZM1090.7,747.0 L1090.7,756.0 L1082.9,760.5 L1075.1,756.0 L1075.1,747.0 L1082.9,742.5ZM1106.3,747.0 L1106.3,756.0 L1098.5,760.5 L1090.7,756.0 L1090.7,747.0 L1098.5,742.5ZM1121.9,747.0 L1121.9,756.0 L1114.1,760.5 L1106.3,756.0 L1106.3,747.0 L1114.1,742.5ZM1137.5,747.0 L1137.5,756.0 L1129.7,760.5 L1121.9,756.0 L1121.9,747.0 L1129.7,742.5ZM973.8,760.5 L973.8,769.5 L966.0,774.0 L958.2,769.5 L958.2,760.5 L966.0,756.0ZM989.4,760.5 L989.4,769.5 L981.6,774.0 L973.8,769.5 L973.8,760.5 L981.6,756.0ZM1005.0,760.5 L1005.0,769.5 L997.2,774.0 L989.4,769.5 L989.4,760.5 L997.2,756.0ZM1020.6,760.5 L1020.6,769.5 L1012.8,774.0 L1005.0,769.5 L1005.0,760.5 L1012.8,756.0ZM1036.1,760.5 L1036.1,769.5 L1028.4,774.0 L1020.6,769.5 L1020.6,760.5 L1028.4,756.0ZM1051.7,760.5 L1051.7,769.5 L1043.9,774.0 L1036.1,769.5 L1036.1,760.5 L1043.9,756.0ZM1067.3,760.5 L1067.3,769.5 L1059.5,774.0 L1051.7,769.5 L1051.7,760.5 L1059.5,756.0ZM1082.9,760.5 L1082.9,769.5 L1075.1,774.0 L1067.3,769.5 L1067.3,760.5 L1075.1,756.0ZM1098.5,760.5 L1098.5,769.5 L1090.7,774.0 L1082.9,769.5 L1082.9,760.5 L1090.7,756.0ZM1114.1,760.5 L1114.1,769.5 L1106.3,774.0 L1098.5,769.5 L1098.5,760.5 L1106.3,756.0ZM1129.7,760.5 L1129.7,769.5 L1121.9,774.0 L1114.1,769.5 L1114.1,760.5 L1121.9,756.0Z" stroke="#2a9ab0" stroke-width="1.2" fill="none" opacity="0.6"/></g><g clip-path="url(#cnt)"><ellipse cx="1049" cy="664" rx="64" ry="81" transform="rotate(-12 1049 664)" fill="none" stroke="#2aa6b8" stroke-width="3.5" stroke-dasharray="7 4"/></g><polygon fill="#f86a12" points="1391.0,628.0 1396.4,634.7 1390.8,639.0 1396.7,640.9 1391.7,642.1 1384.1,644.7 1388.3,644.9 1387.7,647.2 1378.7,647.4 1382.6,653.1 1377.0,653.5 1364.9,652.5 1363.7,651.8 1361.1,654.3 1349.2,658.4 1341.9,659.8 1335.0,657.1 1323.8,656.8 1303.0,653.3 1280.7,654.8 1269.6,654.4 1259.6,659.5 1253.1,658.0 1247.5,657.1 1245.3,654.4 1234.3,651.6 1228.5,655.4 1229.2,650.7 1225.1,649.5 1216.1,648.1 1223.8,645.0 1213.8,647.6 1214.4,643.2 1212.3,641.8 1215.1,638.4 1210.5,634.9 1214.8,628.0 1213.0,620.5 1213.7,617.6 1215.2,616.5 1219.4,611.4 1213.1,611.3 1216.6,607.9 1217.1,604.6 1225.5,602.8 1223.8,603.9 1228.9,603.3 1238.2,604.1 1239.3,603.9 1251.2,598.4 1252.9,600.2 1260.3,603.1 1271.8,600.9 1281.9,601.7 1303.0,600.3 1325.4,595.2 1336.2,599.4 1342.6,596.0 1351.5,598.3 1354.5,602.8 1366.4,599.2 1372.2,601.6 1372.9,602.7 1381.1,605.7 1381.8,607.1 1387.5,610.0 1389.4,606.5 1384.3,610.3 1393.3,611.3 1394.1,616.0 1393.0,616.6 1399.6,622.0"/><g transform="translate(1320.5,694) rotate(-9.7)"><rect x="-179" y="-24" width="358" height="48" rx="24" fill="url(#nwg)"/><rect x="-165" y="8" width="336" height="10" rx="5" fill="url(#nwr)" opacity="0.95"/><path d="M-58,-23 Q-64,0 -58,23 M 50,-23 Q44,0 50,23" stroke="#444" stroke-width="2" fill="none"/></g><use href="#hep" x="741.5" y="568.0" width="56.0" height="56.0"/><use href="#hiv" x="798.0" y="505.5" width="57.0" height="57.0"/><use href="#sars" x="891.0" y="530.0" width="62.0" height="62.0"/><use href="#hpv" x="840.5" y="621.5" width="43.0" height="43.0"/><use href="#sars" x="986.0" y="481.0" width="56.0" height="56.0"/><use href="#hpv" x="1052.0" y="476.0" width="48.0" height="48.0"/><use href="#hiv" x="1107.0" y="487.0" width="52.0" height="52.0"/><use href="#hep" x="1153.0" y="450.0" width="50.0" height="50.0"/><use href="#sars" x="1209.0" y="536.0" width="38.0" height="38.0"/><use href="#hpv" x="1256.0" y="530.0" width="36.0" height="36.0"/><use href="#hiv" x="1294.5" y="540.5" width="39.0" height="39.0"/><use href="#hep" x="1346.0" y="547.0" width="40.0" height="40.0"/><use href="#hiv" x="1188.5" y="639.5" width="37.0" height="37.0"/><use href="#hep" x="1265.5" y="625.5" width="39.0" height="39.0"/><use href="#hpv" x="1350.5" y="615.5" width="37.0" height="37.0"/><use href="#sars" x="1440.5" y="583.5" width="39.0" height="39.0"/><path d="M743.7,614 L764.0,644.8 L764.0,690" fill="none" stroke="#dd1ea6" stroke-width="4.5"/><path d="M794.3,614 L774.0,644.8 L774.0,690" fill="none" stroke="#dd1ea6" stroke-width="4.5"/><path d="M734.9,616.8 L755.2,653.6" fill="none" stroke="#dd1ea6" stroke-width="4.5"/><path d="M803.1,616.8 L782.8,653.6" fill="none" stroke="#dd1ea6" stroke-width="4.5"/><path d="M801.9,550 L821.3,579.4 L821.3,625" fill="none" stroke="#dd1ea6" stroke-width="4.3"/><path d="M850.1,550 L830.7,579.4 L830.7,625" fill="none" stroke="#dd1ea6" stroke-width="4.3"/><path d="M793.5,552.6 L812.9,587.8" fill="none" stroke="#dd1ea6" stroke-width="4.3"/><path d="M858.5,552.6 L839.1,587.8" fill="none" stroke="#dd1ea6" stroke-width="4.3"/><path d="M889.9,561 L909.3,590.4 L909.3,641" fill="none" stroke="#dd1ea6" stroke-width="4.3"/><path d="M938.1,561 L918.7,590.4 L918.7,641" fill="none" stroke="#dd1ea6" stroke-width="4.3"/><path d="M881.5,563.6 L900.9,598.8" fill="none" stroke="#dd1ea6" stroke-width="4.3"/><path d="M946.5,563.6 L927.1,598.8" fill="none" stroke="#dd1ea6" stroke-width="4.3"/><path d="M836.7,652 L857.0,682.8 L857.0,730" fill="none" stroke="#dd1ea6" stroke-width="4.5"/><path d="M887.3,652 L867.0,682.8 L867.0,730" fill="none" stroke="#dd1ea6" stroke-width="4.5"/><path d="M827.9,654.8 L848.2,691.6" fill="none" stroke="#dd1ea6" stroke-width="4.5"/><path d="M896.1,654.8 L875.8,691.6" fill="none" stroke="#dd1ea6" stroke-width="4.5"/><path d="M991.9,527 L1011.3,556.4 L1011.3,598" fill="none" stroke="#dd1ea6" stroke-width="4.3"/><path d="M1040.2,527 L1020.7,556.4 L1020.7,598" fill="none" stroke="#dd1ea6" stroke-width="4.3"/><path d="M983.5,529.6 L1002.9,564.8" fill="none" stroke="#dd1ea6" stroke-width="4.3"/><path d="M1048.5,529.6 L1029.1,564.8" fill="none" stroke="#dd1ea6" stroke-width="4.3"/><path d="M1051.8,511 L1071.3,540.4 L1071.3,585" fill="none" stroke="#dd1ea6" stroke-width="4.3"/><path d="M1100.2,511 L1080.7,540.4 L1080.7,585" fill="none" stroke="#dd1ea6" stroke-width="4.3"/><path d="M1043.5,513.6 L1062.9,548.8" fill="none" stroke="#dd1ea6" stroke-width="4.3"/><path d="M1108.5,513.6 L1089.1,548.8" fill="none" stroke="#dd1ea6" stroke-width="4.3"/><path d="M1106.8,529 L1126.3,558.4 L1126.3,607" fill="none" stroke="#dd1ea6" stroke-width="4.3"/><path d="M1155.2,529 L1135.7,558.4 L1135.7,607" fill="none" stroke="#dd1ea6" stroke-width="4.3"/><path d="M1098.5,531.6 L1117.9,566.8" fill="none" stroke="#dd1ea6" stroke-width="4.3"/><path d="M1163.5,531.6 L1144.1,566.8" fill="none" stroke="#dd1ea6" stroke-width="4.3"/><path d="M1158.0,482 L1176.5,510.0 L1176.5,557" fill="none" stroke="#dd1ea6" stroke-width="4.1"/><path d="M1204.0,482 L1185.5,510.0 L1185.5,557" fill="none" stroke="#dd1ea6" stroke-width="4.1"/><path d="M1150.0,484.5 L1168.5,518.0" fill="none" stroke="#dd1ea6" stroke-width="4.1"/><path d="M1212.0,484.5 L1193.5,518.0" fill="none" stroke="#dd1ea6" stroke-width="4.1"/><path d="M1210.3,572 L1227.0,597.2 L1227.0,634" fill="none" stroke="#dd1ea6" stroke-width="3.7"/><path d="M1251.7,572 L1235.0,597.2 L1235.0,634" fill="none" stroke="#dd1ea6" stroke-width="3.7"/><path d="M1203.1,574.2 L1219.8,604.4" fill="none" stroke="#dd1ea6" stroke-width="3.7"/><path d="M1258.9,574.2 L1242.2,604.4" fill="none" stroke="#dd1ea6" stroke-width="3.7"/><path d="M1251.3,561 L1268.0,586.2 L1268.0,627" fill="none" stroke="#dd1ea6" stroke-width="3.7"/><path d="M1292.7,561 L1276.0,586.2 L1276.0,627" fill="none" stroke="#dd1ea6" stroke-width="3.7"/><path d="M1244.1,563.2 L1260.8,593.4" fill="none" stroke="#dd1ea6" stroke-width="3.7"/><path d="M1299.9,563.2 L1283.2,593.4" fill="none" stroke="#dd1ea6" stroke-width="3.7"/><path d="M1293.3,574 L1310.0,599.2 L1310.0,637" fill="none" stroke="#dd1ea6" stroke-width="3.7"/><path d="M1334.7,574 L1318.0,599.2 L1318.0,637" fill="none" stroke="#dd1ea6" stroke-width="3.7"/><path d="M1286.1,576.2 L1302.8,606.4" fill="none" stroke="#dd1ea6" stroke-width="3.7"/><path d="M1341.9,576.2 L1325.2,606.4" fill="none" stroke="#dd1ea6" stroke-width="3.7"/><path d="M1348.3,576 L1365.0,601.2 L1365.0,608" fill="none" stroke="#dd1ea6" stroke-width="3.7"/><path d="M1389.7,576 L1373.0,601.2 L1373.0,608" fill="none" stroke="#dd1ea6" stroke-width="3.7"/><path d="M1341.1,578.2 L1357.8,608.4" fill="none" stroke="#dd1ea6" stroke-width="3.7"/><path d="M1396.9,578.2 L1380.2,608.4" fill="none" stroke="#dd1ea6" stroke-width="3.7"/><path d="M1186.3,668 L1203.0,693.2 L1203.0,723" fill="none" stroke="#dd1ea6" stroke-width="3.7"/><path d="M1227.7,668 L1211.0,693.2 L1211.0,723" fill="none" stroke="#dd1ea6" stroke-width="3.7"/><path d="M1179.1,670.2 L1195.8,700.4" fill="none" stroke="#dd1ea6" stroke-width="3.7"/><path d="M1234.9,670.2 L1218.2,700.4" fill="none" stroke="#dd1ea6" stroke-width="3.7"/><path d="M1266.3,655 L1283.0,680.2 L1283.0,710" fill="none" stroke="#dd1ea6" stroke-width="3.7"/><path d="M1307.7,655 L1291.0,680.2 L1291.0,710" fill="none" stroke="#dd1ea6" stroke-width="3.7"/><path d="M1259.1,657.2 L1275.8,687.4" fill="none" stroke="#dd1ea6" stroke-width="3.7"/><path d="M1314.9,657.2 L1298.2,687.4" fill="none" stroke="#dd1ea6" stroke-width="3.7"/><path d="M1349.3,645 L1366.0,670.2 L1366.0,705" fill="none" stroke="#dd1ea6" stroke-width="3.7"/><path d="M1390.7,645 L1374.0,670.2 L1374.0,705" fill="none" stroke="#dd1ea6" stroke-width="3.7"/><path d="M1342.1,647.2 L1358.8,677.4" fill="none" stroke="#dd1ea6" stroke-width="3.7"/><path d="M1397.9,647.2 L1381.2,677.4" fill="none" stroke="#dd1ea6" stroke-width="3.7"/><path d="M1442.5,620 L1458.2,643.8 L1458.2,679" fill="none" stroke="#dd1ea6" stroke-width="3.5"/><path d="M1481.5,620 L1465.8,643.8 L1465.8,679" fill="none" stroke="#dd1ea6" stroke-width="3.5"/><path d="M1435.7,622.1 L1451.4,650.6" fill="none" stroke="#dd1ea6" stroke-width="3.5"/><path d="M1488.3,622.1 L1472.6,650.6" fill="none" stroke="#dd1ea6" stroke-width="3.5"/></svg></body></html>
